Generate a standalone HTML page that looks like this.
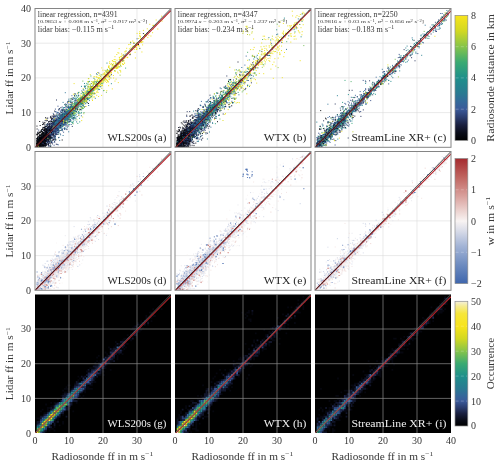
<!DOCTYPE html>
<html><head><meta charset="utf-8"><title>Lidar vs radiosonde wind speed</title>
<style>html,body{margin:0;padding:0;background:#fff}svg{display:block;will-change:transform}</style></head>
<body>
<svg width="500" height="465" viewBox="0 0 500 465" font-family="'Liberation Serif', 'DejaVu Serif', serif" fill="#363636">
<rect width="500" height="465" fill="#fff"/>
<defs>
<linearGradient id="g1" x1="0" y1="1" x2="0" y2="0"><stop offset="0" stop-color="#000000"/><stop offset="0.06" stop-color="#0a0c18"/><stop offset="0.125" stop-color="#1a2040"/><stop offset="0.19" stop-color="#2c3f72"/><stop offset="0.25" stop-color="#3b5a9a"/><stop offset="0.31" stop-color="#34699a"/><stop offset="0.375" stop-color="#2a7a92"/><stop offset="0.5" stop-color="#1f908b"/><stop offset="0.625" stop-color="#3aaa72"/><stop offset="0.75" stop-color="#86c44a"/><stop offset="0.875" stop-color="#d2d822"/><stop offset="1" stop-color="#f8e41c"/></linearGradient>
<linearGradient id="g2" x1="0" y1="1" x2="0" y2="0"><stop offset="0" stop-color="#3f66ad"/><stop offset="0.15" stop-color="#6e8cc0"/><stop offset="0.3" stop-color="#a3b4d6"/><stop offset="0.42" stop-color="#d8dbe8"/><stop offset="0.5" stop-color="#f8f3f2"/><stop offset="0.58" stop-color="#ecd3d0"/><stop offset="0.7" stop-color="#d9a09c"/><stop offset="0.85" stop-color="#c06560"/><stop offset="1" stop-color="#a52a2e"/></linearGradient>
<linearGradient id="g3" x1="0" y1="1" x2="0" y2="0"><stop offset="0" stop-color="#000000"/><stop offset="0.048" stop-color="#0a0c18"/><stop offset="0.1" stop-color="#1a2040"/><stop offset="0.152" stop-color="#2c3f72"/><stop offset="0.2" stop-color="#3b5a9a"/><stop offset="0.248" stop-color="#34699a"/><stop offset="0.3" stop-color="#2a7a92"/><stop offset="0.4" stop-color="#1f908b"/><stop offset="0.5" stop-color="#3aaa72"/><stop offset="0.6" stop-color="#86c44a"/><stop offset="0.7" stop-color="#d2d822"/><stop offset="0.8" stop-color="#f8e41c"/><stop offset="0.9" stop-color="#f6e63a"/><stop offset="0.96" stop-color="#f5eb90"/><stop offset="1" stop-color="#f4f0dc"/></linearGradient>
<clipPath id="c00"><rect x="35" y="8.5" width="136" height="138.8"/></clipPath>
<clipPath id="c01"><rect x="35" y="151.5" width="136" height="138.8"/></clipPath>
<clipPath id="c02"><rect x="35" y="294.3" width="136" height="138.8"/></clipPath>
<clipPath id="c10"><rect x="175" y="8.5" width="136" height="138.8"/></clipPath>
<clipPath id="c11"><rect x="175" y="151.5" width="136" height="138.8"/></clipPath>
<clipPath id="c12"><rect x="175" y="294.3" width="136" height="138.8"/></clipPath>
<clipPath id="c20"><rect x="315" y="8.5" width="136" height="138.8"/></clipPath>
<clipPath id="c21"><rect x="315" y="151.5" width="136" height="138.8"/></clipPath>
<clipPath id="c22"><rect x="315" y="294.3" width="136" height="138.8"/></clipPath>
</defs>
<g clip-path="url(#c00)">
<rect x="35" y="8.5" width="136" height="138.8" fill="#fff"/>
<path d="M69.00 8.50V147.30M35.00 112.60H171.00M103.00 8.50V147.30M35.00 77.90H171.00M137.00 8.50V147.30M35.00 43.20H171.00" stroke="#dcdcdc" stroke-width="0.6" fill="none"/>
<path d="M39 146.1h0m7.3-10.3h0m6-12.3h0m0.4 11.6h0m1.6-7.6h0m1.4 7.8h0m0.5-8.5h0m0.5-5.5h0m1.2 3.9h0m1 2h0m0.5-7.2h0m0.4 3.6h0m0.2 2.1h0m0.6-3.4h0m0.2 4.5h0m0.3-4.2h0m0.2-5.6h0m0.1 7.6h0m0.2-8.4h0m0.2-2.1h0m0.3 5h0m0.1 3.9h0m0.2-3.3h0m0.4-0.2h0m1.3-2.4h0m0 4.9h0m0.1-7.1h0m0-7.3h0m0.1 14.3h0m0.2-5.7h0m0.1-11.6h0m0.2 12.7h0m0.7 5.6h0m0.3-5.3h0m0.6-0.4h0m0.4-0.7h0m0.1 0.2h0m0.1-4.6h0m0 1.7h0m0.1 5.5h0m0-6.6h0m0.4 2.5h0m0 3.3h0m0.4-6.4h0m0.2 4.6h0m0.1 4.1h0m0.1-7.6h0m1.2 2.6h0m0.2-7.6h0m0.4 1.7h0m0 1.1h0m0.1-1.8h0m0.1 10.3h0m0-2.2h0m0.2-6.8h0m0.3-4.4h0m0.2 3.5h0m0.3 3.2h0m0.7-8.1h0m0 3.6h0m0.3 0.6h0m0.4-5.4h0m0.9 5.3h0m0.3 9.5h0m0.9-11.2h0m0.9 4.7h0m0.3-9.3h0m0.5 5.9h0m0.4-11.5h0m0.3 8.6h0m0.1 1.4h0m0.9-6.6h0m0.5-0.4h0m2.4-1.3h0m0.1 9.1h0m0.4 2.2h0m1.7-6.3h0m0-14.3h0m1.1 12h0m0.3-2.4h0m0.4 1.2h0m0.4-0.2h0m0.2 2h0m0-5.1h0m0.1 0.8h0m0.6 3.8h0m0.1-8.3h0m1.2 6.2h0m0.8-5.1h0m1.4-4.2h0m0.9 1h0" stroke="#278090" stroke-width="0.95" stroke-linecap="square" fill="none"/>
<path d="M36.7 146.1h0m4.4-6.8h0m19.2-15.9h0m1.8 1h0m0.4-5.9h0m3-5.9h0m0.5 2.3h0m0.7-3.9h0m0.8 10.6h0m0.3-7.2h0m0.1 3.6h0m0.5-3.6h0m0.2-2.2h0m2.4-1.7h0m0-2.8h0m0.6 6.6h0m1.7-5h0m0.5 8.1h0m2.6-13.2h0m0.1 0.6h0m0.7 4.8h0m1.9-10.9h0m1 3h0m0.8-4.9h0m1 6.4h0m9.3-14.3h0m0.3 7.6h0m0.2-7.9h0m1.7-5.6h0m1.2 4.1h0m0.3-0.1h0m0.5-2.8h0m0.7 0.5h0m1.1-10.1h0m4 0.1h0m3.3 5.1h0m2.9-10.4h0m1 6h0m1.8-6.2h0" stroke="#4db068" stroke-width="0.95" stroke-linecap="square" fill="none"/>
<path d="M52.5 125.4h0m1.1 3.8h0m0.2-5h0m0.4 5.2h0m3.8 1.3h0m0.1-7.6h0m0.2-0.2h0m0.4 0.9h0m0.2-1.8h0m0.2 15.3h0m0.9-20.5h0m0.9 4.2h0m0.1-0.8h0m1 3h0m0.5-11.9h0m0.6-3h0m0.4-0.5h0m0.1 14.1h0m0.3 0.1h0m0.3-6.8h0m1.1-1h0m1.1-2.1h0m0.2-2.7h0m0.4 12.8h0m0.3-8.2h0m0 13.3h0m0.5-11.4h0m0.2-4.4h0m0.2-0.3h0m0.3-0.2h0m0.2 2.6h0m0.1-1.6h0m0 3.9h0m0-5.6h0m0.2-2.7h0m0.2 4.3h0m1.3 9.7h0m0.8-8.4h0m0.1-0.4h0m0.1-1.5h0m0.9-2.7h0m0.1 4.6h0m0.3 9.4h0m0.1-19h0m0.7 7.7h0m0.8 6h0m0.1-14.4h0m0.3 2.2h0m0.1 0h0m0 1.3h0m0.8 4.9h0m0-13.2h0m0.1 13.1h0m0-2.9h0m0.2-2.4h0m0.6-10.3h0m0.4 10h0m1.2-3.2h0m0.7 0.2h0m0.4-0.3h0m0.4-3.3h0m0.6 4.7h0m0.6 0.1h0m0.1 9.5h0m0.3-13h0m0.2-13.9h0m0.1 15.4h0m0.3-1.6h0m0.8-0.6h0m0.2-3.5h0m1-3.5h0m0.3 5.8h0m0 0h0m0.4-11.5h0m1.4 9.2h0m0.9-4.2h0m0.3 5.9h0m0-7.2h0m0.2 8.3h0m0.5-7.2h0m0.1 7.2h0m2-6.4h0m0.6-6.6h0m1.4 8.1h0m0.2-0.6h0m0.9-5.8h0m1.6 6.2h0m6.1-17.6h0" stroke="#228a8d" stroke-width="0.95" stroke-linecap="square" fill="none"/>
<path d="M39.3 142.5h0m3.2-9.9h0m1.2 13h0m6.7-13.3h0m0.4-6.6h0m10.5-9.2h0m0.6 3.4h0m2.5-2h0m3.9 0.9h0m0.9-8.5h0m1.8 6.7h0m0.6-18.4h0m0.2 16.7h0m2.7-11h0m0.5 2h0m1.4-0.1h0m0.3 1.6h0m0.2 12h0m0.9-12.5h0m0.8-2.7h0m0.1-1.7h0m1.6 0.6h0m0.2-3.2h0m0.5 1.8h0m0.6 1.1h0m1 5.5h0m1.6-11.4h0m3.6-8.6h0m1.8 0.6h0m1.5-0.6h0m2.4-6.7h0m1.4-2.5h0m1.2 4.1h0m2.2 1.8h0m3.3-4.6h0m7.6-9.6h0m3.3-6.7h0m3.5-1.7h0m9.4-6.8h0m10.9-12.9h0m4.9-1h0" stroke="#99c940" stroke-width="0.95" stroke-linecap="square" fill="none"/>
<path d="M36.8 140.7h0m0.1 2.7h0m0.3-2.8h0m0.1 1.5h0m0.1 1.5h0m0-0.7h0m0.6-2.2h0m0 2h0m0.6-3.4h0m0.1 6h0m0.2-0.8h0m0-6.2h0m0.1 5.4h0m0.1 0.6h0m0.6-9.5h0m0.3 8.6h0m0.3-4.9h0m0.1-0.9h0m0 0.6h0m0 3.4h0m0.1 2.5h0m0.1 1.4h0m0.3-0.8h0m0.2-2.9h0m0.1-3.2h0m0 6.6h0m0-5.7h0m0 2.3h0m0.1 0.4h0m0.1-4.6h0m0.2 0.7h0m0.1 4h0m0 0.2h0m0.3-7.6h0m0 4.2h0m0.1-1.7h0m0 4.8h0m0.1-3.5h0m0.1 4.2h0m0-2.6h0m0-2.1h0m0.1-0.6h0m0 5.8h0m0.2-2.5h0m0.1 5.4h0m0-7.4h0m0-2.9h0m0.1 4.6h0m0-4.4h0m0.1-14h0m0 16.3h0m0.2-0.1h0m0-2.1h0m0 5.2h0m0-3.8h0m0.1-0.9h0m0-2.4h0m0.1-10.2h0m0 15.8h0m0-2h0m0.1 2h0m0.1 0.6h0m0-3h0m0-2.3h0m0.2-4.6h0m0 6.1h0m0.1 3.5h0m0.1-4.3h0m0.2-13.1h0m0 15.9h0m0-2.4h0m0 2.4h0m0.1 2.4h0m0 1.9h0m0.1-3.4h0m0.1-6.4h0m0 4h0m0-0.6h0m0-9.4h0m0.1 15.9h0m0.1-8.5h0m0 7.1h0m0.1-3.6h0m0 2.8h0m0.1-4.8h0m0.1 4.2h0m0 0.7h0m0-8.3h0m0.1 7.2h0m0 3.6h0m0-14.1h0m0-4.3h0m0 9.9h0m0 0.1h0m0.1 1.5h0m0 5.6h0m0.1-8h0m0.1 0.9h0m0.1 1.4h0m0-2.8h0m0.1-0.3h0m0 7.3h0m0 1.5h0m0.1-9h0m0 7.1h0m0-0.6h0m0 0.7h0m0.2-14.1h0m0 11.9h0m0 6.8h0m0.1-12.4h0m0.1 4.8h0m0.1 8h0m0-13.9h0m0.1 3.4h0m0 3.5h0m0.1-3.6h0m0 5.6h0m0.1-10.6h0m0 8.9h0m0.1-3.7h0m0-0.8h0m0 2.2h0m0.1-4.4h0m0 5.3h0m0-3h0m0.1-3.9h0m0-0.5h0m0 3.3h0m0.1 3.1h0m0 0.8h0m0-6.6h0m0-0.8h0m0.1 8.2h0m0 0.6h0m0.1-4.5h0m0.1 0.3h0m0 1.5h0m0-1.2h0m0.1-0.4h0m0-3.8h0m0-0.1h0m0.1 7.6h0m0-7.7h0m0.1-6.3h0m0 9.5h0m0.1 8.5h0m0-6h0m0.1 3.4h0m0-6.3h0m0-5.3h0m0-4h0m0 17.8h0m0-1h0m0.1-5.3h0m0-1.9h0m0 2.6h0m0.1-0.3h0m0 4.5h0m0-6.8h0m0-1.7h0m0.2 3.8h0m0-4.6h0m0 3.5h0m0.1 1.9h0m0 8.6h0m0-11h0m0 5.6h0m0.1-3.9h0m0-7.2h0m0.1 0.8h0m0.1 14.5h0m0-5h0m0.1 5.1h0m0.1-7.3h0m0-1.3h0m0 0.4h0m0.1 1.1h0m0-6.8h0m0-2.6h0m0.1 3.4h0m0 0.3h0m0.1 7.3h0m0-6.7h0m0-4.9h0m0.1-3.3h0m0.1 6.8h0m0-4h0m0.2 6.8h0m0 3.7h0m0-3.1h0m0.2-7.3h0m0.1 10.5h0m0-0.8h0m0-1.5h0m0.1 7.6h0m0-7.7h0m0.2 0h0m0 0.6h0m0-0.3h0m0-3.2h0m0-2.4h0m0.1 3.5h0m0.1 1.6h0m0.1-10.3h0m0.1 21.1h0m0-6.8h0m0-4.1h0m0.1-2.8h0m0.1 6.9h0m0-0.4h0m0-7.1h0m0.1 9.6h0m0-9.1h0m0 11.9h0m0.1-11.7h0m0-2h0m0.1-2.2h0m0.1 5.9h0m0-6.2h0m0 14.9h0m0-10.6h0m0 1.7h0m0-4.7h0m0 2.5h0m0.1 3.2h0m0-5.3h0m0.2-11h0m0.1 8.9h0m0 0.2h0m0 3.9h0m0-1.1h0m0.1 3.2h0m0.1-1.9h0m0-9.3h0m0 13.1h0m0-3.3h0m0.1 2.9h0m0-10.8h0m0 19.4h0m0.1-19.3h0m0.1 17.7h0m0.1-13.3h0m0 0.7h0m0 3.3h0m0.3 5.5h0m0 2.7h0m0-7.6h0m0.2 2.6h0m0.1-1h0m0.1-7.5h0m0 3.2h0m0.1 4.5h0m0.1-5.7h0m0 2.6h0m0.1-5.2h0m0.2-4.6h0m0 3.6h0m0.1 2.9h0m0 11.5h0m0.1-17.3h0m0 1.8h0m0.1 3.8h0m0 0.1h0m0 1.7h0m0.2-3.2h0m0 0.9h0m0-6.5h0m0 5.8h0m0-1.1h0m0 9h0m0.1-8.8h0m0.1 6.2h0m0-17.3h0m0.1 3.3h0m0.2 8.1h0m0-0.6h0m0.2-0.6h0m0 2h0m0-3h0m0 0.3h0m0.3 0h0m0.1-7.3h0m0 9.7h0m0-3.5h0m0.2 5.9h0m0-5.5h0m0 3.9h0m0.1 4.5h0m0.1-3.4h0m0.1 2.9h0m0 5.3h0m0.1-9.1h0m0.5-2.4h0m0.1 2h0m0.1 4.4h0m0-3h0m0.1-1.9h0m0.2-3.6h0m0.1 6h0m0.3-1.5h0m0.2-2.7h0m0-2.6h0m0.2 2.9h0m0.2-3.5h0m0.1 3.6h0m0.7-4h0m0 3h0m0.1-1.1h0m0.1-0.7h0m0.1 2.8h0m0.2-0.2h0m0 0.3h0m0.4-15.4h0m0 12.8h0m0.1 1.8h0m0.4-9.3h0m0.1 3.5h0m0.2 4.8h0m0-10h0m0 8.5h0m0.3 1.3h0m0.8-8.1h0m0.4 5.6h0m0.1 0.8h0m0.1-1.3h0m0.1 0.9h0m0.1-1.8h0m0.3-2.8h0m0 2.3h0m0.2 5.1h0m0.1-3.9h0m0.3-9.6h0m0.6-0.4h0m0.6 11.3h0m0-3.8h0m0.3-2.4h0m0.4 3h0m0.7-4.2h0m0.2-9.8h0m0.5 8h0m1.2 2.1h0m0.2 1.4h0m0-1.7h0m2.4 1.7h0m2.7-16.3h0m0 11.6h0m2.4-2.3h0m0.6-7.7h0m6.1-1h0m9.5-12.5h0" stroke="#12162d" stroke-width="0.95" stroke-linecap="square" fill="none"/>
<path d="M41.7 137.9h0m0.6-5.7h0m3.8-12.8h0m0.8 15h0m13.5-17.8h0m3.2 9.4h0m1.2-4.1h0m0.1-10.4h0m3 4.4h0m0.7-1.6h0m0.7 1.4h0m1.3-6h0m0.5-2.6h0m2.3-12.9h0m1.4 14.6h0m0.6-4.3h0m0.8-0.2h0m1.2 2.3h0m0.1-0.7h0m0.1-12.7h0m0.3 10.3h0m0.1 5.9h0m0.2-4.8h0m0.2-8.8h0m0.2 8.2h0m0.5-2.6h0m0.3 3.3h0m0.4-5.5h0m0.1-1h0m0.9 5.1h0m0.2 2.8h0m0.5-8h0m0.2 22.5h0m0.7-28.8h0m0.3 0.4h0m0.4 15.4h0m0.2-18.9h0m0.1 5.2h0m0.1 0.1h0m0.1 3.3h0m0.4 0.6h0m0.1 3.4h0m0.5-5.3h0m0.7-4.9h0m0.6 1.5h0m0.5 0.5h0m0.8-0.5h0m0.3 6h0m0.1-6.3h0m0.2 4.9h0m0.3-14.3h0m0.3 7.4h0m0.4-3.2h0m0-8.5h0m0.2 11h0m0 1h0m1-1h0m0.1 4.6h0m0.1-7.3h0m0.1 2.9h0m0-15.1h0m0.1 10.3h0m0.1 12.4h0m0-2.4h0m0.4 0h0m0.2-3.2h0m0.2 2.2h0m0.3-12.4h0m0.4 6h0m0.5 12.9h0m0.2-17.7h0m0 7.3h0m0.2-3h0m0 3.3h0m0.2-1.9h0m0.2-1.5h0m0.1 6.8h0m0.1-11.7h0m0.2 1.3h0m0.2 10.2h0m0 3.5h0m0.3-9.1h0m1.1 1.1h0m0.1-0.3h0m0.2 4.5h0m0.6-6.4h0m0.1-1.8h0m0.2-0.9h0m0.2 11.1h0m0.2-18.2h0m0 15.2h0m0.2-11.6h0m0.1 7.3h0m0.2 2.1h0m0-5.9h0m0.3-2.8h0m0 6h0m0.3-6.1h0m0.3 2.3h0m0 3.1h0m0.3-8.8h0m0 18.6h0m0.6-19.1h0m0.3 5.4h0m0-2.4h0m0.1 1.3h0m0.1-7.8h0m0 7h0m0.7 2.7h0m0.1-7.2h0m0.1 5.3h0m0.1-3.4h0m0.1 6h0m0.4 1.2h0m0-5.6h0m0.4 15.5h0m0-14.9h0m0.4-0.4h0m0.1 0.5h0m0 5.2h0m0.2-4.2h0m0.1 4h0m1.1-8.6h0m0.3 5.1h0m0-0.9h0m0.1-7h0m0.1-0.8h0m0.2 17h0m0.1-15.5h0m0.2 3.6h0m0.1 1.7h0m0.2-7.8h0m0.1-2.1h0m0.3 9.1h0m0.1-2.2h0m0 1.4h0m0.3-2h0m0-0.8h0m0-0.7h0m0.2-3.7h0m0.4 8.5h0m0.3-8.6h0m0.2 5.1h0m0 6.1h0m0-10.1h0m0.4 4.2h0m0-1.5h0m0.1-1.2h0m0.3 1.3h0m0-2.3h0m0.1 0h0m0.1 8.7h0m0.1-4.4h0m0.3-6h0m0.1 1h0m0.3-5.2h0m0 14.9h0m0.1-4.9h0m0.1-4.8h0m0.1-5.6h0m0.2 0.5h0m0-1.4h0m0.1 7.2h0m0.6-0.1h0m0.4 2.2h0m0-1.9h0m0.1 2.2h0m0.6-11h0m0 6.5h0m0-2.4h0m0.8-4.7h0m0.2 6.8h0m0.2-4.5h0m0.2 3.2h0m0.2-0.3h0m0.4 0.6h0m0.1-3.7h0m0.1-0.8h0m0.4 2.5h0m0.2 10.5h0m0-14.2h0m1.4-7.1h0m0.1 5.1h0m0 4h0m0.1 1.5h0m0.6 0.5h0m0.2-0.9h0m0 1.5h0m0.5-4.2h0m0.2 3.8h0m0.3-1.3h0m0-6.5h0m0.4 5.8h0m0.2 6.1h0m0.1-8.7h0m0 4.9h0m0.2-0.6h0m0-2.5h0m0.3 7.9h0m0.1 9.5h0m0.5-29.5h0m0.3-4.5h0m0.2 14h0m0-3.1h0m0.4-1.6h0m0.5 1.9h0m0.5 3h0m0.1-3.3h0m0.2-3h0m0.3 9.8h0m0.3-12.4h0m0.5 1.8h0m0.2 3.8h0m0.2 4.4h0m0-2.8h0m0.3-1.4h0m0.5-3.9h0m0 5.1h0m0.8-0.1h0m0.5 2.3h0m0.1-6.4h0m2.8 0.9h0m2.2-2.7h0m0.6-1.2h0m2.1-7.4h0m0.2 3.3h0m1.1-3.7h0m0.1-3.1h0m1.5 4.5h0m0.7-2.2h0m0.3-0.6h0m0.3 5h0m0-2.4h0m0.4 1.9h0m0.1-15.6h0m0 10.1h0m2.5-9.8h0m0.2 14.4h0m0.6-11.9h0m0.4 6.1h0m0.5 0.2h0m0.3-3.8h0m0.1 2.4h0m0.2 10.9h0m0.3-10.1h0m0.4 3h0m1.1-11.3h0m0.9 1.2h0m0.5 0.9h0m1.3 0h0m1.4 1.7h0m1.3-7h0m0.7-6.1h0m3.1 1.1h0m0.6 0h0m2.2-0.6h0m3.1-3h0m2.8-5.6h0" stroke="#eee11e" stroke-width="0.95" stroke-linecap="square" fill="none"/>
<path d="M37.8 142h0m8.1-5.5h0m0.6 1.9h0m0.1-3.4h0m0.3 3.2h0m0.8-2.5h0m0.7 0.2h0m0.7 6.9h0m0.3-7h0m0.2-4.9h0m0.1 3.8h0m0.1-0.1h0m0.4-4h0m0.7 1.1h0m1.6-0.3h0m0.1-4.1h0m0.1-2.3h0m0.1 17.6h0m0.1-4.3h0m0.1-13.9h0m0.3-10.8h0m0 15.5h0m0.4-2h0m0.5 0.3h0m0.2 1.8h0m0.3-1.6h0m0-6.8h0m0.2 6.7h0m0.3-5.9h0m0.1 15.8h0m0-10h0m0.6-7.9h0m0.6 14.4h0m0.1-9.8h0m0.1 5.8h0m0.3-3h0m0.1-9.4h0m0.2 7.4h0m0.3-8.4h0m0 9.3h0m0.2 2.4h0m0.1-2.7h0m0 1.7h0m0.2-14.3h0m0.1 31.9h0m0-20.3h0m0.6 5.7h0m0-8.9h0m0.1 11.6h0m0-17h0m0.2 10.7h0m0-7.1h0m0.4 3.6h0m0.1 4.6h0m0-6.9h0m0 4.3h0m0.1-3.6h0m0 6h0m0.1-1.1h0m0.1-2h0m0-2.3h0m0.1-0.7h0m0.1 5.4h0m0 0.8h0m0.2-5.6h0m0.5 0.4h0m0.1-0.8h0m0.2-6.1h0m0 8.5h0m0.1-3.2h0m0.1 4.4h0m0.1-8h0m0 2.3h0m0.1 0.8h0m0.1-2.5h0m0-6.8h0m0.1 7.8h0m0 0.9h0m0.2-10.4h0m0.2 12.8h0m0.2 7.1h0m0.1-6.2h0m0.1 3.6h0m0-4.4h0m0.3 4.3h0m0.1-4.4h0m0.2-5.7h0m0 7.9h0m0.1-7.5h0m0.3 2.3h0m0.2-9.2h0m0.1 9.4h0m0.2-5.6h0m0.1 1.2h0m0.2 4.2h0m0.5-2h0m0-1.4h0m0.4 9.3h0m0.2-6.2h0m0.1-4.1h0m0.1-2.3h0m0 11.9h0m0.1-6.7h0m0.4-6.8h0m0.1 9.7h0m0.2-1.5h0m0.1 4.1h0m0.1-11.6h0m0 0h0m0.1 4.2h0m0.4 7h0m0.1-5.8h0m0.4-5.1h0m0.1 2.9h0m0-0.8h0m0.1-1.3h0m0-5.3h0m0.5 9.2h0m0.1 0.7h0m0.9-3.9h0m0.5-1h0m0.4 0.6h0m0.2 2.4h0m0.4-4.9h0m0.3 4.9h0m0-8.9h0m0 8.8h0m0.1 9.3h0m0.1-18.6h0m0.6-10.2h0m0 13.9h0m0.3 2.2h0m0.2-5h0m0.7 0.6h0m0.8 0.2h0m0.1 3.4h0m1.8 7.3h0m1.5-15.1h0m0.3 5.5h0m1.3-9.1h0m0.2 14.1h0m0.1-9.2h0m1-1h0m0.6 5.9h0m0.9-11.1h0m0.5 2.5h0m0.1-1.1h0m0.7-2.4h0m0.9-1h0m1.7-0.1h0" stroke="#37629a" stroke-width="0.95" stroke-linecap="square" fill="none"/>
<path d="M38.7 130.1h0m2.8 6h0m0.9-5h0m2.8 6.9h0m1.4-9.5h0m0.1 15.3h0m0.4-8.9h0m0.2 1.4h0m1.3 0.4h0m0.3 4.5h0m0.9-6.4h0m0 0.1h0m0.2 2.2h0m0.1-10.5h0m0.3 4.3h0m0.1 2.8h0m0.3 1.9h0m0.2-1.2h0m0.1 3.6h0m0.3-7.1h0m0.2 3.3h0m0-8.7h0m0 16.2h0m0.1-11.4h0m0 10.8h0m0.1-9.9h0m0.1 6.9h0m0.4-9.5h0m0.1-1.3h0m0 0.3h0m0.2 0.1h0m0-0.7h0m0.2-0.1h0m0 2.9h0m0-3.4h0m0 3.6h0m0.1 7.6h0m0-6.5h0m0.1-5.7h0m0 3.6h0m0.1-4.4h0m0 1.8h0m0.1-0.3h0m0 9h0m0.1-14.7h0m0 2.7h0m0.2 1.9h0m0.2 2.9h0m0 3h0m0.1-14.4h0m0 12h0m0.1 0.9h0m0.1-1.9h0m0.1-2.2h0m0 19.9h0m0.3-19.3h0m0.1 3.6h0m0 1.1h0m0-5.7h0m0.2 0.5h0m0.1 2.3h0m0.1-8.8h0m0.1 11.8h0m0.1 1.6h0m0.2-1h0m0-5.9h0m0.1-2.5h0m0.1 2.2h0m0.1 1.4h0m0.1 1.2h0m0.2 3.6h0m0.1-16.2h0m0 5.2h0m0 7h0m0.1 0.1h0m0.1-3.4h0m0.1 4.3h0m0.1-1.1h0m0.1-3.9h0m0.1 9.6h0m0-6.2h0m0.1-7.2h0m0 3.8h0m0 2.1h0m0-12.3h0m0.1 11.4h0m0.1 0.8h0m0.1 2.8h0m0.1 1.3h0m0-0.8h0m0.2-2.3h0m0.2 3.9h0m0.1-4.8h0m0.1 1.6h0m0.1-4.8h0m0 5.9h0m0.2-2.8h0m0-19.1h0m0.4 20.3h0m0.2-2.8h0m0-4.5h0m0.1 10.8h0m0-9.8h0m0.1 0h0m0 1.1h0m0.1 4.3h0m0.1-2.5h0m0 2.7h0m0.1-4.9h0m0.1 0.4h0m0.1 3.3h0m0-0.3h0m0.1-3.5h0m0 0.2h0m0.1 5.7h0m0 0.6h0m0.1-5.4h0m0.3-0.6h0m0.1-5.1h0m0 2.4h0m0.5-1.9h0m0 4.1h0m0 4.5h0m0.2-3.2h0m0.1 4.8h0m0-5h0m0.1 1.6h0m0-5.3h0m0.1-5.7h0m0.2 8.8h0m0.1-1.8h0m0.2-2h0m0 8.4h0m0.1-0.9h0m0-4.4h0m0-1.6h0m0.1 1.8h0m0 3.3h0m0.1-4.9h0m0.1 5.8h0m0-4.8h0m0.3 2.8h0m0-7.6h0m0.1-2.7h0m0 7.1h0m0.9-3.7h0m0 1h0m0-3.1h0m0.3 6.1h0m0 1h0m0.1-6.5h0m0 17.6h0m0.6-17.3h0m0.1 6.6h0m0-6.2h0m0-1.1h0m0.1 6.2h0m0.1 3.7h0m0.1-5.6h0m0.6-4.7h0m0.1-2.5h0m0.4 7h0m0.1-2.2h0m0.1-9.1h0m0 2.1h0m0.1 10.4h0m0.6 5.3h0m0.1-8h0m0.2-2.5h0m0 1.3h0m0.4 3.4h0m0.1-0.6h0m0.2-16.3h0m0.3 14.8h0m0.2-9.3h0m0.1 5.4h0m0-5.7h0m0.1 6h0m0.1 8.5h0m0.2-3.1h0m0 7.3h0m0.1-7.9h0m0.1-14h0m0 7.1h0m0.6-4.1h0m0.5 3.1h0m0.4 0.5h0m0.1-0.6h0m0 4.5h0m0.3-6h0m0.2 8h0m0.3-16.7h0m0 14.5h0m0.1-3.5h0m0.3 2.3h0m0.4-14.9h0m0.2 9.3h0m0.8 4.3h0m0.5-4.7h0m0.5 11.3h0m0.9-22.6h0m0.8 13.9h0m0.1-5.5h0m0.3 1h0m1.2-1.4h0m1.5 11.4h0m1.3-14.9h0m0.7 1.7h0m2.2-3.4h0m5.4-5.7h0m4.9-4h0m0.7 0.3h0m4.7-16.4h0m12.8 1.8h0" stroke="#334c85" stroke-width="0.95" stroke-linecap="square" fill="none"/>
<path d="M42.3 143.4h0m13.5-4.1h0m1-24.6h0m2.2 7.9h0m7.4-3h0m2.7-7.8h0m1.2-1.9h0m1.7 2.2h0m0.6 0.6h0m1.2-3.2h0m0.1 3.2h0m0.1-7.9h0m0.3-0.8h0m1.2 1.2h0m0.3 5.7h0m0.5 1.5h0m2.4-8.7h0m0.4-11.4h0m0.1 9.7h0m0.8-3.6h0m2.4 2.7h0m1.1-4.3h0m1.1 1.2h0m0.5-2.2h0m1 5.6h0m0.5-1h0m1.3-11.2h0m1 8.1h0m0.5-6.6h0m2.1 3h0m3.1-6.7h0m1.1-2.2h0m1-0.2h0m2.6-5.6h0m5.6-2h0m1.5 15.3h0m8.3-21.8h0m5.9-4.9h0m14.5-19.9h0" stroke="#73be54" stroke-width="0.95" stroke-linecap="square" fill="none"/>
<path d="M39.1 143.8h0m2.2-3h0m5.3-7.5h0m12.3-2.2h0m0.7-7.1h0m0.5 4.4h0m0.2-7.7h0m0.6-6.8h0m0 10.6h0m0.4-0.2h0m0.1-4.7h0m0 0h0m0.6-1.4h0m0.4-0.5h0m0.7-1.4h0m0.6 1.4h0m0.6 2.1h0m0.2-5.8h0m0.5 1h0m0.7 0.5h0m1.2-0.9h0m0.2 4.5h0m0.1-5h0m1-1.2h0m0.4-6.6h0m1.6 9.4h0m0.3-4.5h0m0-1.5h0m0 5.6h0m0.1-14.3h0m0.7 6.1h0m0.8 15.2h0m0.6-18.3h0m0.7 4.3h0m0.5-2.2h0m0.1 5.8h0m0 0.7h0m0.9-2.9h0m0.8-2.1h0m0.1 10.3h0m0-11.5h0m0.1-0.1h0m0.6-7.5h0m0.1 8.5h0m0-2.8h0m0 0.6h0m1.7-3.5h0m0.3-6.2h0m0.1 17.8h0m0.6-4.1h0m0.4 12.8h0m0.5-20.5h0m1.2 3.2h0m2.3-9.3h0m1.4-9.5h0m1.9 17.1h0m0.1-11.7h0m0.6 7.9h0m1.8-3.5h0m0.8-7.2h0m3.2-3.6h0m3.1 1.1h0m0.3 0.9h0m4-5h0m11-12.6h0m7.9-2.4h0" stroke="#269685" stroke-width="0.95" stroke-linecap="square" fill="none"/>
<path d="M37.6 132.2h0m1 13.5h0m0.7-0.6h0m0.4-1.3h0m1.6-13.5h0m1.5 9.9h0m0.1 4h0m0.2-3.6h0m0.3-5.1h0m0.4 5.3h0m0.4-3.9h0m0.3 4.1h0m0.1-5.3h0m0.1 0.7h0m0.3 6.8h0m0.1-5.5h0m0.1-0.4h0m0.1-2.2h0m0.2-4.1h0m0.1 10.5h0m0-8.2h0m0.3 4.2h0m0.4 4.5h0m0-2h0m0.1-8.8h0m0 1.6h0m0.1-0.2h0m0 4h0m0-7.3h0m0.3 9.6h0m0.1-3.5h0m0-1.6h0m0.2 9.9h0m0-7.2h0m0 0.7h0m0.1-3.9h0m0 2.7h0m0-1.1h0m0 6.6h0m0.1-12.9h0m0.1 8.2h0m0 1.1h0m0-8.3h0m0 4.4h0m0 0.1h0m0.1-1.5h0m0 0.4h0m0 9h0m0.4 0.1h0m0-11.1h0m0-1.1h0m0.3-3.4h0m0 4.2h0m0.1 1.2h0m0.2 13.7h0m0-23.5h0m0 2.6h0m0.1 7.7h0m0 9h0m0.3-3h0m0-0.2h0m0.1 1.6h0m0.1-9.2h0m0-4.4h0m0.3 7.7h0m0 1h0m0-1.6h0m0.1 4.6h0m0-4.8h0m0-0.7h0m0.1 10.9h0m0.1-8.1h0m0 0.8h0m0-1.7h0m0.1-9.8h0m0.1 2.9h0m0 4.1h0m0.1-8.2h0m0 7.9h0m0.1-1.7h0m0 4.5h0m0.2-2.5h0m0-4.1h0m0 6.5h0m0.1-7h0m0 6.9h0m0.2-0.8h0m0 0.6h0m0 4.1h0m0-2.6h0m0-2.7h0m0.1-2.7h0m0 2.9h0m0.2 2.1h0m0-1.9h0m0 0.5h0m0-8.5h0m0.1 12h0m0-5.5h0m0.3-2.3h0m0 3.3h0m0.1-2.2h0m0.1-1.7h0m0 14.1h0m0.1-8.7h0m0-4.7h0m0 0.1h0m0-9.7h0m0.2 2h0m0.1 5.5h0m0 3.8h0m0.1-0.8h0m0 1.2h0m0.1 3.3h0m0-3.3h0m0 1.1h0m0.4-1.9h0m0 13.5h0m0-11.1h0m0.1-5.9h0m0 2.6h0m0.1-4.5h0m0 1.2h0m0.2 6.4h0m0-8.8h0m0.1 10.2h0m0-10.5h0m0.1 6.6h0m0-1.1h0m0-4.8h0m0.2 7.6h0m0.1-6.5h0m0 4.3h0m0-5.7h0m0 2.7h0m0.2-3.7h0m0 0.5h0m0 9.4h0m0-1.8h0m0.1-1.6h0m0-2.5h0m0-0.7h0m0.1-6.1h0m0.1 6.8h0m0.1 3.2h0m0.1-11h0m0 8.2h0m0.1 10.5h0m0.1 1.1h0m0-19h0m0.1 6.5h0m0-1.4h0m0.1-1.8h0m0.1 18.4h0m0-17.6h0m0.1 5.7h0m0.3-4.5h0m0 5.6h0m0 0.9h0m0-6.2h0m0 14h0m0.1-16.6h0m0.1 5.7h0m0.1-8.2h0m0 10.1h0m0.1 4h0m0-6.6h0m0-11.1h0m0 7.5h0m0.2 9.2h0m0-9.8h0m0.1-1h0m0 8h0m0.2-3.6h0m0 1.9h0m0.1-13.2h0m0.1 12.3h0m0-7.2h0m0.1-4.7h0m0.1 18.2h0m0.1-9.3h0m0 2.3h0m0.1-0.6h0m0-26.8h0m0 24.5h0m0.1-5.1h0m0.1 12.5h0m0-11.3h0m0.1 5.7h0m0 1.9h0m0 6.1h0m0.1-9.7h0m0.2 1.4h0m0.1-7.1h0m0.1 6.7h0m0.2 1.4h0m0.1-1h0m0.1-5.3h0m0 1.2h0m0.3-2.8h0m0.2 3.5h0m0 0.6h0m0.1 6.1h0m0-6.1h0m0.1 5.8h0m0-6.8h0m0.2 10.3h0m0 5.2h0m0-12.2h0m0.1-1h0m0.4 3.6h0m0.1-4.1h0m0.2-9.9h0m0.1 7.9h0m0 0.4h0m0.3 1.3h0m0.1 2.1h0m0-8.9h0m0 8.5h0m0-1.7h0m0-4.9h0m0.2-0.8h0m0.1 2.7h0m0.1-0.3h0m0-0.6h0m0.1-1.3h0m0.1 3.3h0m0 1.4h0m0.1 2.3h0m0-0.5h0m0.1-3.6h0m0.3-1.2h0m0.2 1.4h0m0-1.2h0m0.1-4.4h0m0 7.7h0m0.1-11.3h0m0.1 10h0m0.1-5.5h0m0.2 1h0m0 4.9h0m0.3-2h0m0.4 2h0m0.1-8.3h0m0.1 3h0m0.2 1.1h0m0.1 2.3h0m0.2-9h0m0 5.1h0m0.2 0.7h0m0.5 0.4h0m0.1 3.8h0m0-4.8h0m0.4 4.5h0m0.1-1h0m0.1-6h0m0.2 8.9h0m0-3.8h0m0.2-6h0m0 8.1h0m0.1 0.2h0m0-1.8h0m0.1-2.2h0m0.8-6.6h0m0.4 8.5h0m0.5 9.7h0m0.5-15.6h0m0 2.3h0m0.1 3.8h0m0.6-8.4h0m0.7 6h0m0.2-9.5h0m0.1 9.5h0m0.6 2h0m1.8-7.9h0m0.4-2.1h0m0.4 16.7h0m0.3-12.8h0m1.5-4.5h0m0.8-1h0m1.3-3.9h0m4.5-2.7h0m0.3-2.8h0m3.7-3.8h0m5.2-2.6h0" stroke="#232f58" stroke-width="0.95" stroke-linecap="square" fill="none"/>
<path d="M43 145.5h0m1.8-3.3h0m0.8-5.5h0m0.3-2.4h0m6.2-7.2h0m2.4-8.3h0m8.3-3.1h0m1.5 1.9h0m5.2-3.7h0m3.2-4.2h0m0.2 3.8h0m0-7.6h0m7-7h0m2-2.3h0m2.3 4.9h0m0.7-3.4h0m1.8-0.3h0m3.3-7h0m1.1 5.6h0m0-9.4h0m0.9 0.8h0m1.2 6.1h0m0.5-10.6h0m6-2.8h0m7.7-9.8h0m0.3-0.3h0m0.8 3.1h0m0.2-2.9h0m7.2-4.9h0m0.5-0.7h0" stroke="#dcdb20" stroke-width="0.95" stroke-linecap="square" fill="none"/>
<path d="M36.7 146.2h0m0.1-7.5h0m0 7.4h0m0-2h0m0.1 0.1h0m0.1-5.8h0m0 7.8h0m0.1-17.2h0m0 12.2h0m0 1.7h0m0 0.4h0m0 3h0m0.1-4.9h0m0-6.5h0m0-0.4h0m0 0.4h0m0.1 11h0m0.1-2.4h0m0-1.7h0m0.1 3.8h0m0.2-12.6h0m0 4.9h0m0 4.8h0m0-4.3h0m0.1 1.2h0m0 6.9h0m0-6.5h0m0-2.1h0m0.1 8.2h0m0-3.1h0m0 0.4h0m0 2.4h0m0 1h0m0-1.2h0m0.1-1.5h0m0-6h0m0.1-4.7h0m0 10.7h0m0-7.3h0m0 4.3h0m0-4.8h0m0.1 9.8h0m0 0.2h0m0-7.1h0m0 1.4h0m0.1 1.8h0m0-3.3h0m0.1 1.2h0m0-3.4h0m0 2.4h0m0 3.1h0m0.1-9.1h0m0 10.6h0m0.1-3.3h0m0 5.9h0m0-2.8h0m0 1.7h0m0.1-3.1h0m0 3.5h0m0.1-1.7h0m0-5.1h0m0.1 7.4h0m0-5.2h0m0.1-0.8h0m0 4.6h0m0.1-3.8h0m0-2h0m0 0.5h0m0 6.9h0m0-6.1h0m0.1 4.2h0m0.1-0.2h0m0-9.4h0m0.1 8.1h0m0-2.6h0m0 1.9h0m0.2 4.1h0m0-10.8h0m0 5h0m0 3.9h0m0.1-23.2h0m0 24.6h0m0-5.2h0m0 3.9h0m0 1.5h0m0-1.8h0m0-7.9h0m0-1.2h0m0.1 5.6h0m0-2.8h0m0 4.1h0m0.1 2.2h0m0-5.4h0m0.1 1.3h0m0.1-8.5h0m0 12.3h0m0-4.6h0m0.1-4.2h0m0-9.9h0m0 20.2h0m0-1h0m0.1-5h0m0 5.4h0m0-0.4h0m0-5.6h0m0.1 5.4h0m0-2h0m0.1 0.4h0m0-5h0m0 2.8h0m0 2.7h0m0.2-8h0m0 8.1h0m0-1h0m0.1-0.9h0m0 1h0m0 3.5h0m0.1-8.1h0m0 5.9h0m0-8.1h0m0.1 1.4h0m0 3.4h0m0.1 2.7h0m0-4.9h0m0 5.4h0m0-7.6h0m0 3.5h0m0.1-1.8h0m0.1 2h0m0 1.3h0m0 1.7h0m0-1h0m0-2.4h0m0 1.2h0m0-5.5h0m0.1 3.7h0m0.1-0.8h0m0-0.1h0m0 3.7h0m0-12h0m0 1.7h0m0 9.7h0m0.1 1.8h0m0 3.4h0m0-9.2h0m0 4.7h0m0.1 4.8h0m0-2.7h0m0.1-2.6h0m0-4.4h0m0-3.4h0m0 1.4h0m0.1 1.6h0m0 2.3h0m0-4.2h0m0 11.6h0m0.1-4.6h0m0 1.7h0m0-4.9h0m0.1 4.1h0m0-0.9h0m0-2.1h0m0-1.9h0m0.1-0.3h0m0-5.5h0m0.1 9.7h0m0.1 2.4h0m0-5.7h0m0 7.6h0m0.1-0.9h0m0-5.5h0m0-1.2h0m0-3.8h0m0.1 4.9h0m0 2.1h0m0-12.1h0m0.1 9.9h0m0 3.5h0m0-8.9h0m0.1 8.7h0m0-2.3h0m0 2.9h0m0.1 1.9h0m0-1.7h0m0-5.9h0m0-8.1h0m0.1 6.4h0m0-8.3h0m0 5.3h0m0.1 13h0m0-1.1h0m0-7.3h0m0.1-0.3h0m0 5.4h0m0.1 3.3h0m0-1.7h0m0 2.7h0m0.1-4.6h0m0-4.7h0m0 5.3h0m0.1-18.9h0m0 9.1h0m0 12.7h0m0.1-4.7h0m0-3.3h0m0.1-0.2h0m0.1-0.8h0m0 2h0m0.1-1.6h0m0.1-6.5h0m0 4.5h0m0.1 7.8h0m0-3.6h0m0.3-1.9h0m0 6.2h0m0-8.6h0m0 0.7h0m0.1 8.4h0m0-6h0m0-4.4h0m0 3.3h0m0.1 5.2h0m0-4.6h0m0.1 7h0m0-9.3h0m0.1-1.2h0m0 2.7h0m0-12.6h0m0.1 21h0m0-14.6h0m0 9.2h0m0.2 0.5h0m0-5.1h0m0-3.3h0m0 5.6h0m0 1.2h0m0.2 0.3h0m0 6.5h0m0-8.1h0m0.1 1.7h0m0-3.7h0m0.1-17.5h0m0 13.5h0m0 3.6h0m0 3.2h0m0 3.1h0m0.1 4.9h0m0-5.8h0m0.2-7.2h0m0.2 5.3h0m0.1-11.7h0m0.1 10.6h0m0.1-5.7h0m0.2 2.9h0m0.2 2.5h0m0.2-3.5h0m0 0.1h0m0.1-0.3h0m0.1 2.8h0m0.1-2.5h0m0.1 5.7h0m0-19h0m0 10h0m0.1 6.7h0m0.1-4h0m0 4h0m0.1-4.3h0m0.2 0.4h0m0.1-2.2h0m0 2.9h0m0 8.5h0m0.3-2.5h0m0-4.7h0m0.1 1.4h0m0.3-2h0m0.2 1.2h0m0.3 1.7h0m0.1-11.2h0m0.4 8.6h0m0.5-7h0m0.1 4.9h0m0.4 13.9h0m0.1-13.4h0m0.1-0.6h0m0.1-0.1h0m0.1-5.7h0m0 0.2h0m0.1 2h0m0.7 3.1h0m0.1-5.8h0m1.1 7.5h0m0.5-0.5h0m0.5-17.8h0m1.1 6.6h0m0.2-1.6h0m0.5 19.5h0m1.2-14.1h0m5.2 14.1h0m2.5-29.9h0m1.6-0.8h0m0.4 5.8h0m1.3-3.1h0m0.6-10.8h0m5.9 6.8h0m16.8-21.2h0m6.1-1.2h0" stroke="#05060c" stroke-width="0.95" stroke-linecap="square" fill="none"/>
<path d="M46.6 125h0m3.6 16.1h0m8.3-19.4h0m3-4.2h0m0.3-1.9h0m1.2 4.8h0m0.8-2.3h0m0 2.8h0m0.8 0.2h0m0.2-10h0m0.4 4.9h0m0.9 0.5h0m0.2 0.4h0m0.3 1.4h0m0.3-2.1h0m0.3-2.7h0m0.4 1.1h0m0.1-3.2h0m0.6 8.3h0m0.2-6.8h0m1 11.8h0m0.4-16.6h0m0.4-9.3h0m0.5 15.7h0m0.4-4.2h0m0.3-3.9h0m0.9 6.9h0m1.2 4.2h0m0.1-5.3h0m0-5.4h0m0.4 4.1h0m0.5 4h0m1.1-20.8h0m0 19.6h0m2-16h0m0.1 25.7h0m0.3-21.9h0m0.2-5.6h0m0.2 9h0m0.6 0.2h0m0.5-5.7h0m0.3 7.3h0m0.7-3.6h0m0.6-9.5h0m1.3 4.8h0m0.2 3.7h0m0.8 4h0m0.5-7.8h0m1.5-0.5h0m0.8-3h0m0.1 3.4h0m1.4-0.3h0m0.8-16.1h0m1.2 8.1h0m0.1-1.2h0m1-12.7h0m1.1 17.1h0m0.6-6.5h0m0-0.1h0m0.2 4.9h0m0.3-3.2h0m0.5 2.4h0m0.7-0.7h0m0.6-1.2h0m1.6-6.4h0m1.5 6.5h0m3.4-5.5h0m0.8 0.4h0m0.7-0.7h0m0.7 7.7h0m1.5-12.3h0m0.9-3h0m0-4.6h0" stroke="#33a478" stroke-width="0.95" stroke-linecap="square" fill="none"/>
<path d="M37.3 140.1h0m8.7-6.5h0m2.4-0.4h0m2.5 12.7h0m0.4-7.6h0m0.2-4.9h0m0.7-5.5h0m0.7 0.7h0m1.7-4.4h0m0 2.8h0m0.6-3.4h0m0.8-5.6h0m1.2 14.5h0m0.1-16.4h0m0.9 13h0m0.4-10.1h0m0.3 2h0m0.3-1.3h0m0 5.5h0m0.1-1.4h0m0.4 16.6h0m0.1-17.8h0m0.2 1.9h0m0.1-3.3h0m0.1 5.7h0m0-6.3h0m0.1 1.1h0m0-4.1h0m0.1 0.6h0m0.2 16.6h0m0-12.8h0m0 3.1h0m0.1-5.2h0m0.1 0.1h0m0.2 0.9h0m0 1.4h0m0.3-4.9h0m0 3.7h0m0.8-1.3h0m0.1 0.8h0m0-0.7h0m0.1-4.7h0m0.3 7.2h0m0.1-7.7h0m0.4 20.8h0m0.2-16.7h0m0.1-4.5h0m0.2 8.7h0m0-2.2h0m0.5 1.6h0m0.5-14.8h0m0 8.6h0m0.1 1.5h0m0 10.8h0m0.1-0.9h0m0.3-11.6h0m0.1 12.9h0m0.1-36.2h0m0.1 23.8h0m0.1 2.5h0m0.2-1.9h0m0.2-0.3h0m0.2 1.3h0m0.2-4.1h0m0.6-1.3h0m0.9 3.7h0m0.2-14.9h0m0.2 23h0m0.3-7.1h0m0.1-2.2h0m0.1 2.1h0m0.1-3.1h0m0 0.5h0m0-15.5h0m0.5 11h0m0 2.8h0m0.2-1.8h0m0.1 2.4h0m0.2-12.5h0m0.3 10.3h0m0-6.9h0m0.2 16.1h0m0.3-8.6h0m0.5 4.5h0m0.3-8h0m0 2.3h0m0.5-0.3h0m0.2 5h0m0.1 1.3h0m0.8-10h0m0.2 0.1h0m0.2 3h0m0.8-11.8h0m0.1 0.6h0m0.4 11.9h0m0-1.5h0m0.7-3.5h0m1.1-1.5h0m0.1 17.8h0m0.5-5.4h0m0.5-13.5h0m0.4 0.3h0m0.1 1.8h0m0.1-11.2h0m0.9 18.6h0m1.3-13.4h0m2.8-1.1h0m4.3 0.8h0m1.2 6.7h0m5.4-12.2h0m0.2-5.6h0m0.4-0.2h0m5.4-0.8h0m39.7-38.1h0" stroke="#2f7296" stroke-width="0.95" stroke-linecap="square" fill="none"/>
<path d="M39.2 142.1h0m5-7.9h0m0.8 0.1h0m4.7-3.4h0m2.4-1.1h0m2.7 0.4h0m14.9-15.6h0m2-5h0m0.3 1.5h0m1.3 3.1h0m1.8-6.1h0m0.9 0.5h0m2.9-8.6h0m0.1-1h0m0.3 1.4h0m0.8 4h0m2.1-3.9h0m0.4 6.6h0m0.7-14h0m0.3 2.8h0m0.4-1.9h0m0.6 6.1h0m1-11.7h0m1.3 6.8h0m1.2-2.2h0m1 1.3h0m1.6-3.6h0m3.4 2h0m1.9-6.6h0m3.8 0.1h0m2 2.1h0m1.1-14.1h0m3.3 2.8h0m9.4-13.3h0m2.8 0.7h0m0.9-0.9h0" stroke="#bfd32c" stroke-width="0.95" stroke-linecap="square" fill="none"/>
<path d="M48.4 133h0m2.5-4.3h0m2.4 0.1h0m0.8-1.8h0m0.8-1.1h0m0.3 2.4h0m0.2-2.3h0m1-3.9h0m0.5 0.5h0m0.9 0h0m0.3-6.8h0m0.5 5.2h0m0.2-1.6h0m0.1 7.8h0m0.2 4.1h0m0.7-8.1h0m0 1.3h0m0.2-4.2h0m0.3-3.7h0m0.2 5.4h0m0.3-1.8h0m0.3-3.6h0m0 13.9h0m0-2.6h0m0.3-6.4h0m0.4 7.3h0m0.1-1.8h0m0.6-4.2h0m0.1-0.5h0m0.2 0.2h0m0.5-3.7h0m0.2 0.2h0m0 5.9h0m0.4-10.7h0m0.6 8.9h0m0.1 6.3h0m1.2-11.3h0m0.4-4.5h0m0 7.2h0m0.4-16.1h0m0.1 15.9h0m0-10h0m0.1 8.3h0m0.3-5.1h0m0.1 2.5h0m0.5-5.7h0m0.6 1.7h0m0 1.8h0m0.8-2.3h0m0.3-4.1h0m0 5.1h0m0.2-0.9h0m0 9.1h0m0.1-7.2h0m0.5 1.6h0m0-3.9h0m0.4-1h0m0.1-3.9h0m0.3 8.9h0m0.1-2.1h0m0.2-6h0m0.2 10.6h0m0.7-3.9h0m0-1.2h0m0.1 4.1h0m0-4.2h0m0.2-3.8h0m0.1-2.5h0m0.7 2.9h0m0.6-1.6h0m0.7 9.5h0m0.5-12.5h0m0.3 4.8h0m0.7-5.8h0m2.2 1.4h0m0.2-2.1h0m0.5 1.2h0m0.4-1.6h0m0.3-2.9h0m0.3 2.7h0m0 7.4h0m0.1-4.1h0m0.5-5.8h0m0.4 6.6h0m0.2-0.2h0m0.5-8.9h0m0.7-5.2h0m1.4 9.2h0m0.1-5.3h0m1.5 3.1h0m0.1-1.4h0m0.1 5.8h0m0.6-8h0m1.3 0h0m0 1.8h0m3.5-1.6h0m4.3 2.4h0m1.4-16.4h0m4.1 4.8h0m9.2-16.4h0" stroke="#278090" stroke-width="0.95" stroke-linecap="square" fill="none"/>
<path d="M38.8 138.5h0m2.1 3.3h0m8-4.7h0m7-9.9h0m0.8-0.9h0m0.2-2.1h0m1.5 4.7h0m0.1 5.1h0m0.5-10h0m0.1 3.1h0m3.4-1.2h0m0.1-7.6h0m0.2 2.4h0m0.4-1.8h0m0.3-2.4h0m0.2-2.2h0m2.3 2.3h0m0-3.9h0m1.7 0.5h0m1-2h0m0.3 10.9h0m0.2-11.7h0m0.1-0.9h0m0.6 8.3h0m1.4-4.6h0m0.1 2.9h0m0.4 5.9h0m1.6-7.4h0m0 6.6h0m0.3-9h0m0.2 5.9h0m1.4-9.7h0m0.7-1.2h0m0.4-2.6h0m1 5.4h0m0.3-5.8h0m0.1-4h0m0.1 12.7h0m1.6 5.4h0m0.8-18.5h0m1-1.6h0m0.1 14.2h0m0.1-12h0m1.3-0.7h0m0-4.7h0m0.2 10.8h0m0.2 2.7h0m0.5-8.7h0m0.3-5.5h0m2.5 1.4h0m0.3-12.3h0m0.9 10.7h0m1.3 4.8h0m3.8-8.6h0m1.6-8.1h0m0.9 5.3h0m27.3-26.3h0m3 6.9h0m21.7-35.1h0" stroke="#33a478" stroke-width="0.95" stroke-linecap="square" fill="none"/>
<path d="M57.1 126.7h0m1.9 0.2h0m3.7-4.6h0m0.6-4.5h0m2.9-0.7h0m1.9-3.9h0m1.2-4.2h0m0.9 4.9h0m0.7-5.7h0m0.1 4.9h0m2-4.7h0m0-1.8h0m0.2 6.5h0m0.2-0.2h0m1-9.9h0m0.1 0.5h0m0.2 6.9h0m0.4 5.2h0m0.9-10.2h0m0.4-0.8h0m0.3 3.2h0m0.7-1.9h0m0.3-2.9h0m0 2.8h0m0.1 4h0m0.3-6.7h0m0.1 0h0m0.1 0.7h0m0.3-5h0m0.3 13.1h0m0.5-8.8h0m1.1-0.4h0m1.3 5.2h0m0.2-11h0m0.8 6.5h0m0.5-6.2h0m0-4.7h0m0.2 7.8h0m0.3-0.5h0m0.2 1.9h0m0 10.8h0m0.5-17.2h0m0 12h0m0.3-9.6h0m0.3-3.9h0m1.1-0.6h0m1.4 1.3h0m0.8-8h0m1.6 11.1h0m0.9-7.4h0m2.1-2.3h0m1.9 0.5h0m1.7 0.5h0m0.6-3.1h0m0.6 0.3h0m1.4-3.5h0m17.1-15.8h0m4-4.3h0" stroke="#4db068" stroke-width="0.95" stroke-linecap="square" fill="none"/>
<path d="M44 134.1h0m5.6 4.9h0m0.6-3.9h0m1.4-9h0m2 3.2h0m0.7 7.7h0m4.2-13.2h0m1.3 1.1h0m2.9-7.2h0m1.4 1.6h0m1.2-7.4h0m0.9 3.9h0m0.1 2.3h0m0.2-8.5h0m1.4 9.4h0m1.2-0.3h0m0.4-2h0m0.5-3.2h0m1.1-9.1h0m0.3 1.9h0m0.5 3.4h0m0.8 13.4h0m0.2-16.4h0m0.1-5.4h0m0.9 13.8h0m0.3-8h0m0.2-2.7h0m0.3-0.9h0m0.3 0h0m0.2 4h0m0.4-8.4h0m1 5.6h0m1.3-1h0m1-0.7h0m0.6-4.8h0m1.5 5.5h0m0.1-0.8h0m0.1-3.6h0m0.4 4.4h0m0.4-4.2h0m0.3 8.6h0m0.1-5.1h0m0.1-4.9h0m1.5-0.1h0m0.3 4.5h0m0.1-16.3h0m1.6 6.9h0m0.5 5.2h0m1.3-11.4h0m0.2-2.6h0m2.5 5.2h0m1.4-0.7h0m0.1-1.7h0m0 4.9h0m0.8-2h0m0.1-0.9h0m41.7-41.9h0" stroke="#269685" stroke-width="0.95" stroke-linecap="square" fill="none"/>
<path d="M37.6 143.3h0m0.2 2.9h0m0.2-4.9h0m0.2-0.3h0m0.1 3.2h0m0-2.5h0m0.1-2.2h0m0 4.5h0m0.7-1.7h0m0.2-2.2h0m0.5-2.6h0m0.3 5.8h0m0.1-0.6h0m0-1.1h0m0.3-9h0m0 4.7h0m0.1 3.4h0m0.1 5.6h0m0.2-1.7h0m0-3.2h0m0.1 1h0m0.1 1h0m0-0.6h0m0.2-2.2h0m0.1 2.5h0m0.2 2.4h0m0.2-13.5h0m0 6.4h0m0.1 3.2h0m0-6.1h0m0.1 1.3h0m0.1 3.5h0m0 3.7h0m0-7h0m0.1 1.2h0m0 1.9h0m0-0.7h0m0.1 1.4h0m0-3.3h0m0.1 7h0m0 2.2h0m0.1-6.4h0m0.1-3h0m0 6.2h0m0.1 1.2h0m0-1.6h0m0.1-10.7h0m0.1 10.2h0m0 0.7h0m0.1-3.6h0m0-2.8h0m0.1 2.3h0m0-5.3h0m0 4.6h0m0.1-2.2h0m0 2.4h0m0.1 3.7h0m0-0.4h0m0.1-9.6h0m0 11.2h0m0-6.1h0m0.2-9.9h0m0 7.4h0m0-1.9h0m0.1 5.4h0m0 3h0m0.1-1.6h0m0 4.2h0m0.1-6.2h0m0 4.8h0m0.1-12.6h0m0 7.6h0m0-1.8h0m0 10.5h0m0.2-15.8h0m0.1 4.5h0m0 3.6h0m0-5.9h0m0 8.5h0m0.1 1.7h0m0-1.9h0m0-2.2h0m0.1-2.7h0m0 0.3h0m0 3.7h0m0 0h0m0-3h0m0.2 8.1h0m0-4.3h0m0-5.3h0m0.1-8.9h0m0.1 10.9h0m0 0.2h0m0.1-7h0m0 12.3h0m0.1-9.1h0m0 3.5h0m0-1.6h0m0.1-15.4h0m0 19.5h0m0.3-4.6h0m0 3.6h0m0-12.1h0m0 16.7h0m0-12.3h0m0-1.7h0m0.1 14.1h0m0-11.6h0m0.1 11.6h0m0-2.9h0m0 0h0m0-3.5h0m0.1-1h0m0-4.9h0m0 8.5h0m0-6.8h0m0.1 2.9h0m0 9h0m0-0.2h0m0-6.6h0m0.1-9.9h0m0 11.1h0m0.1-0.7h0m0 0.9h0m0-4.3h0m0 3.1h0m0.1-3.8h0m0 5.5h0m0.1-1.7h0m0 5.3h0m0.1-8.8h0m0.1 5.6h0m0-8h0m0 7.5h0m0-1.8h0m0 6.5h0m0-12.7h0m0 5.2h0m0 1.2h0m0.1-3.1h0m0 1.4h0m0.1-6.3h0m0 8.5h0m0-5.5h0m0-12.7h0m0.1 15.6h0m0.1 2.2h0m0-8.8h0m0.2 6.4h0m0 2.8h0m0-0.1h0m0.1 0.4h0m0.1-5.4h0m0.1-0.4h0m0 1h0m0 1.9h0m0.1-2.2h0m0-1.3h0m0 9.3h0m0.1-11.4h0m0 6.7h0m0-2.6h0m0-7.5h0m0.1 10.2h0m0.1-10.8h0m0.1 14.6h0m0-2.8h0m0 0.5h0m0-3.2h0m0.1-1.7h0m0.1 3.5h0m0-3.8h0m0.1-5.9h0m0 4.5h0m0-5h0m0 7.4h0m0 4.5h0m0.1-2.5h0m0-1h0m0-0.6h0m0-7.4h0m0 0.5h0m0.1 0.1h0m0 5.2h0m0 6.7h0m0-7.3h0m0 2.5h0m0-3.4h0m0.1 6.1h0m0-16.6h0m0 6.1h0m0 5.8h0m0 10.9h0m0.1-4.5h0m0.1-9.3h0m0 2.5h0m0 0.1h0m0.1 6h0m0 2.4h0m0.1-12.5h0m0.1 3.1h0m0.1-5.3h0m0.1-2.9h0m0.1 8.8h0m0-2.6h0m0 4.9h0m0 1.9h0m0.1-3.1h0m0-4.8h0m0.1 7.3h0m0-11.2h0m0.1 3.7h0m0 12.6h0m0-6h0m0-1.4h0m0 1.1h0m0.1 0.4h0m0 1.4h0m0.1-5.3h0m0-7.6h0m0.1 8.4h0m0-2.9h0m0.1 10h0m0.1-11.3h0m0 0.5h0m0.1 10h0m0-9.9h0m0.1 7.5h0m0.1-18.6h0m0 14.8h0m0 2.3h0m0.1-18h0m0 15.6h0m0 4.1h0m0.1 0.7h0m0-4.9h0m0.1-5.2h0m0 7.8h0m0 3.8h0m0-11.6h0m0.1-0.5h0m0 6.5h0m0-16.9h0m0 15.7h0m0-3.2h0m0.1 0.8h0m0 0.7h0m0 2h0m0.1-2.8h0m0.1-8.3h0m0.1 5.8h0m0.1 5.2h0m0 0.3h0m0 1.1h0m0.2-3h0m0-5.3h0m0.1 5.8h0m0-11.6h0m0 10.3h0m0 1.7h0m0-4.9h0m0.1 2.2h0m0.1-9.7h0m0 6.5h0m0 8.8h0m0.1-4h0m0-1.9h0m0 1.9h0m0.1-1.5h0m0.1-1.2h0m0 10.3h0m0.1-22.1h0m0.1 10.4h0m0.1-7.8h0m0 4.4h0m0.1-1.1h0m0.1 10.9h0m0.1-6.1h0m0.1-1.2h0m0 0.7h0m0.1 3.5h0m0-6.2h0m0 1.3h0m0-7.8h0m0 12.8h0m0 0.3h0m0.1-2.6h0m0-4.5h0m0.3 1.7h0m0.1 0h0m0.2 3.4h0m0-5.1h0m0 4.9h0m0 11.8h0m0.1-4.3h0m0-0.7h0m0.4-8.5h0m0-3.9h0m0 2.4h0m0-0.1h0m0.3 7.1h0m0.2-20.6h0m0 17.4h0m0.5-6.4h0m0 3.2h0m0 4.4h0m0.1-0.4h0m0-0.8h0m0.1 0.8h0m0.3-1.9h0m0-4.3h0m0 2.9h0m0.1 2.3h0m0-4.5h0m0.4 0.3h0m0-5.4h0m0.2 8.4h0m0.2-2h0m0 0.1h0m0-2.1h0m0.2 1.2h0m0.1-3.9h0m0.2 10.3h0m0.4-1.7h0m0.1-4.6h0m0 1.7h0m0.1 0.5h0m0.1-3.8h0m0.2 7.2h0m0.3-12h0m0 11.6h0m0-2.5h0m0.1-1.7h0m0-4.3h0m0.2 2.3h0m0.3-0.2h0m0.4-5.1h0m0.4-9.5h0m0.1 14.1h0m0.2-1.3h0m0.2 9h0m1.4-8.9h0m0.8 0.2h0m0.3-3.7h0m0.2-2.3h0m0 5h0m0.2-1.2h0m1.5-2.5h0m0.2 5.4h0m0.7-1.9h0m1.1-7h0m0.7 12.5h0m0.3-9.6h0m0.2-2.9h0m1.2 1.2h0m2-12.2h0m1.3 6.7h0m0.5 4.4h0m0.5-5.8h0m1.7 1.8h0m0-15.8h0m1.7 14.1h0m0.6 1.7h0m3.1-0.2h0m0.8-7.3h0m0.8-4.3h0m3-0.4h0m2.3 4.9h0m1.3 1.2h0m1.6-10.1h0m40-38.8h0" stroke="#12162d" stroke-width="0.95" stroke-linecap="square" fill="none"/>
<path d="M37.1 144.8h0m1.4-7h0m0.4 6.9h0m2.1-3.6h0m0.5 4.4h0m0-5.2h0m0.2 5.8h0m0-5.7h0m0.6 1.5h0m0.2-7.5h0m0 9.6h0m0-0.9h0m0.5-10.2h0m0.5 10.7h0m0-8.6h0m0.3 5.9h0m0.3-3.1h0m0-4.8h0m0.2 5.1h0m0.1 6.5h0m0.8-6.2h0m0.3 1.5h0m0.1-6.4h0m0.1 5.4h0m0.2-5.6h0m0.1 1.3h0m0-0.9h0m0.2 0.2h0m0.1 6.4h0m0-7h0m0.1-0.6h0m0.4 0.5h0m0.1 4.8h0m0.3-12.4h0m0-0.9h0m0.1 0.7h0m0.1 11h0m0.2-0.8h0m0-2.3h0m0.2-15.2h0m0 13.8h0m0.2 0h0m0.3 1.3h0m0.1-0.6h0m0.1 0.6h0m0.1 2.3h0m0.2-1.6h0m0 0.7h0m0.1-4.7h0m0 0.4h0m0.2 11.7h0m0-3.3h0m0.1-4.9h0m0.1-2.9h0m0.3 10.3h0m0.1-9.5h0m0-8.4h0m0.1 22.6h0m0.3-15.3h0m0.1 0.9h0m0.1 6.6h0m0-17h0m0.1 7.9h0m0 0.9h0m0 1.5h0m0.1-4.5h0m0 5.3h0m0-5.7h0m0.2 7.1h0m0 1.3h0m0.3-4.5h0m0 4.3h0m0-12h0m0.1 10.5h0m0.1-3.8h0m0-4.1h0m0.3 4.4h0m0.1 0h0m0.1-6h0m0 0.4h0m0.1 6.9h0m0 1.8h0m0-5.1h0m0 6.3h0m0-6.2h0m0.1 2.2h0m0-0.6h0m0 7.2h0m0-5.5h0m0.1-1.3h0m0.1-1.2h0m0 6.1h0m0-9.4h0m0.3 2.5h0m0 2h0m0-7h0m0.1 5.4h0m0 4.7h0m0.1-5h0m0.2-9h0m0 11h0m0.1-3.7h0m0 0.9h0m0.1 3.2h0m0 0.3h0m0.1 0.1h0m0.2-6.7h0m0 3.6h0m0 3.8h0m0-1.7h0m0.1 1.7h0m0-0.1h0m0-6.9h0m0.1 12.3h0m0.1-11.1h0m0-8.9h0m0 11.8h0m0.1-0.3h0m0 0.7h0m0.2 0.5h0m0 1.5h0m0-9.9h0m0.1 18.1h0m0-14.2h0m0 4.1h0m0.1-4.3h0m0 4.8h0m0.1-3.6h0m0 3.5h0m0 4.1h0m0-2.6h0m0.1-1.2h0m0.1-3.4h0m0 0.3h0m0.1-1.4h0m0 10.1h0m0-7.7h0m0.1-3.1h0m0 12.4h0m0.2-7.7h0m0.1-2.7h0m0 0.2h0m0 9.3h0m0.2-13.5h0m0.1 4.3h0m0.2 3.2h0m0.1 2.3h0m0.1-6.6h0m0.1 3.7h0m0 0.1h0m0-2.1h0m0.1-3.9h0m0-2.1h0m0 7.6h0m0.1-1.7h0m0-0.7h0m0.1-4.2h0m0.1 3.5h0m0 1.8h0m0.2 16.5h0m0-19h0m0.1-0.9h0m0.1 2.4h0m0-7.2h0m0.2 5.8h0m0.2-3.2h0m0.1 2.4h0m0.1-3.1h0m0.1 23h0m0.1-17.7h0m0-2.1h0m0-1.8h0m0 4.2h0m0.1-1.8h0m0 0.3h0m0.4 9h0m0.1-7.4h0m0.1-0.1h0m0.1 0h0m0-3.1h0m0.1 2.3h0m0-11.5h0m0.2 10.8h0m0-7.2h0m0.2-0.8h0m0.5 4.7h0m0.2 0.9h0m0.2 0h0m0.1-2.6h0m0.6 1.6h0m0-0.5h0m0.3-0.9h0m0-3.2h0m0.2 10.2h0m0.2-20.1h0m0.2 7.4h0m0.6 5.4h0m0-1.3h0m0.1 0.3h0m0.3 10.2h0m0-13.1h0m0.2-2.2h0m0.1-4.5h0m0 8.4h0m0.2-3h0m0.2-1.4h0m0.2 8.5h0m0.1 0.2h0m0-4.6h0m0.1 4.9h0m0.1 1.5h0m0-4.1h0m0.4 0.7h0m0.4-10.9h0m0 9.5h0m0.4-7.9h0m0 5.7h0m0.1-5.3h0m0.1 16.9h0m0.1-12.5h0m0.4 1.6h0m1.7-1.7h0m0.4-3.6h0m1-0.3h0m0.2-3.6h0m0.2 10.5h0m0.7 2.3h0m0.5-11.2h0m0 3.5h0m0.3 0.6h0m0.4-6.6h0m0.1 2.8h0m0.6-7.6h0m0.4 2h0m0.3 5.6h0m1.2 7.1h0m2.5-9.3h0m1.2-7.5h0m0.2-0.9h0m0.1 0.3h0m3.8 1.9h0m4 4.2h0m2.1-7.3h0m1.3-7.7h0m0.2 0.2h0m45.4-48.4h0m9.4-9.8h0" stroke="#232f58" stroke-width="0.95" stroke-linecap="square" fill="none"/>
<path d="M42 139.7h0m11.9-9.7h0m2.6-3.4h0m11-11.8h0m2.9-10.3h0m0.7 6.8h0m3.2-16.3h0m3.1 7.6h0m0.1 3.4h0m0-1.1h0m0.1-4.9h0m2.5-0.9h0m0.5-1.4h0m1.4 1.6h0m2.3-1.2h0m0 6h0m0.7-5.2h0m0.2-0.2h0m2.8-3.6h0m0.2-8h0m0.1 5.6h0m0.1-14.1h0m3.9 13.8h0m0.3 3.4h0m4.7-9.8h0m0.3-13.4h0m1.8 7.8h0m3.9-1.7h0m7.6-0.7h0m3-11.3h0m6 3.7h0m0.4-7.8h0" stroke="#bfd32c" stroke-width="0.95" stroke-linecap="square" fill="none"/>
<path d="M39.1 146.7h0m0.1-1.9h0m6.5-9.3h0m1.1-11.1h0m0.3 17.9h0m0-9h0m0.8-5.2h0m0 13.1h0m0.9-10.5h0m0-2.7h0m0.1 18.4h0m0.1-4.9h0m0-12.8h0m0.2 5.4h0m0.3-0.9h0m0-3.3h0m0.2 1.8h0m0-1.2h0m0.4 2.5h0m0.1-1.2h0m0.2 1.9h0m0-3.6h0m0.1 3.4h0m0-2h0m0.2 2.8h0m0-9.4h0m0.2 5.1h0m0.1-3h0m0.2 3.8h0m0-2.4h0m0.3 6.8h0m0-7h0m0.1 3.8h0m0-3.4h0m0.2-8.5h0m0.1 7h0m0.1 5.5h0m0 0.8h0m0.1-2.4h0m0-3.5h0m0.1-1.9h0m0 5.5h0m0.2-1.3h0m0.4-4.8h0m0 8h0m0-4.8h0m0-0.7h0m0.1 5.8h0m0.3-6.3h0m0 2.7h0m0.2 0.4h0m0.1-2.1h0m0.1-5.9h0m0.1 8.7h0m0.1-13.1h0m0 12h0m0.1-0.3h0m0-2.4h0m0.1 2.9h0m0.1-3.4h0m0.3 0.3h0m0.2 1.5h0m0.1 14h0m0-26.2h0m0 19.5h0m0-9.9h0m0.2 0.9h0m0-0.7h0m0.1 4.2h0m0.1-0.5h0m0 1.2h0m0.1 5.7h0m0.1-9.7h0m0.1 0.1h0m0-17.8h0m0 29.3h0m0-11.1h0m0.2-0.7h0m0.1-0.1h0m0 1.5h0m0-5.3h0m0.1-1.7h0m0 9.4h0m0-6.9h0m0.1 5.4h0m0-3.6h0m0.1-13.5h0m0.1 17.2h0m0-2.9h0m0.2-2.6h0m0.1-3.8h0m0 10.6h0m0.1-4.3h0m0.1-3.1h0m0 1.3h0m0 3.6h0m0 1.8h0m0-4h0m0.1 7.5h0m0-11.4h0m0 0.9h0m0.1-0.1h0m0.1 3.8h0m0 0.5h0m0.1-2.5h0m0.2 5.1h0m0.1-2.1h0m0.2-2.1h0m0-5.6h0m0 13.3h0m0.1-8.5h0m0-1.8h0m0.2 4.2h0m0-0.2h0m0.1 5.9h0m0.1-19.4h0m0.4 10.6h0m0.2 5.2h0m0.1-19h0m0 13.8h0m0 3.5h0m0 3.7h0m0.1-9h0m0.2 1.3h0m0.1-1.2h0m0.1 4.6h0m0.1-2.1h0m0 0h0m0.2-3.4h0m0.2 1.3h0m0.2 5.1h0m0-3.4h0m0-3.5h0m0.1 4.1h0m0.2 9.2h0m0.2-11.9h0m0-4.1h0m0.1 5.2h0m0.1-2.2h0m0 2h0m0-2h0m0.1 2.8h0m0-0.6h0m0 1.6h0m0-4.5h0m0-3.1h0m0.1-1.7h0m0 1.7h0m0 9.8h0m0.1-3.2h0m0-7h0m0.1 7.1h0m0-9.2h0m0.3 2.7h0m0.1 3h0m0-1.7h0m0.1 3.7h0m0.1-12.3h0m0.3 7.2h0m0 2.7h0m0.2 3.6h0m0.1-8.6h0m0-7.9h0m0.1 12h0m0-2.4h0m0.1 6.5h0m0.1-4.2h0m0 0.9h0m0.1 11h0m0.6-11.1h0m0.2 5.1h0m0.1-11.6h0m0.1 6.1h0m0.1-0.6h0m0-2.4h0m0.1 8.2h0m0.2-5.6h0m0.1 5.9h0m0 0.3h0m0.1-6h0m0.1 3.6h0m0.8-9.8h0m0.2-1.9h0m0.1 7.5h0m0 1.9h0m0.1 0.4h0m0.2-7.9h0m0 1.8h0m0.3-7.8h0m0.7 6h0m0.1 16h0m0.2-22.8h0m0 9.3h0m0.1 2.1h0m0.2-14.5h0m0.3 19.5h0m0.2-11.7h0m0.1 4.9h0m0.1-2.6h0m0.3-11.7h0m0.5 12.4h0m0.2-3.4h0m0.1 2h0m0.2 3.5h0m0.3-3.8h0m0.5 7.1h0m0.1-12.1h0m0.1 3.2h0m0.1 1.9h0m0.1-3.9h0m0.3 4.4h0m0.1 7.6h0m0.2-6.3h0m0.3-0.7h0m0.9-10.8h0m0 8h0m0.1-2.5h0m1.2 4.6h0m0.9-17.1h0m0.2 6.4h0m0.2 7.7h0m0.6-9.5h0m1 11.4h0m0.7-3.2h0m3.1-6.5h0m2.1-4.6h0m0.7 5.8h0m0.7-4.1h0m1.1-12h0m3.1 7.4h0m1.2 0.1h0m3.5-6.4h0m16.9-11.6h0m13.4-16.1h0" stroke="#334c85" stroke-width="0.95" stroke-linecap="square" fill="none"/>
<path d="M44.6 138.6h0m8.6-17.1h0m7 2.4h0m1 1h0m6.2-1.3h0m0.2-13.3h0m0.3 2.4h0m0.5 0.2h0m0.4-4.1h0m1.7 4.2h0m0.5-4.7h0m0.4 6.8h0m1.4-9.2h0m0.3 17.9h0m0.1-13.2h0m1.2-0.9h0m0.1 3.8h0m0.2-17h0m1.2 6.6h0m1.4-1.5h0m0 2.3h0m0.5-4.3h0m0.2 4.3h0m1.2-5.2h0m0.5 2.6h0m0.1-1h0m1.7 1.9h0m1.3-3.5h0m0-17.6h0m0.4 12.3h0m0.1 11.8h0m0.3-6h0m0.6 2.6h0m2.6-16.6h0m1.2 8.9h0m0.4-12.5h0m0.4 13.4h0m0.7 0.2h0m0.3-3.2h0m1.7 2h0m2.2-9.6h0m0.6-0.8h0m2.6-1.5h0m0.7-0.7h0m0.8 0.1h0m0.5 3.3h0m4.5-4.1h0m4.8-6.5h0m3.6-6.4h0" stroke="#73be54" stroke-width="0.95" stroke-linecap="square" fill="none"/>
<path d="M37 144.1h0m4.5-0.9h0m11.4-15.3h0m12.9-6.7h0m0.5-1.1h0m4.8-10.1h0m0.2 5.8h0m2.7-4.8h0m0.1-27.4h0m0.8 29.4h0m0-3.4h0m2.8-8.9h0m0 1.7h0m0.5 4.9h0m0-1.9h0m0.3-1.9h0m0.2 11.6h0m0.1-11.6h0m0.8-4.6h0m0.3 0.3h0m0.5-4h0m1 1.1h0m0 11.9h0m0.2-8.2h0m0.3-2.2h0m0.3 4h0m0.1-6.5h0m0.1 6.3h0m0.2-1.8h0m0.1 1.1h0m0 16.1h0m0.8-20.2h0m0.3 2.1h0m0 4.5h0m1.3-11.9h0m0.1 2.4h0m0-0.2h0m0.2 4.6h0m0.3 2.5h0m0.1 0.7h0m0-3.3h0m0.2 8.3h0m0-7.4h0m0.9-5h0m0.1 0.4h0m0 2.7h0m0.3-6.5h0m0.6-9.2h0m0 13h0m0.1-1.9h0m0.4-6.5h0m0 5.8h0m0.6-1.3h0m0.1 6.8h0m0.2-6h0m0.2-2.3h0m0.1 3.1h0m0.2-7.6h0m0.1-0.3h0m0.8 6.6h0m0.1 2.5h0m0.2 1h0m0.1-7h0m0.4-3.9h0m0.2 6.4h0m0.2-2h0m0.1 1.5h0m0.2-2.9h0m0.3 0.6h0m0.1 1h0m0-0.6h0m0 2h0m0.3-5.2h0m0.1 3.2h0m0.1 5.5h0m0.2-5.4h0m0.3-2.4h0m0.1-8.2h0m0 10.6h0m0.4 1.8h0m0.1 7.4h0m0.1-10h0m0.1-5.9h0m0.1 3.1h0m0 3.4h0m0.2 3.2h0m0-13.9h0m0 11.5h0m0.2 1h0m0.2-2.6h0m0-5.5h0m0 0.8h0m0.1 5.7h0m0.6 0.7h0m0.3-1h0m0 1.2h0m0.1-2.4h0m0.1-9.3h0m0.1 6.5h0m0.1 1.1h0m0.5 7.2h0m0.1-10.8h0m0.1-3.4h0m0.2 2.3h0m0.2 7h0m0.3-2.5h0m0.1 0.7h0m0 0.1h0m0.1 7.4h0m0.1-8.7h0m0.2-5.2h0m0.3 7.5h0m0-3.1h0m0 5.5h0m0.1-4.9h0m0-5.4h0m0 7.3h0m0.3 0.4h0m0.1-10.3h0m0 10h0m0.2-2.4h0m0.1-1.5h0m0.1-0.6h0m0 1.5h0m0.3 1.1h0m0-0.9h0m1.1-2.8h0m0.1 2.7h0m0.1-0.3h0m0.4-1.2h0m0.2-13.2h0m0.2 10.4h0m0.1-3.2h0m0.1 9.8h0m0.4-4.4h0m0.2 2.3h0m0.1-12.6h0m0.9 8.4h0m0.5-1.2h0m0-0.4h0m0.1-0.8h0m0 2.4h0m0.2 0.7h0m0.3-6h0m0 3.5h0m0-2.7h0m0.7 7.1h0m0.2-6.7h0m0.8 4.8h0m0-7.9h0m0.2 1.3h0m0 18h0m0.3-10.3h0m0.3 0.2h0m1.1-4.7h0m0 0.1h0m0-8.6h0m0.1 18.3h0m0.1-11.2h0m0.5 4.4h0m0 0.7h0m0.3-11.4h0m0.1-4.9h0m0.1 5.5h0m0-7h0m0.1 15.8h0m0.8-5.8h0m0.6-2.7h0m0.2 3.4h0m0.1 0.6h0m0.4-4.8h0m0.3 1.3h0m0.1-9h0m0 28.3h0m0.3-27.9h0m0.2 4.8h0m0.6 9.7h0m0.4-13.9h0m0.1 0h0m0.3-2.1h0m0.3 8.8h0m0.1-2.9h0m0.2 5.9h0m0.2 9.8h0m0.1-21.5h0m0.1 6.1h0m0-4.3h0m0.3 9.7h0m0.1-8h0m0.1 2.7h0m0.8 2.8h0m0.3-14.1h0m0.7 13.1h0m0.4-14.9h0m0.1 10.9h0m0.3 2.5h0m0.5 1.1h0m0.1-0.7h0m0-2.3h0m0.4-6.9h0m0.2 0.5h0m0.2 1.8h0m0.4 4.5h0m0.2 0.1h0m0-2h0m0.3 8.8h0m0.1 1h0m0.3-10.2h0m0.2-5.2h0m0.1 2.4h0m0.7-1.2h0m0.7 6.2h0m0.2-2.8h0m0.1-6.2h0m0.5 9.5h0m0.2-5.5h0m0.7 4.1h0m0.3-4.6h0m0.2-6.8h0m0.3 1.5h0m0.5-2.1h0m0.3 6.2h0m0.7-9h0m1.1 8.9h0m0.9-12.6h0m0.7 4.3h0m0.7-4.4h0m0.5-2h0m0.1 5.6h0m0-6.2h0m1.5 6h0m0.6-6.9h0m1 1.4h0m0 4.2h0m0.9 0.7h0m0 2.1h0m0.4 2.9h0m0.3 5.7h0m0.5-13.8h0m0.8 3.6h0m0.7-5.4h0m0.1 2.7h0m0.3-0.2h0m0.7 0.7h0m0.2-7.1h0m0.5 7.6h0m0.4-10.3h0m0.1-4h0m0.2 1.7h0m0 7.9h0m0.3-4.7h0m0.3 1.2h0m0.2 2.7h0m2.2 1.2h0m0.5-11.4h0m0.5 8.8h0m0.5-1.5h0m1-1.9h0m0.3 0.3h0m1.6-7.3h0m1.5 6.4h0m2.1 0.8h0m1.7-3.3h0m0.9-3.8h0m2.7-8.9h0m1.6 9h0m2.9-8.1h0m1.4 0.2h0" stroke="#eee11e" stroke-width="0.95" stroke-linecap="square" fill="none"/>
<path d="M38 142.7h0m5.7-2.3h0m2.2-12.6h0m0.3 14.1h0m0.5-8h0m0.5 4.4h0m1.3-5.8h0m2.3-4.9h0m1.5 2.8h0m0.4-6.5h0m0.3 4.1h0m0.3 1.3h0m1.3 2.8h0m0.2-2.7h0m0.1-2.1h0m0.1 13.1h0m0.3-13h0m0-4.3h0m0.3-11.5h0m0.2 10.9h0m0.8 3.2h0m0.2-4.6h0m0 0.2h0m0 1h0m0.1 8.8h0m0-7h0m0.1-8.9h0m0.3 11.9h0m0.1-4.5h0m0.1-0.8h0m0.2 5.7h0m0.2 4.3h0m0-19.4h0m0.1 10.3h0m0.3 0.4h0m0 7.9h0m0.1-5.8h0m0.1-5.5h0m0.1 6h0m0 1.1h0m0.1-8.6h0m0.2 8.9h0m0.1-18.1h0m0.9 15.1h0m0 1.8h0m0.3-6.9h0m0 0.7h0m0.2 3.6h0m0-11.7h0m0.3 12.9h0m0.1-0.2h0m0.1-4.7h0m0 0.8h0m0-10.1h0m0.1 15.7h0m0-8.7h0m0.2 5.1h0m0.1-5.4h0m0.3 7.9h0m0.2-2.4h0m0.5-5.1h0m0 5.3h0m0.2 6.5h0m0.1-4.3h0m0.5-11.2h0m0.3 5.1h0m0-1.5h0m0-0.9h0m0.3 1.5h0m0.3 10.4h0m0.1-9.9h0m0.1 1.8h0m0.4-7.2h0m0.1 4.1h0m0.2 7.5h0m0.1-6.5h0m0.4 1.9h0m0.1-2.8h0m0.2 0.8h0m0.2 1.5h0m0 6.6h0m0.1-8h0m0-2h0m0-4.9h0m0.1 8.8h0m0.3-4.8h0m0.2-0.7h0m0.2-7.7h0m0 6h0m0.1 3.9h0m0.1-4.2h0m0.5 0.7h0m0.3 3.5h0m0 3.2h0m0.1-5.2h0m0 0.1h0m0.1 0.6h0m0.2-1.5h0m0.1-5.5h0m0.2-2.2h0m0.3 5.9h0m0.1 3.8h0m0 6.2h0m0.4-10.2h0m0.4 1h0m0-2h0m0.1 1.4h0m0.1 0.8h0m0.3 0.7h0m0.2-1.1h0m0.1-1.7h0m0.1 1.8h0m0.2-2.4h0m0.1 5.9h0m0.1-3.6h0m0.3-10.7h0m1.6 12.8h0m0-4.6h0m0.3-12.6h0m0.1 12.9h0m0 9.1h0m0.3-13.3h0m0.6 4.4h0m0.1-0.2h0m0.2-3.2h0m0.1 1.9h0m0.3 0.3h0m2.1-2.4h0m0.1-4.5h0m0.2-0.7h0m1.4-6.2h0m0.1 6.1h0m1.7 0.5h0m3.9-1.8h0m0.1-2.7h0m8.3-11.9h0m3.7-12.1h0m27.3-18.9h0m13.3-16.1h0" stroke="#37629a" stroke-width="0.95" stroke-linecap="square" fill="none"/>
<path d="M39.6 142.7h0m1.5-3.3h0m6.8-2.4h0m4.6-4.6h0m1.2-12.7h0m0.3 6.1h0m0.1 3.4h0m0.1-5.1h0m0.1 8.5h0m0.8-10h0m0.8 2.7h0m0-2.6h0m0.3 2.4h0m0.2 0.9h0m0-1.5h0m0.7-2.6h0m0.1 0h0m0.4-1.1h0m0.1-8.4h0m0 5.4h0m0.3 2h0m0.1 6.4h0m0 3.4h0m0.2-8.4h0m0.1 5.5h0m0.9-1h0m0.4-4.3h0m0.5-1.5h0m0.2 2.7h0m0.4-4.8h0m0.6 0.8h0m0.3 11.6h0m1-7.4h0m0.2-9.6h0m0.1 6h0m0.1 3.1h0m0 3.1h0m0-23h0m0.1 7.7h0m0.3 11.3h0m0-6.4h0m0.4 2.9h0m0.4 0.2h0m0.2-0.7h0m0.2 3.4h0m0.2 4.2h0m0.3-11.4h0m0.2-8h0m0.4 9h0m0.3 2.8h0m0.2 1.5h0m0.2-2.9h0m0.2-11.4h0m0.2 9.1h0m0.1 8.9h0m0.2-12.7h0m0.2 1.9h0m0.1 2.7h0m0.2 4.6h0m0-9.3h0m0.7 5.2h0m0.1-3.8h0m0.2 0h0m0 20.6h0m0.1-25.7h0m0.6 8.9h0m0.2-4.5h0m0-0.5h0m0.2 2.9h0m0.2 0h0m0 2.6h0m0.5-10.8h0m0 7.8h0m0.5 0.2h0m0.3-4h0m0.3 1.6h0m0.2 2.9h0m0-3.4h0m0.5 8.9h0m0-12h0m0.8 7.5h0m0-3.3h0m0-2.4h0m0.4 6.8h0m0 0.4h0m1.3 0.3h0m0.5-6.3h0m1.1-1.5h0m0.9-2h0m0.4-3h0m0.3 2.5h0m0.1-0.5h0m0 2.5h0m0.5-1h0m2-7.3h0m0.8 16.4h0m0.4-24.9h0m0.5 14h0m0.2-8h0m0.1 4.8h0m0.4 3.9h0m0.2-0.8h0m0.7-14.6h0m0.5 11.1h0m3.1-9.9h0m0.9 0.3h0m8-8.8h0m0.9 3.4h0m7-8.9h0" stroke="#2f7296" stroke-width="0.95" stroke-linecap="square" fill="none"/>
<path d="M40.8 140.5h0m0.3 3.6h0m0.1-8h0m7.8-4h0m0.6 0.7h0m0.8-3.1h0m0.6 8.4h0m4.6-14h0m0.4-1.7h0m1.3 0.4h0m0.2 3.6h0m1.8-6.9h0m0.6 0h0m0-1.9h0m1.2-1.2h0m0 3.7h0m1.3-4.3h0m0.7-2.4h0m0.3 1.7h0m0.4 4.6h0m0.2-1.8h0m0.1 1.8h0m0.1-4.1h0m0.9 0.2h0m0.3 6.4h0m0.3-4.7h0m0.3 1.4h0m0.1-4.3h0m1-2.5h0m0.2 2.1h0m0.1-0.2h0m1.2 3.8h0m0.4-2.4h0m0 2.1h0m0.5-8.6h0m0.6-7.3h0m0.7 10.2h0m0.3 0.6h0m0.1 3.3h0m0.9-8.3h0m0.2 11.3h0m0.4-9.6h0m0.6 2.2h0m0.1-12.3h0m0.2 6.9h0m0.4 5.7h0m0.6-11.3h0m0.3 6.1h0m0.2 13.6h0m0.3-12.1h0m0.3-4.9h0m0.5 11.7h0m0.1-7.6h0m0.4-4.1h0m1.7-10.5h0m0 19.1h0m0.5-11.2h0m1.1-1h0m0.1 5.2h0m0.4-6.5h0m0 4.5h0m1.6-2.3h0m0.1 2.6h0m2.2-7.7h0m0.1-11.7h0m0.2 14.9h0m0.1-0.6h0m0.7-11h0m0.2 1.9h0m0.5 9.8h0m1.1-6.4h0m0.8 0h0m0.4 6.9h0m0.4-7.4h0m0.1 0.1h0m0.4 8.9h0m0.2-19.2h0m0.1 16.8h0m0.6-5.2h0m0.9 3.7h0m0-13h0m0.4 8.1h0m0.8-2.1h0m1.6-11.3h0m1.1 3.3h0m3.6 7.9h0m0.9-0.2h0m7.4-26.3h0m0.2 9.1h0m4.2 11.5h0m19.2-40.9h0" stroke="#228a8d" stroke-width="0.95" stroke-linecap="square" fill="none"/>
<path d="M47.9 138.6h0m2-5.3h0m15.6-17.8h0m1-4.8h0m0.5-4.8h0m0.6 16.4h0m1.5-3.4h0m1.9-5h0m0.1-3.7h0m0.1-1.7h0m0.4 0.7h0m0-0.9h0m0.6 1.6h0m1.3 2h0m0.1 2.5h0m0.9-8.3h0m0.1-2.1h0m2.1 3.8h0m0.9-4.2h0m1.3-2.2h0m0.9 8.8h0m2-7.8h0m0.4 0.1h0m1.6 11.2h0m0.3-16.2h0m0.3 2.8h0m0.7-3.2h0m0.4 1.3h0m0.2-1.1h0m1.8-6.3h0m0.3 2.5h0m2-6.5h0m0.8 5.3h0m1.3 4.8h0m0.8-15.2h0m6.7 1.2h0m0.9 1.4h0m2.8-5.1h0m4.3-9.7h0m12.7 5.5h0" stroke="#99c940" stroke-width="0.95" stroke-linecap="square" fill="none"/>
<path d="M36.7 145.8h0m0.1-1.8h0m0.1-9.8h0m0 8.6h0m0.1 0.8h0m0-17.5h0m0 14.8h0m0.1 2.7h0m0.1 0.2h0m0 0.1h0m0-0.1h0m0-5h0m0 0.8h0m0 4.6h0m0 1.2h0m0-3.4h0m0.1 3.4h0m0-5.7h0m0.2 2.8h0m0-0.3h0m0.1 3.5h0m0-1.2h0m0.1-6.2h0m0 5.5h0m0-5.8h0m0 6.9h0m0.1 1.4h0m0-0.5h0m0.1-4.6h0m0-7.2h0m0 12h0m0.1-6.2h0m0 3.5h0m0 2h0m0-2.9h0m0.1-0.1h0m0 2h0m0.1 1.3h0m0-3.1h0m0.1 1.7h0m0.1 2.5h0m0-3.1h0m0.1-2h0m0 4.6h0m0-1.4h0m0.1-3.8h0m0 0.5h0m0.2-0.4h0m0 2.8h0m0-1.6h0m0 2.3h0m0.1-0.5h0m0-3.5h0m0 5.3h0m0-13.8h0m0.1 11h0m0 1.8h0m0-5.3h0m0-0.5h0m0 7.5h0m0.1-5.4h0m0.1-0.8h0m0.1-2.1h0m0 6.6h0m0-6.2h0m0.1 4h0m0-5.7h0m0 5.5h0m0 0.2h0m0.1-4.2h0m0-1h0m0.1-5h0m0 14.1h0m0-3.3h0m0-1.4h0m0.1 2h0m0-0.2h0m0-10.6h0m0.1 12.2h0m0-4.7h0m0-0.5h0m0.1 6h0m0-0.4h0m0.1-5.1h0m0-1.4h0m0 3.2h0m0 0.5h0m0-4.8h0m0.1 1.3h0m0-1.6h0m0 4.2h0m0.1 0.8h0m0 3.6h0m0-2.3h0m0-1.2h0m0.1-0.9h0m0-3.7h0m0.1 6.6h0m0 1.5h0m0-11.5h0m0 8.1h0m0.1-5.2h0m0.1 4h0m0-1.5h0m0 1.1h0m0-0.5h0m0.1 2.6h0m0 2.9h0m0-3.2h0m0.1-0.9h0m0-6.4h0m0.1 9.4h0m0 1.5h0m0-15.4h0m0 8.7h0m0.1 3.4h0m0 2.2h0m0-1.9h0m0.1-6.3h0m0 9h0m0-9.4h0m0 2.8h0m0.1-0.8h0m0-1.8h0m0-6.6h0m0.1 5.2h0m0.1 4.1h0m0 0h0m0 3.9h0m0-5.1h0m0.1 3.1h0m0 1.1h0m0-8.8h0m0 2.8h0m0 2h0m0.1 0.6h0m0.1-1.7h0m0 1h0m0 6.1h0m0-0.2h0m0-5.9h0m0.2-0.9h0m0.2 3h0m0-3.8h0m0.1 0.6h0m0 3.8h0m0.1-1h0m0-6.4h0m0 10.6h0m0.1-11.5h0m0.1 8.3h0m0-9.6h0m0 9.6h0m0-17h0m0.1 13.6h0m0 0.4h0m0 2.1h0m0-0.6h0m0.1 5.1h0m0-8.1h0m0 4.2h0m0.1 1.4h0m0-2.4h0m0.1-5.8h0m0 5.8h0m0-0.5h0m0-11.5h0m0 1.1h0m0.1 6.2h0m0 10.1h0m0.1-6.9h0m0.1 6h0m0.1-11.2h0m0.1 12h0m0-12.5h0m0.1 2.8h0m0-0.2h0m0 3.7h0m0.1-1.7h0m0.1 4.2h0m0-5.2h0m0 1.3h0m0.1-5.6h0m0 7.1h0m0.1-2h0m0 8.3h0m0-4.7h0m0-1.1h0m0.1-3.5h0m0-2.3h0m0.1 0.8h0m0 3.2h0m0.1-0.3h0m0 8h0m0-7.8h0m0.1-8h0m0-2.5h0m0 16.4h0m0 1.4h0m0.1-6h0m0-1.6h0m0.1 5.8h0m0-3.6h0m0-2h0m0 5.3h0m0.1-14h0m0.2-0.2h0m0 8.1h0m0-6.5h0m0.1 0.6h0m0-3.1h0m0-5.8h0m0.1 13.1h0m0 4.9h0m0.1-5.2h0m0 11.2h0m0-10.6h0m0-1.8h0m0 0.8h0m0.1-6.3h0m0 14.2h0m0-5h0m0 0.3h0m0.1-4.7h0m0 7.8h0m0-4.5h0m0.3 3.8h0m0.1 3.2h0m0-9.6h0m0 10.1h0m0-5.7h0m0-2.8h0m0.1 0h0m0 1.9h0m0.1 3.8h0m0.1-11.4h0m0 8.5h0m0-3.7h0m0.1 3.3h0m0-1.9h0m0.1-9.7h0m0.1 6.9h0m0.1-1.8h0m0-2.5h0m0 8.3h0m0.1-0.2h0m0 4h0m0.1-6.6h0m0-3.1h0m0 6.5h0m0-4.5h0m0.1-0.7h0m0 0h0m0 2h0m0.2 3h0m0.1-19.5h0m0.1 14.4h0m0.1-3.6h0m0 15.2h0m0.4-9.3h0m0 1.2h0m0.3-3.9h0m0.1-4.3h0m0.1 8.3h0m0.3-0.9h0m0.3 5.6h0m0.1-10.9h0m0 7.3h0m0-6.5h0m0 2.8h0m0.7-4h0m0.1-8.2h0m0 9.1h0m0.2 7.9h0m0.1-10.3h0m0.1 3.9h0m0.5-1.4h0m0.2 7.2h0m0.2-8.5h0m0.1-1.2h0m0.1-7h0m0 8.9h0m0.2 7.7h0m0.2-5.1h0m0.2-14.2h0m0 9h0m0.4 3h0m0.4 0.6h0m0.5 9.3h0m1.1-18.7h0m6.2 4.1h0m4.5-8.5h0m0.9 5.7h0m16.5-19.8h0m2.1-4.1h0m54.2-54.5h0" stroke="#05060c" stroke-width="0.95" stroke-linecap="square" fill="none"/>
<path d="M38.3 146.2h0m15.6-20h0m9.6-3.5h0m0.1-2.1h0m0.3 0.5h0m4.8-18.8h0m0 7h0m1 2.9h0m2.2-1.5h0m0.4-7.5h0m1.2 4.5h0m0.5-1.9h0m0.2 3.6h0m0.3-0.4h0m4-8h0m3.6-1.3h0m0.2 3.2h0m0.7-4.2h0m0.9 2.4h0m0.1-3.5h0m0.2 4.1h0m2.2 0.2h0m0.6-1.5h0m1.6-3.2h0m1.4-3.1h0m2.2 5h0m9.1-21.1h0m14.8 1.1h0m10.2-28.1h0m5.2-1.4h0" stroke="#dcdb20" stroke-width="0.95" stroke-linecap="square" fill="none"/>
<path d="M35.00 147.27L171.00 10.51" stroke="#b4242a" stroke-width="1.1"/>
<path d="M35.00 147.30L171.00 8.50" stroke="#1a1a1a" stroke-width="0.8"/>
</g>
<rect x="35" y="8.5" width="136" height="138.8" fill="none" stroke="#858585" stroke-width="1"/>
<text x="166.4" y="140.9" font-size="10.5" text-anchor="end" textLength="58.9" lengthAdjust="spacingAndGlyphs" fill="#262626">WLS200s (a)</text>
<text x="37.8" y="16.8" font-size="8.4" textLength="79.8" lengthAdjust="spacingAndGlyphs">linear regression, n=4391</text>
<text x="37.8" y="23.3" font-size="5" textLength="109.5" lengthAdjust="spacingAndGlyphs">[0.9853 <tspan font-style="italic">x</tspan> + 0.008 m s<tspan dy="-1.6" font-size="3.6">−1</tspan><tspan dy="1.6">, <tspan font-style="italic">σ</tspan></tspan><tspan dy="-1.6" font-size="3.6">2</tspan><tspan dy="1.6"> = 0.917 m</tspan><tspan dy="-1.6" font-size="3.6">2</tspan><tspan dy="1.6"> s</tspan><tspan dy="-1.6" font-size="3.6">−2</tspan><tspan dy="1.6">]</tspan></text>
<text x="37.8" y="32.1" font-size="8.4" textLength="76.4" lengthAdjust="spacingAndGlyphs">lidar bias: −0.115 m s<tspan dy="-3" font-size="6">−1</tspan></text>
<g clip-path="url(#c10)">
<rect x="175" y="8.5" width="136" height="138.8" fill="#fff"/>
<path d="M209.00 8.50V147.30M175.00 112.60H311.00M243.00 8.50V147.30M175.00 77.90H311.00M277.00 8.50V147.30M175.00 43.20H311.00" stroke="#dcdcdc" stroke-width="0.6" fill="none"/>
<path d="M179 139.4h0m9.6-12h0m2 5.6h0m12.1-16.6h0m6-3.4h0m2.7-3.4h0m0.7 3.8h0m0.6-7.1h0m0.8 5h0m6.9-1.4h0m2.6-8.5h0m4.4-13h0m1.7-5.8h0m1 7.3h0m0.1 13.5h0m1.1-13.4h0m0.2-0.2h0m3.8-6.9h0m0.1 15.5h0m2.5-27.6h0m0.8 9.4h0m0.7 0.6h0m3.5-47.4h0m4 40.6h0m1-42.2h0m1.8 3h0m3.7 33h0m0.3 2.6h0" stroke="#bfd32c" stroke-width="0.95" stroke-linecap="square" fill="none"/>
<path d="M178.8 140.7h0m7.7-7.3h0m9-5.9h0m3.2-7.1h0m2.1-6.4h0m0.1 7.5h0m1.3-3.7h0m0.2-0.7h0m0.6 1.4h0m0 3.7h0m1 5h0m1-13.6h0m0.1 10.5h0m1.3-13.5h0m1.6 9h0m0.1-10.5h0m1 2.9h0m0.4-1.9h0m1.5-2h0m0.9 6.9h0m1.3-3.1h0m0-9.5h0m1.2-8.5h0m0.1 7.5h0m4.4-2.5h0m0.5 16.5h0m1-4.7h0m0.4-8.7h0m0.2-0.5h0m0.7-0.4h0m1-5.3h0m0.9 6h0m0.4-7.5h0m0.5 5.7h0m0.5-11.6h0m0.7 4.7h0m0 6.7h0m1-5.4h0m0.5 1.1h0m1.7 4.3h0m0.5 7.6h0m1.2-27.3h0m1.3 7.8h0m0.7 15.3h0m1-0.5h0m2.7-32.9h0m1.9 22.6h0m0.1-5h0m2.5-8.2h0m0.8 0.3h0m0.3 7.5h0m1.8-5.9h0m3.7-9.6h0m6.7 1.7h0m12.8-18h0m9.8-25.4h0m2.9 10.9h0m12.2-11h0" stroke="#269685" stroke-width="0.95" stroke-linecap="square" fill="none"/>
<path d="M176.8 137.7h0m0 9h0m0.8-4.9h0m0 1.3h0m0.2 2.6h0m0-10.7h0m0.1 4.4h0m0.3 2.1h0m0.1 2.1h0m0-3.5h0m0.6-9.2h0m0 15.1h0m0.4 0.2h0m0.2-6.9h0m0 3.9h0m0.1-13.1h0m0.2 15.3h0m0.1-6.3h0m0.2-7.4h0m0.3 13.3h0m0.1-17.1h0m0 12.5h0m0-1.8h0m0.2 2.1h0m0.3-3.9h0m0.2 4.9h0m0 5h0m0.1-3.7h0m0.1-10h0m0.1 7.5h0m0 2.5h0m0.2-6h0m0.1 6.6h0m0-1h0m0-2.3h0m0-2.1h0m0 2h0m0 0.3h0m0.1-3.2h0m0 6.6h0m0.1-5.6h0m0 4.2h0m0-3.1h0m0.1 4.9h0m0-7.5h0m0 7.2h0m0-2.2h0m0.2-4.3h0m0.1 7h0m0.2 0.3h0m0.1-2h0m0.1 0.7h0m0-3h0m0-5.7h0m0.2-1.2h0m0.1 5.6h0m0 1.2h0m0.1 1.3h0m0 0.4h0m0.2-1h0m0.1-3.3h0m0 2.2h0m0.1-5.6h0m0.2 4.9h0m0-3.4h0m0 5.6h0m0.1-13.2h0m0 0.6h0m0 11h0m0.1 5.8h0m0.1-6.7h0m0 2.7h0m0.1-6.2h0m0 5.7h0m0-0.6h0m0.1 0.7h0m0 0.5h0m0.4-8.7h0m0.1 0h0m0-2.4h0m0 11.1h0m0-0.9h0m0-8.5h0m0.1-9.7h0m0 12.4h0m0.1 3.8h0m0-2.3h0m0.1 3.3h0m0-5.8h0m0.1-1.3h0m0.1-10.7h0m0 21.2h0m0.1-9.3h0m0.1 6.6h0m0-1.9h0m0-3.5h0m0 2.5h0m0.1 3.1h0m0.1 4.8h0m0-8.9h0m0 4.1h0m0.1-5.2h0m0 8h0m0-9.2h0m0-0.5h0m0.2 3h0m0-10.4h0m0 6.5h0m0.1-7.6h0m0 9.5h0m0 5.3h0m0.1-4.8h0m0.1-1.8h0m0.1 0h0m0 0h0m0.1-11.7h0m0.1 21.5h0m0-5.6h0m0.1-22.6h0m0 28.4h0m0.1-4.6h0m0-0.3h0m0.2-11.7h0m0.1 4.4h0m0.1 11.2h0m0-16.1h0m0.1 11.1h0m0 2.1h0m0-9.3h0m0.1 10.4h0m0-5.9h0m0-10.6h0m0.1 0.3h0m0 7h0m0.2 0.9h0m0-1.8h0m0.1 0.7h0m0 1.4h0m0 2.3h0m0.1 0.4h0m0.1-2.8h0m0 4.1h0m0.1-4.7h0m0 4.8h0m0-7.1h0m0.1 4.9h0m0-1.8h0m0 1.6h0m0-4.7h0m0 0h0m0.1 3.1h0m0 10.7h0m0.1-12.8h0m0 5.3h0m0-6.8h0m0 4.6h0m0-13.4h0m0.1 14h0m0-2h0m0 2.2h0m0.1 1.1h0m0-0.3h0m0-12.5h0m0.1 9.1h0m0 2.5h0m0.1 7.1h0m0 1.7h0m0.1-15.4h0m0 13.1h0m0-11.5h0m0.1 2.1h0m0 4h0m0-3.8h0m0.1-1.7h0m0.1 4.7h0m0-0.9h0m0-0.4h0m0.1-2.4h0m0 6.9h0m0.1-3h0m0 4h0m0-6.4h0m0.1 1h0m0-0.8h0m0 6.1h0m0.1-4.8h0m0 10.6h0m0-5.2h0m0.1-11.8h0m0 3.4h0m0.1-1.3h0m0 3.2h0m0.1 7.3h0m0.1-9.8h0m0-1.2h0m0 5.5h0m0.1-13.9h0m0 18h0m0.1-6.6h0m0.2-0.7h0m0 9.7h0m0.1-11.1h0m0 6.5h0m0-6.7h0m0.1-1.2h0m0-2.3h0m0.1 8.1h0m0 6.2h0m0-9.4h0m0 0.3h0m0.1 0.7h0m0-1.4h0m0.1 3.4h0m0-2.9h0m0.1 0.5h0m0-2.3h0m0.1 1.1h0m0 4h0m0-4h0m0.1 0.2h0m0.1-5.8h0m0-1.2h0m0.1 6.7h0m0.1-3.1h0m0 6h0m0-4.2h0m0-3.1h0m0.1 8.5h0m0.1-7.5h0m0-3.9h0m0 10.2h0m0.1-2.1h0m0-4.3h0m0.1 6.4h0m0.1-5.1h0m0 3h0m0-5.8h0m0 7.8h0m0 2.3h0m0.1-3.6h0m0 13h0m0.1-17.9h0m0 2.6h0m0.1 7.6h0m0-6.4h0m0 0.3h0m0-2.7h0m0.1-0.3h0m0 1.6h0m0-0.2h0m0.1-11.8h0m0 11.3h0m0 7.5h0m0.1-2h0m0.1-4.3h0m0 3.7h0m0-2h0m0.1-5.7h0m0.1 4.8h0m0.1-4.4h0m0 3.5h0m0-0.8h0m0 1.4h0m0.1-4.7h0m0.1 8h0m0.1-4h0m0.1 0.4h0m0.2-3.9h0m0 6.5h0m0.1-1h0m0-6.3h0m0 15.2h0m0.1-8.3h0m0.1-1.1h0m0-6.5h0m0.1 1.7h0m0.2 2h0m0 7.9h0m0.2-11h0m0 4.3h0m0 3.5h0m0-8.3h0m0 10.4h0m0.1-8.7h0m0 6.1h0m0-2.6h0m0.2-3.8h0m0 4.4h0m0-0.5h0m0-4.1h0m0.2 2.9h0m0.1-6.4h0m0 5.5h0m0.1 2.1h0m0.2-4.5h0m0.1-4.1h0m0 0.8h0m0-0.9h0m0.3 0.1h0m0.1 1h0m0 4.2h0m0-16.7h0m0.1 17.5h0m0.1 0.4h0m0.1-2h0m0.2-5.1h0m0.3 11.6h0m0.1-4.5h0m0-8.2h0m0.1 14.8h0m0-10.5h0m0 9.3h0m0.2-7.8h0m0 1.2h0m0.1-3h0m0 0.9h0m0.1-11.2h0m0 12.8h0m0.1 0h0m0.3-1.1h0m0 3.1h0m0-1.5h0m0.1-3.2h0m0 3.9h0m0.1-4.7h0m0.3-10.4h0m0 6.2h0m0.2 7.7h0m0-18.4h0m0 11.1h0m0.2 4.8h0m0 2.6h0m0-4h0m0-7.1h0m0 7.1h0m0.1 2h0m0.3-7.5h0m0.5 2.1h0m0.1 6.3h0m0.2-2.5h0m0.3-8.2h0m0.1 8.7h0m0 0.8h0m0.4-5.6h0m0 14.2h0m0.3-4.9h0m0-10.8h0m0.2 6.1h0m0.2 1.8h0m0.2-9.1h0m0.1 2.6h0m0.1 2.3h0m0.1 5.3h0m0.1-4.1h0m0.1 8.3h0m0.3-9.8h0m0-4.7h0m0.1 3.8h0m0.3-4.6h0m0.1 22.7h0m0.3-26.1h0m0.2 0.7h0m0.1-5.8h0m0.6 9.8h0m0-1h0m0.3 5.6h0m0.4-3.8h0m0.3 5.4h0m0.2-8.4h0m0.4-1.7h0m1.2 13.1h0m0.7-13.2h0m0.3 1h0m0 1.9h0m0 2.3h0m0.2-6h0m0.2 4h0m0.3-8.9h0m0.2 6.2h0m0.1-4.8h0m0.1 10.8h0m1.3-5.2h0m0-2.1h0m0.7-1.9h0m0.2-1.5h0m0.6 4.5h0m0.2-3h0m0.2 0.8h0m0.1-4h0m0.5 4.4h0m0.5-3.4h0m0.3 3.7h0m0.3 1.3h0m0-9.4h0m1 11.6h0m0.3-7.9h0m0.5 5.6h0m1.2-4.2h0m0.4 2.6h0m0.2-5.9h0m1.4-1.1h0m1.1 0.2h0m1.2-0.4h0m0.3-2.3h0m2.5-2.5h0m0.1-1.7h0m5.2-1h0m0.5-4.9h0m0.8 0.7h0m5.5-9.5h0m0.2 10.7h0m1.4-9.7h0m0.5 2.7h0m0-24.5h0m2.1 20.1h0m1 5.9h0m13.2-31.6h0m41.9-29.2h0" stroke="#12162d" stroke-width="0.95" stroke-linecap="square" fill="none"/>
<path d="M182.9 144.4h0m1.1-3.4h0m0.9 0.9h0m1.3-5.6h0m0.1-8.2h0m0.9 10.3h0m0.3-11.5h0m0 7.3h0m0.2-0.9h0m0.8 5.1h0m0.3 4.7h0m0.2-9.8h0m0.8 2.6h0m0.1-5.9h0m0.3 2.8h0m0.6-1.2h0m1.5 7.9h0m0-9.2h0m0.6 2.5h0m0.2-7.4h0m0.1 11.8h0m0-11.4h0m0.1-2.1h0m0.4 10.2h0m0-4.3h0m0.1-6.2h0m0.3 0.9h0m0.1-0.5h0m0 8.7h0m0.2-4.5h0m0.1-1.8h0m0.1 3.4h0m0.2-8.4h0m0.8 11.7h0m0-4.8h0m0.6-4.8h0m0.1 3.8h0m0.1 0.9h0m0.1-2.9h0m0.3 0.1h0m0.1-1.8h0m0.1 0.1h0m0.1 14.4h0m0.2-8.6h0m0 1.5h0m0.3-4.3h0m0-5.4h0m0 16.3h0m0.2-11.7h0m0-3.7h0m0.1-2.4h0m0 4.9h0m0.1 0.4h0m0.1 3.7h0m0.3-3.5h0m0.2 2.2h0m0.1-10.2h0m0.1-3.7h0m0.1 16.6h0m0.2-6.8h0m0-2.4h0m0.1 0.4h0m0.1 1.2h0m0.1 10h0m0.2-10.3h0m0.1 10.1h0m0-8.3h0m0.1-2.5h0m0.1 1.5h0m0 9.9h0m0.1-8.3h0m0.1-3.3h0m0.2 8.1h0m0.1-11.2h0m0-12.7h0m0.1 19.7h0m0.1-1.8h0m0.1-1.1h0m0 1h0m0-3.8h0m0.1 9.3h0m0-4.5h0m0.3 5.3h0m0.5-8.4h0m0.2-1h0m0 3.4h0m0.3 0.1h0m0-2.7h0m0 14.6h0m0.1-13.1h0m0.2-0.1h0m0.4-2.8h0m0.2 9.3h0m0.2-4.9h0m0.2-3.6h0m0 1.7h0m0.1-0.3h0m0.3 10.5h0m0-10.6h0m0.3 3h0m0-6.4h0m0 4.3h0m0.1-0.9h0m0.4-3.8h0m0.5 2.2h0m0 7h0m0.7 1.1h0m0.1-14.9h0m0.1 1.3h0m0 10h0m0.6-4.6h0m0-5.9h0m0.1-4.9h0m0.3 8.3h0m0.3 6.3h0m0.2-15.8h0m0.2 15.7h0m0-11h0m0.5 0.8h0m0 3.8h0m0.2 7h0m0.1-17.2h0m0.1 9.5h0m0-1.2h0m0-15.4h0m0.7 14.6h0m0-4.4h0m1 0.2h0m0.9 0.7h0m0.1 0.8h0m1.4 0.3h0m0.2-1.7h0m0.8-4h0m0.2 1.1h0m0.8-5.2h0m0 1.9h0m0.3-3.2h0m0 11.1h0m0.3-6.7h0m0.2 4h0m0.3-7.7h0m1 10.7h0m0.4-4.9h0m0.2-3.6h0m1.2 11.5h0m1.2-14h0m0.4-13.4h0m0.1 11.1h0m0.3 0.7h0m1.5 0.9h0m1.2-2.1h0m0.1 1.6h0m2.2-5.6h0m0.2-8.6h0m2.7 8.7h0m0.8-15.1h0m0.5 15.1h0m0-6.6h0m3.1-5.4h0m0.6-2.7h0m3.1 4.7h0m3.4-2.2h0m0.8 0.4h0m9.6-14.1h0m11.4-17.4h0" stroke="#334c85" stroke-width="0.95" stroke-linecap="square" fill="none"/>
<path d="M182 142.3h0m5.9-7.5h0m2.7-6.5h0m0.1 0.7h0m4.1-3.3h0m6.6-4.7h0m0.3 1.3h0m1.2-2.7h0m1.2-5.2h0m1.7-7.7h0m0.1 10.3h0m0.1 0h0m0 10.1h0m2.2-21.8h0m0.4 13.5h0m0.1-5h0m0.7-5.2h0m0.5-4.8h0m0.7 11.6h0m0.2-5.3h0m1.8 1.5h0m0.4-15.4h0m0.8 8.8h0m2.8-4.3h0m0.7 5.6h0m1.3 1h0m1.4-3.6h0m2.3-7.3h0m6.8-13.5h0m0.1 9.9h0m0.2-8.6h0m4.1-2h0m1.2 9.3h0m1.9-12.1h0m2.9 5.2h0m0.4 1.9h0m7.7-34.2h0m0.1 32.7h0m0.9-17h0m3.2 10.1h0m2.8-20.6h0m5.2-6.7h0m2.8-11.3h0m15.7 1.1h0m8.4 1.1h0" stroke="#4db068" stroke-width="0.95" stroke-linecap="square" fill="none"/>
<path d="M177.2 143.5h0m0.1-0.4h0m1.3 2.1h0m1.3-7.6h0m0.6-1.7h0m0.3 4.3h0m0.4 4.4h0m0.3-0.3h0m0.4-8.7h0m0.2 2.4h0m0.6 3h0m0.3-2.9h0m1 4.1h0m0.1-2.4h0m0.2 0.9h0m0.1-8.6h0m0 6.6h0m0.2 3.6h0m0.2-5.9h0m0.1 10.3h0m0.1-24.5h0m0.1 17.8h0m0.1-8.5h0m0 6.3h0m0.7-9.7h0m0 9.1h0m0.8 0.9h0m0.1-2.4h0m0 3.9h0m0-4h0m0-7.1h0m0.2 4.3h0m0.1-4h0m0.2 5.2h0m0.1-1h0m0-3.5h0m0.1 9h0m0.1 4.2h0m0.1-2.8h0m0-2.1h0m0.2-5.3h0m0.1 9.2h0m0.2-8.8h0m0.1 0h0m0.1 3.1h0m0.1-0.8h0m0-5h0m0.1 9.3h0m0-5.4h0m0.1 6.1h0m0-7.2h0m0.2 0.8h0m0.1-1h0m0.1-1.8h0m0.1 5.1h0m0-4.9h0m0 4h0m0.1-6.4h0m0.2 5.4h0m0.1-1.4h0m0 1.7h0m0.1-22.9h0m0.1 22.9h0m0.1 6.1h0m0-4.1h0m0.2-2.5h0m0-2.6h0m0.2-1.7h0m0 4.6h0m0.2 4.6h0m0-7.2h0m0.1 7.7h0m0-6.9h0m0-12.9h0m0.2 13.4h0m0-3.5h0m0.1 2.3h0m0-9.8h0m0.1 18.4h0m0-5.2h0m0-3.7h0m0 5h0m0.1-7.1h0m0 3.2h0m0.1-1.5h0m0-0.7h0m0.2 0.6h0m0-3.1h0m0.3 5.4h0m0-10.5h0m0 7.8h0m0.1 3h0m0-0.6h0m0.2-17.9h0m0.1 16.5h0m0.1-6.3h0m0.1 4.3h0m0.1-1.2h0m0.1-0.2h0m0.1-5.7h0m0 3.1h0m0.2 9.5h0m0.1-1.9h0m0.1 3.2h0m0-6.4h0m0-2.1h0m0 3.3h0m0.1 2.3h0m0-10.4h0m0.1 0.5h0m0.1 7.4h0m0-0.4h0m0.2 0.6h0m0.1-4.5h0m0.1 4.9h0m0.1 5.7h0m0.2-13.4h0m0.3 2.4h0m0.1 10.6h0m0.1-8.6h0m0.2-1h0m0-7.5h0m0 13h0m0.2-3.8h0m0.1-3.9h0m0 0.2h0m0.2-3h0m0 7.9h0m0-2.8h0m0.1-1.4h0m0 1.8h0m0.1-2.3h0m0-3.6h0m0-0.7h0m0.1 2.9h0m0 3h0m0.2 0.2h0m0-3.6h0m0.1 2.6h0m0.1-10.5h0m0.1 17.1h0m0-9.3h0m0-6h0m0 7.6h0m0.3 2.4h0m0.1 1.6h0m0-5.7h0m0.1 0.3h0m0 2.7h0m0.2 11.5h0m0.3-8.9h0m0-5.3h0m0.2-12.6h0m0.1 10.1h0m0 9.1h0m0-7.9h0m0.1-2.8h0m0.1 6.8h0m0.2-5.7h0m0 4.2h0m0.1 4.9h0m0-9.8h0m0.1 3.7h0m0.2 1.5h0m0.1-15.2h0m0 18.8h0m0.1 1.5h0m0.2 0.6h0m0.1-15.3h0m0.1 5.6h0m0.1-3.2h0m0 1.5h0m0.1 3.7h0m0.1 2h0m0-8.1h0m0.1 22h0m0-20.2h0m0.1 5.8h0m0.1 7.6h0m0-5.1h0m0.1-3.3h0m0.5-0.7h0m0.2-5.7h0m0.1 6.7h0m0.5-1.3h0m0.1 1.7h0m0.1-3.2h0m0-2.5h0m0 6.8h0m0.1-2.7h0m0.1-2.8h0m0.1 11.4h0m0-17.4h0m0.1 13.1h0m0-11.2h0m0.2 3.6h0m0.2 5.5h0m0-7.8h0m0.1 6.9h0m0.4-0.7h0m0.2 0h0m0-5.6h0m0-3h0m0.2 15.1h0m0.1-11.7h0m0 4.6h0m0.1-16.2h0m0.1 10.3h0m0.1 7.9h0m0-7.3h0m0.3 4h0m0-4.2h0m0.1 1h0m0.1-2.7h0m0.1 3.2h0m0 2.5h0m0.1 1.5h0m0.1-4.7h0m0-2.6h0m0.1 0.6h0m0.3 2.5h0m0.2-1.6h0m0-3.3h0m0.1 13.6h0m0-7h0m0.2-1.7h0m0.1-14.7h0m0.2 9.1h0m0.2 0.6h0m0-2.5h0m0.2 8.8h0m0.5-1.4h0m0 1.4h0m0.2-4.2h0m0.1 5.8h0m0.2-6.6h0m0.1 4.5h0m0.1-7.4h0m0 7.5h0m0.2-0.6h0m0.1-6.5h0m0 0.4h0m0.2 10.8h0m0.2-10.4h0m0.1 5.4h0m0.3-3.2h0m0.1 3.6h0m0.6-11.5h0m0.4 8.9h0m0.1-4.9h0m0.8 2.4h0m0.3-19h0m0.3 10.3h0m0.6 3h0m0.4-2.8h0m0.7 5.1h0m0.6 2.6h0m0.2-4.3h0m0.1-1h0m0.1-1.1h0m0.3 9h0m0.7-6.2h0m0.2-2.6h0m1.4 0.5h0m0.8-2.7h0m0.6 2.1h0m0-1.5h0m0.3 4.5h0m1.4-6h0m0.1-1.3h0m1 5h0m2.1-6.4h0m1.3 12.6h0m2.6-7.3h0m0.8-4h0m3.5-9.4h0m2.4 9.3h0m0.8-18.7h0m12.2-6.3h0m5.9 5.2h0m4.8-18.9h0m0.9-1.7h0" stroke="#232f58" stroke-width="0.95" stroke-linecap="square" fill="none"/>
<path d="M176.8 145.4h0m0-12h0m0.1 11.3h0m0-3.9h0m0.1-1.9h0m0 4.1h0m0.2 2h0m0-2.1h0m0.1 1.9h0m0.1 0.6h0m0-0.5h0m0.1-0.1h0m0-7h0m0 6.5h0m0-0.6h0m0-2.7h0m0-0.3h0m0.1 1.2h0m0-2.9h0m0 4.8h0m0 2.3h0m0-7.6h0m0 5.1h0m0 2.6h0m0.1-0.1h0m0-0.9h0m0.1-4.2h0m0 4.1h0m0.1 0.3h0m0-6.8h0m0 6.6h0m0-4.1h0m0.1-9.6h0m0 13.8h0m0-0.4h0m0 0.9h0m0.1-0.3h0m0 0.9h0m0-4.8h0m0 2.4h0m0.1-4h0m0 0.7h0m0 4.5h0m0-6.6h0m0.2 6.7h0m0-4.4h0m0 2.7h0m0 1.8h0m0.1 0.1h0m0 0.6h0m0-2.9h0m0 1.5h0m0-0.8h0m0.1-0.8h0m0-7.3h0m0 2.2h0m0.1 7.3h0m0-13.6h0m0 11.3h0m0 0.7h0m0-7.1h0m0.1 9.8h0m0-0.7h0m0-1.6h0m0.1 0.7h0m0.1-1h0m0 0.9h0m0-1.5h0m0 1.5h0m0-3h0m0 1.8h0m0.1 0.2h0m0-0.4h0m0-4.8h0m0 5.2h0m0-7.4h0m0.1 10h0m0-1.9h0m0-1.5h0m0.1-0.6h0m0 4.5h0m0-2.2h0m0 0.9h0m0-4.5h0m0.1 0.6h0m0-1h0m0-3.5h0m0 5.6h0m0.1 0.4h0m0-0.9h0m0-1.4h0m0-10.2h0m0 10.8h0m0.1 2h0m0-1.6h0m0 1.4h0m0-0.3h0m0 3.8h0m0-2.3h0m0.1-4.2h0m0 2.1h0m0 2.2h0m0.1-0.5h0m0-5.1h0m0 6h0m0 1h0m0-0.6h0m0.1-4.6h0m0-1.7h0m0 7.3h0m0-7.2h0m0.1-2.9h0m0 7.7h0m0-1.3h0m0.1 0.2h0m0 2.6h0m0-5.8h0m0 6.5h0m0-0.7h0m0.1-0.2h0m0-0.5h0m0.1 0.4h0m0-1h0m0.1 2.7h0m0-0.4h0m0-5.2h0m0-0.5h0m0-3.2h0m0 0.7h0m0.1 5.4h0m0 2.5h0m0-6.2h0m0-3.3h0m0.1 9.2h0m0-2.7h0m0-3.2h0m0 4.1h0m0-5.7h0m0 0.3h0m0.1 4h0m0-3.7h0m0 5.5h0m0-1.4h0m0-3.5h0m0.1 3.3h0m0-1.5h0m0-6.1h0m0.1 7h0m0 3.2h0m0-1.3h0m0.1-11.1h0m0 6h0m0-1h0m0.1 4.9h0m0 1.1h0m0-4.7h0m0-5.8h0m0-0.8h0m0 5.9h0m0.1 6.3h0m0-5.1h0m0-0.6h0m0.1 7.5h0m0-10.5h0m0-13.4h0m0 19.1h0m0 0.4h0m0.1-0.8h0m0-1.1h0m0-3h0m0.1 5.1h0m0 1.4h0m0-7.6h0m0-1.3h0m0 2.6h0m0 6.3h0m0-5.8h0m0.1 3.6h0m0 4.3h0m0-9.4h0m0-1.6h0m0-1.4h0m0 6.5h0m0.1 3.5h0m0-1.6h0m0.1-7h0m0 7.5h0m0 3.5h0m0-3.4h0m0.2-5.3h0m0 4.8h0m0 4.7h0m0-11.7h0m0 7.3h0m0.1 0.3h0m0-2.4h0m0 4.4h0m0-6.4h0m0 2.6h0m0-0.2h0m0-1.6h0m0.1-1.3h0m0 0.9h0m0 1.6h0m0-9.8h0m0 9h0m0-0.7h0m0.1 2.8h0m0-11.6h0m0 11.4h0m0.2 1.2h0m0 0.5h0m0-7.5h0m0.1 4.1h0m0 3.5h0m0 3.3h0m0.1-10h0m0 1h0m0 9.1h0m0-0.2h0m0.1-11.8h0m0 3.5h0m0-1.9h0m0 10.4h0m0-6.3h0m0.1-1.6h0m0 7.5h0m0-8.9h0m0.2-1.8h0m0 8.5h0m0.1-0.2h0m0-2.1h0m0-19.7h0m0 20.4h0m0.1 0h0m0-2.1h0m0-2.7h0m0 0.6h0m0-1.7h0m0.1 9.5h0m0 0.6h0m0-2.4h0m0-8.4h0m0.1-1.3h0m0-1.8h0m0 4.1h0m0.1 6.6h0m0-2.3h0m0 0.5h0m0-2.9h0m0 2.4h0m0.1-16.1h0m0 12.5h0m0.1 2.9h0m0-6.3h0m0 1.4h0m0.1 9.8h0m0-6h0m0 4.5h0m0-12.6h0m0 9h0m0-5.8h0m0.1 4.5h0m0 0.4h0m0 1.2h0m0-2.5h0m0 7.4h0m0-6.5h0m0 0.8h0m0-7h0m0.1 5.3h0m0-0.5h0m0 2.5h0m0-9.3h0m0 2h0m0.1 4.4h0m0-1.7h0m0 6h0m0-2.4h0m0 0.7h0m0.1-1.2h0m0-1.6h0m0 4.9h0m0-4.9h0m0.1-2h0m0 2.5h0m0 1h0m0-2h0m0.1-10.4h0m0.1 4.5h0m0.1 7.1h0m0 3.4h0m0-0.4h0m0.1-7.1h0m0 6.3h0m0-2.4h0m0 8.4h0m0 0.9h0m0.1-5.5h0m0 0.7h0m0-3.6h0m0.1 1.7h0m0.1-1.2h0m0.1-1.9h0m0-1.6h0m0-1.4h0m0 4h0m0.2 1.9h0m0.1-1.2h0m0.1 0.7h0m0-2.8h0m0.1-6.7h0m0.1-0.2h0m0 3.9h0m0 0.1h0m0.1 3.6h0m0 2.7h0m0.1-15.3h0m0.1 12.9h0m0.1 1.7h0m0-0.2h0m0.1 3.7h0m0-2.9h0m0.1-9.5h0m0.2 13h0m0.1-7.3h0m0 5.1h0m0.1-9.4h0m0 1.1h0m0 4h0m0.1 2.4h0m0-1.8h0m0.1-4.2h0m0.1-10.4h0m0 16.7h0m0-2h0m0-2.2h0m0.1 4.6h0m0.2 2.3h0m0.2-9.6h0m0-3.7h0m0 6.5h0m0.1-11.4h0m0 13.9h0m0.1-3.5h0m0-6.5h0m0.1-1.9h0m0 8.5h0m0 3.3h0m0-0.5h0m0.1-2.4h0m0 5h0m0.1-3.5h0m0.2 2h0m0.1 7.6h0m0.1-6.4h0m0 4.7h0m0.1-9.1h0m0 7.7h0m0.1 3.4h0m0-13.3h0m0.1-0.1h0m0 5.2h0m0-4h0m0.1 0.3h0m0 0.6h0m0.1 0.4h0m0.1 8.3h0m0-6.4h0m0.3-13.6h0m0.3 7h0m0 1.7h0m0.3-8h0m0.1 15.2h0m0-2.4h0m0.1-3.1h0m0.1-9.9h0m0.2 8.6h0m0.2-5.6h0m0 4.2h0m0.1 3.6h0m0.1 1.3h0m0.1-0.1h0m0-3.2h0m0.1-0.3h0m0.5-9.5h0m0.1 17.7h0m0.1-8.9h0m0.1-4.4h0m0 0.8h0m0.1 10.9h0m0.2-7.6h0m0.2-4.6h0m0 0.1h0m0 4.4h0m0.1 8.1h0m0.1-6.5h0m0-9.1h0m0 1.1h0m0.1 7.8h0m0.3-8.2h0m0.1 4.9h0m0.1 1.4h0m0.1-13.1h0m0 16.2h0m0.3-0.7h0m0.7-1.6h0m0.6-4.1h0m0.2 4.8h0m1-3.2h0m0.2-3.9h0m0.7 1.3h0m3.7 9.7h0m1.6-14.8h0m0.3-0.4h0m0.4-5.8h0m0 7.6h0m0.1-3.1h0m0 2h0m0.3-3.9h0m0.1-1.8h0m0 8.3h0m0.6-12.5h0m0.1 1.4h0m1 2.8h0m1.8-1.9h0m0.1 1.1h0m0.3-0.6h0m0.1-0.6h0m0.2 2.8h0m0-7.5h0m0 0.5h0m0.5-0.8h0m0.3 9.2h0m0.7-9.1h0m0.4 16.7h0m1-19h0m4.6 3.4h0m1.2-6.7h0m6-6.9h0m1.8-9.8h0m1.1 14.2h0m0.4-13.1h0m0.8 5.1h0m2-11.8h0m1.1 12.8h0m1-14.7h0m19.4-5.7h0m2.8-11.1h0m14.7-9.7h0" stroke="#05060c" stroke-width="0.95" stroke-linecap="square" fill="none"/>
<path d="M181.3 140.3h0m12.5-11.2h0m0.2 4.4h0m2.9-11.8h0m1.8 8h0m0.2 1.5h0m2.3-3.4h0m1.9-6.1h0m1.2-1h0m0.4-3.4h0m0.3 0h0m1.3-6.4h0m1.6 4.8h0m0.9-9.1h0m0.1 13.4h0m1.8-18h0m0.2 12.1h0m1 0.3h0m0 1h0m2-5.8h0m0.5-0.9h0m0.1 1.8h0m1-7.4h0m0.5 6.3h0m0.2 1.7h0m2-10.2h0m1 5.2h0m1.3-4.5h0m1.8-5.5h0m1 9h0m0.5-13.1h0m0.2 10.2h0m1.9-14.5h0m1.6 10.6h0m0.3 0h0m0.3-2h0m0.2-4.7h0m0.3 2.5h0m0.3-0.3h0m2.6-1.8h0m1.7-9.3h0m12.9-6.9h0m4.3-1.1h0m58.6-64h0" stroke="#33a478" stroke-width="0.95" stroke-linecap="square" fill="none"/>
<path d="M183.1 136.3h0m5.2-1.2h0m4.8-14.5h0m2.4 11.5h0m7.3-12.8h0m1.7-8.6h0m10.8-10.4h0m0.9 1.7h0m0.6-2.7h0m7.3 2.9h0m5.4-6h0m1-7.7h0m0.9 0h0m2.8-11h0m1.4 6.6h0m0.2 9.5h0m0.2-9.7h0m0.2 19.1h0m6.7-23.4h0m3.2-53.2h0m0.6 0.7h0m0.7 40.2h0m4.2 2.1h0m0.2-36.3h0m17.6 19.9h0" stroke="#dcdb20" stroke-width="0.95" stroke-linecap="square" fill="none"/>
<path d="M186 139.3h0m3.9-2.9h0m0.2-12h0m0 4h0m0.5 3.5h0m3.3-3.3h0m0.3 7.7h0m0.3-7.7h0m0.2-3h0m0.1 4.9h0m0.3-7.8h0m0.1 2.6h0m0.2-9.5h0m0 4h0m0.3 5.5h0m0.1-1.6h0m0.1-9.8h0m0 9.6h0m0.3-0.4h0m0 6.8h0m0.8-1.5h0m0-2.1h0m0.4 0.6h0m0.4-9.2h0m0.4 0.4h0m0.1-2.3h0m0.1 9.2h0m0.9 1h0m0-6.1h0m0.2 7.7h0m0.1-3.2h0m0.4-5.5h0m0.1-2.5h0m0.2 3.5h0m0.6-14.2h0m0 12h0m0.1 0.2h0m0.1 21.3h0m0.1-9.5h0m0.2-28.3h0m0 18h0m0 2h0m0.7-1.9h0m0 4.8h0m0.3-2.6h0m0.7-2.9h0m0.1 4.1h0m0.1-7.1h0m0.1 3.1h0m0.1 0.8h0m0-5.2h0m0-4.6h0m0.3 3.5h0m0 4.5h0m0.1 5h0m0.8 5.8h0m0.4-14.6h0m0.1 11.9h0m0.5-5.5h0m0.6-4.6h0m0.1-1.5h0m1.5 5.6h0m0.5-9.4h0m0.4-3.7h0m0 5.6h0m0.1 9.9h0m0.6-7.7h0m0.1-7.7h0m0.2 4.7h0m0.1-1.3h0m0.1 12.2h0m0-9.1h0m0.3-7.4h0m0.2 3.4h0m0-3.6h0m0.2 11.3h0m0.3-14.8h0m0.7 7.3h0m0.4-1.9h0m0.1 2.5h0m0-1.7h0m0.1 4.5h0m0.3-4.1h0m0 2.7h0m0.5-1.3h0m0-5.5h0m0.1-0.2h0m0.9-5.8h0m0.1 2.5h0m0.4 1.6h0m0.5 3.5h0m0.6 0.6h0m1-8.3h0m0 8.5h0m0.2-9h0m0.1 12.5h0m0.1-8.5h0m1 3.6h0m0.2 1.5h0m1.4-1.9h0m0-8.7h0m1.5 5.9h0m0.9-6.3h0m1.1 2.9h0m0.1-8.4h0m1.2 10.2h0m2.2-12.8h0m1.4 3h0m3 1.1h0m0.8 8.9h0m2.4-10.1h0m2-12.6h0m0.1-3.8h0m1.9 7h0m0.4-0.1h0m0.1 1.9h0m0.1 1.6h0m6-20.1h0m1.3-9h0m9.4 7.1h0m15.7-19.8h0m10.3-1.1h0" stroke="#37629a" stroke-width="0.95" stroke-linecap="square" fill="none"/>
<path d="M198.2 122.7h0m5.9-1.1h0m2 1.6h0m2.6-17.5h0m0.5 8.9h0m0.9-2.4h0m3.7-3.6h0m0.9 3.2h0m2.6-5.1h0m0-13.7h0m2.7 10.8h0m2.5-0.9h0m1.3-2.5h0m0.2-9.9h0m0.2 9.5h0m0.2-5.3h0m2.2 3.7h0m0.2 1h0m1.4-12.4h0m0.5 3.5h0m0.6 5.9h0m5.9-11.8h0m0.3 7.4h0m7.4-20.1h0m1.2 0.6h0m0.7-1h0m1.1 4h0m16.2-13.6h0m0.2 5.4h0m2.7-3.4h0" stroke="#99c940" stroke-width="0.95" stroke-linecap="square" fill="none"/>
<path d="M177.7 141.7h0m3.5-3h0m1.6 0.5h0m2.2 0.2h0m4.9-5.5h0m3.2-3.9h0m4.2-16.7h0m9.5-1.5h0m0 8.7h0m1.1-8.3h0m1.9 9.5h0m2.7-4.1h0m8.2-16.2h0m0.9-4.6h0m5.9-0.2h0m4.4-2.8h0m0.1-3.6h0m7-9.8h0m3.2 11.5h0m1-1.2h0m0.3-9.2h0m3.9-3.5h0m1.8-6.2h0m10.1-12.9h0m2-4.1h0m10.5-9.5h0m5.4-21.1h0m26.6 21.4h0" stroke="#73be54" stroke-width="0.95" stroke-linecap="square" fill="none"/>
<path d="M179.5 145.5h0m7.3-5.5h0m5.8-7.8h0m0.1-6.4h0m0.4 10.2h0m0.1-7.3h0m0.4-17.6h0m1.4 20.1h0m0.8-0.9h0m2.1-4.6h0m0.7-1.1h0m1.1-15.3h0m0.2 7h0m0.7-2.3h0m0.7 10.2h0m0.7-11.1h0m0.2 8.9h0m1.2-4.5h0m0 7.4h0m0.1-3.3h0m0.2 1.9h0m0.4-5.4h0m0.7 3.6h0m0-5h0m2.3-4.7h0m0-0.1h0m0.4 0h0m0.1 1.2h0m0.3 0.7h0m0.3 5.5h0m1.2-5.5h0m0.1 18.2h0m0.4-21.1h0m0.5 2.1h0m0-1.3h0m0.2 2.6h0m0.6 5.6h0m0.5-11.8h0m0.9 6.2h0m0-7.3h0m0.4-2.3h0m0.3 5.8h0m1 2.1h0m0.1-12.1h0m0.6 8.7h0m0-2.8h0m0.7 8.3h0m0-9.7h0m0.1 8.8h0m0-4.9h0m0.1-13.1h0m1.2 13.9h0m1.3-6.9h0m0.4-0.8h0m0.5 3h0m0.2-1.3h0m1.3-5h0m1.1 8.3h0m0.5-7.1h0m0.5 1h0m0.6-2.8h0m4-2.9h0m0.8 0.8h0m1.8-2.5h0m0.3-8.2h0m0.7 1h0m1.2 5.5h0m0.4-7.9h0m1.3 2.7h0m0.7 0.8h0m1.7 0.2h0m1.5 1h0m0.9-6.4h0m10.4-8.9h0m21.1-20.2h0" stroke="#278090" stroke-width="0.95" stroke-linecap="square" fill="none"/>
<path d="M180.8 138h0m0.7 6.1h0m0.4-8.6h0m3.4-4h0m6-1.6h0m1.2 4.4h0m3-10h0m0.7 8.7h0m2.3 8.1h0m1.2-21.7h0m1.1 3.6h0m0.8-5.5h0m3-4h0m0.7 12.7h0m0.2-7.1h0m0.7 3h0m1.9-9h0m0.4 3.9h0m0.1 1.6h0m2-15.1h0m0 6.7h0m0.2 2h0m0.1-4.3h0m0.1 0.3h0m1.7 15.2h0m0-15.9h0m0.7 3.8h0m0-4h0m2.2-1.2h0m0.6-6.9h0m0.3 17.4h0m0.4-11.1h0m0.2-12h0m1.2 7.4h0m0.2-0.2h0m0.4 5.2h0m0.4 9h0m1.4-12.7h0m0-3.7h0m0.5-2.7h0m0.4 9.1h0m0.9-7.8h0m1 2.5h0m0.4-2.3h0m4.3-7.2h0m1.2 1h0m1.1-0.8h0m0.3 6.6h0m1.5-7.6h0m1.3 2.5h0m2.2-5.9h0m1 1h0m1.6-2.3h0m3.1-12.5h0m0.5 9.5h0m2.3-3.7h0m2-5.9h0m1.9 2.4h0m1.1-14.5h0m0.2 26.5h0m2.9-30.6h0m0.1 11.3h0m0.9 9h0m1.4-2.8h0m0.1-4.4h0m0.6-1h0m1.8-12.6h0m10.4-0.1h0m10-21.1h0m6.7-16h0m16.7 18.7h0" stroke="#228a8d" stroke-width="0.95" stroke-linecap="square" fill="none"/>
<path d="M177 145.1h0m0.7 1.5h0m3.1-5h0m12.3-10.7h0m4.5 0.1h0m1.5-6.2h0m4.7 7.4h0m1.8-22.9h0m0.5 9.4h0m5.2-7.7h0m0.9-11.8h0m0.3 7.3h0m0.6 2.9h0m0.2-5.8h0m1.2 16h0m0-14.2h0m2.3 2.3h0m1-1.2h0m1.7-5.1h0m0.1 4.5h0m1.9-6h0m1.8-1.9h0m0.2 4.8h0m0.3-4.3h0m0.5 5.6h0m1.2 9.5h0m0.1-16.8h0m0.5 2.2h0m0.5-3.4h0m0.4-3.8h0m0.3-6.8h0m0.7 5.8h0m0 3.4h0m0.1 0.3h0m0.2-8.3h0m0.5 0.2h0m0.1 8.2h0m0 10.3h0m0.9-13.2h0m0.5 1.9h0m0.2-5.3h0m0.9 1h0m0 13.1h0m0.4-15.5h0m0-2.9h0m0.5 6.3h0m0.6 0.3h0m0.9-4.2h0m0.6 2.6h0m0 2.7h0m0.2 10h0m0.1-31.7h0m0.6 25h0m0-10.3h0m0.1 3.6h0m0.7 2.3h0m0.1-11.8h0m0.5 10.2h0m0.1-3h0m0.8-0.6h0m0.7-4h0m0-3.9h0m1.1-7.6h0m0 14.8h0m0.1-9.6h0m0.2 11.5h0m0.3-5.6h0m0.2 3.2h0m0.9-3.3h0m0.3 5.2h0m0.8-12h0m0.4 11.4h0m0.4-4.3h0m0.4 0.5h0m0-8.6h0m0.9 3.6h0m0.5 2h0m1.4 0.6h0m0.2-1.3h0m0.6-46.8h0m0.4 48.8h0m0.2-19.7h0m0.3 15.5h0m0.4-1.6h0m0.1-0.1h0m0.4-4.5h0m0.5-2h0m0.4 2.6h0m0-4.1h0m1.1 6.9h0m0.2 6.9h0m1.2-11.7h0m0 1.3h0m0.6-14.2h0m0.4 10.1h0m0-15.8h0m0.3 16.4h0m0.2 3.5h0m0.5-22.1h0m1.3 15.4h0m0.2 0.8h0m0.1 3.3h0m0.4 0.9h0m0.5 15.3h0m0.2-22.6h0m0 1.1h0m0.7-1h0m0.2-0.4h0m0.7 5h0m0.2-0.4h0m0.5-5.1h0m0.8-2.9h0m0 2.2h0m0.1 3.3h0m0.7 1.9h0m0.3-4.2h0m0.2-0.3h0m0.4-16.7h0m0.2 6.2h0m0.3 14.7h0m0-14.6h0m0.3 10h0m0.5-4.4h0m0.3-1.2h0m0.4 20h0m0.2-7.7h0m0.4-5.2h0m0-21.8h0m0.2 19.9h0m0.1-22.7h0m0 14.4h0m0.1 2.4h0m0.2-4.6h0m0.6 13.5h0m0.3-22.3h0m0 18h0m0.4-11.6h0m0.4 3.1h0m0.9 6.1h0m0.6 3.4h0m0.1-19.5h0m0.8 21.4h0m0.3-13.4h0m0.5 14.3h0m0.2-3.3h0m0.7-2.1h0m0.1-11.8h0m1 3.1h0m0.1 4.7h0m0.9 1.7h0m0.3-14h0m0.2 11.4h0m0 27.2h0m1.1-26.6h0m0.8-2.9h0m0.3-3.6h0m0.1-2h0m0.2 22.9h0m0.1-28.8h0m0.8 11.8h0m0.5 3.6h0m0.5-4.9h0m0.5 10.3h0m0.1-18.3h0m0 1.5h0m0.1-1.9h0m0.7-13.3h0m0.5 26.7h0m0.2 1.8h0m0.3-0.6h0m1.1-17h0m0.3 13.6h0m0.1-4.5h0m0.6-5.6h0m0.3 1.9h0m0.9-19h0m0.2 11.2h0m0-0.6h0m0.2 22.7h0m1.7-19.7h0m0.1-3.5h0m2.8-3.8h0m2.7 4h0m1.5-17.8h0m1 8.9h0m0 3.1h0m0.5-1.1h0m0.1 12.3h0m0.4-14.3h0m0 8.3h0m0.5 3h0m0.1-11.1h0m0.6-7.8h0m0.3 21.8h0m0.6-16.7h0m0.3-6.7h0m0.4 9h0m1.7-8.2h0m0.6 8h0m0.1 8.4h0m1.2-5.1h0m0.9 7.1h0m0.1-14.7h0m0.6-6.5h0m0.4-1.3h0" stroke="#eee11e" stroke-width="0.95" stroke-linecap="square" fill="none"/>
<path d="M177.4 145.3h0m14.9-14.1h0m0.9-2.3h0m0.5-2.8h0m0 3.5h0m0.7 0.3h0m1.4-4.7h0m0.1 0.9h0m0.3 6h0m0.3-6.9h0m1.4 1.8h0m0.3 2.1h0m0.1-2.7h0m0.2 5.8h0m0.8-3.8h0m0.5-4.5h0m0 0.8h0m0.2 3.4h0m0.5 8.9h0m0.2-18.2h0m0 3.2h0m0.4 1.1h0m0.1 12.7h0m0.3-19.5h0m0.4 7.3h0m0-1.1h0m0.5 1h0m0-4.8h0m0.8 6.3h0m0-5h0m0.2-13.6h0m0.3 12.9h0m0.4-1.3h0m0.4-4.6h0m0.6 11.7h0m0.7-11.8h0m0.2 20.6h0m0.3-16.8h0m0.2-3.5h0m0 4.9h0m0.1-6.9h0m0.3 3.6h0m1 1.1h0m0.1-4.3h0m0.6-1.2h0m0.5 5.8h0m0.5-3.8h0m0 0.3h0m0.1-4.8h0m0-6.8h0m0.4 11.5h0m0.1-1.7h0m0.2 1.5h0m0.1 2.4h0m0.1-6h0m0.1 9.5h0m0-14.4h0m0.2 22.9h0m0.2-20.1h0m0.9 5.9h0m0.2-1h0m0.1-6.5h0m0 5h0m0.1 7.1h0m0.1 5.2h0m0.8-8.9h0m0.4-4.2h0m0.8-4.5h0m0.4 3h0m0.4-3.4h0m0-0.3h0m0.4-0.1h0m0.1 1.6h0m0.7-4h0m0.1 6.1h0m0.2-0.5h0m0.5-5.7h0m0.5 1.8h0m3.2-1h0m0.1-4.1h0m0.2 3.3h0m0-4.6h0m0.1 6h0m0.7-0.2h0m1.1 4h0m0.9-12.8h0m1.2 3.5h0m0.6 0.3h0m2-10.3h0m0.3 5.4h0m1.6 2.4h0m2.3-7.6h0m4.3-0.9h0m3.2-2.8h0m1.2-1.8h0m1-15h0m0.3 14.4h0m1.7-7h0m3.3 5.6h0m1.3-11.3h0m28.3-34.6h0m9.8 14.8h0m13.9-30.1h0" stroke="#2f7296" stroke-width="0.95" stroke-linecap="square" fill="none"/>
<path d="M177.4 146.2h0m1-3.9h0m1.3-3h0m0.1-1.5h0m0.5 1.8h0m0.1-7.8h0m0.5 14.3h0m0.3-6.2h0m1.1-2.7h0m0.6-5h0m0.2 2.1h0m0.3 1.9h0m0.1 4.2h0m0.1-5.1h0m0.1 3.3h0m0 1.5h0m0.1-2h0m0.3 3.6h0m0-11.4h0m0 7.4h0m0.5-6.9h0m0.1 10.1h0m0 0.6h0m0.1-6.3h0m0.2 6.5h0m0-5.6h0m0.2-0.4h0m0.1 3.6h0m0.7-2.8h0m0.1-0.1h0m0.1-0.8h0m0 0.3h0m0.1-1.5h0m0.3 7.5h0m0.1-7h0m0.2 0.7h0m0.1 7.7h0m0-10.5h0m0.2-21.1h0m0.1 27.7h0m0.1 5.9h0m0.2-0.8h0m0.1-8.9h0m0.1-0.4h0m0.1 3.9h0m0-5.8h0m0.1-8.5h0m0.1 6.9h0m0-4.4h0m0 5.3h0m0 2.2h0m0.2 0.4h0m0-2.1h0m0.2-9.6h0m0 6.1h0m0.2 7.7h0m0-4.1h0m0.1 1h0m0.1 0.4h0m0.1-1.3h0m0 0.9h0m0.1-5.2h0m0 3.6h0m0.1 0.5h0m0 3.1h0m0.1-5.7h0m0.1 0.2h0m0.3 5.6h0m0-6.6h0m0.1 9.7h0m0-14.9h0m0 9.9h0m0.1 6.7h0m0-4.6h0m0.2-1.5h0m0 2h0m0.1-12.9h0m0.1 1.3h0m0 4.5h0m0.1 4.1h0m0-3.6h0m0.3 0.3h0m0-3.4h0m0.1 3.8h0m0-5.7h0m0 1.3h0m0 4.9h0m0.1-6.3h0m0 7.6h0m0.1-1.1h0m0.1-3.8h0m0 1.3h0m0.1 9.4h0m0-9.7h0m0.1 3h0m0-2.5h0m0.1 7h0m0.1-5.4h0m0.1 5.2h0m0-8.7h0m0-1h0m0.1 15.4h0m0-15h0m0.2 5.1h0m0.2-3.4h0m0.1 2.3h0m0.1 11.9h0m0.1-9h0m0.1 4h0m0-5.5h0m0.1-2.9h0m0-12.1h0m0.1 19.5h0m0-5.8h0m0 3.2h0m0.2-5.9h0m0-0.9h0m0 4.7h0m0.1-5h0m0-2.1h0m0-8.3h0m0 14.9h0m0-0.6h0m0.3 2.5h0m0.1-3.7h0m0.1-6.9h0m0 12.6h0m0.5-7.4h0m0 15.4h0m0-14.7h0m0.1 1.2h0m0.1 3.2h0m0.1-16.6h0m0 7.2h0m0 5.4h0m0-8.9h0m0.1 11.1h0m0.1 6.2h0m0.1-13.6h0m0.1 3.6h0m0-7.8h0m0.1 5.2h0m0.1 1.9h0m0 3.7h0m0-6.5h0m0 7.2h0m0.1 0.7h0m0.1-3.1h0m0.1 0.5h0m0-6h0m0-1.4h0m0.1 9.1h0m0.1-5.5h0m0 2.6h0m0.1-2.8h0m0.2 4.4h0m0.1-1.3h0m0.1-2h0m0.2 12.1h0m0.2-10.6h0m0-5.4h0m0.1 5h0m0.1-2.9h0m0 2.6h0m0-1.9h0m0.1 5.3h0m0-7.9h0m0 7.3h0m0-9.6h0m0.1 5.9h0m0.1-1.5h0m0.1-1.5h0m0.1 5.4h0m0-5h0m0.1 2.6h0m0.1 12.4h0m0.1-10.9h0m0.1 2.5h0m0.1 1.2h0m0.1-9.2h0m0.2 2.7h0m0 0.8h0m0 3.8h0m0-0.1h0m0-8.5h0m0.1 7.9h0m0.2-5.4h0m0.1 2.9h0m0 1.1h0m0-3.1h0m0.1-4.5h0m0 15.2h0m0-11.3h0m0 2.1h0m0.1-11.5h0m0.1 3.3h0m0 3.2h0m0 2.8h0m0.1-8.9h0m0 9.4h0m0.2-6h0m0 4.5h0m0.3-1.1h0m0 8.1h0m0.2-5.5h0m0 2.3h0m0.2-4.5h0m0.1-3.2h0m0-0.7h0m0 8.6h0m0.1-1.6h0m0-10.7h0m0.3 10.8h0m0.1-6.6h0m0.1 15.4h0m0.1-8.5h0m0.2-6.2h0m0.2-7.6h0m0 5.6h0m0.1 5.7h0m0.2-6.5h0m0 1.3h0m0.1 8.4h0m0 3.2h0m0.1-9.1h0m0.1 3.4h0m0-3.9h0m0 5h0m0-4.6h0m0 5.1h0m0.5-6.4h0m0-2.9h0m0 8h0m0.2-1.9h0m0.1 3.1h0m0.2-2.2h0m0.1-0.4h0m0-4.7h0m0.1 6.7h0m0.1-3.8h0m0 0.5h0m0.1-4.1h0m0.1 0.9h0m0-2.5h0m0.1 2.4h0m0 2.4h0m0.2-13.1h0m0.2 17.8h0m0.1-5.2h0m0.2-2.4h0m0.2 2.4h0m0.3 8.9h0m0-6.8h0m0.2-1.6h0m0-6h0m0.3-0.6h0m0 6.9h0m0.6 9.4h0m0.1-12.7h0m0 1.4h0m0.1-2.1h0m0.2 0.1h0m0.1-4.5h0m0 9.4h0m0.1-2.5h0m0.1-1.2h0m0.2-4.6h0m0.6 1.2h0m0.5-13.3h0m0 17.4h0m0.2-7.8h0m0.1 22.1h0m0-17h0m0.2-0.6h0m0 5.3h0m0.3 5.6h0m0.3 1.7h0m0.1-14.5h0m1-7.5h0m0.4 5.9h0m0.2 0h0m1.1 0.6h0m0.4-0.6h0m0.1 1.5h0m0.1 3.1h0m0.2-8.5h0m0.2 5.1h0m0 2.3h0m0-3.7h0m0.2 1.4h0m0.1-10.7h0m1 3.6h0m1 0.3h0m0.8-0.9h0m0.1 1.2h0m0.4-1.4h0m0.4 4.3h0m0.3-0.1h0m0.1-0.9h0m0.5-9.5h0m0.4 10.6h0m0.1-7.7h0m0 1.7h0m0.9 4h0m1.4 3.3h0m0.2-9.5h0m0.3-0.3h0m0.3-1h0m0.7 2.9h0m0.4 2.1h0m0.8-9.3h0m2.9 8.8h0m0.1 1.7h0m0.3-14.4h0m0.9 4.1h0m0.1-20.2h0m0.4 15.4h0m0.6-0.4h0m1.8 3.2h0m2.3 4.3h0m2.4-0.2h0m0.5-16.1h0m0.3 10.9h0m3-9.1h0m1.3-3.8h0m0.9-4.8h0m0.7 7.1h0m4.7 5.9h0m6-13.1h0m6.5-15.6h0m11.4-4.2h0" stroke="#232f58" stroke-width="0.95" stroke-linecap="square" fill="none"/>
<path d="M176.7 146.5h0m0.1-3.3h0m0.2-12.3h0m0 13.1h0m0.1 1.2h0m0-5h0m0 3.2h0m0-1.9h0m0.1-8.5h0m0 11.5h0m0.1-1.1h0m0 0.9h0m0-2.1h0m0 3.7h0m0.2-2.3h0m0 0.2h0m0.1 1.4h0m0-2.9h0m0.1 4h0m0.1-2.9h0m0-0.4h0m0-5.4h0m0 5.6h0m0.1 2.3h0m0-3.6h0m0 0.9h0m0-2.6h0m0 4.5h0m0-7.5h0m0 7.8h0m0.1 1.6h0m0-1.7h0m0-7.5h0m0 0.7h0m0 1.3h0m0 2h0m0 0.6h0m0 2h0m0-7.2h0m0.1 4.1h0m0.1 3.5h0m0-0.6h0m0-0.6h0m0.1 2.9h0m0.1-5h0m0-1.3h0m0.1 0.4h0m0 6.1h0m0-6h0m0.1-2.2h0m0 5.4h0m0-0.5h0m0.2-3.1h0m0-5.2h0m0 11.5h0m0.1-7.2h0m0 6.4h0m0-5.3h0m0.1 3.4h0m0-0.4h0m0-1h0m0 2.4h0m0-15.1h0m0 11.2h0m0.1-10.6h0m0 14.1h0m0 1.7h0m0-4.6h0m0.1 2.1h0m0-5.9h0m0.1 3.5h0m0.1-0.9h0m0 1.2h0m0.1-4.2h0m0.1 7.9h0m0-2.8h0m0-4.4h0m0 7h0m0 1.1h0m0-3h0m0.1 0.4h0m0-0.2h0m0.1 1.5h0m0-17.3h0m0 12.9h0m0 3.1h0m0.1-0.7h0m0 3.4h0m0-4.5h0m0.2-5.3h0m0 9.6h0m0-2.4h0m0-2.8h0m0.1 4.2h0m0-0.6h0m0-9.6h0m0 7.5h0m0.1-3.5h0m0-2.9h0m0 6.7h0m0-3.8h0m0 0.7h0m0.2-0.7h0m0 1.4h0m0 2.5h0m0.1 0.1h0m0-1.2h0m0.1 2.4h0m0.1-3.5h0m0 5.9h0m0.1-2.8h0m0-1.9h0m0.1-2.3h0m0 3.7h0m0-5.6h0m0.1 8.1h0m0-11h0m0.1 9.6h0m0 0h0m0-2.5h0m0.1-5.4h0m0 1.1h0m0 7.4h0m0-11.6h0m0 6.2h0m0.1 3.2h0m0 2.4h0m0.1-2.6h0m0 1.2h0m0-12h0m0 4.1h0m0 5.9h0m0.1 3.1h0m0-3h0m0.1-0.2h0m0 0.1h0m0.1-2.5h0m0-0.9h0m0 3.9h0m0.1-1.2h0m0 0.7h0m0 0.9h0m0-5.6h0m0 4.8h0m0.1 1h0m0-0.3h0m0.1-0.1h0m0-2.8h0m0 0.6h0m0-2h0m0.1 0.6h0m0 4.4h0m0-1h0m0 0.3h0m0 3.9h0m0-7.2h0m0.1-14.9h0m0 7.8h0m0 13h0m0.1-5.4h0m0 7.4h0m0-8.2h0m0 2.9h0m0-14.2h0m0 16.6h0m0.1-0.9h0m0.1-9.5h0m0 6.2h0m0 1.4h0m0 2.2h0m0-8h0m0 0.1h0m0.1 10.9h0m0.1-1.8h0m0-4h0m0-2.2h0m0.1 4.4h0m0.2-1.2h0m0-5.9h0m0-2.1h0m0 9.6h0m0-1.6h0m0.1-1.8h0m0 0.8h0m0 0.8h0m0 1.3h0m0.1-11.5h0m0 13.3h0m0-9.1h0m0.1 4.4h0m0-7.6h0m0 1.3h0m0.1 3.4h0m0 1.9h0m0-0.6h0m0-1.2h0m0-8.8h0m0.1 6.8h0m0 2.1h0m0 6.1h0m0-4.7h0m0.1 1.3h0m0 0.4h0m0-4h0m0.1 3.8h0m0-5h0m0 5.2h0m0.1-1.5h0m0-7.4h0m0 7.4h0m0.1 2.3h0m0 5.7h0m0-11.9h0m0 5.2h0m0.1-7.1h0m0.1 6.3h0m0-1.5h0m0 2.2h0m0 1h0m0-4.5h0m0.1-0.1h0m0 3.6h0m0-0.5h0m0-5.2h0m0.1 10.1h0m0-3.1h0m0-6.3h0m0-0.4h0m0.1 7.9h0m0-2.6h0m0-9h0m0.1 8.6h0m0-5.5h0m0 12.3h0m0.1-2.6h0m0.1-4.3h0m0 6.3h0m0-5.9h0m0.1-1.6h0m0-5.2h0m0.1 4.8h0m0-3.1h0m0.1 1.5h0m0 7.8h0m0 0.1h0m0.1-10.6h0m0 2.3h0m0.2 1.3h0m0-1.9h0m0-2.4h0m0 8.1h0m0-7.9h0m0.1 5.7h0m0 1.2h0m0-0.5h0m0 0.6h0m0-2.2h0m0 2.5h0m0-5.3h0m0.1 7.7h0m0-11.8h0m0 3.3h0m0.1 2.5h0m0 1h0m0 2.6h0m0-3.6h0m0.2 1.8h0m0-1.4h0m0.1 1.8h0m0-8.9h0m0 4.5h0m0-6.7h0m0 8.3h0m0.1 0.6h0m0.1-2.8h0m0 6.5h0m0-1h0m0.1-6h0m0-7.5h0m0 11.4h0m0-2.2h0m0.1 7h0m0-15h0m0 5h0m0.1 4.1h0m0-3h0m0.1 1.2h0m0 0.8h0m0.1-3.8h0m0 8.4h0m0-3.8h0m0.1-2.5h0m0 10h0m0-16.4h0m0 6.8h0m0.1 6.9h0m0-5.4h0m0 5.7h0m0.1-5.2h0m0-2.3h0m0.1 2.1h0m0 1.2h0m0-1.9h0m0.1-0.1h0m0.1 3.5h0m0-7.6h0m0 5.9h0m0.2-5.3h0m0.1 0.5h0m0 5.8h0m0-1.2h0m0 3.9h0m0.1-2.7h0m0-14.4h0m0 12h0m0.1 11.7h0m0.1-13.4h0m0 1.5h0m0.1-1.6h0m0 9.2h0m0-10.4h0m0.1 6.8h0m0.1-4.3h0m0 0.8h0m0.1-0.6h0m0-4.3h0m0 9.7h0m0 0.7h0m0.1-19.6h0m0.1 10.9h0m0 2.6h0m0 4.8h0m0-2.1h0m0.1-15.6h0m0 13.2h0m0.1-2.6h0m0.1-0.8h0m0.1 0.8h0m0.1 0.9h0m0.2-5.3h0m0 5.8h0m0.1-0.2h0m0 8h0m0.1-6.5h0m0.2 6.3h0m0-14.9h0m0.1 0.7h0m0.1 5.5h0m0 3.4h0m0.1-3.7h0m0.1-0.8h0m0-5.3h0m0 16.5h0m0-12.3h0m0.2 6.2h0m0-2.9h0m0.1 0.8h0m0.1-18.6h0m0.5 18.4h0m0.2-0.8h0m0-1.8h0m0.5-0.1h0m0.3 1.7h0m0.3 4.3h0m0-7.1h0m0.2-0.3h0m0.1 3.6h0m0.1 0.8h0m0-10.1h0m0.1 0.3h0m0.2 11.3h0m0.2-8.5h0m0.1-5.9h0m0.4 10.4h0m0.4 13.4h0m0.2-16.1h0m0.2 4.4h0m1 2.7h0m0.4 6.5h0m0-22.3h0m0.6 4.1h0m0.9-0.1h0m5.3-7.1h0m0.6 7.3h0m0.4-4.4h0m0.4-3.3h0m0-2.1h0m0.5 1.6h0m0.1 5.7h0m0.4-6.5h0m0.1 4h0m0.2-14.1h0m0.7 26.9h0m0.5-16.1h0m1.6-4.9h0m1.1 3.7h0m0.8 5.7h0m0.2-19.7h0m0 11h0m0.3-1h0m2.1-4.8h0m0.6 0h0m0.9-0.4h0m1.3 7h0m0.1-1.1h0m1.8-11.4h0m0.2 20.9h0m2.8-27.6h0m0.4 7.6h0m0.3 3.2h0m8-0.5h0m2.7 1.4h0m17.4-30.5h0" stroke="#05060c" stroke-width="0.95" stroke-linecap="square" fill="none"/>
<path d="M180.8 139.9h0m8.6-10.2h0m9.2-6h0m4.9-11.7h0m6-2.7h0m2.2 6.6h0m1.6-12.6h0m3.7 0h0m0.7 3.8h0m0.2-0.3h0m2.2-4.9h0m0.5-1.5h0m0.2-8.4h0m2 6.8h0m2.8-2.9h0m0 2.2h0m4.6-6.5h0m3-6.3h0m4.1 3.1h0m2.4 1.5h0m0.9-10.3h0m9.3-3.8h0m0.2-6.2h0m9.5-8.6h0m18.5 6.6h0m4.4-29.2h0" stroke="#99c940" stroke-width="0.95" stroke-linecap="square" fill="none"/>
<path d="M193.4 132.2h0m1-6.2h0m1.5-4.6h0m4.2-7.8h0m1.9 19.7h0m3.5-9.7h0m0.8-5.1h0m3.9-6.7h0m0.1 8.3h0m0.5-12h0m0.8 5.7h0m1.8-7.2h0m0.1-1h0m1.5 8h0m1.4-15.8h0m4.1-5.2h0m2.9 5.6h0m0.9-0.6h0m0.7-3.7h0m2.6 2.2h0m0.2-12.5h0m1.3 10.5h0m0.1 3.2h0m3.3-5.4h0m1.5-0.8h0m1.8-17.4h0m0.4 24.4h0m3.1-15.5h0m0.5-6.8h0m0.6 9.2h0m1.8-5h0m0-1.8h0m1.4 5h0m8.6-13.9h0m0.1-13.1h0m31-35.9h0" stroke="#73be54" stroke-width="0.95" stroke-linecap="square" fill="none"/>
<path d="M187.2 132.6h0m1.9 4.5h0m7.2-7.3h0m5.9-20.3h0m6.2 1.8h0m14.6 9.2h0m0.6-17.6h0m1.9 0h0m1.6-11h0m0-1.7h0m0.1 8.2h0m2-9.4h0m0.4 9.7h0m4.2-0.6h0m1.2-3.4h0m1.7-6.4h0m2-0.6h0m0.5-2.8h0m7.8-58.6h0m0.7 47.5h0m2.5-4.3h0m2.9 3.7h0m10.9-26.8h0m11.6 5.1h0m19-28.4h0" stroke="#dcdb20" stroke-width="0.95" stroke-linecap="square" fill="none"/>
<path d="M180 144.7h0m12.6-13.8h0m0.3 2.6h0m2.1 3.6h0m0.1-8.9h0m0.7 0.4h0m0.2-12.7h0m1.2 25.4h0m0.1-17.6h0m0.3 2.6h0m0.4 15.2h0m0.1-15.9h0m0.1-5.2h0m0.1 1.9h0m0.4-1.4h0m0-3.7h0m0.1 8h0m0.6-1.6h0m0.1 0.3h0m0.8-18.8h0m0.2 15.6h0m0.1-3.1h0m0 7.4h0m1.3-4.7h0m0.3-2.1h0m0.2 9.9h0m0-7.6h0m0.8 0.3h0m1.2-10.5h0m0.4 3h0m0.1 9.9h0m0-1.1h0m0.3-3.7h0m0.2 6.7h0m0.1-12.3h0m0 2.3h0m0.1-1.2h0m1.1-3.8h0m0 1.3h0m0.3 0.3h0m0.1-4.8h0m0 8.8h0m0.9 1.2h0m0-16.6h0m0.6 13.7h0m0.7-3.3h0m0.1 2.9h0m0 4h0m0.6-0.4h0m0.2-2h0m0.5-2.8h0m0.2 2.8h0m0.2-4.7h0m0.4-2.4h0m0.2 1.7h0m0.2-11.9h0m0.7 11.9h0m0-5.1h0m1.1 4.5h0m0-4.8h0m0 2.4h0m0-3.1h0m0.5 6.3h0m0.3-12h0m0.1 7.2h0m0.2 4.1h0m1.9-6.5h0m1.2 1.3h0m0.8-6.4h0m1 12.6h0m0.1-1.8h0m0.9-3.8h0m0.4-6.9h0m0.4-2.2h0m0.4 4.6h0m0.7-2.5h0m2 1.4h0m0.7-6.1h0m1.4-5h0m0.7 14.8h0m2-6.4h0m2.9-10.9h0m0.3 6h0m0.7-2.4h0m0-3h0m0.6 6.8h0m0.1 1.3h0m3.4-5.2h0m1.5 5.8h0m6-16.4h0m0.3-6h0m2.4 13.1h0m2.3-10.4h0m1.3-6.3h0m14.8-14.4h0m2.3 1.1h0m4.3-6.3h0" stroke="#2f7296" stroke-width="0.95" stroke-linecap="square" fill="none"/>
<path d="M191.6 137h0m3.8-7.6h0m2.2-8.1h0m2.9-4.2h0m5.1 3.7h0m0.2-5.5h0m1.3-1.9h0m2 0.1h0m0.2-2.2h0m1.1 1.6h0m2.1-1.9h0m1.9-17.2h0m0.4 14h0m0.9-2h0m2.2 2h0m1.1-12h0m0.4 6.5h0m0.4 4.4h0m0.5-8.6h0m0.1 6h0m0.7-4.6h0m0.3 4.5h0m0.5-2.6h0m0.1 7.2h0m0.2-17.3h0m1.6 9.8h0m0.1-6h0m0.4 13.5h0m0.5-4.7h0m0 10.6h0m0.6-20.4h0m0.1 6.5h0m0.4-4.1h0m0.3 3.1h0m1.6-7.4h0m0.3-1.9h0m0 6.2h0m0.1-4h0m0 17.1h0m0.5-9h0m0.5-10.5h0m0.5-0.6h0m0.1-22.2h0m0.4 21.7h0m0.1-1.9h0m0.3-2.8h0m0.3 8.6h0m0.6-11.1h0m1 7.7h0m0.1 2.6h0m0.5-5.8h0m0.2 0h0m0.3 3.2h0m0.4-2.4h0m0.1 8.5h0m0-12.3h0m0 11.2h0m0.3-5h0m1.1-8.6h0m0.6 8.4h0m0 0h0m0.5-2.7h0m0.2-13.7h0m0.6 3.5h0m0.3 26.1h0m0.1-14.1h0m0.1-0.3h0m0.1-0.9h0m0.4-3.4h0m0.9 18.9h0m0.5-24.7h0m0 12.1h0m0.1-19h0m0.3 4.9h0m0.1-4.7h0m0 14.6h0m0.2 0.9h0m0.9-9.7h0m0.7 3.6h0m0 7.3h0m0.7-11.6h0m0.3 5.3h0m0.3-50h0m0 49.1h0m0-0.8h0m0.3 8.8h0m0.4-13.7h0m0.2 9h0m0-6.7h0m0 4.5h0m0-6h0m0.1 2.6h0m0.8-1h0m0.4 4.3h0m0.2-4.2h0m0.1-7.4h0m0.9 23.6h0m0-16.5h0m0.7 9.3h0m0-58.3h0m0.2 47.1h0m1.5-6.6h0m0.3 3.7h0m0.5 0.4h0m0 12.5h0m0.3-12.7h0m0-6.4h0m0.3-16.7h0m0.1 14.5h0m0.4 17h0m0.6-16.1h0m0.3-0.3h0m0.3 2.4h0m1.3 1.7h0m0-7.2h0m0-22.6h0m0.2 29.1h0m0.1-11.6h0m0.2 22.3h0m0.1-10.3h0m0.6 5.3h0m0.1-8.8h0m0.6 14.7h0m0.1-16.9h0m0.1-2h0m0.5 9.8h0m0 4.8h0m0.9-7.8h0m0.4-2.8h0m1-11.4h0m0.4 10.6h0m0.3-1.3h0m0.1 10.7h0m0.1-11.4h0m0.4-4.7h0m1.2 1.5h0m0-12h0m0.2 11.9h0m0.5-4.7h0m0 8.5h0m0.3 1.7h0m0.1-12.2h0m0.6 6h0m0.2 0.4h0m0.3-22.2h0m1.2 18.7h0m0.1-0.8h0m0.7-0.2h0m0.1-1h0m0 5.2h0m0.2-3.1h0m0.9 4.9h0m0.8-9.4h0m1 2.8h0m1-7.6h0m1 7.7h0m0.3-11.2h0m0.4 26.9h0m0.5-15.9h0m0.7-14.6h0m0.6 26h0m0.1-16.3h0m0-1.2h0m0.1 0.1h0m0.9-1.2h0m0.2 16.1h0m0.9-3.4h0m0.3-17.8h0m0.5 4.5h0m0.6-0.7h0m0.3-4.7h0m0.3 4.7h0m0.2-5.9h0m0.5 8.1h0m0.3-4.5h0m0-1.1h0m0.2-5.1h0m0.2 10.9h0m0 3.1h0m0.9-1.3h0m0.2-3h0m0.3-8.5h0m0.2 4.2h0m0.3-19.6h0m1.3 16.2h0m0.8 39.5h0m0.1-44.5h0m1-0.2h0m0.1-1.8h0m1 21.3h0m1.5-19.4h0m0.1 0.1h0m1.7-1h0m0-6.3h0m2-0.2h0m0.4 2.1h0m0 6.1h0m0.1-7.7h0m0.5 15.9h0m0.1-6.2h0m0.4 0.4h0m0.1-10.6h0m0.9-14.5h0m1.4 16h0m0-1.9h0m0.1 1.4h0m0.3 9.8h0m0.4-8.2h0m0.1-2.4h0m1.4-3.3h0m0.3 3.8h0m1.3 1.5h0m0.7 2.7h0m0.6 1.2h0m1.3 28.9h0m0.2-46.2h0m0 4.6h0m0.9 1.8h0m0.9 10.8h0m1-7h0m0.1-4.9h0m0.9-6.5h0m0.2 1.7h0" stroke="#eee11e" stroke-width="0.95" stroke-linecap="square" fill="none"/>
<path d="M206.3 117.8h0m11.3-12.1h0m1 4h0m2.1 0.5h0m0.2-6.6h0m1.7-3.1h0m1.7 0.6h0m4-7.4h0m0.1 2.1h0m6.4-8.6h0m0.2-10.9h0m0.2 23.2h0m1.6-17.4h0m6.2-6.7h0m0.3-44.3h0m4.2 3.4h0m4.7-5.8h0m0 3.1h0m4.2 32.1h0m16-27.7h0m1 11.3h0m14.7-8.7h0" stroke="#bfd32c" stroke-width="0.95" stroke-linecap="square" fill="none"/>
<path d="M177.5 146.3h0m0-3.4h0m0.5-4.2h0m0 4.2h0m0.1-2h0m0.4 1.4h0m0.1-1.2h0m0-13.6h0m0 17.1h0m0.2-4h0m0.5 2.4h0m0.1 0.1h0m0.2 1.8h0m0.2-1h0m0.2 2.1h0m0.2 0.6h0m0-0.3h0m0.1-12.4h0m0 10.3h0m0.2-4.4h0m0 1.1h0m0.1-6.8h0m0.1 7.8h0m0.3-6.1h0m0.2 9.8h0m0.2-4h0m0.1 1.2h0m0.4-0.1h0m0.1 0h0m0.1 0.9h0m0.1 0.2h0m0-11.2h0m0.1 10.6h0m0-4.3h0m0 0.6h0m0.1 6.8h0m0-17.6h0m0.1 11.6h0m0 3.7h0m0-5h0m0.1 1.5h0m0.1 0.1h0m0.2 2.5h0m0.1-3.9h0m0.2-1.3h0m0.1 3h0m0.1-1.9h0m0.1-2.8h0m0.2 4.1h0m0 0.6h0m0-1.3h0m0.1-2.9h0m0.1-0.3h0m0 8.9h0m0.1-5.2h0m0-19.2h0m0.1 19.9h0m0-10.8h0m0.1 3.5h0m0 7h0m0.1-1.5h0m0-9.6h0m0 11.5h0m0 5.7h0m0-7.7h0m0.1-0.9h0m0.1-8.4h0m0 7.6h0m0.3-2.8h0m0-4.9h0m0 10h0m0-0.5h0m0.1 1.3h0m0.1-8.3h0m0 7.8h0m0.1-6.9h0m0 2h0m0-6.7h0m0.1 6.3h0m0 11.8h0m0-8.1h0m0.2-1.6h0m0 1.2h0m0.1 4.5h0m0.1-8.9h0m0-1.5h0m0 7.4h0m0 4.6h0m0.1 0.1h0m0-7.4h0m0 2.7h0m0-1.5h0m0.1-5.7h0m0 8.3h0m0 0h0m0.1-3.5h0m0-1.7h0m0-1.9h0m0 5.8h0m0-1.1h0m0-3.7h0m0.3-13.7h0m0 16.1h0m0-5.6h0m0 9.2h0m0 5.5h0m0.1-10.7h0m0 5.7h0m0 3.1h0m0-7.5h0m0-5.5h0m0 5.6h0m0.1-1.3h0m0 5.3h0m0-4.1h0m0 8.2h0m0-8.1h0m0-1.2h0m0-5.9h0m0.1 6.8h0m0 10.4h0m0-10.4h0m0.2-7.2h0m0.1 5h0m0 0.4h0m0-3h0m0 4.3h0m0.1-1.2h0m0 3.4h0m0-1.9h0m0.1 0.3h0m0 3.9h0m0.1 6.5h0m0-13.2h0m0 3.9h0m0-8.5h0m0.1 8.1h0m0.1-2.9h0m0.1-3.9h0m0 7.6h0m0-5.3h0m0.1 5.2h0m0 3.8h0m0 1.1h0m0-4.8h0m0-6.5h0m0 5.3h0m0 1.9h0m0 7.2h0m0.1-13.3h0m0 2.8h0m0-0.1h0m0-4.2h0m0 8.7h0m0.1 0.1h0m0 4.1h0m0-8h0m0.1-4h0m0-0.1h0m0-6.8h0m0 14.7h0m0.1 2.2h0m0.1-12.1h0m0 8.8h0m0 0.7h0m0.2-7h0m0 0.4h0m0 0.9h0m0.1 11.5h0m0-6.9h0m0-4.4h0m0-3.3h0m0.1 14.6h0m0.2-8.9h0m0-5.2h0m0 2.3h0m0.1 2h0m0-1.4h0m0-9.8h0m0 5.4h0m0 9.5h0m0.1-10.7h0m0 12.6h0m0-4.8h0m0.1 0.5h0m0.1-8.4h0m0.1 4.4h0m0 8.1h0m0-4.8h0m0-4.8h0m0.1 7.8h0m0-9.5h0m0 6.1h0m0.1-8.1h0m0 12.7h0m0-3.9h0m0.2 2.2h0m0-5.4h0m0 10h0m0-12.3h0m0.1 2.2h0m0 1.7h0m0 1.3h0m0.2-19.6h0m0 11h0m0.1 9.5h0m0.1-7h0m0 8.9h0m0 5.5h0m0.1-23.9h0m0 2.7h0m0 3.4h0m0 5.3h0m0.1-6.8h0m0 21h0m0-5.7h0m0.1-8.1h0m0 1.4h0m0.1-6.6h0m0 2h0m0.1 5.1h0m0-5.9h0m0.2 9.7h0m0-7.1h0m0 10.3h0m0-6.7h0m0.1-0.4h0m0-2.5h0m0-1.7h0m0.1-3.2h0m0 5.2h0m0.1-9.1h0m0 7.6h0m0 6h0m0.1-5.7h0m0-0.9h0m0 4.4h0m0-3.3h0m0.2 4.8h0m0-2h0m0-4.7h0m0.1 0.6h0m0 4.3h0m0 0.8h0m0.1-11h0m0.2 9.8h0m0-11.1h0m0 10.8h0m0 1.1h0m0.1-5.3h0m0 1.2h0m0.1-4.6h0m0 4.6h0m0 5h0m0.1-5h0m0-14.9h0m0.2 9.8h0m0 4h0m0.1-10.7h0m0.1 13.4h0m0.1 10.7h0m0-5.6h0m0.1-5.8h0m0.1-3.8h0m0 8.5h0m0-7.5h0m0 2h0m0 5.6h0m0.1-6.4h0m0.1-1.3h0m0 0.1h0m0.2 7.6h0m0-8.8h0m0 1h0m0.1-2.6h0m0.1 3.2h0m0 2.8h0m0.1-1.2h0m0 0h0m0.2-4.3h0m0 17.4h0m0.1-15h0m0.1 8.3h0m0-6.3h0m0.1-2.3h0m0.1 1.7h0m0 1.4h0m0-0.7h0m0-14.1h0m0.1 10.8h0m0.1 3.4h0m0 3.9h0m0.1-7.8h0m0 4.3h0m0.3-1.5h0m0.2 0.7h0m0 5.9h0m0-11.8h0m0-1.3h0m0.2 3.7h0m0 0.4h0m0-2.8h0m0.1 2.9h0m0 1h0m0.1 1.7h0m0 4.1h0m0.3-9.2h0m0 1.2h0m0.1-0.3h0m0-3.3h0m0.1 10.3h0m0.1-12.9h0m0 9.4h0m0.1-1.5h0m0-0.1h0m0 1.2h0m0.2 6h0m0-7.3h0m0 1.7h0m0.1-3.7h0m0-5.2h0m0.1 0.3h0m0.1 4.1h0m0 7.7h0m0-14.3h0m0.1 17.6h0m0.1-15.5h0m0.1 10.8h0m0.1 7.9h0m0-10.1h0m0.1 0h0m0-6.9h0m0.1 3.6h0m0 0.3h0m0.1 0.7h0m0 12.2h0m0.4-28.2h0m0 1.3h0m0.2 6.2h0m0.3 3.4h0m0-4.7h0m0.1 2h0m0.1 16.1h0m0-9.1h0m0.1 1h0m0.1-1.8h0m0.1-1.9h0m0.2-1.2h0m0.1 3.1h0m0.2-5.5h0m0 8.3h0m0-2.4h0m0.2-2.5h0m0.1 5.1h0m0.2-4.6h0m0 5.4h0m0.2-1.2h0m0.2-10.6h0m0.1 5.8h0m0.7-3.4h0m0.4-1.3h0m0 10.9h0m0.2 0.7h0m0.3 10.7h0m0.2-14.9h0m0.6-0.9h0m0.1-3.2h0m0 1.1h0m0 11.5h0m0.3-15.2h0m0.3-1.6h0m0.1 3.3h0m0-6.9h0m0.1 1h0m0.1 4.9h0m0 0.7h0m0.4 6.3h0m0.5-12.2h0m1.1 3h0m0 2.4h0m0.1-3.5h0m0.1 7.2h0m0.4-4.3h0m0.1 8.4h0m0.1-15.4h0m0.4-2h0m0.8 15.7h0m0.2-13.6h0m1.5-6.6h0m0.3 8.5h0m0 6.4h0m0.1-15.2h0m0 6.4h0m0.7-3.7h0m0.4 1.5h0m0.6 3.4h0m1.4 2.4h0m0.3-7.4h0m0.4 0.6h0m0.2-10h0m0.3 2.7h0m0.5 5.4h0m0.2 11.9h0m0.3-15h0m0.1 1.8h0m0.8 8h0m0 5.3h0m0.3-4.6h0m1.2-4.1h0m0.2-3.7h0m0.1 5.4h0m1-1.5h0m0.3-2h0m2.4-16.3h0m2 6.9h0m0 1.7h0m2.6 1.1h0m3.2-11.9h0m0.2 17.5h0m0.1-13.4h0m0.4-5.3h0m0.1 0.9h0m1 4.5h0m5.4-9.5h0m3.6-9.5h0m0.5 7.2h0m0.7-2.5h0m1.4 1.2h0m2.5 2.5h0m0.1 6.8h0m12.6-28.4h0" stroke="#12162d" stroke-width="0.95" stroke-linecap="square" fill="none"/>
<path d="M182.2 144.3h0m0.4-9.7h0m1.5 7.1h0m1.2-2.3h0m0.6-2.6h0m0.5 0.2h0m0 1.9h0m0.4-22.4h0m0.1 20.7h0m0.2-9.5h0m0.1 13.6h0m0-2h0m0.4-9.3h0m0.6-0.2h0m0.8 10h0m0.9-13h0m0.2 7.6h0m0.2-0.8h0m0.2 2.6h0m0-0.8h0m0.2-1.9h0m0.2-8.2h0m0 8.3h0m0.8-2.7h0m0.1-4.5h0m0.1 5.1h0m0 2.9h0m0-3.3h0m0.1-0.9h0m0.1 4.7h0m0.4-4.3h0m0 0.4h0m0 0.7h0m0-6.9h0m0.1 6.6h0m0.1 0.6h0m0 1.3h0m0.5-5.5h0m0.2 5.4h0m0.1-1.4h0m0.3-3.1h0m0.3-2.8h0m0.2-1.3h0m0.1 11.1h0m0.1-5.6h0m0.2 1h0m0.1-17.2h0m0.2 16h0m0.3 3.2h0m0.2-11.4h0m0.3-1.1h0m0.1 4.8h0m0.1 9.1h0m0.1-5.6h0m0 4h0m0.1-11.1h0m0.1 6.5h0m0-3.2h0m0.1 0.2h0m0.1 1.6h0m0-2h0m0 1.5h0m0.1 1.2h0m0.1 10.3h0m0.1-12.4h0m0.1-5.6h0m0.1 15.7h0m0.1-6.3h0m0.4-6.4h0m0.1-1.3h0m0.1 3.8h0m0.2 3.6h0m0.1-6.2h0m0.1-0.2h0m0.1-12.4h0m0.1 13.8h0m0 2.9h0m0.3-8.2h0m0.1 4.5h0m0.4-1.4h0m0-6.5h0m0.2 9.7h0m0.1-2.9h0m0.1 0.6h0m0.1 2.9h0m0.1 1.1h0m0.7-5.7h0m0.1 0.9h0m0-7.2h0m0.5 1.6h0m0 2.3h0m0.1 4.2h0m0.1-4.5h0m0 5.9h0m0.4 3.3h0m0.1-7.6h0m0.1 2.3h0m0 0.3h0m0.4-2h0m0.2-3.1h0m0.3-1.2h0m0 2.8h0m0.3-3.2h0m0.2 4.5h0m0.1-3.4h0m0 1.7h0m0.5 1.7h0m0 10.3h0m0.5-1.3h0m0-15.1h0m0.5 4.3h0m0.1-1.3h0m0.5-12.2h0m0.1 9.5h0m0.1 4.5h0m0.3-1.2h0m0.1-1.6h0m0.4 9.2h0m0.3-8.7h0m0-3.3h0m0.3 1.3h0m0-4.5h0m0.1 5.1h0m0.1-1.8h0m0-5.5h0m0.2 2.2h0m0.5 7.9h0m0.5-5.3h0m0.1 5.8h0m0.1-5.5h0m0.2 3.2h0m1.4-17.6h0m0.2 12.8h0m0.4 2.9h0m0.6-2.5h0m0.3-4.6h0m0.2-1.6h0m0.4 2.8h0m1.1-10.6h0m0.1 11.9h0m0.2 0.3h0m0.3-4.4h0m1.4-0.3h0m0.8 2.5h0m0.1-6.9h0m0.2 9h0m0-3.7h0m0.5 4.3h0m0.1-8.3h0m0.1 5.9h0m0.6-15h0m0.4 11.5h0m0.3-6.3h0m0.2 3.4h0m0.6 0.6h0m1.8 8h0m2.6-8h0m0.6 4.6h0m1.2-20.7h0m0.9 15.1h0m1.1-8.5h0m1.4-2.9h0m2.8-5.6h0m4.9 1h0m0.6 3h0m3-16.3h0m2 3h0m6.1 5.4h0m5.1-10.9h0m2.2-1.9h0m12-12.4h0" stroke="#334c85" stroke-width="0.95" stroke-linecap="square" fill="none"/>
<path d="M192.9 136.9h0m2.6-11.6h0m1.2 4.2h0m0.7-3.4h0m2.5 7h0m0.4-17.9h0m0.7 12.4h0m1.2-0.8h0m1.6-12.3h0m2.7 1.1h0m3.6-2h0m0.1-1.2h0m1-0.1h0m4.5-16h0m2.9 5.6h0m1-4.4h0m0.3 21.5h0m0.1-19.3h0m0.3 6.9h0m1-7.4h0m0.3 2.5h0m0.7 2.1h0m0.4 0.5h0m2-6.7h0m3 1.8h0m0-6.3h0m0.6 2.8h0m0.2-5.5h0m8.1-8.6h0m2.2 2.2h0m2.1-3.1h0m1 3.1h0m2.4-4.9h0m10.6-6.4h0m1.3 2.1h0m0-17.8h0" stroke="#4db068" stroke-width="0.95" stroke-linecap="square" fill="none"/>
<path d="M177.4 141.7h0m5.8-4.3h0m5.6-7.2h0m4.2-6.3h0m0.9 5.5h0m0.9 3.6h0m2.2 3.3h0m0.8-16.9h0m1.4 8.8h0m0.6-5.6h0m1.8-1.6h0m0.2-0.2h0m1.9-3.5h0m0.3-1.3h0m1.5 0.7h0m0.2-0.9h0m0.3-14h0m1.5 13.2h0m0.8 7.2h0m0.8-4.7h0m0-12h0m0.7 8.1h0m0.2-2.3h0m0.1-2.6h0m0 10.1h0m0.2-8h0m0.3-0.2h0m1.5-3.6h0m0.3 2.8h0m1.2 0.4h0m0.3 0.5h0m0.4-5.4h0m0.9 4.4h0m0.9-1.9h0m2.6-5.6h0m0.2 2h0m2.3-5.8h0m0.1 1.1h0m2.8 1.6h0m0.2-13.7h0m1.8 5.5h0m1.4-3.7h0m0.5 4.7h0m0.3 3.6h0m0.5-5.4h0m5.1-2.2h0m13.5-21.3h0m0.9 8.2h0m40.5-41h0m13.3-14.5h0" stroke="#228a8d" stroke-width="0.95" stroke-linecap="square" fill="none"/>
<path d="M178.7 144.4h0m5-5.9h0m14.2-9.5h0m1.3-6.8h0m0.2 2.2h0m0.8-3.3h0m3.3-1.6h0m1.4-4h0m0.7-2.2h0m0.7 4.5h0m1.2 0.6h0m0.5-3.7h0m0.8-0.8h0m0.2 2.8h0m0.3-2.5h0m0.5-7.4h0m0.1 5.7h0m0.1-6h0m0.4-2.7h0m0.2-1.1h0m0.9 5h0m1-1.6h0m0 2.8h0m0.7-3.6h0m0.2 6.1h0m2-3.7h0m0.7-3.8h0m0.1 14.4h0m0.4-25.5h0m3 12.9h0m1.3-8.1h0m0.2 3.6h0m0.2-2.2h0m0.1 4.1h0m2.9 1h0m0.1 2.5h0m0.2-9.4h0m1.1-3.9h0m0.8 1.6h0m6.5 3.1h0m1.1-7.9h0m1.5-6.5h0m0.1 4.2h0m33.5-32.5h0m1.5-15.3h0m12.5-2.9h0" stroke="#269685" stroke-width="0.95" stroke-linecap="square" fill="none"/>
<path d="M187.6 136.4h0m3.6-3.1h0m8-11.4h0m7.1-3.5h0m0.2-3.2h0m1.5 5.5h0m0.7-11.6h0m3-2.6h0m2.9-5.1h0m0.8 22.3h0m0.6-17.5h0m0.1-6.1h0m0.2 0.7h0m2.8-0.2h0m1.9-6.3h0m0.7 4.1h0m0.1 0h0m0.4-1.3h0m0.1 0.6h0m0.6-3.5h0m0.4-1.8h0m1.5 8.7h0m4.1-20.8h0m1.2 9.1h0m0.6-7.2h0m0.2 9.5h0m1.3 2.2h0m1-11.5h0m0.9 9.2h0m0.3 7.8h0m0-16.2h0m0.4 2.4h0m0.1 2.4h0m0.9-15.3h0m2.9 9.3h0m0.2-11.9h0m1.3 12.4h0m23.1-17.8h0m31.7-32.8h0m1.2-3.2h0m3.6-4.2h0" stroke="#33a478" stroke-width="0.95" stroke-linecap="square" fill="none"/>
<path d="M183.9 140.5h0m1.1-3.8h0m1.7 0h0m0.1-2.2h0m1.2 7.6h0m1.1-9.6h0m0.9 5.4h0m1.4-7.8h0m0.2 7.8h0m0-13.4h0m0.1 16h0m0.7-9.8h0m0.2-6.1h0m0.5 1.4h0m0.4 4.6h0m0 1.8h0m0.9-2.1h0m0.1 5.7h0m0.1-9.2h0m0.2-2.2h0m0.5 2.3h0m0.2 1.4h0m0-0.6h0m0.1-2.5h0m0.2 0h0m0 1.3h0m0.1 1.3h0m0.3-12.3h0m0 16.7h0m0.1-10.4h0m0 3.9h0m0.3-0.6h0m0.2-2.3h0m0.1 7.5h0m0.2-10.8h0m0.2-0.7h0m0 19.5h0m0.2-22.9h0m0.1 16h0m0-8.1h0m0.1 3.7h0m0.3-1.4h0m0.1-13.4h0m0.2 14.8h0m0-0.1h0m0.4 2h0m0.1-2.8h0m0-12.7h0m0 24.6h0m0.1-15.1h0m0 10.8h0m0.3-11.2h0m0.1 4.4h0m0.2-3.8h0m0.1 1.7h0m0.2-6h0m0.2 5.4h0m0.1 3.6h0m0.4-7.4h0m0.4 2.2h0m0 2.4h0m0 6h0m0.4-11.5h0m0.2 2.7h0m0.3-5.9h0m0.1-3.9h0m0.1-0.2h0m0.1 4.9h0m0.1 7.3h0m0.1-5h0m0.4 0.8h0m0-1.5h0m0.1-5.1h0m1.3 5.2h0m0.3 2.2h0m0.1-4.3h0m0.4-7h0m0.1 6.3h0m0.1 7.1h0m0.1-4.7h0m0.1-2.8h0m0.2 0.9h0m0-3.3h0m0.2 7.1h0m0.8-4.6h0m0.2-8h0m1.4 10.4h0m0.1-15.8h0m0.1 7h0m0.4 1.4h0m0.4-3.4h0m0.5 11.7h0m0.9-0.9h0m0.3-7.9h0m0.6-0.7h0m0-5.3h0m0.1 5.3h0m0.9 0.4h0m1.5-3.7h0m1.1 2.1h0m1.1 0.2h0m0.2-4.1h0m1.7-1.3h0m0.4 0.9h0m0.5-3.4h0m0.4 2.2h0m0.3-6.9h0m0.8 4h0m0 1.7h0m1.4 0h0m0.4 6.4h0m0.8-10h0m0.4-0.3h0m1.3 0.8h0m1.1-1.8h0m1.6-3.2h0m0.2 4.2h0m2.5 9.1h0m0.8-13.2h0m0.9-6.7h0m2 2.1h0m1.6-1h0m15.2-9.6h0m1.2-13.6h0m1.7 0h0m3.8-6.4h0m0.6 9.5h0m25.7-31.7h0" stroke="#37629a" stroke-width="0.95" stroke-linecap="square" fill="none"/>
<path d="M192.5 139.1h0m0.9-18.5h0m3.3 2.1h0m1-11.4h0m0.3 14.3h0m0.5-2.8h0m0.1 3.6h0m0.4-7.8h0m0.2 8.9h0m0.1-14.1h0m0.1 18.6h0m0.1-10.3h0m1.9 3.2h0m0.7 1.8h0m0.4 1.9h0m0.8-5.3h0m0.2-3h0m1-1.2h0m0.4-1.6h0m0.1-0.8h0m0.6-4.1h0m0.2 5.9h0m0.5 6.2h0m0.4-22.7h0m0.7 7.8h0m0 29.2h0m0.6-20.7h0m0.2-4.1h0m0.8-1.8h0m1.5-14.9h0m1.4 16.5h0m0.9-1.6h0m0.7-3.4h0m0.1-12.2h0m0.4 10.3h0m0.3-4.5h0m0.2 9.1h0m0.6-3.1h0m0.2-4.1h0m0.4 11.9h0m0.2-6.4h0m0.5-5.4h0m0.2 1.2h0m0-1.7h0m0.5 2.8h0m0.6-2.8h0m2.6-4.6h0m0.2 8.5h0m0.3-10.3h0m0.1 2.6h0m0.3-11.6h0m0 16h0m0.4-1.5h0m0.9 2.8h0m0.4-14h0m1.5 17h0m1.2-10.1h0m0.6 2.2h0m0-0.8h0m0.1-6.3h0m0 1.6h0m0.5 2.5h0m0.8-6.4h0m1.4-0.3h0m0.1 11.3h0m4.2-17.4h0m18.5-15.3h0m2-11h0m15.1-21.4h0m25.2-8h0m4.2-10.7h0m3.8-4.9h0" stroke="#278090" stroke-width="0.95" stroke-linecap="square" fill="none"/>
<path d="M175.00 148.00L311.00 9.57" stroke="#b4242a" stroke-width="1.1"/>
<path d="M175.00 147.30L311.00 8.50" stroke="#1a1a1a" stroke-width="0.8"/>
</g>
<rect x="175" y="8.5" width="136" height="138.8" fill="none" stroke="#858585" stroke-width="1"/>
<text x="306.4" y="140.9" font-size="10.5" text-anchor="end" textLength="42.7" lengthAdjust="spacingAndGlyphs" fill="#262626">WTX (b)</text>
<text x="177.8" y="16.8" font-size="8.4" textLength="79.8" lengthAdjust="spacingAndGlyphs">linear regression, n=4347</text>
<text x="177.8" y="23.3" font-size="5" textLength="109.5" lengthAdjust="spacingAndGlyphs">[0.9974 <tspan font-style="italic">x</tspan> − 0.203 m s<tspan dy="-1.6" font-size="3.6">−1</tspan><tspan dy="1.6">, <tspan font-style="italic">σ</tspan></tspan><tspan dy="-1.6" font-size="3.6">2</tspan><tspan dy="1.6"> = 1.237 m</tspan><tspan dy="-1.6" font-size="3.6">2</tspan><tspan dy="1.6"> s</tspan><tspan dy="-1.6" font-size="3.6">−2</tspan><tspan dy="1.6">]</tspan></text>
<text x="177.8" y="32.1" font-size="8.4" textLength="76.4" lengthAdjust="spacingAndGlyphs">lidar bias: −0.234 m s<tspan dy="-3" font-size="6">−1</tspan></text>
<g clip-path="url(#c20)">
<rect x="315" y="8.5" width="136" height="138.8" fill="#fff"/>
<path d="M349.00 8.50V147.30M315.00 112.60H451.00M383.00 8.50V147.30M315.00 77.90H451.00M417.00 8.50V147.30M315.00 43.20H451.00" stroke="#dcdcdc" stroke-width="0.6" fill="none"/>
<path d="M316.8 146.5h0m0-1.4h0m0.1 1.2h0m1.1-2.7h0m1.6 1h0m0-15.3h0m0.2-0.6h0m0.2 15.6h0m0.3-1.5h0m0.3-3.7h0m0.2 4.8h0m0.1 1.1h0m0.4-5.7h0m0.1-2.7h0m0.2 8.7h0m1.4-4.9h0m2.3-1h0m0.2-21.2h0m0.7 0.8h0m0 11.8h0m0.9-1.6h0m0.9 7h0m1.7-5.1h0m0.9-2.6h0m2.9-1.1h0m2.4-1.1h0m2.2 0.3h0m1.7 3.9h0m0.2-4.5h0m0.8-2.5h0m2.9 0.6h0m4.5-10.6h0m3.3 1.1h0m0.1-1.9h0m0 2h0m1.7-5.3h0m8-10h0" stroke="#05060c" stroke-width="0.95" stroke-linecap="square" fill="none"/>
<path d="M316.7 143h0m0 0.3h0m0.2 0.3h0m0.4 3.2h0m0.2-2.4h0m0.2-2.9h0m0.4 4.2h0m1.4-2.9h0m0.9-5.4h0m0.4 4.1h0m0.2-6h0m0.1 7.6h0m0.1-7.6h0m0.1 4.7h0m0.7-0.3h0m0-0.4h0m0.4 6.5h0m0.9-6h0m0-0.2h0m0.3-19h0m0.8 9.3h0m0.4 2h0m0 9.4h0m0.4-0.7h0m0 1.7h0m0.1-11.2h0m0.2 9.8h0m0.2-1.2h0m0.1-4.1h0m0.1 2.3h0m0 6.4h0m0.2-8.5h0m0.3 0.3h0m0.9-1h0m0 1h0m0.1 0.1h0m0.3-2.5h0m0.1 2.6h0m0 0.4h0m0.3-0.5h0m0.2-4.3h0m0 4.6h0m0.4-1.6h0m0.2 1.4h0m0.1-6.7h0m0.1 1.2h0m0.1-2.9h0m0.4 2.3h0m0.4 3h0m0.2-1.8h0m0.3-5.3h0m0.1 1.6h0m0.2 5.2h0m0.4-0.5h0m0.1-0.4h0m0.1 0.1h0m0.2-2.9h0m1 1.6h0m0.6-1.1h0m0.3-1.7h0m0.1-8.4h0m0.7 5.3h0m0.3 4.5h0m0.4-1.2h0m0.1-0.4h0m0.1-24h0m0.4 30.7h0m0-11.4h0m0.2 3.2h0m0 0h0m0.1 0.3h0m0.2 1.4h0m0-2.4h0m0 0.2h0m0.1 4.6h0m0.9-2.4h0m0.3-6.6h0m0.1 1.4h0m0.3-2.3h0m0.9 5.5h0m0.2 1.4h0m0.4-6.5h0m0 2.9h0m0.8 3h0m0.2-3h0m0.4-3.3h0m0 2.6h0m1-3.2h0m0.2 0.7h0m0 8.4h0m0.2-15.3h0m0.3-0.7h0m1.5 1.7h0m0.2 4.7h0m0.1-0.4h0m0.6 2.8h0m0.2 0h0m0.9-2.1h0m1.5-4.9h0m0.4 10.6h0m0.4 12.4h0m0.3-27.8h0m1 0.8h0m0.1 0.9h0m0.8-0.6h0m1.7-5.6h0m0.6 11.8h0m0.8-9.7h0m0.2-0.5h0m1.1-9.9h0m0.2 12h0m0.2-4.6h0m0.3 0.6h0m0.7 0.6h0m0.3-0.4h0m0.8-9h0m0.8 9.7h0m0.9-5.7h0m0.5 2.7h0m0.5 1.9h0m0.5-5h0m0.4 16.2h0m0-15.3h0m1.5-3.6h0m0.1 1.4h0m0.5 2h0m1.5-2.7h0m0.1-3.1h0m2 2.4h0m0.6-1.6h0m2.9-1.8h0m0.1-1h0m2.1-3h0m0.5-5.3h0m3 5.6h0m2.5-8.1h0m1.3-0.7h0m1.4 0.6h0m1.1-0.4h0m0.4-3.7h0m0.8-6.4h0m0.9 4.1h0m2.7-4.6h0m5.3-2.1h0m0.5 3.4h0m1.8-4.4h0m0.8-3.1h0m0.6 6.4h0m0.2-5.3h0m0.6-1.3h0m2.3-1.3h0m0 2.3h0m0.8-8.3h0m4.4-0.1h0m1.7 1.6h0m4.5-3.2h0m0.1-9.4h0m1.1 11.3h0m0.9-8.2h0m5.3-3h0m2.8-6.7h0m3.2-4.2h0m1.2-1.4h0m1.2 0.8h0m9.7-3.5h0" stroke="#232f58" stroke-width="0.95" stroke-linecap="square" fill="none"/>
<path d="M321.2 143.9h0m6.9-18.6h0m2.1 1.6h0m1.9 0.6h0m2.3 12.8h0m0.2-10.8h0m2.2 0.1h0m0.8 0.4h0m0.5-1h0m1.1-4.3h0m2.4-1.5h0m2.5-10.5h0m2.2 0.2h0m11-10.5h0m5.8-3.3h0m2.8-2.7h0m4.6-8.2h0m10.1-7.2h0m5.9-5.5h0m11.9 1.4h0" stroke="#99c940" stroke-width="0.95" stroke-linecap="square" fill="none"/>
<path d="M316.9 137.5h0m0.4 7h0m2.8-2h0m0.2-6.8h0m0.6 5.9h0m0.2 0.8h0m0 3.7h0m1.2-6.7h0m0.1 0.1h0m0.6-1.3h0m0.7-1.4h0m0.1 1.4h0m0.8-4.4h0m0.2 9.6h0m0.4-6.8h0m0.5 6h0m0.1-6.5h0m0.3 5.1h0m0.2-6.4h0m0.6-2.9h0m0.7 7.9h0m1.1-7.7h0m0.2 4.2h0m0.8-6.5h0m0.5 6.3h0m0.3-7.8h0m0.5 0.8h0m0.2 1.7h0m0.8-0.2h0m0.7-0.8h0m0 4.1h0m0.3-16.1h0m0.5 7.8h0m0.2 6.4h0m0.1-6.8h0m0.3 3.6h0m1.7-5.2h0m1 7.9h0m0.7-8.7h0m0.5-1.5h0m0.6 5.5h0m0.4 2.6h0m0.3-7.6h0m1-13.7h0m0.8 12.5h0m1.4-7.9h0m0.1 4.4h0m0-8.1h0m0.5 9.1h0m0.3-4.3h0m0.9-3.3h0m0 9h0m0.9-4.4h0m0.2 8.6h0m0-10.8h0m0.5-3.3h0m0.3 8.1h0m2.1-7.6h0m0.4 3.8h0m0 12.3h0m0.3-13.5h0m3-2.2h0m0.7 2.6h0m0.1-11.8h0m0.2 3.9h0m2.4 1.4h0m0.2-2.6h0m1.6 2.3h0m0.4-1.8h0m2.8 0.7h0m0.3-2.9h0m1-6h0m0 8.8h0m2.2-4.7h0m1.9 3.9h0m0.1-9.9h0m1 1h0m0.1-2.4h0m2.2-2.1h0m1.7 0h0m5.6-2.7h0m2.7-1.8h0m2.4-4.1h0m0.7-13h0m3.8 7.9h0m0.7 2.2h0m2.6-9.2h0m0.6 4.6h0m0.6-4.6h0m1.9-4.8h0m0.3 12.3h0m7.2-15.5h0m1.3 2.8h0m4.9-9.1h0m0.1-5.3h0m5.5 1.3h0m0.6 2.1h0m4.4-10.8h0m8.4-18h0m8.1 0.9h0m5.4-0.6h0m0.9-1.7h0m2.8-3.7h0m0.5 0.6h0m2.8-4.6h0" stroke="#2f7296" stroke-width="0.95" stroke-linecap="square" fill="none"/>
<path d="M316.8 146.6h0m0.6-8.9h0m0.1 5.2h0m0.2 2.2h0m0.7 0.2h0m0.1-2.2h0m0.2 3h0m1.7-10.2h0m0.3 8.5h0m1.7-7h0m0.8 0.9h0m0.1-1.8h0m0 3.7h0m0.2-2.8h0m0.2 1.8h0m0.1-3h0m0.1 2h0m0.5 3.1h0m0 4h0m0.5-3.1h0m0.3-7.3h0m0.1 4.8h0m0-3.4h0m0.2-1.3h0m0.3 0.5h0m0 3.9h0m0-4.6h0m0.6 4.8h0m0.1-2.6h0m0.3 0.7h0m1.2-20.2h0m0.5 18.7h0m0.5-3.2h0m0.4-5h0m0.1-11.4h0m0.2 12.5h0m0-0.1h0m0.3-0.5h0m0.7 1.1h0m0-5.2h0m0.9 5.9h0m0.1-1.1h0m0.4-6.2h0m0.1 11.2h0m0.5-6.7h0m1-0.6h0m0.7 0.8h0m0-0.2h0m0.2-1.2h0m0.1 5.5h0m0.6-4.9h0m0.5-10.6h0m0.2 7.9h0m0.2-1.4h0m0.1 11.3h0m0-9.4h0m0.1-1.7h0m1.1 1.8h0m0.7-2.2h0m0.3 3.3h0m0.9-7.3h0m1 6h0m0.1-2.1h0m0.1-2.3h0m0.1 5.3h0m0.4-4.4h0m0.2-1.2h0m0.4-5.9h0m0.5 1.5h0m0.4 7.8h0m0.4-2.1h0m0.5-4.3h0m0.9-1.5h0m0.8 5.6h0m0.6-1.4h0m0.1 0.9h0m0.3-5.5h0m0.4 1.2h0m0.2-3.6h0m0.7 0.4h0m1.6-0.4h0m0.1 12.2h0m0.3-9.5h0m0.5-0.9h0m0.1-3.2h0m0.3 10h0m1-12.1h0m0.1 1.2h0m0.1 2.9h0m0.3-2.2h0m0.3-3.9h0m0.1-1.3h0m0.9-8.4h0m1.1 9.5h0m1.1-11.6h0m0 5.9h0m0.5 2.1h0m1.5 2.7h0m0-0.2h0m0.2 3.6h0m0 0.1h0m0.7-10.4h0m1.9-7.5h0m1.3 3h0m0.9 4.2h0m1.7-4.6h0m0.6 2.7h0m0.9-8.2h0m0.2 8.7h0m1-1.9h0m0.2-3h0m1.3 5.2h0m0.3-2.6h0m0.3-0.1h0m0.1-4.5h0m0.2 4.1h0m0.9-2.5h0m0.3-0.1h0m2.8-4.8h0m3 0.7h0m0-10.7h0m1.2 5.1h0m0.1 1.6h0m0-1.8h0m1.8 0.4h0m0.4-1.3h0m1.7 3h0m1.5-11.6h0m0.8 3h0m0.4 1h0m0.4-5.1h0m0.2 5.3h0m1.2 0.9h0m1.6-3.6h0m1.2-1.5h0m3.3-3.5h0m1.5 2.3h0m5.6-9h0m0.7 0.1h0m0.9-5h0m2.8 4.3h0m0.5-1.8h0m10-9.4h0m0.9-3.6h0m6.1-6.4h0m1.1-3.4h0m8.8-6.6h0m1-2.1h0m2.9-2.3h0m2.8-3.4h0m0.2 3.8h0m0.5-5.2h0m0.3 2h0m3.6-9.9h0m1.8 5.5h0m0.7 0h0" stroke="#37629a" stroke-width="0.95" stroke-linecap="square" fill="none"/>
<path d="M317.9 145.2h0m1.5-4h0m0.4-14.9h0m3.2 10.9h0m0.2 5.2h0m0.4-2.6h0m0.9-3h0m0.7-4.5h0m0 3.6h0m1-0.5h0m0.1 9.7h0m0.4-9.3h0m0.9-0.8h0m0.9 0.2h0m0.3 1h0m0.4-6.9h0m1.3 4.4h0m0.2-1h0m0.8-0.9h0m0.3-4.9h0m2-2.9h0m0-6.1h0m0.6 7.6h0m1 6.3h0m1.5-2.9h0m0.2 0h0m1.2-8.2h0m0.5-0.2h0m2.1-4.8h0m1.2 11h0m0.2-9h0m0.6 3.4h0m0.7-5.1h0m0.3 4.4h0m0.8 6.5h0m0.2-7.8h0m1 9.1h0m0.9-10.6h0m0.8-3.1h0m0.8-19.9h0m1.2 20.7h0m1.2-3.4h0m1.1 9.1h0m0.9-12.2h0m1.5 2.8h0m1.8-6.4h0m0.2 0.8h0m2.2-0.6h0m1-6h0m3 5.8h0m1.7-6.3h0m2.1-3.4h0m1.5-2.1h0m4.3-3.1h0m0.8-1h0m0.6 0.3h0m2.9-6.1h0m6.3-7.5h0m1.8 3.9h0m0.1-5.5h0m11.4-6.7h0m1.1-2.8h0m3.8-7.6h0m2.1 0.3h0m0.5-2h0m3.8 6.1h0m0.5-7.6h0m1.6-1.8h0m5.4-2.8h0m4.4-5h0m0.6-0.6h0m3.2-9.9h0m5.9-1.6h0m2.2-2h0m2.1 1.7h0m6.5-6.6h0m1.2-4.3h0" stroke="#228a8d" stroke-width="0.95" stroke-linecap="square" fill="none"/>
<path d="M319.1 144h0m0.3 2.1h0m0.3-9.7h0m2.6 6.3h0m0.8-2.9h0m1.1-11.5h0m2.3 7.8h0m0.4-0.1h0m0.6-9.5h0m0.9 14h0m0.9-13.3h0m0.4 2.7h0m0.3 4.8h0m0.9-5.3h0m3.2 0h0m7.7-7.4h0m0.1-1.2h0m2.5-1.7h0m7-10.5h0m0.4 9.4h0m0.2 5.4h0m0.3-14.9h0m3.2-5.7h0m2.7-0.8h0m10-9.1h0m4.6-10.7h0m2 3.3h0m0.7 3.3h0m1.1-5.7h0m4.7-0.1h0m6.6-11h0m4.9-2.8h0m6.5-3.8h0m13.6-13.3h0m5.8-8.7h0m9.3-7.9h0m5.2-10.8h0m9.9-4.6h0" stroke="#33a478" stroke-width="0.95" stroke-linecap="square" fill="none"/>
<path d="M317 143.3h0m4.6-0.3h0m1.3 2.8h0m0-5.9h0m1.1 0.9h0m0-3.9h0m0.3 2.6h0m2.7 1.4h0m0.6-1.4h0m0.5-18h0m0.9 9.6h0m0.1 0.7h0m0.4-9.5h0m0 8.3h0m0.3 3.6h0m0.2-6.3h0m0.1 5.6h0m0.7 4.8h0m1-12.4h0m2.6-0.9h0m0 2.4h0m0.1-2.5h0m1 5.1h0m0.3-3.8h0m0-6.1h0m1.1 4.5h0m0.1 1.4h0m2.8-2.5h0m0.3-0.9h0m1.3-5.6h0m0.1 3.5h0m1.1 6.2h0m0.9-7h0m0-2.3h0m0.1-1.9h0m0.3-9h0m1.2 10h0m1.8 0.8h0m0.4-5h0m3.6-1.4h0m0.7 0.6h0m0.2-1h0m1-2.5h0m1.2-2.3h0m1.9 2.1h0m3.6-3.1h0m2.9-8.2h0m0.9-1h0m0.2-3.8h0m0.4 3h0m0.4 1.6h0m3.4-2.3h0m1.4 0.8h0m2.2-4h0m0.1 2.5h0m0.9-2.9h0m1.5-3.1h0m0.1 0.4h0m0.3 3.4h0m20.4-23.2h0m4.3-4.7h0m1.4-1h0m0.8-6.4h0m4.7 6.5h0m1.4-5.5h0m0.4-1.2h0m4.5-1.6h0m2.3-10.5h0m1.4 8.6h0m3.8-10.2h0m5.4-5.9h0m3.9 2.4h0m10.5-9.4h0m0.9-0.8h0m7.1-13.4h0" stroke="#278090" stroke-width="0.95" stroke-linecap="square" fill="none"/>
<path d="M317.6 144.1h0m0.8-1.5h0m2.4-1.9h0m2.3 1.5h0m1.2-0.2h0m0.7-5.5h0m0.2 2.2h0m0.5-1.1h0m0.2-0.5h0m0.3-2.7h0m0.1 2.1h0m3.8 1.3h0m5-9.3h0m2-6.8h0m1.7-3.6h0m3.2 5.7h0m0.7-2.8h0m2.4-5h0m0.5-7.1h0m2.2 1.8h0m0.8 7.2h0m2.5-36.3h0m7.9 21h0m10.7-10.1h0m11.6-14.6h0m2.4-2.1h0m1.1 3.5h0m2.8-4.4h0m15.4-15.8h0m10-11.8h0m14.3-9h0m14.5-17h0m3-0.3h0m0-4.6h0m2.6-0.1h0" stroke="#4db068" stroke-width="0.95" stroke-linecap="square" fill="none"/>
<path d="M324 141.4h0m1.9-3.2h0m2 0.8h0m0.7-5.8h0m2.8-1.4h0m12.2-11.8h0m5.5-5.2h0m5.2-8.8h0m11.3-3.7h0m67-73h0" stroke="#bfd32c" stroke-width="0.95" stroke-linecap="square" fill="none"/>
<path d="M322.4 143.4h0m1-3.1h0m0.4-0.5h0m7.3-11.4h0m4.9 6.3h0m1.5-10.8h0m5.4-9.4h0m1.6 3.5h0m16.1-19h0m4.7-5.6h0m2.1 9.5h0m0.1-8.1h0m4.7-5.3h0m0.8-1.8h0m51.3-50.7h0" stroke="#dcdb20" stroke-width="0.95" stroke-linecap="square" fill="none"/>
<path d="M322 133.4h0m2.3 8.5h0m3.4-3.7h0m1-4.9h0m4.3-1.9h0m0.5-3.8h0m1 13.1h0m2.4-16.1h0m2.4-3.5h0m0.1 4.1h0m2.4-6.3h0m0.9 2.1h0m0.3-5.9h0m8.2-3.1h0m0.8-5.9h0m13.7-5.4h0m1.7-2.9h0m10.2-15.8h0m4.1 0h0m5.5-5.9h0m0.7-11.2h0m2.3 7.2h0m1.1-1.1h0m25.9-25.3h0m24.7-25.2h0" stroke="#eee11e" stroke-width="0.95" stroke-linecap="square" fill="none"/>
<path d="M317.2 144.1h0m0.8 1.2h0m0-0.4h0m0.6-1.4h0m0.2-5.7h0m0.4 8.9h0m0.6-4.3h0m0.2-4.1h0m0.2 4h0m0.9-1.6h0m0.2-1.2h0m0.6-1.5h0m0.5 2.7h0m1.2-6.2h0m0 6.9h0m0.1-4.8h0m0.9 0.2h0m0.1-4.4h0m0.3 4.6h0m0-6.3h0m0 10.4h0m0.5-3.2h0m0.5-4.8h0m0.5-0.6h0m0.6 6.8h0m0.6-3.6h0m0.1-0.6h0m0.5-3.5h0m0.5 3.6h0m0.2 1.9h0m0.1-6.6h0m0.2-2.9h0m0 5.4h0m0.4 2.7h0m1.1-6.2h0m0.1 5.1h0m0.2 1.5h0m0.1-4.6h0m0.1-0.9h0m0.5-6.8h0m0.4 7.3h0m0.1-0.5h0m1-1h0m1.2-1.6h0m0.1-0.4h0m0.1-0.1h0m0.5-0.3h0m0 4.1h0m0.4-11.2h0m0-0.9h0m0.3 9.4h0m0.1-1.4h0m1.4-12.6h0m0.1 18.4h0m0-10.3h0m0.2-1.7h0m0.9 2.4h0m0.6-2.6h0m0.2 10.2h0m0.1-6.2h0m0.3-1.8h0m1.3-7.4h0m0.3 3.9h0m0.1 6.5h0m0.6 1.4h0m0.1-20.9h0m0.7 8.7h0m0.2 0.9h0m0-0.9h0m0.3 10.1h0m0-12.2h0m0.3-1.5h0m0.1 4h0m0.3 4.7h0m0.2-1.7h0m0.3-1.8h0m0.1 8.4h0m0.4-11.1h0m0.2 1.6h0m0.5 0.8h0m1.9-4.5h0m0.2 10.4h0m0.6-17.4h0m1.3 4h0m0.6 7.7h0m1.3-8.3h0m0.9 2.2h0m0.3 0h0m0.1 4.8h0m1.4-8h0m0.2 1.2h0m0.8 2.1h0m0.3-1.8h0m1.8-1.9h0m0.2-0.6h0m0.6 4.5h0m0.2-8.2h0m1.2 9.3h0m0.2-11.1h0m2.4-1.6h0m0.1-0.7h0m0.7 0.6h0m0.9-5.7h0m1.1 0.5h0m1.4 1.4h0m2.1-5.2h0m0.3 5.7h0m2.7-5h0m18.2-16.6h0m3.2-6.3h0m6.7-1.4h0m14.3-26.3h0" stroke="#12162d" stroke-width="0.95" stroke-linecap="square" fill="none"/>
<path d="M318.3 145.1h0m0.1-2.8h0m1.9 2.5h0m0.5-2.1h0m0.5-3h0m0.3 2.4h0m1.2-1.1h0m0.1-2.8h0m0.4-1.2h0m3.6 1.3h0m0.3-3.3h0m0.8 2.6h0m0.2-3.6h0m1.9 0.3h0m0.2-3.4h0m2.8 0.1h0m1.2-5.4h0m0.4-3.2h0m0.1 3.9h0m1.3-4h0m0.1 6.8h0m1.3-6.2h0m0.8 1.8h0m0.4-0.9h0m0.2 0.4h0m0.2-1.5h0m0.1-4h0m1.5 2.5h0m0.7-3.2h0m0.8 5.7h0m0.9-3.2h0m2.3-4.8h0m0.6-0.3h0m2.9-2.1h0m3.6-1.4h0m0.9-5.3h0m5.5-1.8h0m3.2-4.6h0m0.5-3.6h0m3.2-0.5h0m1.7-3.2h0m0.1 3.5h0m2.2-0.2h0m1.7-2.6h0m0.9-2.8h0m2.5-6.3h0m0.5 9.8h0m2-12h0m0.1-0.6h0m1.7-0.4h0m5.8-6.7h0m2.6 1.7h0m2.8-9.3h0m1.3 9.2h0m3.1-2.9h0m0.3-3.2h0m2.4-6.1h0m10.5-14.1h0m2.3 2.2h0m18.7-15.6h0m0.8-4.6h0m15-13.5h0" stroke="#269685" stroke-width="0.95" stroke-linecap="square" fill="none"/>
<path d="M317.2 145.4h0m0.3-1.9h0m0.1-4.7h0m0.4 0.2h0m0.7-5.8h0m0 8.9h0m0.2 4.4h0m0.2-6.3h0m0.3 4.9h0m0.2-4.1h0m1-3.3h0m0.3 8.6h0m0.4-4.9h0m0 0.7h0m1-3.3h0m0.3-1.5h0m0.6 3.3h0m0.5 4.1h0m0.7-2.9h0m0.1-0.6h0m0.8-1.3h0m0.1-1.1h0m0.1-2.1h0m0 1.9h0m0 0.2h0m0-0.8h0m0.5-2.4h0m0.6-8.8h0m0.2-0.9h0m0.4 7.1h0m0.2 3.3h0m0-3.1h0m0.5-4.8h0m0 7.8h0m0.5-2.7h0m1.7-3.1h0m0.1 5.6h0m0-6.7h0m0.1 3.6h0m0.4 4.4h0m0.2-3.3h0m0.3 0.7h0m0.5-0.1h0m0.2-7.9h0m0 5.3h0m0.1 1h0m0.3-1.3h0m0 1.7h0m0.1 3.2h0m1.2-7.3h0m0.1-5.3h0m0.7 10.7h0m0.1-12h0m0.2 1h0m0.1-0.1h0m0.3 21.4h0m0.5-21.4h0m0.8 2.2h0m0.3-0.6h0m0.4-3.3h0m0.2 1.5h0m0.5 2.4h0m0.1 0.7h0m0 3h0m0-7.9h0m0.2 1.8h0m0.3 0.9h0m0.2 0.7h0m0.3-2.2h0m0-3.2h0m0.1 5.4h0m2.6-8.4h0m0.4 6.5h0m0.2 1.9h0m0.1-9h0m0.8 5.2h0m0.3-13.3h0m0.1 7.4h0m0.5 3.5h0m0.9-15.4h0m0.2 17h0m0.8-11.6h0m0.1 5h0m0.7-0.2h0m0.4 0.4h0m0.1 2.2h0m1 0.9h0m0.6-4.2h0m0.5-5.9h0m0.5 6h0m0.1 0.2h0m0.2-2.2h0m0.5-2.9h0m0.8-0.7h0m0.1-4.2h0m0.8 6.3h0m0.8 2.1h0m0.7-8.3h0m1 0h0m0.3 2.1h0m0.6 4.8h0m1.1-5.4h0m1.2 0h0m1 0.5h0m0.1-2.4h0m0 5.8h0m0.1-5.5h0m0.3-3h0m0.3 4.3h0m0.9 7h0m1.5-11.8h0m0.7-1.5h0m0-1.1h0m0.1 6.2h0m0.1-7.8h0m0.1-15.1h0m0.2 22h0m2.3-13h0m1.6 3.9h0m0.1 1.4h0m0.1 4.1h0m2.6-9.1h0m0.2-0.6h0m5.2 0.8h0m1-2h0m1.2-1.1h0m0.1-4.8h0m0.7 4.3h0m2.7-6h0m0.9-2.3h0m6.6 5.9h0m1.2-9.7h0m0.9-2.2h0m0.5 1.3h0m1.8-6.8h0m1.4 5.2h0m3.8-14.1h0m2.6 2.2h0m0.6 1.9h0m0.3-1.6h0m1.2-2.3h0m2.8 0h0m1.6-2.7h0m4.4-4.3h0m3.7-5.5h0m2.3 8.3h0m1.8-10.3h0m3.8-0.5h0m2.8-8.4h0m1.1 1.4h0m7.3-10.1h0m0.6 4.7h0m3.3-10.4h0m0.9 4.3h0m1.8-4.4h0m1.9 1h0m1.6-1.9h0m3.5-4.4h0" stroke="#334c85" stroke-width="0.95" stroke-linecap="square" fill="none"/>
<path d="M322.1 141.4h0m1.9-2.7h0m0.5 0.7h0m2.3-7.5h0m0.2-1.3h0m1.8 0.1h0m1.5-2.8h0m2 6.1h0m0.2-2h0m2.4-7h0m7.9-0.8h0m1.8-13.4h0m0.5 4.4h0m2.3-1.9h0m0.2-5.2h0m0.8 2.6h0m7.4-1.7h0m1.6 0.1h0m10.3-13.2h0m19.7-19.8h0m0.6-9.2h0m4.8 3.2h0m0.4-2.5h0m31-36.2h0m22.2-18.1h0" stroke="#73be54" stroke-width="0.95" stroke-linecap="square" fill="none"/>
<path d="M317.5 142.3h0m0.3 1.4h0m0.1-0.6h0m0.1-0.4h0m0.1 1.3h0m1.2 0.1h0m0.6-9.9h0m0.5 8.7h0m0.2-0.3h0m0.1-4.3h0m0.5 6h0m0.6-4.7h0m0.1 1.1h0m0.2 0.7h0m0.1-2.6h0m1-3.1h0m0 8.7h0m1.3-5.5h0m0.5-2.7h0m0.3-1.3h0m0.1-1.7h0m0.6 3h0m0.2-7h0m0.3 4.3h0m0.1-3h0m0.7 10.1h0m0-3.2h0m0.1 1.6h0m0.1-3.2h0m0-0.2h0m0.6 2h0m0.2-8h0m0.1 8.4h0m0-3.4h0m0-0.7h0m0.1-0.5h0m0.4 0.6h0m0.1 3h0m1.5-6.5h0m0.3 3.1h0m0.3-15.9h0m0.6 18.5h0m0-3.1h0m1.1-4.5h0m0.5 5.5h0m0.1-2.2h0m0.1 2.3h0m0.1-2.9h0m0.1-0.9h0m1-4.3h0m0.4 5.5h0m0.1-3.8h0m0.1-10.2h0m0.2 5.9h0m0.3 11.5h0m0-9.6h0m0.6 4.9h0m0.1-2h0m1.1-5.9h0m0.4 5.9h0m0 2.5h0m0-6.6h0m0.1-0.3h0m0-0.8h0m0.2-3.2h0m0.1 1.5h0m0 3.4h0m0.2 2h0m0.2-6.4h0m0.2-0.5h0m0.1-0.7h0m0.1-2.6h0m0 15.9h0m0.1-8.1h0m0.1-4h0m0.4 0.8h0m0.1-0.3h0m0.2-2.8h0m0.3 1.4h0m0.2-5.9h0m0.8 5.5h0m0.3-0.7h0m0.1 11.6h0m0-10.3h0m0-13h0m0.5 13.2h0m0-0.7h0m1.4-0.2h0m1 1.7h0m0.7-3.3h0m0.3 1h0m0.4-2.7h0m0.2 1.1h0m0.5-2.4h0m0.4 6.2h0m1.9-8.3h0m0.5 7.2h0m0-7.7h0m0.4-6.3h0m0.2 2.3h0m0.4-7.5h0m0.1 11.1h0m0.1 2.1h0m0.2-4.2h0m0.5-4.2h0m0.6-4.3h0m1.1 10.1h0m0.2-2.8h0m0.7-10.4h0m0.1 10.4h0m0.3 1h0m0.5-4.7h0m0.2 0.8h0m0.1 5.7h0m1.1-8.8h0m0 4.2h0m0.4 0.4h0m0.9-4.6h0m0.4 1h0m0.2 0h0m0.6 1.8h0m0.2-6.1h0m0.8 4.2h0m0.1-1.7h0m0.6-3.5h0m0.2 0.2h0m0.1 3h0m0.1 1.8h0m0 0.2h0m0.2 1h0m0-0.5h0m0.7-4.7h0m0.5 1.8h0m0.4-3.2h0m0.8 4.6h0m0.4-0.3h0m0.5-2.5h0m0.3-8.7h0m0.6 10.5h0m0.8 3h0m0.8-7.3h0m1 0.4h0m0.3-4.7h0m0.3 2.6h0m2-7.2h0m0.1 12.8h0m0.4-12.2h0m0.1 3.9h0m3.3-9.2h0m0.3 7.2h0m0-5.3h0m1.2-0.7h0m1.9-1.2h0m2-1h0m0.6-1.8h0m1.5-2.9h0m1.1 0.7h0m0.6-1h0m0.7 4.8h0m1.3-4.9h0m0.4 1h0m3.7-3.4h0m3.2-5.2h0m3.3-2.6h0m1.5-0.7h0m1.3-2.7h0m0.1-9h0m0.4 13.4h0m0.4-3.2h0m2.2-5.3h0m0.1 2h0m7.4-10.2h0m7.9-8.1h0m0.5-2.1h0m1 6.9h0m11.1-16.3h0m5.2-9.2h0m0.6 7.7h0m0.5 1.5h0m3-6.3h0m1-1.3h0m7.3-10.2h0" stroke="#334c85" stroke-width="0.95" stroke-linecap="square" fill="none"/>
<path d="M329.4 133.8h0m20.3-19.5h0m0.6-3.8h0m36.6-34.4h0m1.8-5.2h0m32.3-26.8h0" stroke="#dcdb20" stroke-width="0.95" stroke-linecap="square" fill="none"/>
<path d="M327.5 135.1h0m2.7-4h0m2.2 4.6h0m3.8-8.7h0m8.9-8.7h0m11.6-14.7h0m3.9-2.5h0m7.2-6.2h0m4.2-5.8h0m23-19.2h0m47.9-48.2h0" stroke="#99c940" stroke-width="0.95" stroke-linecap="square" fill="none"/>
<path d="M319 139.3h0m1.5 4.5h0m0.1-2.2h0m0.4-2.7h0m0.1 0.3h0m2.8-1.3h0m0 7.6h0m0-3.4h0m0.8-9.4h0m1.7 4.2h0m1.3-2.8h0m1.1-3.1h0m0 3.7h0m1.6 5h0m0.6-10.4h0m0.1-0.3h0m0.1-0.3h0m0 4.4h0m1.7-2.5h0m1.1-3.6h0m0.6-1.1h0m0.2-0.5h0m0.9 6h0m0.5-8.9h0m2.6 4.4h0m1.1-11.9h0m0.6 7.7h0m0.3 5.4h0m0.9 0.4h0m0.9-26.1h0m1.3 14.4h0m0.1-6.8h0m0.1 6.8h0m3.9 4.2h0m3.2-16.1h0m1.6 4h0m1.8-7.6h0m0.9 8.2h0m3.4-6h0m0.7 3.5h0m2.3-9.1h0m0.8 0.8h0m3.7-3.9h0m0.5 1.4h0m1.7 0.1h0m0.5-1.3h0m2.6-3.9h0m1.9-2.8h0m0.1 5.1h0m9.5-18h0m7.1-5.4h0m1.8 1.4h0m1.7-1.2h0m3.4-5.4h0m10.9-11h0m7-6.2h0m0.4-3.1h0m22-22.4h0m3.5-4.1h0m0.9-1.3h0m4.7-1.1h0" stroke="#269685" stroke-width="0.95" stroke-linecap="square" fill="none"/>
<path d="M317.1 145.2h0m5.1-6.4h0m2.1-6.4h0m0.7 12.5h0m1.5 0.3h0m0.3-11.2h0m3-4.7h0m0.3-6.9h0m0.4 7.2h0m2-8.2h0m1 5.7h0m4.6-6.6h0m1.3 17.6h0m2.4-6.8h0m10.7-14.4h0m5.8-11.4h0m4.7-9.9h0m3-2h0m2.7 1h0m17.2-13.5h0m7.5-11.2h0m0.2 1.3h0m3.4-5.7h0m15.8-15.1h0m0.1 0.6h0m0.2-3h0m4.3-1.2h0m17.5-10.5h0m7-16.7h0m3.5-5.1h0m1 2.6h0" stroke="#eee11e" stroke-width="0.95" stroke-linecap="square" fill="none"/>
<path d="M317.7 140.2h0m0.3 3.5h0m2.2 0.5h0m0.5-33.6h0m0.8 27.1h0m1.3 0.7h0m0.6-9.8h0m0.3 10.8h0m0.7-1h0m1.4-0.2h0m0.6-1.6h0m0.7-4.2h0m2.8 3.3h0m1.8-0.8h0m0.3-1.5h0m0.7-16.1h0m2.3 15.5h0m3.5-10.5h0m1.9 9.7h0m2.2-8h0m1-1.9h0m0.2-3h0m1.4-5.2h0m0.7-0.3h0" stroke="#05060c" stroke-width="0.95" stroke-linecap="square" fill="none"/>
<path d="M319.3 143.1h0m0.3-3h0m1.3 0h0m0.8-4.2h0m4.1 4.5h0m0.4-3h0m0.1 2.9h0m0.1-2.5h0m1.7-2.4h0m9.5-11.2h0m1.2 0.9h0m1.8 0.7h0m0.8-12.9h0m1-5.7h0m1.3 11.3h0m9.4-21h0m7.1 1.9h0m0.7 1.2h0m5.5-1.7h0m1.6-6h0m1.9-6h0m3.6 2.2h0m3.3-1.6h0m1.8-2.9h0m4.8-0.8h0m1.8-8.1h0m1.3-1.2h0m24-22.7h0m2.2-1.9h0m2.1-4.4h0" stroke="#4db068" stroke-width="0.95" stroke-linecap="square" fill="none"/>
<path d="M321 146.5h0m2.2-9.4h0m0.7 8h0m2.2-10.9h0m0.5 3.1h0m2.9-3.5h0m1 2.6h0m0.5-18.1h0m4.2 8.7h0m1.7-0.3h0m1.6 1.9h0m6.3-9.3h0m1.9 2.3h0m1.2-6.6h0m1.6-1.3h0m1.7 2.3h0m1.8-14.7h0m4.6 2.8h0m13.1-9h0m1.2-7.9h0m0.5-2.1h0m4.8-2.5h0m0.2 5h0m3.5-2.9h0m2.6-3.4h0m3-3.8h0m0.4-1.7h0m2-4.7h0m6.3-11.8h0m2.6 3.6h0m6.6-2.1h0m1.7-3.4h0m19.9-20h0m8.6-11.4h0" stroke="#73be54" stroke-width="0.95" stroke-linecap="square" fill="none"/>
<path d="M316.8 122.1h0m0.3 23.8h0m0.1-3.7h0m0.5-0.2h0m0.3 4.6h0m0.5-4.4h0m0.2 0.4h0m0.1-0.8h0m2.7-2.7h0m1.3-13.1h0m0.1 15.2h0m0.3 2.3h0m0.3-2.4h0m0.4 2h0m0.1-6.1h0m0.5 0.1h0m0.1-2.5h0m0.9 1.3h0m0.6 0.7h0m0.1-1.4h0m0 1.5h0m0.9 2.4h0m0.5-5.9h0m0-4.3h0m0.6 8.1h0m0.1-8h0m1 2.6h0m0.3 2.2h0m0.1 0.3h0m0.8-5.5h0m0 3.4h0m0.1-8.8h0m1.4 9.4h0m0.2 3h0m0.6-2h0m0 0.1h0m0.1-5.8h0m0.1-0.4h0m2.3-2.4h0m0.8 1.6h0m1.1 3.3h0m0.2-34.3h0m0.3 23.8h0m2.2 0.1h0m0.6 6.3h0m0.1-7.9h0m0 5.4h0m0.2-0.2h0m0.2 1.5h0m1.5-4.8h0m0.2 8h0m0.8-6.6h0m1.4-4.4h0m0.1 11.2h0m0-7.9h0m3.2-9.3h0m1.7 2.8h0m0.4-3.1h0m0.6 5.5h0m4.9-4.4h0m2.9-6.3h0m2.9-6h0m1 1.3h0m3.3 2.5h0m4.9-9h0m0.1-0.3h0m8-6.7h0m1.1-10.5h0m4.3-3.5h0m0.4 6.1h0m0.1-0.3h0m3.9 1.5h0m0.3-11.9h0m5.2-0.1h0m1.6 2h0m0.2-4.6h0m1.5-4.9h0m2.4-4.9h0m0.9 5.2h0m2 0.2h0m3-13.5h0m0.3 6.6h0m1-8.5h0m6.8-1.3h0m1.5 1.6h0m0.6 6.9h0m3.7-10.1h0m2 12.1h0m0.7-13h0m19.3-17.8h0" stroke="#278090" stroke-width="0.95" stroke-linecap="square" fill="none"/>
<path d="M317.2 140.2h0m0.3 6.1h0m0-0.2h0m1.1-2h0m0.3-3.4h0m0.5 1h0m0.3-0.7h0m0.1 0.2h0m1.3 1.7h0m0.1-2h0m0.9 0.4h0m0.4-6.4h0m0 0.7h0m0.4 2h0m0.4 3.2h0m0.2 0.8h0m0.6-3h0m0.5 3.7h0m1.2 3.4h0m0.2-9.8h0m0.3-1.4h0m1 6.6h0m0.3-8h0m0.2 0.8h0m0.4-1.6h0m0.5 4.3h0m0.2-6.4h0m0.2 11h0m0.1-5.3h0m0.2 1.7h0m0.5-3.6h0m0.2 8.4h0m0.8-12.1h0m0 2.6h0m0.8-2.2h0m0.1-1.7h0m0.2 2.8h0m1.4-4.4h0m0 3.9h0m0.2 1.8h0m0-0.4h0m0-4.1h0m0.1-0.2h0m0.1-2.2h0m0.3-2.9h0m0.2 6.5h0m0.2 4.6h0m0-6.5h0m1.7-5.3h0m0 2.9h0m0.5 0.3h0m0.5-0.3h0m0.6 8.5h0m0-17.9h0m0.6 7.8h0m0.2-6.8h0m0.1 4.7h0m0 1.8h0m0.6 3.7h0m0.4-6.8h0m0 4.9h0m0.1 5h0m0.6-7.6h0m0.7-10.1h0m0 10.9h0m0.4-2.5h0m0.6 0h0m0.3-1.5h0m0.5 5.7h0m0.5-2.5h0m0.7-0.5h0m0.1 1.5h0m0-7.5h0m0.7 1.6h0m0.5-3.3h0m0.3-10.4h0m0.3 20.9h0m0.1-10.3h0m0 8.3h0m0.5-8.6h0m0.8-2.4h0m0.2 3.7h0m0.1-2.9h0m0.2 4.4h0m0.2-15.6h0m0.4 8.8h0m0.9-7.6h0m0.2 11h0m0.6-2.3h0m1.1-14.3h0m0.3 9.5h0m0.2 5h0m0.8 7.1h0m0.1-10.3h0m0-0.8h0m0.4 1.1h0m0.6 1.9h0m2.5-3.2h0m1.1-5h0m0.5 1.8h0m0-0.3h0m0.2 4h0m0.9-3.6h0m1.7-2.3h0m0.1-6h0m0.9-0.3h0m0.7 2.4h0m0.9-2.8h0m0.1 0.5h0m0 3.9h0m0-4h0m0-0.5h0m2.2-3.3h0m1.1 3.9h0m0-0.2h0m0.9-2.8h0m2.1-4h0m0.1 4.5h0m5.7-8.2h0m0.2-0.8h0m0.6 2.8h0m0.7-5.5h0m0.1 4.9h0m1.9-6.7h0m2.1 0.7h0m0.2 3.6h0m0.8-3h0m0.5-4h0m0.5 3.4h0m1.4-6.6h0m0.6-0.3h0m0.9 3.5h0m1.8-4.3h0m0-4.7h0m3.4 5.6h0m3-3.6h0m1.1-3.6h0m1.7 1.1h0m1.4-5.9h0m0.1 4.9h0m1.7-6.8h0m2.4-2.5h0m5.8 2.6h0m3.3-10.6h0m4.8-7.1h0m9.3-4.1h0m1.2-3.4h0m1.1-0.9h0m7.1-5.9h0m5.6-14.6h0m3.4 7.1h0m0.8-0.8h0m0.8-3.3h0m1.3-2.8h0" stroke="#37629a" stroke-width="0.95" stroke-linecap="square" fill="none"/>
<path d="M317.3 140.3h0m0.7-4.1h0m1.6 6.8h0m2.1-5.3h0m0.4 5h0m1.2-3.7h0m0.4-4.3h0m3-5.2h0m1.2-6.6h0m0.1 14h0m0.4-6.3h0m0.3 2.4h0m1.2 0.3h0m1.8 3.7h0m0.1-7.4h0m0.1 8.1h0m0.8-11.7h0m0.3 1.3h0m0.9 0.1h0m0.9-2.5h0m0 7.5h0m0.3-6.3h0m0.3 0.4h0m0.7 0.3h0m0.6 0.2h0m0.2 7.6h0m0.1-7.7h0m0.4-12h0m0.4 24.2h0m0-12.8h0m0.4-7.3h0m3.4 2.4h0m0.6-0.8h0m3.3 0.6h0m1.3-4.8h0m1.2 0.7h0m1.3-5.3h0m0.8 8.4h0m0.5-5.3h0m0.9-3.5h0m0.9 1.3h0m0.7-1.9h0m0.1-0.5h0m0.8-2.3h0m2.3 1.6h0m8.6-13.3h0m0.7-12.9h0m0.7 9.1h0m3.4 0.1h0m2.4-8.7h0m0.1 5h0m4.5-1.8h0m1.6-6.8h0m10.4 0h0m2.2 1.1h0m1.6-11.4h0m1.1-1.4h0m6.1 2.3h0m5.9-12h0m3.6-3.8h0m1.6-0.1h0m1.7-15.2h0m4.6 6.4h0m2 0.3h0m1.8-10.7h0m0.3-0.8h0m0.1 6.2h0m5.4-8.5h0m1.1-1.2h0m2.6-1.5h0m5.4-1.1h0m3.6-1.8h0m3.1-3.5h0m1.2-8.7h0m2.5 2.5h0m0.7-6.9h0m1.3 4.6h0" stroke="#228a8d" stroke-width="0.95" stroke-linecap="square" fill="none"/>
<path d="M317.1 145.4h0m0.9-0.3h0m0.4-4.3h0m0.3 5.1h0m1.4-3h0m0.4-0.9h0m1.1 3.3h0m0.6-21.2h0m0.1 17.7h0m0.7-16.7h0m0.1 15.5h0m0.3 0.8h0m0.5-2.7h0m0.3-0.4h0m0.5 2.2h0m0.6-1.8h0m0.1 3h0m0.5-6.7h0m0.1 1.2h0m0.9 0.4h0m0.5 1.3h0m0.5-33.7h0m1.1 37.4h0m0.3-9.9h0m0.2-0.8h0m1.3 7.8h0m0.2-8.2h0m0.9 1h0m0.3-12.1h0m1.6 9.5h0m0.2 2.2h0m0.1-2.9h0m0.5 3.3h0m0.8-2.3h0m0.2-2.5h0m0.5-0.1h0m1.1 2.2h0m0.1 0.3h0m0.1-1.3h0m0.8-1.4h0m0.3-7.9h0m1.8-2h0m0.4 4.2h0m0.7 0.3h0m0.5 2h0m0.1-8.4h0m0.1 5.3h0m0.8 0.1h0m0.1 4.2h0m0-2.7h0m0.4-7.9h0m0.5 2h0m0 6.6h0m1-0.4h0m0.8-6.5h0m0-1.8h0m0.9 0.7h0m0.2 10.4h0m0.1-8.4h0m0.9-4.8h0m2-1.4h0m0 1.9h0m1.3-1.8h0m0.2-2h0m1.8 2.5h0m0.3-5.4h0m1 5.8h0m1.6-10.5h0m0.3 5h0m1-8.5h0m0.3 3.4h0m3.1 2.3h0m1.4-3.4h0m3.3-18.4h0m0.8 14.4h0m0.3-0.6h0m1.2-0.8h0m2.7-2.5h0m0.3 3.5h0m0.8-6.5h0m2.2 2.4h0m0.2-4.8h0m3.3-1.4h0m1.8-4h0m0.1 1.9h0m3.5-1.2h0m0.5-2.6h0m0.5-1.6h0m0.5 1.2h0m0.6-2.3h0m0.4 4.6h0m0.5-4.1h0m0.2 4.2h0m4.5-9.1h0m1.9-0.9h0m0.4 3h0m2.7-5.1h0m5.2-9.6h0m1.4 0.2h0m0.9 0.9h0m6.9-7h0m2.5-15.2h0m1 9.2h0m0.9 2.1h0m3-5.9h0m2 0.8h0m0.9-1.1h0m0.7-2.1h0m3.9-6.1h0m0.2 0.1h0m0.4 1.2h0m0.1-0.2h0m0.3 1.2h0m4.7-9.9h0m1.7-2.3h0m1.5 5.4h0m0.6-1.6h0m4 0.6h0m9.8-15.9h0" stroke="#2f7296" stroke-width="0.95" stroke-linecap="square" fill="none"/>
<path d="M317.2 144.4h0m0-5.3h0m1.8 5.6h0m0.1-0.4h0m0.5 1.2h0m0-4.1h0m0.8-15.1h0m0.7 11.2h0m0.2 2.8h0m0.2-4.6h0m0.1 4.5h0m0.8 1.9h0m0.4-0.6h0m0-4.3h0m0.7 6.3h0m0-2.1h0m0.4-0.4h0m0.1-0.5h0m0.9-4.5h0m0.3-1.4h0m0.1 6.7h0m0.2-2.9h0m0.1-3.2h0m0.9 4.4h0m0.3-10.1h0m0.4 3.9h0m0.2 0.1h0m0.2 1.8h0m0.5-12.6h0m0.1 11h0m0.5-1h0m0.2-1.5h0m0.7 4.9h0m0.1-5.6h0m0.2-0.8h0m0.5 7.1h0m0.9-2.5h0m2.1-9h0m0 2.7h0m0.2-1.8h0m0.2-1h0m0.3 4.8h0m0.3-5.4h0m0.3 4.6h0m0.4-1.1h0m0.1-5.9h0m1.2 10h0m0-3.9h0m1.2-4.9h0m0 5.1h0m1.2-6.4h0m0.2 1.6h0m0.3-3.4h0m0.9 5.2h0m0.1-3.9h0m0.1-2.7h0m0.2-8.7h0m1 12.5h0m0.4-5.1h0m0.3 4.4h0m0.1-1.7h0m0.3 5.6h0m0.5-6.9h0m0.5 1.3h0m0.1-0.8h0m0.8-0.7h0m0.7 8.7h0m0.7-11.8h0m0.3-2.5h0m0.5-0.1h0m2.5-22.8h0m2.2 23.2h0m0.3 0.9h0m1.4 3h0m0.1-10.8h0m0.7 1.9h0m0.6 0.4h0m0.2-2.9h0m0 10.1h0m0.4-10.8h0m0.3 0.1h0m0.3-1.4h0m0.2 2.1h0m0.1 1.8h0m0.1 2.8h0m0.2-2.7h0m3.7-13.1h0m1.5 5.2h0m0.3 2h0m1 0.9h0m0.6-4.2h0m3.5-5.2h0m0.7 3.7h0m2.5-7.1h0m4.1-6.3h0m0.8 1.7h0m3.6-4.7h0m1.8 3.1h0m0.2 0.1h0m1.4-0.7h0m2.1-6.3h0m3.4-0.6h0m0.4-0.8h0m10.3-10.6h0m1.8-4h0" stroke="#12162d" stroke-width="0.95" stroke-linecap="square" fill="none"/>
<path d="M322.8 140.3h0m0.6-7.2h0m6.8-1h0m1.8 2.6h0m15.1-15.5h0m4.8-10.2h0m1 22.8h0m12.9-39.6h0m0.8 6.4h0m2.7-5.2h0m12.5-9.3h0m0.5-0.2h0m62.8-71.1h0" stroke="#bfd32c" stroke-width="0.95" stroke-linecap="square" fill="none"/>
<path d="M317 146.4h0m0.2-0.6h0m0.3-2.7h0m0.1-0.9h0m0.3 1.2h0m0.6-1.8h0m0.2-5.2h0m0 2.4h0m0.4-0.7h0m0.4 6.8h0m0-1.8h0m0.6-2.7h0m0.2 2.1h0m0.2 3h0m0.3-16h0m0.1 7.2h0m0.3-0.7h0m0.4 2.9h0m0 7.9h0m0.3-6.2h0m0.3 3.1h0m0.3-1.8h0m0.7-2.4h0m1.7-2.2h0m0.1 4.4h0m0.3-4.4h0m0.4-3.1h0m0.8 3.5h0m0.2 5.3h0m0-12h0m0.1 5h0m0.7-1.9h0m0.5 2.2h0m0.1-14.3h0m0.3 10.4h0m0 1.1h0m1.1-8.3h0m0.1 5.5h0m1.1 7.5h0m0-9.6h0m0-3.5h0m0.1 9.3h0m0-3.2h0m0.1-8.3h0m0.4 6.6h0m0.3 2.9h0m0.5 7.1h0m0.8-18.2h0m0.6 7.5h0m0.3 10.3h0m0.3-10.5h0m0.7-8.7h0m0.6 7.6h0m0.1-0.3h0m0.1-1.3h0m0 5.5h0m0.2 9.2h0m0.1-10.3h0m0.5 3.9h0m0.1-6.1h0m0.4-0.3h0m0-1.6h0m0.1 0.3h0m0.3-5.1h0m0.1 2.8h0m0.6 1.6h0m0.7-3.1h0m0.1-2.4h0m0.1 4.8h0m1.1 1.2h0m1.1-10.2h0m0.3 5.2h0m1.2 2h0m0.6 4.4h0m0.1-4.1h0m0.4-6.6h0m0.6 0.3h0m0.3 1.9h0m0.3 1.9h0m0.9-2.9h0m0.4-9h0m0.6 2h0m0.1 3.9h0m1.3 8h0m1.1-8.6h0m0.1-3.3h0m0.4-0.8h0m0.1 4.7h0m2.2-24.8h0m0.5 9.6h0m0.5 8.3h0m0.7-6h0m0.4 3h0m1.6-1.4h0m0.3 5.3h0m1.2 0.8h0m3-6h0m2-2.9h0m1 8.9h0m2.5-28.1h0m0.1 14.5h0m1.2-1.7h0m0.2-1.5h0m0.8 3.7h0m0.3-7.8h0m1.2-8.2h0m0.1 13.4h0m3 0.6h0m0.2-12.1h0m0.4 4.3h0m0.2 1.1h0m0 0.4h0m0.5 1.7h0m0.8-0.8h0m3.5-6h0m3.4-4.6h0m2.4-2.3h0m1.2 2.3h0m0.4-2.8h0m2.6-8.2h0m0.3 2.1h0m3.8 0.2h0m1 2h0m2.2-0.5h0m0.8-7.9h0m6.5-4.5h0m1.2-9.6h0m2.3 5.4h0m4.6 0h0m0.4-8.1h0m3.6 13.9h0m3-14.6h0m2.4-7.5h0m10.7-4.7h0m0.3-4.7h0m1.5-1.1h0m1.3-2h0m1.3 1h0m6-4.3h0m1.1-5.5h0m3.6 2.7h0" stroke="#232f58" stroke-width="0.95" stroke-linecap="square" fill="none"/>
<path d="M321.1 128.2h0m0.9 4.2h0m0.1 12.3h0m0.1-7.9h0m3.4-0.4h0m2.2-0.2h0m7.4-8.8h0m0.3 2.8h0m2.8-9.8h0m1.2 0.3h0m0-1.3h0m1.2 1.1h0m0.2 4h0m0.4-6.6h0m0.2 5.9h0m1-1.7h0m1.4-8.5h0m0.3 3.2h0m0.2 6.2h0m0-9.8h0m0.6-32.8h0m1.3 37.4h0m0.6-1.5h0m2.2-3.2h0m4.3-4.2h0m4.1-2.4h0m4.1-5.5h0m13.2-11.6h0m1.3-4.4h0m2 0.2h0m6.4-6.2h0m1.2-2.5h0m6.6-6.6h0m20.2-21.6h0m3.6-6h0m7.3-5.7h0" stroke="#33a478" stroke-width="0.95" stroke-linecap="square" fill="none"/>
<path d="M315.00 147.20L451.00 10.95" stroke="#b4242a" stroke-width="1.1"/>
<path d="M315.00 147.30L451.00 8.50" stroke="#1a1a1a" stroke-width="0.8"/>
</g>
<rect x="315" y="8.5" width="136" height="138.8" fill="none" stroke="#858585" stroke-width="1"/>
<text x="446.4" y="140.9" font-size="10.5" text-anchor="end" textLength="95" lengthAdjust="spacingAndGlyphs" fill="#262626">StreamLine XR+ (c)</text>
<text x="317.8" y="16.8" font-size="8.4" textLength="79.8" lengthAdjust="spacingAndGlyphs">linear regression, n=2250</text>
<text x="317.8" y="23.3" font-size="5" textLength="106" lengthAdjust="spacingAndGlyphs">[0.9816 <tspan font-style="italic">x</tspan> + 0.03 m s<tspan dy="-1.6" font-size="3.6">−1</tspan><tspan dy="1.6">, <tspan font-style="italic">σ</tspan></tspan><tspan dy="-1.6" font-size="3.6">2</tspan><tspan dy="1.6"> = 0.856 m</tspan><tspan dy="-1.6" font-size="3.6">2</tspan><tspan dy="1.6"> s</tspan><tspan dy="-1.6" font-size="3.6">−2</tspan><tspan dy="1.6">]</tspan></text>
<text x="317.8" y="32.1" font-size="8.4" textLength="76.4" lengthAdjust="spacingAndGlyphs">lidar bias: −0.183 m s<tspan dy="-3" font-size="6">−1</tspan></text>
<text x="31" y="150.7" font-size="10" text-anchor="end">0</text>
<text x="31" y="116.0" font-size="10" text-anchor="end">10</text>
<text x="31" y="81.3" font-size="10" text-anchor="end">20</text>
<text x="31" y="46.6" font-size="10" text-anchor="end">30</text>
<text x="31" y="11.9" font-size="10" text-anchor="end">40</text>
<text transform="translate(13.2 77.9) rotate(-90)" font-size="10.3" text-anchor="middle" textLength="73" lengthAdjust="spacingAndGlyphs">Lidar ff in m s<tspan dy="-3.6" font-size="7">−1</tspan></text>
<g clip-path="url(#c01)">
<rect x="35" y="151.5" width="136" height="138.8" fill="#fff"/>
<path d="M69.00 151.50V290.30M35.00 255.60H171.00M103.00 151.50V290.30M35.00 220.90H171.00M137.00 151.50V290.30M35.00 186.20H171.00" stroke="#dcdcdc" stroke-width="0.6" fill="none"/>
<path d="M42.5 283.3h0m7.1-5.5h0m2.9-2.4h0m1.2 3h0m1-12.5h0m1.7 4.5h0m0.5-1.1h0m4.2 4.2h0m0.4-13h0m1.5 2h0m5.4-2.3h0m1.2 3.8h0m1.5-4.5h0m0.2-3.7h0m2.7-0.9h0m0.5-8.4h0m4.4-2.1h0m2.5-5.1h0m7-10.2h0m13.8-2.4h0m6.3-16.7h0m4.9 8.5h0m12.3-24.4h0" stroke="#dba4a0" stroke-width="0.85" stroke-linecap="square" fill="none"/>
<path d="M37.7 280.9h0m0.1 8.3h0m0.4-3.7h0m0.7 2.2h0m0.1 0.2h0m0 1.2h0m0.1-4.9h0m0.5-0.4h0m0 3.9h0m0.1-1h0m0.2 2h0m0.3 0h0m0.7-9.9h0m0.2 0.4h0m0.3 2.6h0m0.5 2.8h0m0.3-3.8h0m0.2-0.2h0m0-6.5h0m0.4 9.5h0m0.1-18.4h0m0 20.4h0m0.2-4.1h0m0.2-0.5h0m0.2 2.6h0m0-5.3h0m0 10.3h0m0.2-5.2h0m0.1-3.8h0m0.1-0.6h0m0.1-1.8h0m0.1-11.3h0m0 12.1h0m0.2 0.1h0m0-5h0m0 8.6h0m0-0.6h0m0.2-1.9h0m0 4h0m0.3-3h0m0.2-2.9h0m0.2-13.7h0m0 7.9h0m0.3 12.3h0m0 2.9h0m0-14h0m0.1 7h0m0.4-6.8h0m0 4.8h0m0.1 1.4h0m0.2-0.3h0m0.2 9h0m0.2-11.5h0m0.1-8.9h0m0.3 11.5h0m0.3 1.1h0m0.5 4.2h0m0.1-10.3h0m0.2-3.4h0m0 11.9h0m0.1-6.2h0m0.1 0.5h0m0 2.2h0m0.1-14.2h0m0 0.4h0m0.2 18.8h0m0.1-3.6h0m0-6.6h0m0.4-4.5h0m0 7.6h0m0.1-0.8h0m0.2-7.7h0m0.1 9.2h0m0.1 0.7h0m0-0.8h0m0.2 0h0m0 0.3h0m0-5h0m0.1 1.5h0m0.1-0.6h0m0-2.2h0m0-0.6h0m0.3 1.2h0m0 2.4h0m0 3.6h0m0.2-2h0m0.1-5.7h0m0.1 1.6h0m0.1 4.2h0m0-0.7h0m0.1-5.4h0m0-4.3h0m0 6.9h0m0.1-0.6h0m0 9h0m0-16.9h0m0 0.2h0m0.2 12.4h0m0.2-5.3h0m0.3-0.6h0m0.1 2.7h0m0-1.9h0m0.2-1.1h0m0 7.2h0m0.1 5.4h0m0-24.1h0m0.2 13.8h0m0.1-1.6h0m0.1-0.5h0m0.3-10.7h0m0.1 11h0m0-4.5h0m0.1 2.9h0m0-5h0m0 2.8h0m0.1 3.7h0m0-0.9h0m0.1-3.9h0m0.1 0.8h0m0 6.2h0m0.2-2.9h0m0-3.8h0m0.2-3.3h0m0.1 9.3h0m0.2-7.1h0m0 2.4h0m0.1 1.2h0m0.2 0.4h0m0 5.4h0m0.2-20.6h0m0.1 5h0m0.1 11.6h0m0.1-0.4h0m0.2-4.7h0m0.1-1h0m0.2 6.3h0m0-11.1h0m0.2 9.8h0m0-2.5h0m0 3.3h0m0-3.7h0m0.3-4.2h0m0 5.8h0m0 3.7h0m0.1-17.2h0m0 8.5h0m0.2 3.7h0m0.1-1.1h0m0.1 3.1h0m0.1 7.9h0m0.1-9.8h0m0 2.6h0m0.1 5.2h0m0-6.6h0m0-3.6h0m0.1 12.6h0m0.1-9.6h0m0-0.1h0m0.1 2.3h0m0.1 2.5h0m0.1-10.5h0m0.1 6.7h0m0.1-0.5h0m0.2 0.9h0m0.2-3.8h0m0.2-3.1h0m0.2 3.5h0m0 22.2h0m0-30.1h0m0.2 12h0m0-8.4h0m0 6.9h0m0.4-5.8h0m0 1.9h0m0.1-0.3h0m0.2 5.6h0m0.2-0.9h0m0.1-11.6h0m0.1 13.2h0m0.1-5.4h0m0.2-8.5h0m0 10.3h0m0.1 0.4h0m0-2.7h0m0-1.9h0m0 2.6h0m0.1-1.8h0m0.1 2.9h0m0-2h0m0.1 5.7h0m0.2-3.6h0m0-0.7h0m0-4.7h0m0.2 7.2h0m0.2-7.3h0m0.1 1.8h0m0-5.7h0m0 4.3h0m0.2-1.6h0m0 3.5h0m0.2-3.1h0m0 0.3h0m0.1 3h0m0-1.7h0m0.1 1.7h0m0.1-3.4h0m0-6.9h0m0 1h0m0 5.2h0m0.3 1h0m0-7.9h0m0.3 14.6h0m0-0.9h0m0.1-1.3h0m0-1.7h0m0-5.7h0m0.4 8.5h0m0-8.1h0m0 7.6h0m0.1-6.6h0m0.3 0.7h0m0-3h0m0 9.1h0m0-4.6h0m0-9.6h0m0.1 3.6h0m0-1.9h0m0 8.9h0m0.2-3.8h0m0 2.6h0m0.1 3.4h0m0-13.3h0m0 5.4h0m0.1 1.4h0m0 6.2h0m0-1.5h0m0.1-3h0m0-2h0m0.3 3.6h0m0-0.8h0m0.1-2h0m0.1 5.1h0m0.2 1.4h0m0-1.2h0m0.1-3.4h0m0.1-4h0m0.2 4.3h0m0.1-5.8h0m0.1 2.2h0m0.1-0.8h0m0.3 5.9h0m0.1 0.2h0m0.2-1h0m0.1 0.1h0m0-3.5h0m0.1-7.6h0m0.1 4.4h0m0.1 6.7h0m0 1.9h0m0.3-0.1h0m0-4.7h0m0.1-4.5h0m0.1-1.3h0m0.1-4.8h0m0.1 8.2h0m0 16.1h0m0.6-17.1h0m0.1 9.8h0m0.2-11.8h0m0.1 2.8h0m0 1.8h0m0.1 1.3h0m0-3.6h0m0 0.6h0m0.1-11.2h0m0.2 11.5h0m0.1-0.7h0m0.2 0.6h0m0.1 13.1h0m0-10.8h0m0.1-5.9h0m0.1 2.8h0m0 2.1h0m0-8.1h0m0-6.9h0m0.2 8.4h0m0.2 4.3h0m0.1-2.9h0m0.2-0.1h0m0.1 4.7h0m0.1-5.4h0m0.1 4.7h0m0-11.8h0m0.1 7h0m0.1 4.8h0m0.1-8.4h0m0-2.9h0m0 9.4h0m0 8.2h0m0.1-4.7h0m0-0.6h0m0.3 1.4h0m0.1-4.8h0m0-0.8h0m0.3 6.9h0m0.1-3.9h0m0 0.4h0m0.1-6.7h0m0 3.8h0m0-5.8h0m0.2-2.4h0m0.1 4.3h0m0 2.2h0m0.1 2.8h0m0.1-2.1h0m0.3 0.5h0m0.1-11.4h0m0.1 9.1h0m0.2-4.2h0m0 3.5h0m0.5-0.8h0m0.2 0.9h0m0.2-9.2h0m0 13h0m0.4-1.8h0m0-2.9h0m0 8.5h0m0.2 3h0m0.2-12.6h0m0.1-21.2h0m0.1 27.1h0m0.1-12h0m0-3.7h0m0.1 8h0m0.1 6h0m0.2 0.1h0m0.2-4h0m0-9.2h0m0.9 8.4h0m0 14h0m0.3-14.5h0m0.1 10.9h0m0.3-15.9h0m0.1 6.3h0m0.3-8.2h0m0.4 7h0m0-2h0m0.2 3h0m0.1-1.9h0m0 5.7h0m0.2-1.4h0m0-7.7h0m0 10.2h0m0.2-5.9h0m0.1-0.8h0m0.1-2.8h0m0.1 4.9h0m0.5-1.7h0m0-1.7h0m0.1-2.2h0m0 0.8h0m0.1 3.9h0m0-5.3h0m0.1-6.7h0m0.2 10h0m0 6.8h0m0.1-4.4h0m0.3 17.2h0m0.4-20.2h0m0-1.3h0m0.2 3.3h0m0-0.2h0m1.3 0.2h0m0.3-7.1h0m0.3 5.2h0m0-1h0m0.1-5.5h0m0.1 5.8h0m0.7 6.5h0m0.2-18.9h0m0 16.5h0m0.2-8.4h0m0.5 1.2h0m0.2 0.4h0m0.1 4.1h0m0-3.5h0m0.1 1.3h0m0.1-2.5h0m0.1-10.9h0m0 13.2h0m1.1-11.4h0m0.7 12.7h0m0.4-16.2h0m0.2 15.2h0m0.1-9.2h0m0.1 1.4h0m0.7-11.1h0m0.5-2.9h0m0 13.1h0m0 1.3h0m0.1 1.2h0m1.3-7.2h0m0.1 1.7h0m0.4 4.3h0m0-4.6h0m0-13.7h0m0.4 16.2h0m0.1 0.1h0m0.3-2.3h0m0.1-5h0m0.1 3.1h0m0.2-3.3h0m0.1 8.3h0m0.1-3.2h0m0.3 4.5h0m0.8-3.1h0m0.1-5.7h0m0.1 3.2h0m0.3-0.5h0m0.2-2.2h0m0.2-1.5h0m0.5 4.7h0m0.1-1.2h0m0.1-5.9h0m0.3 6.6h0m0.2-8h0m0.2 2.4h0m0.1 5.7h0m0.1 10.7h0m0.4-13.5h0m0.7-1.5h0m0.2 5.6h0m0.7-2.6h0m0.1-6.6h0m0.6 5.3h0m0.4-6.5h0m0.2-0.6h0m0 18.6h0m0.2-13h0m0.1 1.3h0m0.5-1.7h0m0.1-2.7h0m0.2-6.5h0m0.8 2.5h0m0.5 3.5h0m0.6 0.9h0m0.5-5.7h0m0.5 5.4h0m0.3-10.3h0m1.1 3.2h0m0.4 5.2h0m0.5-1.6h0m1.5 15.3h0m0.7-11.9h0m1.1-8.2h0m0 2h0m0.3 7.7h0m0.1 3.8h0m0.9-17.5h0m0.2 0.6h0m0.3 1.5h0m1.5 4.4h0m0.4-5.5h0m0-0.9h0m0.6-3.8h0m0.5 0.5h0m0.8-3.4h0m0.4-2.1h0m1.4 4.2h0m0.4 3.2h0m0-4.1h0m2.2 10.3h0m0.7-8.9h0m0.6-6.4h0m1.5-1.3h0m2.8-1.6h0m0.9 1.8h0m6-14.8h0m5.3 3.2h0m0.6 2h0m3.1-15.3h0m1.6 10.7h0m0.3-3.8h0m6.2-1.3h0" stroke="#d1d6e6" stroke-width="0.85" stroke-linecap="square" fill="none"/>
<path d="M47.1 285.3h0m6.2-13.5h0m9.7-8.4h0m1.6-1.9h0m0.2-1.3h0m3.3-5.5h0m12.9-5.1h0m0.8 1.3h0m10.1-10.8h0m7.3-21.6h0" stroke="#cb7e7a" stroke-width="0.85" stroke-linecap="square" fill="none"/>
<path d="M37.1 289.3h0m0.1-7.5h0m2.2 3.9h0m0.2 3.9h0m0.1-2.1h0m0.1-7h0m0.5 7.2h0m0.3-3.8h0m0.2-0.4h0m0.2-3.3h0m0.1 6.1h0m0.9-3.6h0m0.1 2.8h0m0.5 1h0m0.3 1.5h0m0.2-4.4h0m0 4h0m0.4-9.6h0m0.9 3.9h0m0.1-5.3h0m0.2 10.9h0m0-8.1h0m0.2 4.7h0m0.2-7.1h0m0 3.4h0m0 4.9h0m0.1-3.9h0m0.4 7.7h0m1-14h0m0.6 1.2h0m0.3 8.9h0m1.2-5.5h0m0.2-10h0m0.4 3.6h0m0.4 6.8h0m0-5.4h0m0.1 3.1h0m0.1-2.2h0m0-5.2h0m0.6-0.9h0m0 7.2h0m0.4 1h0m0.4-5.2h0m0.2 0.2h0m0.2-2.3h0m0.2 3.7h0m0.6-0.1h0m0.9 0.4h0m0-4.8h0m0.2 6.2h0m0.1-4.9h0m0.4 17.3h0m0.1-11.7h0m0-2.6h0m0.3 4.4h0m0.2 7h0m0.2-23.4h0m0.1 21.5h0m0.1-17.5h0m0.1 5.6h0m0 8h0m0.1-11.1h0m0.1-16.3h0m0 15.2h0m0.3 4h0m0 1.1h0m0.6 14.8h0m0-19h0m0.1-0.1h0m0.4-4.7h0m0.3 5.6h0m0.7-3.4h0m0 5.6h0m0.3 1.4h0m0-6.5h0m0.2 7.9h0m0.1-2h0m0.1-5.6h0m0.2 6.6h0m0.1 0.2h0m0.1-3.1h0m0.1-1.3h0m0.5-4.7h0m0.2 1.6h0m0.1 0.7h0m0.3 7h0m0-2.8h0m0.2-6.9h0m0.1 1.3h0m0.2 3h0m0.5-2.4h0m0.3-3.1h0m0.3 1.3h0m0-2h0m0.1 10h0m0-14.7h0m0.6 9h0m0.2-7.9h0m0.2 4.3h0m0.4-2.4h0m0.6 2.6h0m0-0.4h0m0 1.6h0m0.5 0.6h0m0-2.4h0m0.3 10.3h0m0.1-8.6h0m0-3.7h0m0.1 6.4h0m0.6-3.1h0m0.3 2.5h0m0.2 3.2h0m0.7-14.6h0m0 13.3h0m0.1-9.1h0m0.2 0.6h0m0.1-2.5h0m0.3-10.8h0m0.9 10.9h0m0.1-0.6h0m0.4 6h0m0.1-7.3h0m0.2 10.1h0m0.3-11.9h0m0.2 3.7h0m0 10.8h0m0.8-4.1h0m0-1.1h0m0.2-8.5h0m0.3-0.6h0m0.4-0.1h0m0.1 0.6h0m1-0.4h0m0 2.3h0m0.1-1.9h0m0.2-4.4h0m0.3-0.6h0m0.4 13.7h0m0.1-6.7h0m0-3h0m0 11.3h0m0.2-8.6h0m0.4 5.9h0m1.8-0.6h0m0.5-10.8h0m0.3 0.2h0m0-2.6h0m0.5 11.8h0m0.1-6.9h0m1-2.3h0m0.1-11.4h0m0.3 8.7h0m0.3-2h0m0.2-3.9h0m0.4 19.6h0m1.5-12.2h0m0.2 1.6h0m0.2 4.7h0m0.3-14.9h0m0.2 2.7h0m0.7 8.5h0m0.3-12.6h0m0.4-3h0m0.3 4.2h0m0.2 1.6h0m0.6-12.7h0m0 14.3h0m0.5-2.4h0m0.5 0.2h0m0.1-0.5h0m0.6 3.6h0m0.4-8.3h0m1 5.5h0m0.1-6.3h0m0.2 1.2h0m0.2-0.9h0m1.5-3.5h0m0.2 9.1h0m0.5-11.3h0m0.7 3.3h0m0.2 6.2h0m0.4-2.4h0m1.2-12.1h0m1.6 5.8h0m2.7 3.9h0m0.2-17h0m0 11.2h0m0.8-4.5h0m1.1 4.5h0m0.1-3.2h0m1.7-0.8h0m3.3 8.6h0m0.1-13.4h0m0.2 1.5h0m0.8-1.3h0m0.9 2.7h0m1.5 1.7h0m1.9-18.3h0m0.1-1.5h0m1.7 21.9h0m0.4-13.2h0m1-1h0m0.8 8.5h0m1.6-12.3h0m2.7-13h0m0.4 29.9h0m1.8-7.4h0m0.2-12.6h0m0.4 9.4h0m0.6-13h0m1.5 0.7h0m14.3-26.3h0m1.4 12.2h0m3.4 6.4h0m3.2-16.3h0m15.6-14.8h0" stroke="#eacdc9" stroke-width="0.85" stroke-linecap="square" fill="none"/>
<path d="M36.8 281.7h0m0.4 2.7h0m0.2 2.1h0m0.1-1h0m0.4 0.5h0m0.4 1.2h0m0.1-0.2h0m0.1-2.4h0m0.3-0.5h0m0 3h0m0.1-2.9h0m0.1-1.6h0m0.4 2.9h0m0.5 3.6h0m0.1-3.7h0m0.1-3h0m0 0.2h0m0.1 3.2h0m0.4 2.7h0m0.1-2h0m0 2.9h0m0.1-10.5h0m0.1 9.4h0m0-3.9h0m0.2-2.1h0m0 0.6h0m0.1-1.3h0m0 0.9h0m0.3-2.5h0m0.2 0.9h0m0.3 3.7h0m0-4.8h0m0 1.6h0m0.2-6.6h0m0.1 11.1h0m0-5.4h0m0.2 4.1h0m0-3.4h0m0.2 3.1h0m0.1-1.1h0m0-4h0m0.1-1.7h0m0 9.7h0m0-5.7h0m0 4.8h0m0.1-7.7h0m0.1 3.6h0m0 2.3h0m0.1-5.2h0m0.3-12.5h0m0.4 16.2h0m0.2-1.8h0m0.1-4h0m0.1 7.1h0m0 2.7h0m0.1-10.7h0m0 2.3h0m0.1 8h0m0-7.1h0m0.2 4.5h0m0.2-9.7h0m0-3.1h0m0.2 6.6h0m0.1-0.5h0m0.1 2.3h0m0.2 5.7h0m0-11.3h0m0 7.1h0m0.1-5.9h0m0 8.1h0m0.1-1.4h0m0 2h0m0-5.4h0m0.1 2.8h0m0-2.7h0m0.1-2.3h0m0.4 7h0m0.1-5.3h0m0.1-0.5h0m0.1 0.9h0m0 2.5h0m0.1-7.4h0m0 13.3h0m0-10.3h0m0.1 5.4h0m0.1-0.3h0m0.1-5.3h0m0.1 2.8h0m0 2.9h0m0.1 0.3h0m0.1 0h0m0-9h0m0.1 3.2h0m0 2.9h0m0.1-3.4h0m0.1 0.3h0m0.2 0.1h0m0-1.7h0m0.1 5.3h0m0 2.1h0m0-9.2h0m0.1 4.5h0m0.1 1.8h0m0.1-7.8h0m0 4.1h0m0 2.4h0m0.1-5.7h0m0.1 3.4h0m0.2 4.1h0m0 4.7h0m0.1-8.2h0m0.1 0.4h0m0.1 4.8h0m0-8.1h0m0.1 1.8h0m0.1 5.3h0m0.1-13.3h0m0.2 9.9h0m0-0.7h0m0.2 2.3h0m0.1 0.1h0m0-5.2h0m0.4-1.6h0m0.1 2.6h0m0 1.2h0m0.1 5.5h0m0.1-4.5h0m0-1h0m0.1-2.1h0m0.3-3.8h0m0 0.4h0m0 4.9h0m0.1-1.7h0m0.1 7.7h0m0.3-5.8h0m0.1-2.2h0m0.1 4.5h0m0.1-0.4h0m0-14.6h0m0 9.6h0m0-2.5h0m0.1-3h0m0.2 3.3h0m0 2.4h0m0.1-0.4h0m0 2.2h0m0.1 3.3h0m0.2-11h0m0.2 10.6h0m0-2.7h0m0.2-7.5h0m0.1 1.1h0m0 4.9h0m0-3.7h0m0.1 6.4h0m0-2.5h0m0.2 0h0m0.1 5h0m0.1-5.4h0m0.3-3.4h0m0-0.7h0m0 2.5h0m0-7.4h0m0.1 6.2h0m0.1 4.9h0m0.1-10.8h0m0.2 5.5h0m0 3h0m0-4.9h0m0.1 4.8h0m0.1 9.5h0m0-9.2h0m0-6h0m0 8.9h0m0-5.1h0m0.1-2.5h0m0 1.6h0m0.2 15h0m0-13.1h0m0 3.6h0m0.1-5.7h0m0.1 3h0m0.1 6.6h0m0.1-10.5h0m0.1 6.8h0m0.1-8.7h0m0.1 13.8h0m0-6.9h0m0.1-4.5h0m0 4h0m0.3 5.3h0m0-7.3h0m0.1-5.5h0m0.1 8.8h0m0.1-8.9h0m0.1 3.5h0m0 2.2h0m0-2h0m0.1-1h0m0.1 3.2h0m0.1 2h0m0.1-30.3h0m0.1 22.9h0m0 1.3h0m0 8.7h0m0-3.3h0m0.2-14.9h0m0 13.5h0m0.7-1.2h0m0 3.2h0m0.1-9.4h0m0 5.8h0m0.3 5.9h0m0.4-11.3h0m0 1.1h0m0.1-0.1h0m0 2.9h0m0.2 7.4h0m0-6.8h0m0.1 1.5h0m0.3-17.4h0m0 12.8h0m0.1 4.5h0m0 4.2h0m0.2-11.8h0m0.4 8h0m0.1-3.9h0m0.1 3.9h0m0-10.6h0m0.1 7.6h0m0 1.2h0m0-1h0m0.2-0.8h0m0-4.2h0m0.1 2.3h0m0.2-1.2h0m0 4.5h0m0.1 0.2h0m0-3.2h0m0-1.4h0m0 1.1h0m0.1 1.7h0m0-1.6h0m0-0.7h0m0 3.3h0m0-4.5h0m0.1-0.2h0m0-4.6h0m0.1 6.2h0m0-1.2h0m0 3.3h0m0 0.8h0m0-7.8h0m0.1 7.1h0m0 2.2h0m0-8.7h0m0.1-2.3h0m0 9h0m0.1-1.6h0m0.1-5.9h0m0.1 0.7h0m0 2.4h0m0 1.9h0m0.1 0.9h0m0.1-1.3h0m0.1 9.1h0m0.1-10.8h0m0.1 0.8h0m0.1-3.7h0m0.2 23.5h0m0.1-21h0m0.2 6.9h0m0-3.1h0m0.3-2.1h0m0.1-7.5h0m0.2 22.3h0m0.1-18.5h0m0 2.7h0m0.1-1.9h0m0.1 1h0m0.1 1.3h0m0 1.3h0m0-6.4h0m0.1 6.9h0m0.1-1h0m0.1 0.4h0m0-3.8h0m0.1 4.5h0m0-0.9h0m0.1-2.2h0m0.1 0.8h0m0 2.3h0m0-2.5h0m0.1-4.6h0m0 4.2h0m0.1 3.6h0m0.2 1.4h0m0-10.1h0m0.1-2h0m0-7.4h0m0 11.6h0m0.1 12.7h0m0-0.4h0m0.1-6.6h0m0-5.5h0m0.2-1.4h0m0.1 0.8h0m0.1 2.2h0m0.1-3.8h0m0.1 5.8h0m0.1 2.9h0m0-2.1h0m0.2-3.7h0m0.1 4.1h0m0-3.6h0m0.1-0.8h0m0.1-5.6h0m0 3.7h0m0.1 1.6h0m0.1-2.9h0m0 7.2h0m0.1-3.9h0m0 1.2h0m0-4.1h0m0.2-0.5h0m0.1 1h0m0-9.8h0m0.1 12.1h0m0.1-0.3h0m0 2.4h0m0.3 0.4h0m0-0.2h0m0-6.4h0m0.1-2.8h0m0.1 4.3h0m0.1-0.2h0m0 0h0m0.1 1.2h0m0.3 1.2h0m0-0.5h0m0.1 3.1h0m0.1-3.6h0m0-2.3h0m0.2-5.8h0m0.1 5.1h0m0-11h0m0.1 13h0m0 7.4h0m0.1-4.4h0m0.1-3.1h0m0.3 7.8h0m0.1-13.9h0m0 2.2h0m0.1 8.3h0m0.1-8.3h0m0.1 2.6h0m0.1 2h0m0.1-3.8h0m0 5.5h0m0.1-4.6h0m0.1 1.7h0m0-2.9h0m0.1 1.4h0m0 0h0m0.4-5.2h0m0 8.6h0m0.1-5.4h0m0.1 4.3h0m0.2-1.8h0m0.1-2.1h0m0-4.1h0m0.1 6.1h0m0.2 2.8h0m0-1.6h0m0 3.1h0m0-7.4h0m0.1 1.7h0m0.1-11.4h0m0.1 7.5h0m0.1 8.7h0m0.2-5.8h0m0.1-0.7h0m0.2-13.9h0m0.4 21.3h0m0.2-3.8h0m0.2-9.2h0m0 9.6h0m0-3.9h0m0.2 3.8h0m0-9.9h0m0.1 8.3h0m0-3.5h0m0.1 0.1h0m0.3-0.2h0m0.2-2h0m0.1 5.9h0m0-5.4h0m0.2 0.8h0m0.1 3.4h0m0.3-0.5h0m0.1-6.1h0m0.2 4.8h0m0.1 1.2h0m0.2 2.6h0m0-3.4h0m0-15.8h0m0.1 9.7h0m0 2.8h0m0.1 13.7h0m0.2-11.6h0m0.3-9.3h0m0.1 9.4h0m0 5.2h0m0-1.9h0m0.1-5.4h0m0.1-0.1h0m0-3.2h0m0.5 5.1h0m0-2h0m0.1 2.2h0m0.1-3.9h0m0 17.4h0m0.1-14.1h0m0.2 12h0m0.1-12.7h0m0-1.5h0m0.1-3h0m0.1-2.2h0m0 5.1h0m0 4.1h0m0.1-8h0m0.1 5h0m0-0.7h0m0-3.3h0m0.1 3.4h0m0.1-6h0m0 3.6h0m0.1-5.9h0m0.4 7.4h0m0 2.6h0m0.5-1h0m0.3-3.7h0m0.7-3.6h0m0.1 0.4h0m0.3-0.4h0m0 3.1h0m0.3-2.7h0m0.2 2.9h0m0-2.4h0m0.1-0.9h0m0.2 2.7h0m0.2 1.6h0m0.2-4.4h0m0.1-1.1h0m0.3 1.8h0m0 1.8h0m0.1 18.8h0m0.1-18.2h0m0-11.5h0m0.1 6.9h0m0 0h0m0 5.4h0m0.2-2.9h0m0.1 2.8h0m0-2.6h0m0 2h0m0.1 2.4h0m0-2h0m0-3.2h0m0.1 1.9h0m0.2 5.5h0m0.1-6.2h0m0-8.7h0m0.1 7.5h0m0-1h0m0-3.7h0m0.2 10.6h0m0 0.2h0m0.1-2.8h0m0.1 1.8h0m0-11.4h0m0.1 10.2h0m0.1-9.7h0m0.2 2h0m0.3 5.2h0m0.1 0.6h0m0-4.1h0m0 14.9h0m0.2-14.1h0m0.2 2.9h0m0 0h0m0.3-6.4h0m0.2-8h0m0 10.5h0m0.2-3.6h0m0.3 5.5h0m0.1-1.4h0m0 0.5h0m0.2-1.6h0m0.1 0.8h0m1-14.2h0m0.2 11.1h0m0.2 3.3h0m0-7.2h0m0.1 1.5h0m0.2 3.6h0m0 3.1h0m0-1.3h0m0.1-3h0m0.1 4.8h0m0.1-2.1h0m0.1-8h0m0.1 5.9h0m0-10.8h0m0 9.8h0m0.4-7.6h0m0 5.4h0m0-1.6h0m0.2 6.9h0m0.2-10.1h0m0.2 3.5h0m0.3 0.8h0m0.2 4.2h0m0.3-5.7h0m0.2-0.3h0m0 1.2h0m0 1.7h0m0 1.6h0m0.5 3.3h0m0-2.4h0m0.2-4.3h0m0.4 1.1h0m0.2 2.2h0m0.6-6.1h0m0.1 1.5h0m0-1.6h0m0.5-0.7h0m0.1-0.6h0m0.1 1.5h0m0.1-2.1h0m0.3 1.7h0m0 0.6h0m0.2 0.8h0m0.1 4.8h0m0.2-3.2h0m0.5 2.1h0m0.6-2.1h0m0-2.4h0m0.6 0.9h0m0-1.6h0m0.1 1.3h0m0.8-2.7h0m0.3-3.8h0m0-8.5h0m0 10.4h0m0.4-2.1h0m0.3 5.9h0m0.4-6.6h0m1.1-8.5h0m0.8 9.9h0m0.1-1.8h0m0.1-0.1h0m0.2 2.7h0m0.5 0h0m0.4 3.1h0m0-2.4h0m0.4-4.4h0m0.1-1.9h0m0.3 3.1h0m0.2-13.2h0m0.3 12.7h0m0 5.2h0m0.2-4.2h0m0.8-2.2h0m0.7 2.7h0m0.5-4.7h0m0.6-3.3h0m0.7 1h0m0.2-3.7h0m0.2-0.6h0m0.5 0.5h0m0.2 5.1h0m0.1 14.3h0m0.6-21h0m1.8 9.2h0m0.5-6.1h0m0.5 2.5h0m0.6-4.5h0m1.4-1.6h0m0 0.4h0m0.4-8.6h0m0.2 4.8h0m0.6 1.7h0m0.2-3.7h0m0.3 2.9h0m0-5.1h0m0.6 6.7h0m0.3 3h0m0.3-9.5h0m0 4h0m0.4 5.3h0m0.6 8h0m0.4-10.5h0m0.2-0.6h0m1 0.3h0m0.2-3.1h0m0.4 0.9h0m1-6.6h0m0 4h0m0-6.2h0m1 4.9h0m0.3 3.4h0m0.2-6.1h0m0.5 6.8h0m0.7-8.5h0m0.3 1.7h0m0.3 1.7h0m0.3 0h0m2.5-5.2h0m2.4 1.2h0m1.9-2.3h0m0.9-12.1h0m1.6 5.1h0m1.8-4.6h0m0.6 3.9h0m0.7 0.1h0m1.4 0.5h0m2.5-1.7h0m1.3-8.2h0m1.7 4h0m0.4 3h0m8.3-8.9h0" stroke="#f8f3f2" stroke-width="0.85" stroke-linecap="square" fill="none"/>
<path d="M41.5 272.7h0m2.5 8h0m7.5 4.8h0m0.1 0.3h0m2.4-17.9h0m3.9 0.6h0m0.2-12.6h0m1.2 11.6h0m1.2-2.5h0m1.8-4.6h0m3.1-13.3h0m2.4 3.2h0m6.9-10.8h0m1.3 8.9h0m4.4-10.2h0m2.3 4.4h0m1.2-3.4h0m9.8-8.6h0m65.1-65.8h0" stroke="#859dc9" stroke-width="0.85" stroke-linecap="square" fill="none"/>
<path d="M37 283.9h0m0.6-8.7h0m0.2 13.6h0m0.2-3.1h0m1 2.3h0m0.1 1.7h0m0.1-1.9h0m0.1-0.3h0m0.3 2.1h0m0.3-2.1h0m0.2-12.6h0m0 12.3h0m0.1-2.6h0m0.3 1.3h0m0.1-1.1h0m0-1.5h0m0.4 3.5h0m0.4-0.7h0m0.1-0.1h0m0.8-4.8h0m0.3 1.1h0m0-10h0m0.2 13.4h0m0.2-7h0m0.6 5.2h0m0.1 4.7h0m0.1-6.1h0m0.3-1.7h0m0 1h0m0.1-0.9h0m0.2 5.1h0m0-1.9h0m0.1-3.1h0m0.1 3.8h0m0.1 3.5h0m0-7.1h0m0.1-2h0m0.1 8.9h0m0.2-9.9h0m0 3.4h0m0.6 5.5h0m0.2-8h0m0 9h0m0-0.2h0m0-8.4h0m0.1-2.8h0m0-0.1h0m0.1 5.2h0m0.4-3.7h0m0-5.8h0m0.1-4.3h0m0 11.8h0m0.1-2.9h0m0.1 3.3h0m0.1-7.4h0m0.2 7.4h0m0.1 4.3h0m0-11.1h0m0.1 5.9h0m0.2-3.7h0m0.1 2.3h0m0.1 0.8h0m0-2.3h0m0.1-1.5h0m0.1 1.9h0m0 7.6h0m0 0.9h0m0.1-14.4h0m0 6.3h0m0.1-0.3h0m0.2-2h0m0.1 3.7h0m0.1 10h0m0.3-11h0m0.2 6.9h0m0-1.7h0m0.1-1.1h0m0.1-4.6h0m0.3-7.8h0m0 6.8h0m0.1 3.7h0m0-2.6h0m0 7h0m0.1-6.5h0m0.1 11.2h0m0.1-14.4h0m0.4-10.4h0m0 12.8h0m0.1-7h0m0.1 11.3h0m0.1-3.1h0m0.1-1.5h0m0 1.3h0m0.1-7.3h0m0.1 18.3h0m0-4.1h0m0-8.9h0m0.1-1.6h0m0.2-6h0m0.1 13h0m0.2-5.7h0m0.1-0.6h0m0-2.1h0m0.1-6.4h0m0.1 7.7h0m0 0.9h0m0.1-0.2h0m0 6.2h0m0.2-7.7h0m0 0.6h0m0-1.2h0m0-2.7h0m0.3 0.5h0m0.1 5.3h0m0-0.1h0m0.2 1.5h0m0.1-4.5h0m0-1.6h0m0.1 5.1h0m0-7.1h0m0 0.9h0m0.1 6.9h0m0.3-4.7h0m0-8.9h0m0 7.2h0m0.1 1.9h0m0.2 10.2h0m0-5.3h0m0.3-7.5h0m0 2.5h0m0.1 0.5h0m0-0.9h0m0.1-4.3h0m0.1-0.6h0m0.1 12.9h0m0.1-10.2h0m0.1 3.8h0m0.1-6.4h0m0-0.2h0m0 4.3h0m0.1-0.7h0m0.2-0.1h0m0-0.9h0m0 0.6h0m0.2 3.6h0m0.1-1.5h0m0.1-6.2h0m0.1 3.8h0m0.1-1.8h0m0.1 1.4h0m0-14.9h0m0 21.9h0m0.1-4h0m0.1 9.8h0m0-14.3h0m0.1 1.6h0m0-3.9h0m0.1 5.7h0m0.2-12.2h0m0.1 18.2h0m0.2-7.8h0m0.1 1.2h0m0-2.2h0m0.1-0.2h0m0 0.9h0m0.1 0h0m0-3.8h0m0.3 4.2h0m0-5.3h0m0 7.2h0m0.1 0.8h0m0.1-7.9h0m0 1.3h0m0 4.2h0m0.5 1.1h0m0.1-0.9h0m0.1-7.4h0m0 10.9h0m0.3-7.6h0m0 0.1h0m0.2 10.8h0m0.1-10.3h0m0.3 9.2h0m0-17h0m0.2 3.6h0m0.1 7.1h0m0-5.3h0m0-3.2h0m0.1 6.2h0m0.2 2.4h0m0-4.3h0m0 0.7h0m0.2 17.3h0m0.2-14.6h0m0-1.4h0m0 1.5h0m0-0.5h0m0-1.3h0m0-2.8h0m0.1 0.1h0m0-4.6h0m0.1 11.6h0m0.1-8.5h0m0 1.7h0m0.1 0.1h0m0 4h0m0-5.9h0m0-3.2h0m0.2 6.6h0m0.1-0.3h0m0.1-5.8h0m0.3 3.8h0m0.2-0.1h0m0.1-4.8h0m0 5.1h0m0 4.1h0m0.1-0.6h0m0.1 1.3h0m0-3.6h0m0-4.8h0m0.1 1.5h0m0.1 0.7h0m0 4.4h0m0.1-8.5h0m0 7.2h0m0.3-2h0m0-1h0m0.1 0.1h0m0 3.1h0m0.1-7.8h0m0.1 4.5h0m0-3.9h0m0 7.2h0m0.1-4.5h0m0.1 3.8h0m0.1-4.8h0m0.1 5h0m0.2-0.2h0m0.1-19.9h0m0.2 21.9h0m0.1-10h0m0 3h0m0.1-0.8h0m0 8.4h0m0.1 1.1h0m0-5.4h0m0.1-10.7h0m0.2 4.3h0m0.2-4.2h0m0 15.1h0m0.1-9.9h0m0.1 4.6h0m0-2.2h0m0.2 5.5h0m0.1-8.5h0m0.2 2.5h0m0-1.4h0m0.1 9.3h0m0.2-3h0m0-6h0m0 4.2h0m0.1 4.8h0m0-9h0m0.1-5h0m0.4 6.6h0m0.1-1.5h0m0.1-4h0m0-3h0m0.1 9h0m0 0.8h0m0.1-1.5h0m0.1-1.6h0m0.1-6.5h0m0 9.6h0m0.2-9.3h0m0.1 8.7h0m0.1 2.3h0m0.1-13.8h0m0.1 7.5h0m0-0.6h0m0 2.5h0m0-0.6h0m0 1.1h0m0 0h0m0.1-4.6h0m0 0.4h0m0 9.7h0m0.1 0.5h0m0-8.9h0m0.1 12.2h0m0-11.9h0m0.2 4.3h0m0.1 1.7h0m0-3.7h0m0.1 6.1h0m0-0.2h0m0.1-3.2h0m0.2-3.2h0m0.1-3.9h0m0.1-4.4h0m0 9.1h0m0.1-3.8h0m0 11.6h0m0.1-8h0m0 2.3h0m0.2-7.6h0m0.1 7.5h0m0-6.5h0m0.2 5.5h0m0-6.5h0m0.2 6.3h0m0.1-5.7h0m0.2 1.5h0m0.4 2.3h0m0.3-0.1h0m0.2-0.1h0m0-2.5h0m0.6-2.5h0m0.1-2.2h0m0 12.1h0m0.1-12h0m0-0.6h0m0.2 16.8h0m0-10.1h0m0.1-5.7h0m0-2.8h0m0 7.3h0m0 0h0m0.1 0.1h0m0.1 4.7h0m0.1-3.7h0m0.3-4.6h0m0 0.8h0m0 0.2h0m0.1 1.4h0m0-3.8h0m0.2 0.9h0m0-1.6h0m0 4.2h0m0 2.3h0m0-1.2h0m0.1 5.8h0m0.1-11.9h0m0 1.2h0m0 0.6h0m0.3 14.5h0m0.1-0.5h0m0.1-7.8h0m0.1-8.2h0m0.1 17.2h0m0.4-8.5h0m0-7.6h0m0-0.5h0m0.2 5h0m0.2 5.9h0m0-10.3h0m0.2 3.1h0m0.4-8h0m0.1 12h0m0.3-5.4h0m0-3.1h0m0.2 1.7h0m0 7.5h0m0.3-11.1h0m0.1-4.4h0m0.2 11.2h0m0-13.2h0m0.8 13.4h0m0.1-15.9h0m0 12.3h0m0.1-4.9h0m0.6 0.2h0m0.3-10h0m0.2 7h0m0.4 2.2h0m0 3h0m0.1-3.8h0m0.1 10h0m0.2-7.6h0m0-5.2h0m0-3.4h0m0.1 8.3h0m0-0.8h0m0.1 12.4h0m0.1-3.4h0m0.2-10.5h0m0 3.7h0m0.1-0.6h0m0.2-1.4h0m0.1-4.9h0m0.1 0.7h0m0.5 5.5h0m0.1-0.9h0m0.3-1.2h0m0.1-2.3h0m0.2 9.4h0m0.1-5.6h0m0.1 9.5h0m0.1-10.4h0m0.1 3.5h0m0.2-1.8h0m0.1-4.2h0m0.1 2.8h0m0 6.7h0m0.4-10.6h0m0.6 0.5h0m0.7-7.3h0m0.3 6.7h0m0.2 4.2h0m0 10.3h0m0.2-15.4h0m0-4h0m0-0.3h0m0.2 7.5h0m0 0.3h0m0.3-18.3h0m0.3 14.3h0m0.2 1.1h0m0 7.6h0m0.1-6.4h0m0-14.3h0m0.1 12.9h0m0.4 5h0m0.1-2.9h0m0.1 0.7h0m0-3.3h0m0.2 8.3h0m0.2-10.8h0m0.3 2.6h0m0.8-7.6h0m0.1 8.2h0m0.4-1h0m0.7 1.1h0m0 4.5h0m0.3-8.5h0m0.2-4.4h0m0.4 10h0m0.6-3h0m2.2 1.5h0m0.3 1.4h0m0.1-12.4h0m0 7.7h0m0-9.2h0m0.2 3.7h0m0 1.1h0m0.1-4.3h0m0 3.3h0m0.2 2.6h0m0.4-11h0m0.4 15.1h0m0.2-7.7h0m0.6-12.7h0m0.2 12h0m0.2-2.1h0m1-3h0m0.2-6.8h0m0.4 7.8h0m0.2 7.7h0m1.1-3.5h0m0.3-5.2h0m0 3.1h0m0.4-0.7h0m0-3.1h0m0.1 2.5h0m0.4 0.1h0m0.6 0.7h0m1.6-2.9h0m0.4 5h0m0.6-2.7h0m1.9-8.2h0m0.2 2.4h0m0.7-0.4h0m0.4-3.6h0m0 5.4h0m0.4-5.8h0m0.6 3.9h0m0.5-2.7h0m1.3-1.2h0m0.1 0.5h0m0.2-5.3h0m0.4 2.3h0m1 2.1h0m0.1-5.8h0m0.6-0.8h0m0.8-4.7h0m0.8 5.2h0m2.2-3.5h0m0.5-5.8h0m0.9 8.8h0m0.4-3.4h0m0.6 1.7h0m0.4-0.7h0m2.9-1.8h0m0.3 6.8h0m0.4-9.2h0m2-1.5h0m0-5.3h0m0.5 9.5h0m2.1 3.6h0m5-25.6h0m0.1 5.6h0m3.1-5.7h0m0.9 4.9h0m1.6-2.8h0m0.3 5h0m0.9-4.4h0m2.3 3h0m0 0.5h0m0.9-8h0m5.7-4.9h0m2.4-0.5h0m1-10.9h0m6.4-4.3h0m1.6 9h0" stroke="#f1e0de" stroke-width="0.85" stroke-linecap="square" fill="none"/>
<path d="M42.1 280h0m12-11.7h0m4.6-5.1h0" stroke="#5578b6" stroke-width="0.85" stroke-linecap="square" fill="none"/>
<path d="M46.5 280.1h0m0.1-2.6h0m1.8 4.2h0m2.2-6.2h0m0 10.6h0m4-19.1h0m1.9 2.7h0m1.9-1.2h0m5.7-8.4h0m4.7-3.3h0m21.8-27.9h0m24.4-4.8h0m18.7-35.2h0" stroke="#6484bc" stroke-width="0.85" stroke-linecap="square" fill="none"/>
<path d="M41.5 274.4h0m23.7-2.5h0m1.7-16.2h0m7.6-5.4h0m1.3 1h0m47.5-47.4h0" stroke="#d3918d" stroke-width="0.85" stroke-linecap="square" fill="none"/>
<path d="M39.7 278.4h0m0.1 4.7h0m0.2-2h0m1.2-7.4h0m0.1 5.2h0m0.5 1h0m0.1 1.1h0m0.2 1.5h0m0.4-7.5h0m0.2 14.3h0m1.6-6.6h0m0.3-4h0m0.5-3.9h0m0.7 4.6h0m0.8-3h0m0.4-15.2h0m0.1 18.3h0m0.2-6.2h0m0.3 0.5h0m0.2 4.9h0m0-17.6h0m0.1 20.5h0m0.7-3h0m0.3 1.5h0m0.2-10.9h0m0.2 4.7h0m0.6 2.4h0m0.1 6.4h0m0.7-14.8h0m0.2 4.8h0m0-4.9h0m0.7 9.4h0m0-2.6h0m0-12.1h0m0.3 9.1h0m0.2-3.3h0m0.3-6.7h0m0.1 11.8h0m0-5h0m0.1 1.9h0m0.3-2.5h0m0 5h0m0.1-4.4h0m0.1-0.4h0m0.5-2.9h0m0.1-2.4h0m0 11.1h0m0.1-13.1h0m0.2 8.1h0m0.2 1.6h0m0.3 2.1h0m0.4-3h0m0.2 1.8h0m0.5-2.3h0m0.2-4.6h0m0.2-5.6h0m0.1 8.3h0m0.4 1h0m0.1-5.7h0m0.2 1.7h0m0.9-3.3h0m0.5 11.8h0m0-6.4h0m0.4 1.7h0m0.4-1.7h0m0.1-1h0m0.4-7.1h0m0.2 7.3h0m0.2-3.6h0m0.1-2.6h0m1.3 3.3h0m0.2 0.7h0m0.6-3.7h0m0 7.9h0m0.1-17.4h0m0.3 15.2h0m0 0.6h0m0-3h0m0.1 2.6h0m0-12h0m0.2 16.1h0m0.1-4.4h0m0.1-2.9h0m0 1.7h0m0.5-1.8h0m0.4-1h0m0.1 3.8h0m0.1-7h0m0.1-7.3h0m0.4 13.5h0m0.3 3.5h0m0.3-11h0m0 0.2h0m0.5 3.7h0m0-2h0m0.3-8.6h0m0.6 4.6h0m0.1-0.5h0m0.8 3.8h0m0.1-3h0m0-9.7h0m0.3 12.7h0m0.4-6.4h0m0.1 6.6h0m0.3-12.7h0m0.1 1.8h0m0 6.2h0m0.4 0h0m0.1 5.6h0m0.1-8.2h0m0.2 2.8h0m0.7-11.7h0m0.1 13.4h0m0.1-1h0m0 1.8h0m0.6 1h0m0.7 8h0m0.4-5.2h0m0-6.9h0m0.1 8.8h0m0.7-17.4h0m0.1 12.9h0m0.1-6.4h0m0.1 1.5h0m0.1-10.3h0m0.6 12.6h0m0.5-16.1h0m0.1 8.5h0m0.2 1.1h0m0.1 4.5h0m1.3-5.3h0m0.2-0.1h0m0.5-3.2h0m0.4 5.9h0m0.1 3.1h0m0.3-9.3h0m0.1 22.7h0m0.1-19.7h0m0.1 5.7h0m0.2-6.3h0m0-9.2h0m0.5 6h0m1.2 6.8h0m0.2-7.6h0m0.4-1h0m0.2 3.4h0m0.3-2.8h0m0.2-5.1h0m0.2 14.6h0m0.6-11.3h0m0.5 0h0m1.2 2.9h0m0.2-7.2h0m0.1 5.3h0m0.1-0.4h0m0.3-2.3h0m0.7-3.7h0m0 4.3h0m0.1-2.1h0m0.3-6.9h0m0.1 9.4h0m0.7-1.4h0m2.1-3.3h0m1.2-10.1h0m1 10.9h0m0.4 3.6h0m0.1-8.9h0m1.6-4.2h0m0.3 5.1h0m0.5-5.8h0m0.2-5.1h0m0.9 10.1h0m0.8-2.9h0m1-1.3h0m0.7-2.2h0m0.3 4.9h0m0.2-13h0m0.6 11.1h0m1.3-2.1h0m0.1 0.9h0m4.3-8.3h0m1.2 4.2h0m1.1-1.4h0m0.8-13.9h0m0.5 9.8h0m0.6-1.7h0m0.7-4.6h0m0.2 0.5h0m8-6.9h0m1 3.4h0m2.7-0.8h0m0.9-8.9h0m0.9 10h0m10.3-22.9h0m5.9-2.5h0m0.9-4.8h0m0.8 2.5h0m0.4 6.1h0m3.6-4.6h0m8.5-12.3h0" stroke="#bcc7df" stroke-width="0.85" stroke-linecap="square" fill="none"/>
<path d="M37.2 285h0m7.9-6.9h0m5.2-1h0m0.7-3.7h0m2.7-4.2h0m6.5-5.5h0m1.5-1.4h0m1.8-0.3h0m2.5-2.4h0m1.9-1.9h0m0.9-5.9h0m5.4-1.7h0m5-5.1h0m4.3-8h0m0.6 7.3h0m8.3-11.6h0m11-9h0m1.5-3.9h0m2.5-7.4h0m27.7-17.1h0m6.1-10.2h0" stroke="#96aad0" stroke-width="0.85" stroke-linecap="square" fill="none"/>
<path d="M48.3 279.9h0m5.1-5.6h0m2.5-6h0m3.2-0.9h0m29.9-34.8h0" stroke="#c36c67" stroke-width="0.85" stroke-linecap="square" fill="none"/>
<path d="M41 288.7h0m0.6-0.2h0m4.6-7h0m1.9 6.4h0m0.1-5.1h0m2.8-12.8h0m0.6 2.1h0m1.6-3h0m0.1-4h0m0.8 5.2h0m6.5 7.5h0m0.8-16.2h0m6-2.3h0m0.3-1.6h0m7.6-5h0m2.2-3.8h0m11.7-11.5h0m3.5-4.3h0m14.9-17.2h0m21.8-24h0m7.6 0.1h0" stroke="#7490c2" stroke-width="0.85" stroke-linecap="square" fill="none"/>
<path d="M37.7 276h0m0 11.9h0m0.1 1.4h0m0.2-3.6h0m0.1 1.6h0m1.6-7.7h0m1.4 3.1h0m1.2 1.1h0m2.2-3.6h0m0.1 4.9h0m1.7-7.2h0m2.1-2.7h0m0.1 12.3h0m1.7-5.6h0m0.3-8.2h0m0.4-0.7h0m0.3-12.4h0m0.1 20.1h0m1.5-12.2h0m0 4.5h0m1.1-3.8h0m0.8 9.4h0m0.4-10.3h0m1.8-1.2h0m0.4-8h0m0.2 3.5h0m0.9 6.9h0m0.3-2.7h0m0.4 13.5h0m0.5-9.6h0m1.4-7.5h0m0.1 7.7h0m0.2-10.5h0m0.6 9.6h0m0.2-4.9h0m1.2-1.9h0m0.1 4.6h0m3.7-7.3h0m0.4-4.3h0m1.4 1.5h0m1.6 6.9h0m0.6-6.4h0m0.4-3.4h0m0.3-2h0m1.7 5.9h0m1.9-14.8h0m2.9 2.9h0m0.2-0.3h0m0.2 9.7h0m3.6-5.1h0m2.2-12.8h0m3.5 3.6h0m1 0h0m5-9.6h0m0.7 4.5h0m4-4.2h0m0.9-0.2h0m2.4-9.3h0m0-1.8h0m5.4 2.3h0m0.3-10.2h0m1.5 0.8h0m0.6 6.4h0m1.7-4.5h0m6-5.5h0m2.4 2.8h0m3.4-14.6h0m2.7 1.5h0m23.1-26.9h0m12.5-14.2h0" stroke="#e2b8b5" stroke-width="0.85" stroke-linecap="square" fill="none"/>
<path d="M36.7 289.1h0m0.4-2.5h0m0.1-8.7h0m0.5 7.8h0m0-4.7h0m0.1 1.6h0m0.1 6.2h0m0.1-4.5h0m0 1.1h0m0.2 3.7h0m0-5.5h0m0.2-1.3h0m0.1 5.5h0m0.1 1.7h0m0.1-1.2h0m0.1-6.8h0m0 0.5h0m0.1-6.9h0m0.1 14.5h0m0.1-6.1h0m0 1.8h0m0.2 2.8h0m0-6.4h0m0.1 1.9h0m0 1.9h0m0.1-4h0m0.2-5.4h0m0.1 12.2h0m0.3-3.3h0m0.2-2.3h0m0-1.2h0m0 0.6h0m0.1 5.8h0m0.1-1.5h0m0-5.6h0m0.2 4.7h0m0.1 0.1h0m0.1-11.2h0m0.2 8h0m0.1 2.4h0m0.1-1.2h0m0-1.1h0m0.2 0.8h0m0 2.9h0m0.1-3.6h0m0.1 5.2h0m0.1-12.8h0m0 1.5h0m0 4.9h0m0.3 2.6h0m0 1.2h0m0.1-4h0m0.2 5.2h0m0-10.1h0m0 13.4h0m0.1-12.3h0m0 9.6h0m0-0.9h0m0.2-6h0m0 1.8h0m0-2.9h0m0-2.2h0m0.1 6.5h0m0.1-12h0m0.1 17.2h0m0.1-8.2h0m0.1 5.1h0m0-8h0m0.1 11.3h0m0-12.1h0m0 6.4h0m0.1-4.5h0m0.1 0.2h0m0.1-0.7h0m0 2.6h0m0.1 0.4h0m0.3-2.1h0m0 10.5h0m0.1-3.6h0m0-4h0m0-2.4h0m0-3.4h0m0.1 12.9h0m0-15.3h0m0.1 14.8h0m0.1-10.5h0m0.1 8.3h0m0.1-4.6h0m0-3.9h0m0 2.8h0m0.1-2.3h0m0.1-6.1h0m0.1 8.8h0m0.1 2.5h0m0-15.2h0m0 18h0m0.1-5.6h0m0-1.8h0m0.2 5.3h0m0-3.8h0m0.2-1.8h0m0-2h0m0 6.4h0m0.1 0.5h0m0-0.6h0m0.1-5.8h0m0.1-0.8h0m0.3-6.5h0m0.1 13.5h0m0-2.9h0m0.1 1.2h0m0-6.9h0m0 12.2h0m0.2-11.2h0m0 5.8h0m0-4.1h0m0 4h0m0-6.2h0m0 6.4h0m0.1-7.1h0m0 3h0m0.1-3.9h0m0.2 7.5h0m0-3.6h0m0-0.6h0m0.2 2.4h0m0-1.8h0m0.2-9h0m0.1 11h0m0.1-2.2h0m0.1 5.2h0m0-3.8h0m0-2.9h0m0-8.9h0m0 17.8h0m0.2-8.5h0m0.1-0.9h0m0.1 3.3h0m0.1 2.2h0m0.1-2.1h0m0.1-7.7h0m0 0.5h0m0.2 5.2h0m0.1 2.9h0m0-1.3h0m0.1-4.5h0m0-0.8h0m0 3.4h0m0.1 2.4h0m0-4.9h0m0-2.8h0m0.1 1.9h0m0-0.7h0m0.1-5.8h0m0.1 19.4h0m0-16.6h0m0 4h0m0.3 3.7h0m0-4.7h0m0.1 4h0m0-3.6h0m0 6.9h0m0 1.4h0m0.1 3.7h0m0-8.8h0m0-1.9h0m0.1 5.1h0m0-1.7h0m0-3.4h0m0-7.6h0m0.2 11.7h0m0-6.9h0m0.2-1.5h0m0.3-8.7h0m0 12h0m0 2.4h0m0-2.2h0m0.1-13.1h0m0.1 23.3h0m0-2.9h0m0.1-7.7h0m0 3.5h0m0-0.6h0m0.1 3h0m0-2.3h0m0.1-0.5h0m0 0.5h0m0-2.1h0m0-3h0m0 1.1h0m0.1-1.2h0m0 6.6h0m0.1-1.5h0m0-3.2h0m0.1-2.9h0m0.1-0.6h0m0.1 4.4h0m0 1.8h0m0.1 0.7h0m0-11.9h0m0 3.9h0m0 5.9h0m0.1-0.1h0m0-5.7h0m0 4.2h0m0 12h0m0-18.3h0m0.1 5.5h0m0.1-9.7h0m0 11.8h0m0-9.5h0m0 6.2h0m0-2h0m0.1 4.3h0m0 0.8h0m0-0.3h0m0.1-0.7h0m0.1 1.4h0m0.1-5.6h0m0 2.3h0m0 4.6h0m0-1.4h0m0.1-2.5h0m0.1-5.6h0m0 6.8h0m0 5.3h0m0.1 8.8h0m0.1-17h0m0 0.1h0m0.1 8.1h0m0.1-8.2h0m0 4.3h0m0-4.8h0m0.1 3.3h0m0-1.8h0m0 10.4h0m0-9.7h0m0 2.5h0m0.1-8.1h0m0 1.4h0m0 15.9h0m0.2-0.9h0m0-17.9h0m0.1 10.3h0m0-18.2h0m0 10.3h0m0.1 3.8h0m0-3h0m0 3.1h0m0.1-2.8h0m0.1-2.1h0m0 0.1h0m0 4.9h0m0.1 1.5h0m0 1.5h0m0-5.3h0m0.1-9.1h0m0 7.7h0m0.1 5.2h0m0 1.5h0m0-0.9h0m0-3h0m0.2 0h0m0-1.1h0m0.1 11.9h0m0.3-12.9h0m0 2.7h0m0-8.8h0m0.1 8.2h0m0.2 3.2h0m0.1-4.3h0m0.1-0.7h0m0 5.6h0m0 0.9h0m0-1h0m0 8.8h0m0-7.8h0m0.1-9.6h0m0.1 4.7h0m0 1.5h0m0 8.2h0m0.1-9.1h0m0 3.9h0m0-3.9h0m0.2 4.9h0m0.2-8.5h0m0-1.1h0m0 5h0m0.1 2.7h0m0-6.9h0m0.1 3.6h0m0-0.1h0m0 0.2h0m0.1-9.2h0m0-2.9h0m0 16.3h0m0.1-4h0m0.3-3.1h0m0-4.6h0m0 4.8h0m0 4.4h0m0-6.8h0m0 5.1h0m0.1-1.2h0m0-0.8h0m0-0.7h0m0.2-5h0m0 7.9h0m0-3.1h0m0.1-3h0m0.2 3.2h0m0 3.6h0m0.1-10.6h0m0 7.5h0m0.1-3.1h0m0 22.5h0m0.1-19.5h0m0 1.8h0m0 0.4h0m0 0.2h0m0-4.5h0m0.1 2.4h0m0-2.6h0m0 2.9h0m0.1-0.3h0m0 7.7h0m0.1-8.5h0m0-1.8h0m0.1-10.2h0m0 8.3h0m0 1.2h0m0 5.6h0m0.1-0.7h0m0 7.7h0m0.1-2.7h0m0-19.4h0m0 14.7h0m0.1-1.8h0m0-2.6h0m0 4.3h0m0.1-5.9h0m0-5.3h0m0.1 7.2h0m0.1 2.4h0m0-4.3h0m0.3-3.6h0m0 1.7h0m0 9.7h0m0 8.8h0m0-12.2h0m0-0.3h0m0 1.6h0m0.1-16.9h0m0 14.6h0m0-6.3h0m0 12.7h0m0.1-9h0m0 1.3h0m0.1-1.2h0m0 9.1h0m0.1-8h0m0.2-3.4h0m0 5.5h0m0.1-2.1h0m0 1.5h0m0.1-3.6h0m0.2-0.5h0m0 3.5h0m0-15.4h0m0.1 12.9h0m0.1 4.9h0m0-1.9h0m0.1-0.8h0m0-3.1h0m0.1-2h0m0.2 15.3h0m0-13.3h0m0.1 2.8h0m0-3h0m0.1-2.2h0m0.1 3.6h0m0 1.3h0m0-6.4h0m0.1 4.2h0m0.2 6h0m0-9.8h0m0 5.3h0m0 4.5h0m0-6.7h0m0.1 3.3h0m0-15.9h0m0 13.4h0m0-5.9h0m0.1-0.5h0m0 5.6h0m0.1-3.8h0m0.1 5.2h0m0-1.2h0m0 0.9h0m0 3.6h0m0.1-7.9h0m0 7.3h0m0.1-11.9h0m0 9.1h0m0-1.9h0m0.2-1.8h0m0 2.8h0m0.1-0.2h0m0.1-2.5h0m0 1.3h0m0.1 5.8h0m0-5.1h0m0 0h0m0.1-1.7h0m0 5h0m0-4.4h0m0.2 1.8h0m0.1-7.9h0m0 7.1h0m0 2.9h0m0-6.1h0m0.1 1.1h0m0.1 8.9h0m0-15.3h0m0 17.9h0m0.1-10.9h0m0 6.6h0m0-6.9h0m0.2-2.3h0m0 5h0m0.1-2.1h0m0.2 3.7h0m0-8.6h0m0 2.6h0m0 8h0m0.1-7.5h0m0-0.7h0m0 6.7h0m0.1-4h0m0.1-2.4h0m0.1 6.3h0m0.1 0.3h0m0.1-5.3h0m0.1 6.8h0m0-6.4h0m0.2 10.2h0m0-14.6h0m0.1 4.7h0m0 0.9h0m0 5.5h0m0.1-9.2h0m0-0.7h0m0.1 0.4h0m0-1.1h0m0.1 3.7h0m0.1-6.3h0m0 6.5h0m0 2.5h0m0.2-10.5h0m0 7.6h0m0.1 9.9h0m0-16.5h0m0 8.6h0m0.2-1.6h0m0 3.7h0m0.2-3.8h0m0-4.1h0m0.1-2.6h0m0-18.6h0m0 19.2h0m0.1 8.6h0m0 1.7h0m0-16.6h0m0.1 7h0m0 4.6h0m0.1-4.8h0m0 11.9h0m0.1-9.6h0m0 3.6h0m0.2 1.2h0m0.1 0h0m0-3.4h0m0-3.4h0m0.1 1.9h0m0.1 5.9h0m0.2-8.4h0m0 5.1h0m0.1 5.9h0m0-7.1h0m0.2-5.4h0m0.3 12h0m0.2-5.7h0m0-3.4h0m0 2.8h0m0.1-2.3h0m0 1.6h0m0 11.7h0m0-8.3h0m0-5.1h0m0-1.2h0m0.1 10.9h0m0.1-5.1h0m0-4h0m0.1 0.1h0m0.1-4h0m0 3.3h0m0-0.4h0m0-2.1h0m0 1.8h0m0.1 3.5h0m0 3.2h0m0.1-1.9h0m0.1-6.5h0m0.1 1.7h0m0.1-2h0m0.1 8.5h0m0.2-8.7h0m0-2.2h0m0-2.6h0m0.1-5h0m0 5.1h0m0 11.5h0m0.1 0.3h0m0-6.9h0m0 2.4h0m0 3.7h0m0-6.1h0m0.1 4.7h0m0.1 0h0m0.1-0.5h0m0.1-3.6h0m0 0.6h0m0 6.5h0m0-1.2h0m0.2-8.2h0m0 2.4h0m0.1-4.8h0m0.1 8.7h0m0.1-3.9h0m0-1.9h0m0.1 2.9h0m0 6.8h0m0-5.1h0m0-2.4h0m0.2-2h0m0 0.2h0m0 3.5h0m0.1-0.4h0m0.1-3.6h0m0 1.5h0m0.1 2.4h0m0-2.3h0m0.1 5.8h0m0-7.4h0m0.1 5.4h0m0-10.8h0m0 8.2h0m0.1-8h0m0 7.8h0m0-2.8h0m0-1.4h0m0.1-7.3h0m0 11h0m0-4.1h0m0.2 3.9h0m0-5.7h0m0 8.4h0m0.1-12h0m0 13.8h0m0.1-5.8h0m0 2.2h0m0.1 2.6h0m0-2.9h0m0.1 3.3h0m0-7.2h0m0.1-1.4h0m0-4h0m0.1 9.7h0m0 2.3h0m0-4.3h0m0.1-4.4h0m0.1 1.9h0m0 4.9h0m0-14.6h0m0.4 12.1h0m0.1 11.6h0m0-6.8h0m0.2-6.6h0m0 17.5h0m0-23.9h0m0.1-3.2h0m0 14h0m0.2-0.6h0m0.1-9.2h0m0 5.6h0m0.2 1.1h0m0.2 0.7h0m0-3.5h0m0.1 5.7h0m0 4.7h0m0-10.9h0m0.1 2.5h0m0 1.1h0m0 3.7h0m0-2.9h0m0.1-17.1h0m0 20.4h0m0.1-2.7h0m0.1-0.6h0m0.2-1.8h0m0.1 5.6h0m0-9h0m0.1 4.9h0m0-5.2h0m0 6.8h0m0.1-3.5h0m0.1-11h0m0 11.3h0m0.2 0.3h0m0 7.6h0m0.1-9.3h0m0-3.7h0m0 9.2h0m0.1-13.2h0m0.1 3.2h0m0-1.6h0m0.1 5.2h0m0 1.5h0m0 7.4h0m0.1-6.3h0m0-1.6h0m0 1.5h0m0.2-4.8h0m0.1 2.7h0m0.2-1.9h0m0.1-0.4h0m0.2-11.1h0m0 13.5h0m0 2.2h0m0-6.8h0m0.1 7.9h0m0.2-5h0m0.2-1.7h0m0.1 8.2h0m0.1-7.8h0m0.1 0.2h0m0.2 3h0m0 0h0m0.4-7.7h0m0.1 8.2h0m0.1-4.4h0m0.4 0.3h0m0-1.2h0m0-0.6h0m0 0.8h0m0.2 0.3h0m0.1 2.2h0m0-2.4h0m0.1 1.9h0m0.1-0.6h0m0.2-12.1h0m0 3.3h0m0.1 5.2h0m0 3.9h0m0.2 10.2h0m0.2-15.1h0m0.2 12.5h0m0.1-13.8h0m0.5 0.3h0m0 2.3h0m0.1 8.9h0m0-9.9h0m0.1-1.1h0m0-0.3h0m0.2 5.7h0m0 1.2h0m0.1-4.4h0m0.1 8h0m0-7.6h0m0.1-2.7h0m0.2-1.4h0m0 5.4h0m0.3-6.3h0m0.1 5.5h0m0-0.2h0m0.1 0h0m0.2-1.8h0m0.2-0.4h0m0 2.3h0m0-4.1h0m0.2 0.2h0m0.4 1.4h0m0.1 3.2h0m0.2 0.1h0m0.1-4.6h0m0-0.3h0m0.1 3.6h0m0.1 15.3h0m0.1-13.6h0m0.2-4.7h0m0.2-0.7h0m0.3 2.3h0m0.2-5h0m0.1 3.6h0m0.1-8.7h0m0.3 7.1h0m0 4.4h0m0.1-3.6h0m0 6h0m0.2 3.2h0m0.1-9.3h0m0-2h0m0.1 2.4h0m0 0.5h0m0.1-1.2h0m0.3-0.6h0m0.4 2.8h0m0.2 2h0m0.3-5.8h0m0 3h0m0-6h0m0.2 0.1h0m0 5.3h0m0.2-0.3h0m0 3.7h0m0-8.8h0m0.1 2.6h0m0.4-0.5h0m0-1.1h0m0-2.2h0m0.1 11h0m0-5.7h0m0.1 2h0m0.1 3.1h0m0.3-10.9h0m0.2 7.7h0m0-5h0m0.1-7.2h0m0.2 7.4h0m0.1-2.2h0m0 0.9h0m0.1-5.9h0m0.1 5.6h0m0.1-11.1h0m0.2 10.1h0m0-9.9h0m0.1 23.7h0m0.1-26.9h0m0.1 13h0m0.1 0.1h0m0.1 2.6h0m0 3.1h0m0.4-2.2h0m0.1-5.9h0m0 2.9h0m0.2-7.6h0m0 7.4h0m0.1-2h0m0-5.7h0m0 8h0m0.2 1.1h0m0 0.8h0m0.2-4.4h0m0.1-4.8h0m0.1 4.5h0m0.3 3.9h0m0.1-17.4h0m0 19h0m0.1-0.6h0m0.1-7h0m0.1 9.3h0m0.3-0.2h0m0.2-6.6h0m0.2-1.1h0m0.1-1.7h0m0 6.9h0m0-2h0m0.2 1.4h0m0-6.9h0m0.1 5.9h0m0.3-4.9h0m0.3 1.6h0m0.2-0.6h0m0.1 5.4h0m0.1-6.3h0m0.1-4.6h0m0.3 0.4h0m0.3-5h0m0.3 5.2h0m0 6.3h0m0.1-7.7h0m0.1 5.2h0m0.1-0.4h0m0.3 1.4h0m0.2-7.3h0m0.7 7.2h0m0.2-2.2h0m0.1-1.4h0m0 2.6h0m0 1.2h0m0.1-1.6h0m0.1-1.8h0m0.3 0.8h0m0.1 9.4h0m0-13.4h0m0.2 4.9h0m0.3-9.4h0m0.1 8.6h0m0.1 4.1h0m0.2-3.4h0m0.1 0.7h0m0.1-1.3h0m0.1-1.9h0m0.2 8.2h0m0.2-7h0m0.1-3.9h0m0.3 6.9h0m0.5-11h0m0.1 1.6h0m0.1 1.4h0m0 2.7h0m0.2-1.4h0m0.1-1.2h0m0.2 2.2h0m0.4 1.8h0m0.3-2.8h0m0.1-3.4h0m0.1-2.1h0m0.3 6.4h0m0.1-0.3h0m0.4-1.8h0m1.2 2.3h0m0.1 0.2h0m0.4-4.3h0m0.3 12h0m0.2-12.1h0m0.5-3.7h0m0.1 1.3h0m0.2 4h0m0-0.9h0m0.2-6.9h0m0.1 0.9h0m0-3h0m0.7 6.3h0m0.2-2.1h0m0.8-3.1h0m0.1 1h0m0.1 0.3h0m0.4-0.5h0m0 1.7h0m0.3 1.3h0m0.3 2h0m0.7-9.8h0m0.1 9.6h0m0.1-4.8h0m0 2.3h0m0.3-8.8h0m1.6 6.1h0m0.2-7.5h0m0.1 13.7h0m0.3-8.9h0m0.2 3.4h0m0.6-6.5h0m0.3-5.4h0m0.6 5.2h0m2.1-9.1h0m0.2 4.7h0m0 5.9h0m0.5-1.5h0m0.1 2h0m0.1-2.1h0m0.6-1.5h0m0.3-9.7h0m0.8 17.6h0m0.3-4.4h0m0.5-3.3h0m0.4-11.3h0m0.3-4.5h0m0.2 14h0m0.4-4.7h0m0 1.7h0m0.4 4.5h0m0.1-4.3h0m0.1 2.7h0m0.9-5.9h0m0.9-0.9h0m0.4 5.4h0m0.2 2.9h0m1-5h0m0.4 1.8h0m2.6-12.5h0m0.8 9.3h0m2.6-13.1h0m0 10.1h0m0.2-0.9h0m2.1-7.4h0m0.2 3.3h0m1.2-6.8h0m0 3.8h0m1.6 11.4h0m0.9-14.9h0m0.8-4.3h0m0 4.7h0m0.3-1.1h0m0.4 2.5h0m0.7-0.4h0m1.4-11h0m0 7.9h0m0.3-4.7h0m3.2-6.3h0m0.3 3.2h0m0.9 1.2h0m0.8 1h0m0.3 0.3h0m1.6-7.3h0m5.3 3.9h0m0.9-3.8h0m0-3.5h0m8.6-4.3h0" stroke="#e5e5ec" stroke-width="0.85" stroke-linecap="square" fill="none"/>
<path d="M37.1 272h0m0.8 5h0m0.5 2.9h0m1.9 8.2h0m0.7-4.5h0m2.4 2.1h0m0.1-3.3h0m1.3-15.3h0m0.1 15.6h0m0.4-0.8h0m1.3-3.9h0m0.3 0.4h0m0 2.6h0m0.3-13.3h0m0.4 8.4h0m0.3-5h0m1.9-3.6h0m2.9 0.5h0m4 8.1h0m0-20h0m1 9.7h0m0.7 0.9h0m0 5.2h0m0.1-7.2h0m0.8 2.1h0m0.4-2.4h0m0.8-0.7h0m0.2 2.4h0m0.9 1.8h0m0.1-5.8h0m1.5-9h0m1.1 11.8h0m0.3-14.3h0m0.9 7.9h0m1.4-0.9h0m0.7-4.3h0m1.8 11.3h0m1.3-13h0m1-3.5h0m0.3-0.4h0m0.5 4.3h0m1.1 8.5h0m1.2-8.7h0m0.6-0.9h0m0.7-2.6h0m0.3-0.7h0m0.1-0.5h0m2-1h0m2.6-4.5h0m0.4-12.2h0m0.5 13.1h0m0.4-7.7h0m0.3 10.3h0m0.5 6.4h0m0.1-11.3h0m2.3-8.8h0m3.3 8.9h0m0.5-6.6h0m4.2-5.5h0m0.1-0.8h0m0.8-0.4h0m0.6-2.3h0m0.5 11.6h0m7.9-16.3h0m0.3 4.2h0m5.4-1.6h0m34.2-46.1h0" stroke="#a7b7d7" stroke-width="0.85" stroke-linecap="square" fill="none"/>
<path d="M40.5 283.7h0m1-9.3h0m8.1 4.6h0m1.3-9.1h0m14.3 2h0m1.7-16.2h0m7.6-5.4h0m1.3 1h0m47.5-47.4h0" stroke="#d3918d" stroke-width="1.1" stroke-linecap="square" fill="none"/>
<path d="M38.2 284h0m1.1-5.9h0m1.7 10.6h0m0.6-0.2h0m0.3 0.7h0m4.3-7.7h0m1.9 6.4h0m0.1-5.1h0m0.2 3.9h0m0.1-5.4h0m2.5-11.3h0m0.6 2.1h0m1.6-3h0m0.1-4h0m0.8 5.2h0m6.5 7.5h0m0.8-16.2h0m6-2.3h0m0.3-1.6h0m7.6-5h0m2.2-3.8h0m11.7-11.5h0m3.5-4.3h0m14.9-17.2h0m21.8-24h0m7.6 0.1h0" stroke="#7490c2" stroke-width="1.1" stroke-linecap="square" fill="none"/>
<path d="M37.1 284.2h0m0.1-1.6h0m1.7 6.3h0m2.6-16.2h0m2.5 8h0m3.1-2.8h0m2.7 0h0m1.7 7.6h0m0.1 0.3h0m2.4-17.9h0m1.6 0.8h0m2.3-0.2h0m0.2-12.6h0m1.2 11.6h0m1.2-2.5h0m1.8-4.6h0m3.1-13.3h0m2.4 3.2h0m6.9-10.8h0m1.3 8.9h0m4.4-10.2h0m2.3 4.4h0m1.2-3.4h0m9.8-8.6h0m65.1-65.8h0" stroke="#859dc9" stroke-width="1.1" stroke-linecap="square" fill="none"/>
<path d="M36.8 283.7h0m6.6-8.3h0m0.9 7.3h0m0.7-4.5h0m0.3 0h0m1.3-1.8h0m2.7-2.5h0m2.3 3.3h0m2.4-8.4h0m1.8-4.4h0m7.1 0.7h0m2.3-8.3h0m3.1-5.4h0m6.2-12.9h0m6 2.6h0m63.9-60.4h0" stroke="#bcc7df" stroke-width="1.1" stroke-linecap="square" fill="none"/>
<path d="M41.9 281.8h0m0.7 2.1h0m2.5-6.8h0m2 8.2h0m6.2-13.5h0m9.7-8.4h0m1.6-1.9h0m0.2-1.3h0m3.3-5.5h0m12.9-5.1h0m0.8 1.3h0m10.1-10.8h0m7.3-21.6h0" stroke="#cb7e7a" stroke-width="1.1" stroke-linecap="square" fill="none"/>
<path d="M36.8 289.1h0m0.4-4.1h0m0.3 3.6h0m1.1-1.9h0m3.6-3.6h0m2.9-5h0m2.5 1h0m2.7-2h0m0.7-3.7h0m2.7-4.2h0m2.6-2.7h0m2.7-14.5h0m1.2 11.7h0m1.5-1.4h0m1.8-0.3h0m2.5-2.4h0m1.9-1.9h0m0.9-5.9h0m5.4-1.7h0m5-5.1h0m4.3-8h0m0.6 7.3h0m8.3-11.6h0m11-9h0m1.5-3.9h0m2.5-7.4h0m27.7-17.1h0m6.1-10.2h0" stroke="#96aad0" stroke-width="1.1" stroke-linecap="square" fill="none"/>
<path d="M37.1 272h0m0.1 14.9h0m0.7-9.9h0m0.3 5.2h0m0.2-2.3h0m1.9 8.2h0m0.7-4.5h0m0.1-2.2h0m2.3 4.3h0m0.1-3.3h0m1.3-15.3h0m0.1 15.6h0m0.4-0.8h0m0.4 4.7h0m0.1 1.5h0m0.6-6.3h0m0.1-2.2h0m0.1-1.6h0m0.3 0.4h0m0 2.6h0m0.3-13.3h0m0.1 9.2h0m0.1 4h0m0.1-0.9h0m0.1-3.9h0m0.3-5h0m0 7.8h0m1.9-11.4h0m2.2 5.5h0m0.3-3.6h0m0.4-1.4h0m0.4-0.4h0m3-3.7h0m0.6 12.2h0m0-20h0m1 9.7h0m0.7 0.9h0m0 5.2h0m0.1-7.2h0m0.4 5.5h0m0.4-3.4h0m0.4-2.4h0m0.8-0.7h0m0.2 2.4h0m0.9 1.8h0m0.1-5.8h0m1.5-9h0m1.1 11.8h0m0.3-14.3h0m0.9 7.9h0m1.4-0.9h0m0.7-4.3h0m1.8 11.3h0m1.3-13h0m1-3.5h0m0.3-0.4h0m0.5 4.3h0m1.1 8.5h0m1.2-8.7h0m0.6-0.9h0m0.7-2.6h0m0.3-0.7h0m0.1-0.5h0m2-1h0m2.6-4.5h0m0.4-12.2h0m0.5 13.1h0m0.4-7.7h0m0.3 10.3h0m0.5 6.4h0m0.1-11.3h0m2.3-8.8h0m3.3 8.9h0m0.5-6.6h0m4.2-5.5h0m0.1-0.8h0m0.8-0.4h0m0.6-2.3h0m0.5 11.6h0m7.9-16.3h0m0.3 4.2h0m5.4-1.6h0m34.2-46.1h0" stroke="#a7b7d7" stroke-width="1.1" stroke-linecap="square" fill="none"/>
<path d="M41.4 280.6h0m5.1-0.5h0m0.1-2.6h0m1.8 4.2h0m1.4-0.3h0m0.8-5.9h0m0 10.6h0m4-19.1h0m1.9 2.7h0m1.9-1.2h0m1.5-7.9h0m4.2-0.5h0m4.7-3.3h0m21.8-27.9h0m24.4-4.8h0m18.7-35.2h0" stroke="#6484bc" stroke-width="1.1" stroke-linecap="square" fill="none"/>
<path d="M42.1 280h0m2.9 6.6h0m9.1-18.3h0m4.6-5.1h0" stroke="#5578b6" stroke-width="1.1" stroke-linecap="square" fill="none"/>
<path d="M42.5 283.3h0m0.4 0h0m2.3-3h0m4.4-2.5h0m2.9-2.4h0m1.2 3h0m1-12.5h0m1.7 4.5h0m0.5-1.1h0m0.9 0.3h0m3.3 3.9h0m0.4-13h0m1.5 2h0m5.4-2.3h0m1.2 3.8h0m1.5-4.5h0m0.2-3.7h0m2.7-0.9h0m0.5-8.4h0m4.4-2.1h0m2.5-5.1h0m7-10.2h0m13.8-2.4h0m6.3-16.7h0m4.9 8.5h0m12.3-24.4h0" stroke="#dba4a0" stroke-width="1.1" stroke-linecap="square" fill="none"/>
<path d="M46.2 284.9h0m2.1-5h0m5.1-5.6h0m2.5-6h0m3.2-0.9h0m29.9-34.8h0" stroke="#c36c67" stroke-width="1.1" stroke-linecap="square" fill="none"/>
<path d="M37.7 287.9h0m0.3-2.2h0m0.9 3.7h0m3.4-5.6h0m1.7-5.8h0m0.4 9.6h0m0.2-2.5h0m0.5 4.3h0m3.3-11.1h0m0-3.1h0m0.4-1.2h0m1.4 7.9h0m0.1-7.4h0m0.2-0.8h0m0.4-0.7h0m0.3-12.4h0m0.1 20.1h0m1.5-12.2h0m1.9 10.1h0m0.4-10.3h0m0.7 14.7h0m1.1-17.9h0m0 2h0m0.6-4.5h0m0.9 6.9h0m0.3-2.7h0m0.9 3.9h0m1.4-7.5h0m0.1 7.7h0m0.2-10.5h0m2 2.8h0m3.8-2.7h0m1.8-2.8h0m2.6-2.9h0m3.9-10.9h0m2.9 2.9h0m0.4 9.4h0m3.6-5.1h0m5.7-9.2h0m10.7-9.3h0m3.3-9.5h0m7.2-8.9h0m0.6 6.4h0m1.7-4.5h0m11.8-17.3h0m25.8-25.4h0" stroke="#e2b8b5" stroke-width="1.1" stroke-linecap="square" fill="none"/>
<path d="M35.00 290.27L171.00 153.51" stroke="#b4242a" stroke-width="1.1"/>
<path d="M35.00 290.30L171.00 151.50" stroke="#1a1a1a" stroke-width="0.8"/>
</g>
<rect x="35" y="151.5" width="136" height="138.8" fill="none" stroke="#858585" stroke-width="1"/>
<text x="166.4" y="283.9" font-size="10.5" text-anchor="end" textLength="58.9" lengthAdjust="spacingAndGlyphs" fill="#262626">WLS200s (d)</text>
<g clip-path="url(#c11)">
<rect x="175" y="151.5" width="136" height="138.8" fill="#fff"/>
<path d="M209.00 151.50V290.30M175.00 255.60H311.00M243.00 151.50V290.30M175.00 220.90H311.00M277.00 151.50V290.30M175.00 186.20H311.00" stroke="#dcdcdc" stroke-width="0.6" fill="none"/>
<path d="M177.6 289.1h0m0.4-4.7h0m1.6 3.5h0m0.1-2.6h0m0.5 2.4h0m0.5-1h0m0.4-0.8h0m0.1 1h0m0.1-6.8h0m0.2-2.1h0m0 8h0m0.3-1.2h0m0.1-1.2h0m0.1 1.8h0m1.3-11.4h0m0.3 12h0m0.2-2.6h0m0.1-1.1h0m0.1 1.2h0m0 5.2h0m0.2-4.5h0m0.2-0.2h0m0.2 5h0m0.3-5.7h0m0.5 0.3h0m0.8-5.2h0m0 0.9h0m0.1 7.6h0m0.2 2.7h0m0.4-5.8h0m0-3.4h0m0.2 0h0m0.2-3.4h0m0.1-1.5h0m0.4 2.7h0m0-0.1h0m0.2 7.3h0m0.3 2.6h0m0.3-11.8h0m0 0.9h0m0.2 6.7h0m0.2-1h0m0.5-9.2h0m0.1 3.9h0m0.2-4.6h0m0.1 10.7h0m0.4-6.3h0m0.7 6.1h0m0-8.9h0m0.3-1.6h0m0.4-7.8h0m0.2 12.3h0m0.4 5.1h0m0.7-22.7h0m0.5 18.8h0m0.3-6.5h0m1.1 0.5h0m0.1 2.5h0m0 5h0m0.8-8.2h0m0.2-5.3h0m0.1 5.8h0m0.1 2.8h0m0.1-3.9h0m0.1-3.4h0m0.1 1.5h0m0.5 2h0m0.5-13h0m0.3 14.5h0m1-3.8h0m0-1.5h0m0.1 6.6h0m0.2-1.3h0m0.1-7.4h0m0.1 1.9h0m0.1 8h0m0.3-13h0m0.3 3h0m0.7-10.5h0m0 10.1h0m0.3-5.3h0m0-0.4h0m0.8 0h0m0.1-3.9h0m0.3 10h0m0.2 1.3h0m0.3-0.6h0m0 15.1h0m0.4-18.2h0m0.1 0.8h0m0.3-0.5h0m0.2 3.2h0m0.2-7.1h0m1 6.8h0m0.3-9.3h0m0.1 12.3h0m0.4-5.7h0m0.3 4h0m0-7.5h0m0 15.8h0m0.3-14.3h0m0.2-1.8h0m0.5 0.7h0m0.7-1.7h0m0.5-2.3h0m0.2 10.8h0m0.7-6.7h0m0.2-3h0m0.4-0.3h0m0.2-3.3h0m1.4 0.9h0m0.4-2.1h0m0.2 4.7h0m0.7-0.1h0m0.5-9.4h0m0.1 1.8h0m0.1 7.2h0m0.1-2.5h0m0.1-2.4h0m0.2 3.9h0m0.5-5.7h0m0.4-5.8h0m0.2 6.4h0m0.2 4.3h0m0.4 11.6h0m0.4-9.9h0m0.4-11.8h0m1.1 8.1h0m1.3 5.3h0m1-9.7h0m0.6-17.7h0m0.8 16h0m0.1-2.8h0m1.8-0.3h0m0.4-2.3h0m0.6-3.5h0m0.2-0.8h0m0.2 12.7h0m0 1.6h0m0-4.5h0m0.5 10.4h0m0.6-9.7h0m0.5-8.3h0m0.2 2.5h0m2-2.5h0m0.1-3.3h0m0.8 11.2h0m0.6-10.2h0m0.6-5.2h0m1.3 0.8h0m1.4 0.8h0m2.3 8.9h0m0.2-1.1h0m0.5-15.6h0m0.2 10.7h0m3.3-8.8h0m1.7 3.3h0m0.3-10.9h0m1.5-5.2h0m0.5 8.1h0m0.4-5.1h0m3.6 3.1h0m0.8-3.6h0m5-9h0m0.6-6.4h0m1.9 1.8h0m0.5 14.6h0m7.7-9.4h0m7 3.1h0m0.5-15.9h0m1.4 0.5h0m5.1-11.3h0m5.7-6.2h0m4.5 2.6h0m2.7 3.3h0m0.5-5.8h0m2.4-9.1h0m0.9 5.9h0m1.6-5.9h0m0.8-11.6h0m2.8 8.9h0m2.1 10.3h0" stroke="#eacdc9" stroke-width="0.85" stroke-linecap="square" fill="none"/>
<path d="M199.6 262h0m2.1 7.6h0m1.8-14.6h0m2.4 8.2h0m0-7h0m5.4-2.2h0m4.7 2.6h0m19.5-32.7h0m4.3-6.5h0m0.1 12.1h0m7.6-58.2h0m32.1 12.4h0" stroke="#7490c2" stroke-width="0.85" stroke-linecap="square" fill="none"/>
<path d="M176.7 289.5h0m0.8-2.7h0m0.1-5.3h0m0 4.6h0m0.6 1.3h0m0-1.2h0m0.6-2.5h0m0.6 2.4h0m0.1-0.9h0m0.1 0.6h0m0 2.1h0m0.2 0h0m0.6 0.1h0m0.4-3.7h0m0.2-4.5h0m0.3 9.9h0m0.2-4.6h0m0 1.8h0m0-5.8h0m0.1 2h0m0.2 3.5h0m0-3.1h0m0.1-3.9h0m0.2 1.4h0m0 0.3h0m0.1 3.8h0m0.1-0.7h0m0.4 5h0m0.1-7.2h0m0.5 3.2h0m0.2-4.6h0m0.1 3.3h0m0.1-1.1h0m0.1 1.5h0m0.1-5.1h0m0-2h0m0.2 6.4h0m0.2-3.9h0m0.4 4h0m0.1-1.1h0m0-4.6h0m0 6.6h0m0 3.6h0m0.1-3.5h0m0.1-5.2h0m0 5h0m0.1-1.7h0m0.1-5.5h0m0.4 7.9h0m0-10.5h0m0 12h0m0.2-8.3h0m0.1 3.5h0m0.1 0.2h0m0.3-5.7h0m0.1 11h0m0.3-3.5h0m0.1-9.4h0m0.1 8.8h0m0-5.4h0m0.2-7.4h0m0 9.8h0m0-4h0m0 3.1h0m0.1 4.7h0m0.3 4.4h0m0.2-13.2h0m0.1 7.1h0m0.1-7.1h0m0.1 2.4h0m0 5h0m0.1-12.6h0m0.2 5.6h0m0 5.5h0m0-5.3h0m0.1 11.9h0m0.1-5.4h0m0.2-6.6h0m0 0h0m0.1-4.8h0m0.1 12.9h0m0.1-13h0m0.3 10h0m0 3.5h0m0.1-2.5h0m0.1-4.9h0m0.1 1.6h0m0-9.3h0m0.2 6.6h0m0.1 3.4h0m0-0.1h0m0.1-4.8h0m0 12.5h0m0.1-7.1h0m0.1-3.2h0m0.1-1.8h0m0.2 6.9h0m0.1-12.3h0m0.1 14.3h0m0.2-6.5h0m0-2.6h0m0-5.4h0m0.2 3h0m0 1.5h0m0.4-7.5h0m0.1 12.9h0m0 0.7h0m0.1 3.9h0m0-7.2h0m0.1-7.3h0m0.1 2h0m0.2 0.3h0m0 6.2h0m0-2.6h0m0.1-7h0m0.1 5.9h0m0.2 7.9h0m0 0.6h0m0-5.8h0m0.2 1.6h0m0.2-2.7h0m0.1-3.1h0m0.1-2h0m0 8.3h0m0-0.4h0m0-7.8h0m0.2 5.8h0m0.1-0.4h0m0.2 0.2h0m0.1 0.5h0m0-7.8h0m0.2 3.3h0m0.2 0.7h0m0.1 6.9h0m0.1-12.4h0m0.1 11.3h0m0.1-8.7h0m0.2-0.3h0m0 0.4h0m0 5.5h0m0.1 0.2h0m0-2.5h0m0.2-6.5h0m0.1 5h0m0.1 1.2h0m0.2-14.4h0m0 20.8h0m0-8.3h0m0.1-2.8h0m0 1.6h0m0 0.6h0m0.1 5.2h0m0.1-0.5h0m0.1-3.8h0m0-4.9h0m0.6 5.5h0m0 2.9h0m0.1-6.6h0m0.3 13.1h0m0.2-9.5h0m0-5.2h0m0-0.4h0m0.1 14.9h0m0.5-9.5h0m0-1.5h0m0 3.6h0m0.1-5.6h0m0.2 3.6h0m0-4.5h0m0 4.6h0m0.1 12.4h0m0-15.9h0m0.2 1h0m0 1.1h0m0 1.4h0m0-8.7h0m0.1-0.3h0m0-0.5h0m0 7.3h0m0.1-1.8h0m0.1-2.4h0m0 0.3h0m0 0.9h0m0.2-3h0m0 2.3h0m0.2 0.1h0m0.1 4.1h0m0.2-4.9h0m0-1.3h0m0.3 1h0m0 0.9h0m0-1.4h0m0.1 2.7h0m0.1-1h0m0.1-2h0m0.1 11.7h0m0-0.3h0m0.1-8.6h0m0.1-6.6h0m0 6.3h0m0 0.8h0m0.2 4.6h0m0.2-7.4h0m0-2.8h0m0 14.2h0m0.2-10.1h0m0-4.4h0m0.1 9.6h0m0.2-10.5h0m0 0.7h0m0.1 7.8h0m0 2.2h0m0.1 1.1h0m0.4-12.2h0m0.2 6.9h0m0-3.6h0m0.1 1.7h0m0.1-10.3h0m0.2 9.8h0m0.2 6.1h0m0-7.6h0m0.2 1h0m0 8.7h0m0.2-10.7h0m0-1.2h0m0-2.5h0m0.1 3.8h0m0.1 2.6h0m0.2 0.7h0m0.2-2.6h0m0-1.7h0m0.1-4.1h0m0 5h0m0 2.2h0m0-0.1h0m0 3h0m0.2-5.3h0m0.1 6.8h0m0.1-10.3h0m0.1 1.5h0m0.3 12h0m0.2-8.7h0m0.1-6.6h0m0.1 4.9h0m0.1 2.8h0m0.3-1.7h0m0 5.1h0m0.1-8.8h0m0.1-0.7h0m0.1 4.6h0m0-0.9h0m0 5.8h0m0.2-6.1h0m0.1-3.2h0m0.3-1.3h0m0.2-2.8h0m0.1 13h0m0-6.3h0m0.2-4.8h0m0 1.6h0m0 3.3h0m0.2 7.5h0m0.2-13.3h0m0.1 1.7h0m0.1 9.5h0m0.3-5h0m0-8.7h0m0 2.6h0m0.1 20.4h0m0-17h0m0 2.2h0m0.2-2.8h0m0-6h0m0.2 4.2h0m0 4.3h0m0-6.1h0m0.1 6.3h0m0 2.4h0m0-6h0m0.4-3.4h0m0 1.5h0m0.1 5.8h0m0-0.1h0m0.1 0.1h0m0.5-2h0m0.1-1.1h0m0.2 4.6h0m0.3-18.6h0m0.1 10.6h0m0-0.4h0m0.2 5.5h0m0-3.7h0m0.1-0.5h0m0.2-2.7h0m0.1 2.7h0m0-1.3h0m0.2-1.1h0m0.1 8.1h0m0-6.3h0m0.2 14.8h0m0.1-18.6h0m0.4 0.9h0m0.2 4.1h0m0.1-7.1h0m0.2 1.7h0m0-10.3h0m0.1 13h0m0.1 2.4h0m0-6.4h0m0.3 10.7h0m0.1-8.7h0m0.1 4.5h0m0 1.5h0m0.1-7.4h0m0.1 4.9h0m0-3.3h0m0.1-1h0m0.2 1.3h0m0.1-4.7h0m0.1 11.3h0m0.4-6.8h0m0.2-1.7h0m0 3.2h0m0.5-16.8h0m0.1 25.7h0m0-1.5h0m0.2-3h0m0.3-14.1h0m0.1 5.5h0m0.3 6.8h0m0.3 3.1h0m0-3.5h0m0 5.3h0m0.1-9.3h0m0.5-7.9h0m0.1 3.6h0m0.3 2.7h0m0 1.3h0m0.1-0.9h0m0.2-0.6h0m0.2 1.1h0m0.3-6.1h0m0 19.6h0m0.6-15.8h0m0.2 1.5h0m0.4-9.7h0m0 4.1h0m0.2 2.4h0m0.2-3.6h0m0.1 5.5h0m0.3-2.4h0m0.2 6.6h0m0-4.8h0m0.1 2.3h0m0-6.4h0m0 9.7h0m0.6-0.4h0m0.1-2.7h0m0.2 2.2h0m0.1-8.2h0m0.2-0.5h0m0.2-10.1h0m0.1 10.3h0m0-2.2h0m0.3 3.7h0m0.2-4.8h0m0.1 3h0m0.1 7.2h0m0.3-12.5h0m0.2-0.1h0m0.1 4.5h0m0.9 2.3h0m0-4.7h0m0.2 4.3h0m0.1-3.9h0m0.2 3.7h0m0.1-1.1h0m0.3 5.5h0m0.4-5.5h0m1 0h0m0 5.6h0m1-30.7h0m0.3 15.9h0m0.1 6.5h0m0.3-9.2h0m0.1 8.5h0m0.7-0.2h0m0-1.5h0m0.3-1.9h0m0.2-7.7h0m0.1 13.4h0m0 5.1h0m0.4-11.6h0m0.1 14.1h0m0.7-14.1h0m0 0.2h0m0.2-6.4h0m0.8 5.3h0m0-6.1h0m0.8 15h0m0-13.4h0m1.1 10.1h0m0.1-11.7h0m0.1-3.9h0m0.1 2.9h0m0 0.8h0m0.5 0.3h0m0.2 4.7h0m0 3.1h0m0.1-2.6h0m0.1-14.1h0m1.1 7.2h0m0.5 8.9h0m0.3-4.3h0m0.1 8.8h0m0.4-13.4h0m0 1.9h0m0.9-2.8h0m0.4 4.8h0m0.1-2.1h0m0.8-4.3h0m0 1.4h0m0.1 1.6h0m0 9.6h0m0.9-4.7h0m0.4-5.9h0m0.6-1.7h0m1.3-0.6h0m0.5 3.6h0m0.8-4.7h0m0.3 0.3h0m0.6-2h0m0-2.4h0m0-0.8h0m0 2h0m0.1 0.6h0m0.4 0.2h0m0.1-0.3h0m2-4.4h0m0.5-5.4h0m0.1 18h0m0.2-11.2h0m0.2 0.4h0m0.4 4.7h0m0.5-10.9h0m1.2 3.3h0m0 12.5h0m0.1-15.8h0m0.3-0.8h0m0.6 11.1h0m0.7-4.6h0m0.1-10.5h0m0.4 4.7h0m0.3-2.4h0m1-1.1h0m0.1 2.8h0m0-29.8h0m2.2 27.9h0m3.5 6.5h0m0.5-16.1h0m0.3 5h0m1-2.3h0m0.6 2.5h0m2.7-7.6h0m2 5h0m1.1-4.7h0m0-2.1h0m0.6 5.5h0m0.2-3.1h0m0.7 5h0m0.4-7.5h0m0.2 2.5h0m0.2 5.9h0m2-16.1h0m0.9 19.3h0m0.6-13.5h0m1.9-2.3h0m1.1-4.1h0m0.6 0h0m0.8 3.1h0m0.4-11.6h0m0.1 21.9h0m1.6-3.5h0m0.1-13h0m1.3-4.6h0m0.3 13.6h0m0.1-4.5h0m4.4-13h0m0.5 16.3h0m1.3-17.2h0m2.4 1.7h0m0.7 2h0m2.9-9.2h0m1.2 5.2h0m2.6-4h0m1.3 3.9h0m0.9 1h0m1.2-5.1h0m1.1-6.4h0m0.1 10.4h0m1.1-11.9h0m5.7-9.1h0" stroke="#f1e0de" stroke-width="0.85" stroke-linecap="square" fill="none"/>
<path d="M246.1 169.4h0" stroke="#466cb0" stroke-width="0.85" stroke-linecap="square" fill="none"/>
<path d="M182 285.5h0m1.1-6.2h0m4.9 5.4h0m4-5.8h0m0.9-2.4h0m0-5.5h0m1.4-1.6h0m1.8 0.8h0m3.2 5.2h0m3.9-7.4h0m2.7-6.8h0m3.5-4.5h0m1.3 3.5h0m1.2-3.2h0m3.9-8h0m12.4 3.6h0m2.1-16h0m8.4-11.9h0m0.8-6.6h0m2.4 8.9h0m14.3-9.2h0" stroke="#dba4a0" stroke-width="0.85" stroke-linecap="square" fill="none"/>
<path d="M177.2 276h0m1.5 10.7h0m1.2 2.6h0m2.7-6.6h0m2.1-2.1h0m2.4-14.8h0m2.6 6.9h0m5.5-7.4h0m0.6 5.1h0m0.7 0h0m5.4-7.1h0m0.9-13.4h0m3.8 12.9h0m0.5-7.9h0m0.1-10.4h0m6.6 3.5h0m0.6-11.2h0m0.8 15.9h0m12.9-18.4h0m2.5-11.2h0m0.8 8.4h0m20.4-55.4h0m0.4-4.4h0m4 41.9h0m5-11.9h0m18.9-4.7h0m3.3-30.6h0m20.4 22.2h0" stroke="#96aad0" stroke-width="0.85" stroke-linecap="square" fill="none"/>
<path d="M177.9 288h0m2.6 1.1h0m7.2-8.2h0m13.6-10.5h0m8.2-16.1h0m8-0.1h0m5.8-6.1h0m23.7-78.8h0m0 4.9h0m2.7 3.6h0m2.5-3h0" stroke="#5578b6" stroke-width="0.85" stroke-linecap="square" fill="none"/>
<path d="M176.8 280.7h0m1.6 4.6h0m0-2.5h0m0.1 5.7h0m0-0.8h0m0.1-6.6h0m0 5.4h0m0.1-6.9h0m0.8 6.5h0m0-3.8h0m0.1 2.8h0m0.3-3h0m0 0h0m0.1 3.5h0m0.1 2.8h0m0.1-1.3h0m0.1-4.9h0m0.1 7.6h0m0.1-6.4h0m0.1 2.1h0m0.1-1.8h0m0.1-2.7h0m0.1 4.2h0m0.3-3.5h0m0 5.9h0m0.2-3.1h0m0.2 2.9h0m0.1-3.1h0m0.1-6.3h0m0.2 11.8h0m0.1-7h0m0.1 0.5h0m0.1-1.4h0m0-7.2h0m0.3 11.5h0m0.1-6.7h0m0.1 4h0m0.1 5.7h0m0-3.6h0m0.2 1.4h0m0-2.6h0m0.1 2.4h0m0-2.1h0m0-1.3h0m0 1.7h0m0.1-1.2h0m0.1-1.9h0m0 5.2h0m0-8.4h0m0.1-1.3h0m0 2.2h0m0 0.1h0m0.1-2.4h0m0.4 4.9h0m0 7.2h0m0.1-4.8h0m0-1.9h0m0 0.2h0m0.1-0.3h0m0-4.3h0m0 5.3h0m0.1-2.2h0m0 2.4h0m0.1-6h0m0 1.5h0m0.1 5.8h0m0.2-1.2h0m0.1-8.6h0m0.1 8.8h0m0-8.5h0m0.2 6.1h0m0-4.7h0m0.1 2.8h0m0.1 2.5h0m0.1-2.8h0m0.1 3h0m0.2-3.2h0m0.1-2.9h0m0.1 3.4h0m0.1-0.4h0m0-9h0m0.3 7.3h0m0 7.9h0m0-2.9h0m0-3.3h0m0.1 5.3h0m0-5.3h0m0.6-3.2h0m0.1 6.2h0m0-10.6h0m0.1-17.2h0m0 27.6h0m0 0.6h0m0.1-2.3h0m0.1-2.7h0m0.1-10.3h0m0.1 12.8h0m0.1-1.6h0m0.1-4.1h0m0 1.1h0m0.1 1.7h0m0 0.3h0m0.1-2.8h0m0.1-0.3h0m0.1 2.8h0m0-1.6h0m0 0.6h0m0.1 0.2h0m0.1 12.3h0m0.1-13.9h0m0 6.3h0m0 5.9h0m0.1-16.9h0m0.1 9.9h0m0-5.2h0m0.1 11.3h0m0.2-9.2h0m0.1-1.7h0m0 0h0m0 3.3h0m0.3-0.7h0m0.1-2.2h0m0.1 11.9h0m0-5.2h0m0.2-5.2h0m0.2-4.7h0m0-3.4h0m0.1-6.1h0m0 13.8h0m0-2.6h0m0-3h0m0-2.1h0m0.1 6.1h0m0.1-2.7h0m0.2 3.1h0m0.1-4.5h0m0 4.2h0m0.1-1.8h0m0.1 2.3h0m0-6.3h0m0.2 5.1h0m0.1-3.8h0m0 5.6h0m0-1.8h0m0.1-0.7h0m0.1 0.9h0m0.1-1.9h0m0 3.5h0m0 2.9h0m0.2 1.4h0m0-13.4h0m0 10.4h0m0.1-7.9h0m0 7h0m0.3-5.4h0m0-13.6h0m0.2 22.7h0m0-6.7h0m0.2-3.8h0m0 4.3h0m0-1.2h0m0.1 6.6h0m0.1-4.7h0m0.1-5.2h0m0 8.6h0m0.1-9h0m0.1 10.3h0m0-0.7h0m0.1-8.3h0m0 3.2h0m0.1-4.7h0m0 0.4h0m0 3.2h0m0.1-1.1h0m0.1-10.9h0m0.1 12.8h0m0.1 0.4h0m0.1-4.5h0m0.2 9.7h0m0-6.3h0m0-6.7h0m0 5.3h0m0.1-0.9h0m0.1 3.1h0m0-7h0m0 3.2h0m0.1-0.2h0m0.1 5.6h0m0.2-7h0m0.1 3.1h0m0 7.4h0m0.1-6.8h0m0.1 1.6h0m0.1 5h0m0.1-8h0m0 3.6h0m0.1-1.5h0m0.2-0.4h0m0.2-9.7h0m0 3.2h0m0.1 1.3h0m0.1 0.9h0m0.1 0.1h0m0.1-0.1h0m0 1.3h0m0-1.3h0m0-4.6h0m0.1 0.8h0m0 4h0m0.1 7.5h0m0-17h0m0 12.7h0m0.1 10.1h0m0-5.8h0m0.1-0.8h0m0-12.1h0m0.1 5.7h0m0.2-1.9h0m0.1 9.3h0m0-5.5h0m0.1 10.3h0m0 0.1h0m0.1-4h0m0.1-10.5h0m0 6.8h0m0.1-5.1h0m0 1.1h0m0 10h0m0.1-10.1h0m0-0.9h0m0.1-11.2h0m0 12.8h0m0.1-3.2h0m0-2.4h0m0 8h0m0-4.5h0m0.1 5.7h0m0.1 1.2h0m0-5.2h0m0.1-0.2h0m0-3h0m0.2 2.7h0m0-6.6h0m0 10.3h0m0-8.5h0m0 0.8h0m0.1 3.7h0m0.2-7.3h0m0 10.2h0m0.1-3.2h0m0.1 1.6h0m0 3.4h0m0-4.3h0m0.1-11.5h0m0.1 9.8h0m0 16.7h0m0.1-26.1h0m0 11.4h0m0-10.7h0m0 8h0m0.1 5.2h0m0-7.6h0m0-4.1h0m0.1-3.8h0m0 0h0m0.1 16.6h0m0.1-12.8h0m0 7.8h0m0.1 14.2h0m0-17.4h0m0-1h0m0-1.8h0m0.1 9.2h0m0-3.4h0m0.1-4.9h0m0 7h0m0 0.7h0m0-5.2h0m0 4.3h0m0.1-2.3h0m0.1-0.5h0m0 4.5h0m0.1-2.8h0m0.1-0.3h0m0.1-1.4h0m0-5.1h0m0.1-2.2h0m0.1 2.3h0m0.1-2.5h0m0.3-11h0m0.1 14.1h0m0 5.6h0m0-4.4h0m0.3 8h0m0-11.1h0m0 6.6h0m0.4-5.9h0m0 13.4h0m0.1-7.5h0m0 0.8h0m0.1-4h0m0 0.4h0m0.1 0.8h0m0.1 17.8h0m0.1-14.7h0m0-7.8h0m0 4.8h0m0.1-0.1h0m0-3.1h0m0-2.9h0m0 6.3h0m0.4 4.3h0m0-8.6h0m0 6.2h0m0.1-4.3h0m0-0.7h0m0.1-2.3h0m0 7.1h0m0-1.9h0m0-4.2h0m0 3.6h0m0.1 3.1h0m0.2-8.6h0m0 2.3h0m0 1.7h0m0.1-0.9h0m0.2 3.8h0m0.3-6.2h0m0 8.4h0m0-7.7h0m0-3.4h0m0.1 5.9h0m0-2h0m0.1 1.6h0m0.1 1.9h0m0.1-4.3h0m0 5.8h0m0.1-1.5h0m0-5.8h0m0.1 1h0m0.1-1.6h0m0.1 6.4h0m0 0.9h0m0.2-1.9h0m0 0.1h0m0.1-10.4h0m0.2 12.2h0m0-1.6h0m0.2-4.2h0m0.3 6.4h0m0-9h0m0.4 0.4h0m0-1.3h0m0.2 7.1h0m0 1.6h0m0.1-6.6h0m0 3.2h0m0 9.6h0m0.2 5.8h0m0-15.2h0m0-2.5h0m0.1 7h0m0.1-1.1h0m0.1-11.2h0m0.1 4.3h0m0.2-5.5h0m0 10.2h0m0-8.3h0m0.1-0.2h0m0.1 7.8h0m0.1-4h0m0.1-0.5h0m0.1 0.8h0m0 0.2h0m0.1 3.2h0m0.2 20.1h0m0.1-24.7h0m0-2.4h0m0.5 14.6h0m0-6.9h0m0.1-3.6h0m0.1 1.2h0m0.1 5h0m0.1-14.4h0m0 2.8h0m0.1-3.6h0m0.1 6.1h0m0.2 3.2h0m0.1 3.7h0m0.1-3.3h0m0-4.3h0m0.1-0.4h0m0-4.7h0m0.3 6.3h0m0-5h0m0-2.4h0m0 11.4h0m0.1-2.9h0m0-5.4h0m0.1 16.8h0m0-13h0m0-6.1h0m0.3 3.4h0m0.1 10.8h0m0.1-7.1h0m0-1.9h0m0.1-0.4h0m0 0.6h0m0-4.8h0m0 7.6h0m0-3.9h0m0.1 8.8h0m0.1-8.6h0m0 1.3h0m0 0.1h0m0.2-9.4h0m0.4 4.6h0m0.1-1h0m0.1 12.8h0m0.2-15.7h0m0.1 3.9h0m0.1 5.7h0m0.1-6.5h0m0 9.4h0m0.2-1.3h0m0-0.4h0m0.2-1.6h0m0-1.5h0m0.1-1.6h0m0.2-0.4h0m0-0.1h0m0.1 1.2h0m0.1-4h0m0 4.7h0m0-1.9h0m0 1.8h0m0.3-1.2h0m0.3-8h0m0.1 8.1h0m0.1 0.8h0m0 0.3h0m0.1-6h0m0.2-1.2h0m0 5.3h0m0-6.2h0m0.1-2.7h0m0 7.8h0m0.5-2.4h0m0.2 5.5h0m0.2-7.5h0m0.1-1.1h0m0 6.2h0m0.4 1.2h0m0.1-5.7h0m0.2 7.4h0m0.2-6.8h0m0.3 0.8h0m0 3.2h0m0.1-1.6h0m0.1 10.5h0m0.1-13.9h0m0.1-6.6h0m0.1 12.2h0m0.1-9.3h0m0.3 4.8h0m0.1-6.3h0m0 11.4h0m0.1-8.3h0m0.1 7.2h0m0.1-7.6h0m0.6 5.9h0m0.1-4.7h0m0.2-2.2h0m0.1 0h0m0.2 8.8h0m0.3-2h0m0.1-1.8h0m0-5.3h0m0.4 2.2h0m0.1 12.6h0m0.4-6.9h0m0.2-4.7h0m0-2.2h0m0.7-0.2h0m0-2.9h0m0.2 1.8h0m0.2 10.1h0m0.1-5.7h0m0.1-2.8h0m0.3 3h0m0.1-6.5h0m0.2 3h0m0.2-0.7h0m0.1 7.3h0m0.1-10.3h0m0.3 0h0m0.2 1.1h0m0.1-4.6h0m0.1 7.2h0m0.3-10.5h0m0 7.1h0m0.5-6h0m0.1 5.3h0m0 0.2h0m0.3-10.4h0m0.1 17h0m0.1 4.9h0m0.2-11.8h0m0.1 1.3h0m0.9-2.6h0m0 0.9h0m0.2-0.1h0m0.4 2.9h0m0 0.7h0m0.3-7h0m0.2 1.1h0m0.7 8.4h0m0-14.4h0m0.2 3.3h0m0.4-0.9h0m0 3.1h0m0 0.3h0m0.1 0.3h0m0.3 1.3h0m0.5-1.2h0m0.3 12.1h0m0.2-22.5h0m0 12.2h0m0.1-0.2h0m0.2-8.2h0m0 1.5h0m0.1-22.2h0m0 21.6h0m0.3 0.5h0m0.1 2.2h0m0.6 1.8h0m0 3.5h0m0.1-5.2h0m0.5-2.4h0m0.5 4.5h0m0 4.7h0m0.4-6.7h0m0-1.5h0m0.2 1.6h0m0.1-0.4h0m0.3-8.8h0m0.4 3.6h0m0 2.8h0m0.5-0.1h0m0 9.1h0m0.2-11h0m0.4-3.9h0m0 8.5h0m0.2 10h0m0.1-14.3h0m0.1-5.2h0m0.1 5.8h0m0.1 6.7h0m0.1-1.6h0m0.4-1.1h0m0.1-8.4h0m0.1 4.2h0m0.5-9h0m0 24.2h0m0.4-21.2h0m0.2-8.9h0m0 13.1h0m0.4 2.4h0m0.2-12h0m0.2 9h0m0.1 17.1h0m0.2-14.4h0m0.2-4.1h0m0.2-2.2h0m0.1 2.8h0m0.3-2.6h0m0.6 0.6h0m0.1-12.7h0m0.3 20h0m0.1-11.9h0m0.2 4.5h0m0.2 0h0m0.2 2.5h0m0.6-5.9h0m0.4 7h0m0.5 0.9h0m0.2-6.3h0m0.1-6.6h0m0.8 1.3h0m0.5 6.1h0m0.1 1.7h0m0.5-10.7h0m0 2.6h0m0.2 9h0m0.5-12.6h0m0.2 18.1h0m0.2-12.1h0m0-5.1h0m0.4 9.4h0m0.1 6.6h0m1.1 5.4h0m0.8-41.5h0m1 15.7h0m1.3 7.1h0m0.4-8.8h0m0.3 12.1h0m0.2-5.4h0m0.3 8.1h0m0.7-11.1h0m1.4-20.4h0m0.2 18.2h0m0.1-3h0m0.8-8.4h0m0.5 16.9h0m0.7-10.5h0m0 5.1h0m0.7-4h0m0.7-2.3h0m0.2 6h0m0.2-9.2h0m0.6 9.5h0m1.4-9h0m0.1 3.1h0m0.2-1h0m0.2-10.2h0m1.2 8h0m1.3 8.5h0m0.3-27.8h0m0.1 18.5h0m0.2 0.4h0m1.4 2.4h0m0.3-24.6h0m0.4 27.7h0m0.5-8.9h0m0.3 2.6h0m1.8-2.3h0m0.6-2h0m0-14.2h0m2 14.3h0m0.3-11.2h0m3.3 3.8h0m0.2 16.1h0m0.4-10.4h0m1.2-0.2h0m1.1-2.4h0m0.9-2.2h0m0.7 3.3h0m0-9.6h0m0.8-14.5h0m0.1 22.8h0m3.3-6.5h0m0.8-22.1h0m0.1 12.7h0m0.2 1.6h0m2.5-1.4h0m0.6 8.5h0m1.7-12h0m0.4 6.1h0m2.6-10.1h0m2.7 3.9h0m1.7-12.4h0m0.3 21.8h0m0.6-16.7h0m1.6-3.4h0m2.8 17.9h0m0.2-15.9h0" stroke="#f8f3f2" stroke-width="0.85" stroke-linecap="square" fill="none"/>
<path d="M176.8 276.4h0m1.1 3.8h0m0.6 3h0m0.2-8.5h0m0.2 13.1h0m0.8-1.6h0m2.9-7.9h0m0.1 5.3h0m0.9 1h0m0.9-12h0m0 1h0m1.4 4.6h0m0.1-10.6h0m0.3 6.3h0m2.9-2.9h0m0.3 10.3h0m1.2-11.1h0m0.7 2.1h0m0.4 4.3h0m0.1-2.5h0m0.4-1.5h0m1.9 4.6h0m1.6-14.7h0m0.6 8.5h0m0.2 2.8h0m0.8-3.9h0m0.6-2h0m0.3-9.1h0m0.1 9.2h0m0.7-9.7h0m1 12.5h0m0.2-22.7h0m1.5 18.4h0m0.3-6.4h0m0.2 4.6h0m0.7-3.9h0m0-5.7h0m2 3.9h0m2.7 4.9h0m1-15.2h0m1.1 1.1h0m0.2-11.6h0m0.3 15.6h0m2.4-4.5h0m0.3-1.6h0m1.1-5.8h0m0.4-0.9h0m1.2-1.7h0m0.5 11.6h0m0.4-15.1h0m3.8 11.3h0m0.1-2.5h0m0.3-9.6h0m0.5 11.2h0m1.1-3.3h0m0.9-7.5h0m0.5 6.8h0m0.7 0.8h0m1.2-0.2h0m2.8-5.1h0m3.3-7.8h0m4-13.2h0m2.4 18.7h0m14.6-37.1h0m1.1 1.2h0m1.7 6.7h0m1.3-2.7h0" stroke="#a7b7d7" stroke-width="0.85" stroke-linecap="square" fill="none"/>
<path d="M177.4 284.7h0m0.4-6.7h0m1.4 7.9h0m0.8 3.1h0m0.1-3.2h0m0 2.6h0m0.5-4.1h0m0.8-8.3h0m1.2 1.6h0m0.5-1.2h0m0.3-1.4h0m0.4 7.3h0m0.1-11h0m0.5 9.1h0m0.4-3h0m0.2 3.1h0m0.4-5h0m0.8-1.4h0m1.2-1.6h0m0.1 12h0m0.7-11.7h0m0.1 8.3h0m0.1-8.8h0m0.4 4.9h0m0.2 1.2h0m0.9-8.6h0m0.8 0.5h0m0.1-1.9h0m0.8 2.2h0m0.6 1.2h0m0.1-10.7h0m0.2 14.3h0m0.1-7.8h0m0.3 3.3h0m0.1-0.7h0m0.1-4.1h0m0.5 10.4h0m0.1-7.4h0m0 2h0m0.5 1h0m0-5.3h0m0.2 2.2h0m0.4-3.3h0m0.2 3.7h0m0 2.3h0m1.3-1.1h0m0.1-3.2h0m0.4 0.3h0m0 0.8h0m0.5 2.5h0m0.3 3.4h0m0.1-4.4h0m0.4-3.3h0m0-10.7h0m0.7 25h0m0.1-20.5h0m0.3 4.7h0m0.2-0.1h0m1-4h0m0.1-3.4h0m0.8 1.5h0m0 3.3h0m0.3 1.5h0m0 0.3h0m0.3 9.5h0m0.2-6.5h0m0.1-8h0m0.2-1.2h0m0.1 5.9h0m0.2-4.6h0m0 2.3h0m0.5 6.3h0m0.2-5.9h0m0.4 1.2h0m0 11.9h0m0.3-17.8h0m0.9-1.1h0m0.2 5.1h0m0 0h0m0.2-1.5h0m0.1-0.2h0m0-3.8h0m0 10.7h0m0.1-14.3h0m0.2 4h0m0.3 0.3h0m0.6-3.5h0m0.2 3h0m0.5 1.8h0m0.1-7h0m0.2 4.7h0m1.2-0.8h0m0.4-1.1h0m0 0.6h0m0.2-6.4h0m0.3 8.7h0m0.3-4.9h0m1.3 0.9h0m0.1 2.5h0m0.8 1h0m0.4 10.3h0m0.5-18.1h0m0.3-7.2h0m0.9 2.4h0m0 6h0m0.1 4h0m0.5-4.1h0m1.1-6.3h0m0.5 8h0m0.5-14.6h0m0 13.4h0m0.1 0.6h0m0.5-3.4h0m1.8-2.7h0m0.8-1.9h0m0.8 0h0m0.8 7.5h0m0.8-11.2h0m0.7 1.9h0m2.1 15.9h0m0.2-20.3h0m0-5.1h0m0 4.9h0m0.2-5.4h0m1.1 4.1h0m0.1-1.6h0m0.4 8.1h0m0.3-7.3h0m0-7.4h0m0.3 12.7h0m0-6h0m1.7 1.4h0m0-3.6h0m1.1 4.8h0m0.9-8.9h0m0.4 9.9h0m0.4-1.8h0m0.1-8.2h0m3.9-4.5h0m5.6-4.3h0m0.7 4.5h0m0.5-6.5h0m2.4 4.5h0m0.4 1.7h0m3.1-11.7h0m0.7 6.3h0m1.2-5.1h0m1 0.5h0m0.9 3.9h0m0.6-3.7h0m2.5-12.5h0m6.8-2.1h0m1-8.5h0m0.5 7.7h0m2.7-3.6h0m0.5 4.7h0m4.4-16.6h0m0.8 8.6h0m10.9 9.5h0m9.8-31.9h0m6.6 35.9h0m0.2-41.4h0m2.2-5.7h0" stroke="#bcc7df" stroke-width="0.85" stroke-linecap="square" fill="none"/>
<path d="M180.1 286.3h0m0.8 0.8h0m0.1-6.1h0m0.9 4.2h0m1.8-2.1h0m0.1-2h0m4.4-2.8h0m0.6 7.8h0m1.9-2.2h0m1.6 2h0m0.1-11.3h0m0.3 2.7h0m1.7-2.8h0m0.3-3.8h0m1.8-0.8h0m1.2-2.7h0m0.8-1.2h0m2.3 1.7h0m0.2 2.9h0m0.1 2h0m4.8-10.8h0m0.6-3.2h0m3.1 3.4h0m0.2 2.7h0m1.1-6.5h0m1.2-8.2h0m1.5 3.2h0m1.1-7.9h0m1 4.8h0m9.1-3.2h0m4-11.8h0m0.3 4.4h0m0.3-5.4h0m3.8-5.8h0m8.9 2.7h0m5.5-2.5h0m0.8-16.3h0m0 4.9h0m1.1 12.3h0m0.8-13.7h0m4.6 0h0m6.4-17.9h0m11.1-18.6h0m3.5 1.1h0m2.5 2.1h0m23.6-19.3h0m0.1-6.1h0" stroke="#e2b8b5" stroke-width="0.85" stroke-linecap="square" fill="none"/>
<path d="M179.3 289.8h0m8.1-22.5h0m0.7 14.5h0m1.3-3.7h0m4.4 2.2h0m7.3 1.9h0m0.7-19.1h0m16.4-15.4h0m2.2 5.2h0m5.2-15.3h0m2.6-2.1h0m0.7 1.3h0m3.4-8.3h0m17-25.6h0m46.9-31.2h0" stroke="#d3918d" stroke-width="0.85" stroke-linecap="square" fill="none"/>
<path d="M176.9 283.8h0m2-0.7h0m7.9-0.5h0m1.9 0.6h0m0.5-4.8h0m7.1-13.6h0m1-8.5h0m2.4 13.9h0m3.3-11.4h0m1.5-2.4h0m4.9 0.4h0m7.9-20.8h0m6.1 7.2h0m10.7-16.9h0m8.8-49.9h0m0.4-2.3h0m4.1 40.4h0m47.7-35.4h0" stroke="#859dc9" stroke-width="0.85" stroke-linecap="square" fill="none"/>
<path d="M177.3 287.3h0m0.1 0.6h0m0.1-3.9h0m0.1 2.8h0m0.3 0.9h0m0.1-6.6h0m0-1.3h0m0.2 3.2h0m0.1 6.1h0m0.5 0.3h0m0-0.2h0m0.2-2.4h0m0 0.9h0m0-1.2h0m0.1 0.6h0m0-2.9h0m0 2.5h0m0.2-2.8h0m0 5.3h0m0.1-6.2h0m0.1 1.4h0m0.1 2h0m0-1.6h0m0-11.7h0m0.2 13.8h0m0.1 2h0m0.1-2h0m0.1-7.8h0m0 9.6h0m0 0.4h0m0.1 0.2h0m0.1-10.7h0m0.2-7.7h0m0 12h0m0.1-5.8h0m0.3 9.2h0m0.1-4.3h0m0.2 0.2h0m0.1-16.4h0m0.1 18.8h0m0.1 1.2h0m0-11.5h0m0 10h0m0.1-4.7h0m0.2 1.6h0m0.1-0.9h0m0-1.7h0m0.1 6.7h0m0 0.4h0m0.1 0h0m0 0.9h0m0-2.9h0m0.1 2.1h0m0-4.1h0m0.1-1.5h0m0.1-8.5h0m0 15.1h0m0.1-1.2h0m0 1.4h0m0.1 0.8h0m0 1.7h0m0.2-8.4h0m0 2.2h0m0.1-1.6h0m0.1-5.1h0m0.1 5.6h0m0.1-1.3h0m0.3-1.1h0m0.1-1.5h0m0 3h0m0.1 0.2h0m0.1 1.5h0m0.1-11.1h0m0 11.6h0m0-0.3h0m0.1-0.4h0m0.1-9.5h0m0.1 6.8h0m0 4.3h0m0-2.4h0m0-2.8h0m0.1 0.7h0m0 2.3h0m0-5.2h0m0.5 5.5h0m0.2-0.6h0m0-2.3h0m0.2-1.3h0m0.1-3.8h0m0.1 2.5h0m0.1 4.7h0m0-0.1h0m0 0.5h0m0 0.9h0m0.2-2.6h0m0-0.7h0m0.1 6.9h0m0-9.7h0m0.1 3.3h0m0-2.9h0m0 2.5h0m0 0h0m0.1 0.1h0m0.1 0.6h0m0.2 3.3h0m0-4.4h0m0.1 4.1h0m0-4.1h0m0-7h0m0.1 6.8h0m0.1-2.1h0m0.1 1.9h0m0.1 3h0m0-0.3h0m0-11.9h0m0.1 10.4h0m0.1-0.9h0m0-0.7h0m0.1-0.2h0m0.1 1.6h0m0-4.4h0m0.1 1.5h0m0-3.7h0m0.2-3.5h0m0 4.7h0m0.1 11.1h0m0-12.7h0m0 5.4h0m0.1-11.4h0m0 9.3h0m0 4.5h0m0-2.8h0m0.1-0.6h0m0-6.5h0m0.1 13.9h0m0-7h0m0.1-5.1h0m0.2 2.9h0m0 0.3h0m0-3.1h0m0.1 4.9h0m0-1.8h0m0 7.9h0m0.1-10h0m0 3.1h0m0.1 0.6h0m0 2.9h0m0-7.2h0m0.1 5.3h0m0-12.5h0m0 12h0m0.1-2.6h0m0 13.9h0m0.1-13.4h0m0-1.3h0m0.1-3.6h0m0 1.6h0m0 5h0m0.1-1.3h0m0-1.6h0m0.1 12h0m0-11.1h0m0.1-3.3h0m0 3.8h0m0 0.5h0m0.2-9.9h0m0.2 10.8h0m0.1-2.1h0m0-1.2h0m0.1-15h0m0 18.3h0m0.1 5.9h0m0.1-9.8h0m0-1.2h0m0 13.4h0m0-18.4h0m0.1 10.6h0m0-0.6h0m0 4.6h0m0.1-14.2h0m0 8h0m0.1 0.6h0m0 0.2h0m0.1-3.2h0m0.1 5.8h0m0-4.5h0m0 5.1h0m0-6.7h0m0.1 9.3h0m0-10.5h0m0 4.1h0m0.1-2.4h0m0 0.9h0m0 2h0m0.2-8.2h0m0 6.3h0m0.1 0.5h0m0-9.6h0m0 12.7h0m0-2.2h0m0.1 1.9h0m0-4.3h0m0.1 8.1h0m0.1-10h0m0.1 2.1h0m0.1-3.1h0m0.1-4.5h0m0 8.5h0m0.1-4.3h0m0-4.6h0m0 8.1h0m0-0.3h0m0.3 8.7h0m0.1 6h0m0.1-13.6h0m0.1-0.5h0m0-2.4h0m0 1.5h0m0.1-0.4h0m0.1-11.8h0m0 10.1h0m0.1-4.1h0m0-6.7h0m0 17.5h0m0-9.3h0m0.1 6.4h0m0-0.9h0m0 3.2h0m0-8.5h0m0 6.5h0m0 1h0m0.1 1.8h0m0-5.9h0m0.1-0.8h0m0.1 8h0m0-11.3h0m0 6.1h0m0-4.2h0m0 4.1h0m0.1-0.2h0m0-1.2h0m0.1 1.4h0m0-7.5h0m0.1 4.8h0m0 2.6h0m0.1 1.2h0m0.1-1.6h0m0 1.2h0m0.1-6.1h0m0-14.6h0m0.1 18.5h0m0 0h0m0.3-0.1h0m0-0.6h0m0 1.3h0m0-14.1h0m0.1 8.2h0m0.1 12h0m0.1-4.4h0m0-15.2h0m0 12.6h0m0 1.4h0m0.1 3.1h0m0-5.8h0m0-2h0m0 3.9h0m0.1-1.6h0m0 5h0m0-2.6h0m0.1-1.1h0m0.1-9.7h0m0.1 10h0m0-5.9h0m0-2.8h0m0.1 5.8h0m0 3.7h0m0.1 0.5h0m0-8h0m0 1.9h0m0 1.7h0m0.1 1.4h0m0-1.3h0m0 1h0m0 4.7h0m0.1-3h0m0 4.1h0m0-6.3h0m0.1-1.1h0m0-0.3h0m0 7.1h0m0.1-10.9h0m0-1h0m0.1 4.1h0m0 0.4h0m0.1-0.3h0m0 2.7h0m0.2 0.5h0m0-17.9h0m0.1 16.7h0m0-0.1h0m0-1.2h0m0 1.7h0m0-4.3h0m0.1-5.9h0m0.1 16.9h0m0-5.6h0m0.1-3.7h0m0 4.7h0m0-8.1h0m0.1-1.5h0m0 5.2h0m0 2.6h0m0-3h0m0.4-2.4h0m0-2.3h0m0.1 8.1h0m0.1-8.6h0m0 8.6h0m0.1-1.7h0m0 0.6h0m0.1-3h0m0.1 16.9h0m0.1-14.4h0m0 11.4h0m0-7.9h0m0.1-4.3h0m0.2-0.3h0m0 0.7h0m0.1-5.7h0m0-3.1h0m0 7.3h0m0-13.7h0m0.1 18.5h0m0.1-2.8h0m0.1-4.2h0m0-1.7h0m0 4.5h0m0-9.2h0m0.1 9.2h0m0-6.4h0m0.1 15.3h0m0-24.4h0m0 14.5h0m0-6.5h0m0.1 17.2h0m0-8.4h0m0-2.9h0m0.1 0.6h0m0.1 2.4h0m0 5.2h0m0-9.4h0m0.2 6.9h0m0.1-4.5h0m0-6.8h0m0 4.5h0m0.2-3.8h0m0.1 5.7h0m0-1.6h0m0.2-9.8h0m0 12.6h0m0.1-2h0m0.1-1.3h0m0 3.2h0m0.1-1.1h0m0-2.7h0m0-3.8h0m0.1-3.7h0m0-5.3h0m0.1 13.3h0m0 2.1h0m0.1-1.4h0m0-7h0m0.1-1.1h0m0 9.3h0m0.1-5.7h0m0.1 5.5h0m0 9.9h0m0.1-8.5h0m0.2-5.3h0m0 16.6h0m0.1-19.4h0m0.1 1.8h0m0.1-5.4h0m0 9.2h0m0.1-0.6h0m0-4.9h0m0 7.3h0m0 6h0m0-12h0m0.2 3.8h0m0-5.1h0m0 5.4h0m0 6.4h0m0.1-9h0m0 3.7h0m0-9.9h0m0 21.5h0m0.1-15.8h0m0 9.3h0m0.1-27.9h0m0 18h0m0.1-3.1h0m0.1 4.8h0m0 6.4h0m0.2-3.3h0m0.1-0.6h0m0.1-1.3h0m0 11h0m0-20.2h0m0.1 22.4h0m0.1-17.7h0m0 5.9h0m0.2-0.2h0m0-5.4h0m0.1 10.5h0m0-6.5h0m0.2-3.1h0m0.1-0.6h0m0.1-1.2h0m0.1-1.7h0m0.1 3.3h0m0 2.9h0m0-4.9h0m0.1 3.3h0m0 0.2h0m0-7.5h0m0.1 3h0m0 6h0m0-14.8h0m0 16.3h0m0.1-16.9h0m0 12.5h0m0 3.1h0m0 2.9h0m0.1-8.6h0m0-0.4h0m0.1 1.8h0m0 2.9h0m0.2-6.1h0m0 5.6h0m0-2.2h0m0.1 5h0m0.1-6.9h0m0 11.2h0m0.1-9.1h0m0 0.1h0m0 10.8h0m0-10.2h0m0-0.8h0m0.1-4.5h0m0 5.4h0m0.1-4.3h0m0-0.7h0m0.1 3.4h0m0 3.7h0m0.2-7.5h0m0 4.1h0m0.1 11.1h0m0.1-15.4h0m0.1 4.2h0m0 4.6h0m0-4.9h0m0-1.7h0m0 7.5h0m0.1-5.7h0m0-3.7h0m0.1 10.5h0m0-4.1h0m0.1 10.3h0m0.2-25.3h0m0.1 7.8h0m0 3.7h0m0-1.4h0m0 0.7h0m0.1 5h0m0-6.9h0m0.2 5.5h0m0.1-1.6h0m0-0.8h0m0.2 1.7h0m0.1 3.1h0m0.1-4h0m0.1 7.6h0m0.2-11.4h0m0.1-4.9h0m0.1 2.7h0m0.3-4.9h0m0 8.4h0m0-1.9h0m0.1-5.4h0m0.1 15.7h0m0.3-11.9h0m0.1 11.8h0m0-9.8h0m0 1.9h0m0.2-3.5h0m0.2 5.9h0m0-5h0m0.1 6.2h0m0-10h0m0-4h0m0.2 8.4h0m0-6.6h0m0.2 8.2h0m0 3.5h0m0-18.9h0m0 13.4h0m0.1 0.5h0m0-3.1h0m0-1.6h0m0-0.6h0m0.1-1.6h0m0 7h0m0 5.4h0m0-6.8h0m0.3-7.3h0m0 8.3h0m0.2-3.4h0m0.2 0h0m0 21.9h0m0.1-19.2h0m0.4 9.8h0m0-10.5h0m0-0.8h0m0.1 7.5h0m0-6.8h0m0 1.6h0m0.1-12.1h0m0 11h0m0.2-8.7h0m0.1 11.4h0m0-3.7h0m0-5.6h0m0.1 8.4h0m0-4.1h0m0-7.5h0m0.1 1.6h0m0.1 7.9h0m0-2.1h0m0 0h0m0-2h0m0 6.3h0m0.1-5.9h0m0 5.6h0m0-6.2h0m0.1-5.5h0m0.1 10.3h0m0-2.2h0m0.1 0.5h0m0 1.5h0m0-0.2h0m0.3-2.8h0m0-1.8h0m0.2 8.2h0m0-7.8h0m0.1 2h0m0.3-2.3h0m0.2-2.3h0m0 7.8h0m0.1-10.7h0m0.1 3.5h0m0 0.4h0m0 11.1h0m0.1-8.6h0m0-2.3h0m0-2h0m0.3 2.8h0m0.4 0.6h0m0-4.5h0m0.2 7.7h0m0.2-4.5h0m0-0.4h0m0-2.7h0m0.2 5.9h0m0-3.4h0m0.1-0.5h0m0 1.4h0m0.1-0.8h0m0.3 2.4h0m0.1-3.3h0m0.1-2.4h0m0.3 5.2h0m0-3.3h0m0.1 8.7h0m0-4.4h0m0-2h0m0.1 1.4h0m0.1-3h0m0.1-0.2h0m0 1.4h0m0-2.3h0m0.2 4.9h0m0-6.3h0m0 9.7h0m0.1-5.1h0m0.1-1.9h0m0-1.4h0m0 0.6h0m0.2 5h0m0.2-0.3h0m0-5.8h0m0 4.6h0m0.1-9.3h0m0.2 10.4h0m0-5.8h0m0.1 2.5h0m0.1-0.5h0m0-1.7h0m0.2 3.5h0m0-8.3h0m0.1-1h0m0.1 12.5h0m0.1-1.1h0m0.2-8.9h0m0.1 5h0m0-1.9h0m0 5.9h0m0.1-6h0m0.2 3.3h0m0.1-13.9h0m0.1 10.9h0m0 2.7h0m0.5 1h0m0-5h0m0.1-4.4h0m0 2.3h0m0.1 6.6h0m0 2.4h0m0.1-7.5h0m0 1.9h0m0 0.1h0m0.1-2.2h0m0 0.8h0m0.2-7h0m0.3 19.1h0m0.1-12.6h0m0.2 3.6h0m0.1-9.1h0m0.1 9.9h0m0.2-3h0m0.1-1.8h0m0.2-7.8h0m0 5h0m0-1h0m0 8.5h0m0.1-6.7h0m0 1.7h0m0.1-9h0m0.1 7.2h0m0 0.6h0m0.1 1.8h0m0-0.5h0m0 3h0m0.2-1.1h0m0.1-0.9h0m0 2.2h0m0.1-7.1h0m0.1 0.6h0m0 4.3h0m0-14h0m0 7.1h0m0.1 3.4h0m0-0.2h0m0.1 4.1h0m0 0.2h0m0.1-3.4h0m0.1 1.8h0m0-4.9h0m0.1 4.3h0m0 4.2h0m0.2-5.1h0m0.2 2.9h0m0.2-6.7h0m0.2 6.5h0m0 3.1h0m0.2-1.7h0m0.5 9.7h0m0-14h0m0-0.7h0m0.2-1.1h0m0.2 4.7h0m0.6-2.9h0m0.1-2.4h0m0 3.5h0m0.4-3.5h0m0.6-4.6h0m0.1 1.1h0m0.1 6.5h0m0.1-1.7h0m0.2-6.8h0m0.3 0.8h0m0.1 8.2h0m0.1-5.5h0m0.3 0h0m0 7.1h0m0-4.3h0m0.1-2.2h0m0-7.9h0m0.1 9.8h0m0.5-13.1h0m0.1 8.5h0m0.1 3.1h0m0-1.4h0m0.1 0.9h0m0.1-3h0m0.1 5.2h0m0.1-10.5h0m0.3 2.3h0m0.1-3.9h0m0 7.5h0m0.4-3.2h0m0.2-0.5h0m0-9.7h0m0.2 2.3h0m0 11.5h0m0.1-1.3h0m0-2.7h0m0.4 8.6h0m0-4.4h0m0-2.7h0m0.2 4h0m0-0.9h0m0.3-4.8h0m0.1 13.5h0m0.2-18.1h0m0.1 5h0m0-1.8h0m0.1-8.9h0m0.7 10.4h0m0.1 12.4h0m0.1-10.4h0m0.3-5.1h0m0.8 16.3h0m0.6-20.5h0m0.3-2.7h0m0 2.2h0m0.1 9.6h0m0.3-1.9h0m0 3h0m0.2-2.8h0m0 4.4h0m0.3-5.5h0m0.3-19h0m0.1 17.2h0m0.2-10.9h0m0.2 8.3h0m0.1 10.4h0m0.1-6.7h0m0.2-4.2h0m0.4-0.2h0m0.1 6.7h0m0.1-6.7h0m0.1-14.1h0m0 8.8h0m0.1 8.5h0m0 0.5h0m0.3 1.4h0m0.1-2.1h0m1.2-24.9h0m0 25.2h0m0.3-5.8h0m0-3.9h0m0 9.9h0m0.1-3.6h0m0.3-3.6h0m0.2-10.1h0m0.1 10.3h0m0.2 4.5h0m0.1 17.8h0m0.2-18.1h0m0.4-13.5h0m0.1 9.9h0m0.1 1.1h0m0.1-10h0m0.1 3.3h0m0.3 4.2h0m0.2-0.4h0m0 3.7h0m0.2-0.4h0m0.1-1.6h0m0.7-13.4h0m0.4 24.4h0m0.2-11.6h0m0.7 1.4h0m0.3 0h0m0.3 7.1h0m0.6-6.9h0m0.6 0.9h0m0-17.7h0m0.6 12.5h0m0.4-2.1h0m0.2 0.3h0m0.1-19.7h0m0.1 15.9h0m1.1-4.7h0m0 12.7h0m0.3 5h0m0.6-10.8h0m0.8 1.1h0m0.1-6.5h0m0.5 1.4h0m0-4.1h0m1-2h0m0.9 5.3h0m0.1-4.4h0m0.1 13.1h0m0.5-21.9h0m0.1-0.4h0m0.4 7h0m0.6 6.8h0m0 6.5h0m0.2-14.5h0m0.1 8.8h0m0.1-2.3h0m0.3 5.1h0m0.7 0.6h0m0.1-4.9h0m0.6 10.8h0m0.1-16.9h0m0 4.9h0m0.8-3.8h0m1.2-3.3h0m0 0.6h0m0.6-1.5h0m0.3 5.5h0m0.4-1.2h0m0.3-4.3h0m0.8-2.9h0m0.8 7.4h0m0.2-17.4h0m0.7 7.2h0m0.1-2.6h0m0.3 10.5h0m0.1-12.6h0m1-13.1h0m1.3 22.7h0m0.2-5.9h0m0.5 0.9h0m0.3 8h0m0.3-22.3h0m3.1-2h0m0.3 8.1h0m1.1 7.4h0m0.4-13.1h0m0 16h0m0.1-11.8h0m1 3.1h0m0.1 4.7h0m0.7-2.8h0m0.5-9.5h0m0.2 38.6h0m1.9-37.4h0m0.3 4.3h0m0.1-2h0m0.2 22.9h0m0.9-31.5h0m0-4.8h0m0.5-5.6h0m0 28.5h0m0.7-11.4h0m0.4 5.8h0m0-7.3h0m0 1.5h0m1.9-19.3h0m1.3 16.2h0m0.1 4.1h0m0.6-1.8h0m0.3-2.1h0m0.7-1.3h0m0.4-3.1h0m2-0.5h0m4.2-7.8h0m0.5 0.5h0m3.3 1.7h0m0.5-1.1h0m0.5-2h0m0-1.7h0m1.7 3.3h0m1.1-1.8h0m1.7-8.2h0m0.6 8h0m0.7-5.3h0" stroke="#e5e5ec" stroke-width="0.85" stroke-linecap="square" fill="none"/>
<path d="M185.9 280.2h0m1.8 2.7h0m0.8-16.4h0m2.9 7.5h0" stroke="#cb7e7a" stroke-width="0.85" stroke-linecap="square" fill="none"/>
<path d="M177 273.9h0m0.6 15.3h0m0.3-1h0m0.1 1.4h0m0-15.1h0m0 13.8h0m0-0.4h0m0.1-3.3h0m0-0.7h0m0.2-0.8h0m0.1 1h0m0.4 4.6h0m0.1 0.3h0m0.6-15.4h0m0.3-3.4h0m0.1 10.4h0m0.1 7.1h0m0.5-6.2h0m0-1.9h0m0.1 7.4h0m0.3 2.1h0m0.3-6.2h0m0.1-3.9h0m0 3.1h0m0.2-1.5h0m0.1 8.4h0m0.1-2.4h0m0.1-1.1h0m0.2-4.2h0m0.2-0.5h0m0-5.2h0m0.1 6.9h0m0.1 5h0m0.3-1.7h0m0.1-8.2h0m0.1 8.5h0m0.2-7.6h0m0.1 4.1h0m0.2-6.3h0m0.1 7.1h0m0.2-0.8h0m0.1-2.9h0m0.2 3.4h0m0 0.7h0m0 4.6h0m0-4.4h0m0.1-11h0m0.1 9.7h0m0.1-3.6h0m0.1 1.9h0m0-5.9h0m0 2.2h0m0.1-8.3h0m0.3 7.1h0m0 3.3h0m0.1-13.7h0m0 15.6h0m0.2-2.4h0m0 4h0m0.3-7.2h0m0.4-3.1h0m0 2.5h0m0.1 1.2h0m0.1 5.3h0m0.1-13.2h0m0 11h0m0 0h0m0.3-1.2h0m0 3.7h0m0.1-5.5h0m0.2 6.1h0m0-10.5h0m0 6.7h0m0.1 1.1h0m0.1-2.3h0m0 1.5h0m0.1-3.2h0m0.1 2.5h0m0-3.9h0m0-2.6h0m0.1 13.8h0m0.1-4.5h0m0.1 4.1h0m0-12h0m0.1 7.6h0m0-6.5h0m0.1 5.1h0m0-7.5h0m0 10.7h0m0.1-16.6h0m0 12.6h0m0.2-0.1h0m0-2.2h0m0 0h0m0 4h0m0.1-12.5h0m0.3 18.8h0m0.2-8.4h0m0.1 4.3h0m0.1-4.3h0m0-11.2h0m0 9.2h0m0.2 1.2h0m0.1-1.6h0m0.1 7.8h0m0.1-1.8h0m0-2.6h0m0-2.4h0m0.1 2.3h0m0.2-3.2h0m0 10h0m0.1-8.7h0m0.3 2.3h0m0 0.2h0m0.1 1.9h0m0.1 1h0m0-16.7h0m0 14.3h0m0.1-0.5h0m0 9.1h0m0.1-21.6h0m0.1 2.6h0m0 4.9h0m0-15.7h0m0.1 12h0m0 7.4h0m0.1-3.5h0m0.1 2.3h0m0.1-3.1h0m0.1 2.5h0m0.1 2.6h0m0-6.4h0m0 0.3h0m0 6h0m0.2-7.1h0m0.1 4.4h0m0-9.3h0m0.1 3.8h0m0.3 5.4h0m0.2-8h0m0.1 0.5h0m0.5 8.5h0m0-9.5h0m0.1 0.4h0m0.1 2.8h0m0 2h0m0.3-5.2h0m0 5.7h0m0 1.2h0m0.1-6.3h0m0.3-4.8h0m0.2 6.3h0m0.1 5.5h0m0.2-7h0m0.1 20.2h0m0.1-19.7h0m0.3 11h0m0.1-6.8h0m0.2 1.2h0m0-0.2h0m0.1-17.2h0m0.1 10.3h0m0.3-2.1h0m0.1 4.8h0m0.1-1.2h0m0-3.6h0m0.1 5.4h0m0.2 2.4h0m0-6.2h0m0.1-0.5h0m0 7.1h0m0-9.5h0m0.1-6.9h0m0.1 11.3h0m0.1 3.7h0m0-2.3h0m0.3-8.8h0m0.1 17.6h0m0.1-12.5h0m0.1 5.7h0m0.1 6.6h0m0.1-13.6h0m0 1.8h0m0.2-3.9h0m0.1-8.3h0m0.1 11.3h0m0.1-2.8h0m0.1-9.5h0m0 1.3h0m0.1 9.6h0m0 0.2h0m0.2-3.6h0m0 8h0m0.1-1.9h0m0.3-13.6h0m0 12.5h0m0.1-0.4h0m0-13.8h0m0 17.9h0m0-2.4h0m0.2-2.9h0m0.3-3h0m0 1.5h0m0.1 3.3h0m0.2-1.1h0m0.1 5.7h0m0.1 0.9h0m0.2-5.4h0m0.1 3.9h0m0.5-5.7h0m0-7.6h0m0.2 6.3h0m0.2-2.8h0m0.1 6.2h0m0.1-4.3h0m0 3.2h0m0-4.7h0m0.2-11.8h0m0 15.8h0m0 0h0m0.1 2.2h0m0-5.7h0m0.1 2.3h0m0.2 3.6h0m0-3.5h0m0.1-4h0m0.1 3.4h0m0-0.8h0m0.2 0.9h0m0.1 5.2h0m0.3 0.3h0m0-5.9h0m0 7.2h0m0.1-17.2h0m0.1 13.7h0m0.1-0.4h0m0-4.1h0m0.1 14.9h0m0.1-15.9h0m0 3.6h0m0-5.8h0m0.1 1.9h0m0.1-3.8h0m0.1 4.6h0m0 2.4h0m0.1-2.1h0m0.1 3.5h0m0-14.5h0m0.1 12.5h0m0 3.9h0m0.1-5.3h0m0.1-1.1h0m0 2.3h0m0.2-0.7h0m0.2-5.7h0m0 5h0m0 12.2h0m0.4-9.2h0m0.1-7.2h0m0.2-3.5h0m0 6h0m0 2.4h0m0.1-1.3h0m0.2 0.7h0m0.2-2.5h0m0 0.7h0m0.1 10.3h0m0.1-1h0m0.1-20.1h0m0 11.7h0m0.1-0.7h0m0.1 2.2h0m0.1-6.5h0m0 10.4h0m0-9.7h0m0.1-0.8h0m0.3-10.7h0m0 25.3h0m0.1 0h0m0.2-10h0m0 0.7h0m0.1-3.4h0m0.2-2.1h0m0.1-4.6h0m0 5.7h0m0.1 7.1h0m0.2-8.8h0m0-1.5h0m0.3 3.3h0m0.1-3.7h0m0 1.3h0m0.1 3.9h0m0.1-1.9h0m0.1 4h0m0-7h0m0.2 6.2h0m0 3.7h0m0-4.3h0m0.1-3.7h0m0 4.9h0m0.1-7.8h0m0 2.7h0m0.2-2.5h0m0.2 7.7h0m0.1-6.2h0m0.2 5.9h0m0.3-11.2h0m0.1 3.9h0m0 5.2h0m0.5-6.3h0m0.3-1.8h0m0.2-7.8h0m0.1 6.8h0m0 0.6h0m0.2-8.6h0m0 20.6h0m0.1-11h0m0 8.3h0m0.1-13.4h0m0.6 3.7h0m0.1 6.2h0m0.2 1.2h0m0.3-7.4h0m0.1 7.3h0m0.3-2.5h0m0.2 12.3h0m0.5-15.8h0m0.1 3.4h0m0-2.5h0m0.2-4.6h0m0.1 2.9h0m0-8.3h0m0 9.4h0m0.1 2.5h0m0.1-13h0m0.1 13.3h0m0.5-8.7h0m0.3 0h0m0.2 10.4h0m0.3-3.5h0m0.3-3.8h0m0-4.2h0m0.1 5.1h0m0 2.3h0m0.3 7h0m0.2-18.9h0m0.4 5h0m0.1 4.2h0m0.1 11.6h0m0-14.6h0m0.2-3.2h0m0.3 4.5h0m0 2.3h0m0.1 5.6h0m0.2-4.5h0m0-0.4h0m0.3-0.6h0m0.2-2h0m0 2.8h0m0.8-4.6h0m0.7 3.1h0m0-2.6h0m0.3-6.5h0m0 1.6h0m0.2 6.9h0m0.2-4.7h0m0.3 1.6h0m0.5-2.6h0m0.3-0.1h0m0.3 5.4h0m0.7-7.6h0m0.1-5.1h0m0.1 12.5h0m0.2-6.7h0m0.4-5.1h0m0.9 9.1h0m0.2-6.8h0m0-3.8h0m0.1 11.7h0m0.2-14.8h0m0.1 7.3h0m0.6-0.8h0m0-5.5h0m0.3 9.4h0m0 3.5h0m0.2-15h0m0 20.2h0m0.3-20.5h0m0.9 2h0m0.1 11.4h0m0.4-8h0m0.3 1.5h0m0.2 6.5h0m0.1-7.2h0m0.4-5.2h0m0.1 4.6h0m0 4.3h0m0.2-14.4h0m0.2 19.1h0m0.3-9.2h0m0-2.2h0m0.1-6.3h0m0 19.8h0m0.2-6.3h0m0.8 10.4h0m0.3-14.5h0m0.1-4h0m0.1-4h0m0.1-2.1h0m0.8-0.4h0m0.2 2.6h0m0.3 5.8h0m0.1-2.2h0m0.2 1.3h0m1-5.4h0m0.3 18.8h0m0.4-16.1h0m0.3 4.6h0m0.1-1.7h0m0.4-3.9h0m0.5-2.7h0m0.1 5.1h0m0.4-2.1h0m0-13.2h0m0.3 16.6h0m0.3-14.5h0m0.2 10.6h0m0.1 2.9h0m0.1-6.2h0m0.6 6.9h0m0.4-0.6h0m0.1-17.6h0m1.5 10h0m0.3 5.8h0m0.5-10.6h0m0.1 5.6h0m0-10.3h0m0 14.6h0m0.2 0.9h0m0.4-5.9h0m0.6-8.8h0m0.5 9.5h0m0.2-1.6h0m0-1.8h0m0.6-1.8h0m0.4 14.3h0m1.1-13.3h0m1.6-7.2h0m0.5 7.8h0m0.4-0.7h0m0.3 3.2h0m0.5-20.2h0m1.6 13h0m1-3.8h0m0.2 5.2h0m0.2-25.1h0m1.6 18.6h0m1.9 10.6h0m0.5-21.3h0m0.3 7.5h0m0.8-1.4h0m1.4-1.4h0m0.2-6.9h0m1.2-1.9h0m0.7 9.3h0m0.8-3.7h0m1.7-16h0m0.2 6.2h0m0.1 15h0m0.5-4.9h0m0.8 5.4h0m0-11h0m0.4 20h0m0.6-34.7h0m0.3 11.6h0m1.4 3.8h0m0.2-8.4h0m0.4 3.1h0m4.7-5.7h0m1.5 4.9h0m0-1.2h0m0.6 0.4h0m3.7-8.7h0m0.6-4.7h0m0.4 33.5h0m1.5-14.8h0m0.1-15.4h0m2.7-4.2h0m3.1 3.8h0m4.7-9.2h0m0.9 5.9h0m0.7-4h0m0.8-13.8h0m1.1 9.4h0m0.9 0.6h0m0.6-0.9h0m5.2-10.5h0m2.6-2.2h0m1.2 1h0" stroke="#d1d6e6" stroke-width="0.85" stroke-linecap="square" fill="none"/>
<path d="M179.5 288.5h0m3.2 0.7h0m17.9-32.2h0m7.6-11.7h0m1.7 1.5h0m3.3 8.1h0m25.5-24.2h0m37-42.3h0" stroke="#c36c67" stroke-width="0.85" stroke-linecap="square" fill="none"/>
<path d="M185.2 281.2h0m1.2-1.2h0m6.8-15.2h0m3.1-0.3h0m0.3-1.6h0m4.2 3.1h0m4.3-8.4h0m0.1-3.2h0m1.3 8.3h0m0.2-17.7h0m9.1-0.3h0m5.5-4.4h0m1.7 23.2h0m0.2-13.4h0m20.2-75.4h0m3.3-4.6h0m0.8 7.4h0m0.4-2.7h0m55.3-7.1h0" stroke="#6484bc" stroke-width="0.85" stroke-linecap="square" fill="none"/>
<path d="M176.9 283.8h0m2-0.7h0m1.5 0.6h0m1.5-5.2h0m3.1 4.5h0m1.8-0.4h0m1.9 0.6h0m0.5-4.8h0m7.1-13.6h0m1-8.5h0m2.4 13.9h0m3.3-11.4h0m0 13h0m1.5-15.4h0m4.9 0.4h0m7.9-20.8h0m6.1 7.2h0m10.7-16.9h0m8.8-49.9h0m0.4-2.3h0m4.1 40.4h0m47.7-35.4h0" stroke="#859dc9" stroke-width="1.1" stroke-linecap="square" fill="none"/>
<path d="M178.5 286.2h0m6.7-5h0m0.4 2.6h0m0.8-3.8h0m6.8-15.2h0m3.1-0.3h0m0.3-1.6h0m4.2 3.1h0m4.3-8.4h0m0.1-3.2h0m1.3 8.3h0m0.2-17.7h0m9.1-0.3h0m5.5-4.4h0m1.7 23.2h0m0.2-13.4h0m20.2-75.4h0m3.3-4.6h0m0.8 7.4h0m0.4-2.7h0m55.3-7.1h0" stroke="#6484bc" stroke-width="1.1" stroke-linecap="square" fill="none"/>
<path d="M179.8 287h0m1-3.8h0m0.2-2.2h0m4.7 2h0m1.1-6h0m0.5 2.4h0m5 6.5h0m0.1-11.3h0m2-0.1h0m6.6-3.9h0m4.9-8.8h0m0.6-3.2h0m5.6-8.6h0m12.7-3.1h0m8.4-18.6h0m8.9 2.7h0m6.3-13.9h0m1.1 12.3h0m0.8-13.7h0m22.1-36.5h0m3.5 1.1h0m26.2-23.3h0" stroke="#e2b8b5" stroke-width="1.1" stroke-linecap="square" fill="none"/>
<path d="M177.9 288h0m2.6 1.1h0m7.2-8.2h0m8.1 5.2h0m5.5-15.7h0m8.2-16.1h0m8-0.1h0m5.8-6.1h0m23.7-78.8h0m0 4.9h0m2.7 3.6h0m2.5-3h0" stroke="#5578b6" stroke-width="1.1" stroke-linecap="square" fill="none"/>
<path d="M189.9 269.8h0m2 0.8h0m2.5-1.6h0m7.2-5h0m3.8-4.1h0m0.1 6.7h0m4.6-14.9h0m1.4 3.4h0m5.1-4h0m2.9-6.7h0m26.3-23.8h0m18.2-31.2h0" stroke="#bcc7df" stroke-width="1.1" stroke-linecap="square" fill="none"/>
<path d="M177.2 276h0m0.9 7.9h0m0.4 5.4h0m0.2-2.6h0m1.2 2.6h0m0.7-3.2h0m0.5 0.9h0m1.5-4.3h0m0.2 6.9h0m0.9-6.3h0m1-2.7h0m1.2-9.5h0m1.2-5.3h0m2.6 6.9h0m2.9-7.2h0m2.1 4.2h0m0.5-4.4h0m0.6 5.1h0m0.7 0h0m5.4-7.1h0m0.9-13.4h0m3.8 12.9h0m0.5-7.9h0m0.1-10.4h0m6.6 3.5h0m0.6-11.2h0m0.8 15.9h0m12.9-18.4h0m2.5-11.2h0m0.8 8.4h0m20.4-55.4h0m0.4-4.4h0m4 41.9h0m5-11.9h0m18.9-4.7h0m3.3-30.6h0m20.4 22.2h0" stroke="#96aad0" stroke-width="1.1" stroke-linecap="square" fill="none"/>
<path d="M179.5 288.5h0m3.2 0.7h0m17.9-32.2h0m7.6-11.7h0m1.7 1.5h0m3.3 8.1h0m25.5-24.2h0m37-42.3h0" stroke="#c36c67" stroke-width="1.1" stroke-linecap="square" fill="none"/>
<path d="M179 285.1h0m20.6-23.1h0m2.1 7.6h0m1.8-14.6h0m2.4 8.2h0m0-7h0m5.4-2.2h0m4.7 2.6h0m19.5-32.7h0m4.3-6.5h0m0.1 12.1h0m7.6-58.2h0m32.1 12.4h0" stroke="#7490c2" stroke-width="1.1" stroke-linecap="square" fill="none"/>
<path d="M176.8 276.4h0m1.1 3.8h0m0.3 6.6h0m0.3-3.6h0m0.2-8.5h0m0.2 13.1h0m0.7-7.1h0m0.1 5.5h0m0-3.9h0m0.9-1h0m0.7-5.4h0m0.9 5.5h0m0.4-3.1h0m0.1 5.3h0m0.8-7.9h0m0.1 8.9h0m0.1-5.6h0m0.5-2.5h0m0.3-3.9h0m0 1h0m0.1 8.6h0m0.1 4.2h0m0.1-6h0m1.1-2.2h0m0.1-10.6h0m0.2 9h0m0.1-2.7h0m0.2 2h0m0.1 4.9h0m0.2-9.3h0m0.2 4.7h0m0.4-0.2h0m1.8-5h0m0.3 10.3h0m0.4 2.8h0m0.3-17h0m0.5 3.1h0m0.1 4.4h0m0-0.5h0m0.6-1.8h0m0.4 4.3h0m0.1-2.5h0m0.4-1.5h0m1.9 4.6h0m0.2-0.3h0m0.2-7.1h0m0.9-5.1h0m0.3-2.2h0m0.6 8.5h0m0.2 2.8h0m0.2-5.6h0m0.2-1.4h0m0.4 3.1h0m0.6-2h0m0.3-9.1h0m0.1 9.2h0m0.3-7.9h0m0 4.4h0m0.4-6.2h0m1 12.5h0m0.2-22.7h0m1.5 18.4h0m0.3-6.4h0m0.2 4.6h0m0.7-3.9h0m0-5.7h0m2 3.9h0m2.7 4.9h0m1-15.2h0m1.1 1.1h0m0.2-11.6h0m0.3 15.6h0m2.4-4.5h0m0.3-1.6h0m1.1-5.8h0m0.4-0.9h0m1.2-1.7h0m0.5 11.6h0m0.4-15.1h0m3.8 11.3h0m0.1-2.5h0m0.3-9.6h0m0.5 11.2h0m1.1-3.3h0m0.9-7.5h0m0.5 6.8h0m0.7 0.8h0m1.2-0.2h0m2.8-5.1h0m3.3-7.8h0m4-13.2h0m2.4 18.7h0m14.6-37.1h0m1.1 1.2h0m1.7 6.7h0m1.3-2.7h0" stroke="#a7b7d7" stroke-width="1.1" stroke-linecap="square" fill="none"/>
<path d="M177 281.9h0m5 3.6h0m1.1-6.2h0m0.4 1.7h0m3.6 8.7h0m0.9-5h0m3.1-9h0m0.9 3.2h0m0.5-6.5h0m0.4 4.1h0m0-5.5h0m1.4-1.6h0m1.8 0.8h0m3.2 5.2h0m3.9-7.4h0m2.7-6.8h0m3.5-4.5h0m1.3 3.5h0m1.2-3.2h0m3.9-8h0m12.4 3.6h0m2.1-16h0m8.4-11.9h0m0.8-6.6h0m2.4 8.9h0m14.3-9.2h0" stroke="#dba4a0" stroke-width="1.1" stroke-linecap="square" fill="none"/>
<path d="M246.1 169.4h0" stroke="#466cb0" stroke-width="1.1" stroke-linecap="square" fill="none"/>
<path d="M180.8 289.1h0m5.1-8.9h0m1.8 2.7h0m0.8-16.4h0m2.9 7.5h0m3.4-6.4h0" stroke="#cb7e7a" stroke-width="1.1" stroke-linecap="square" fill="none"/>
<path d="M179.3 289.8h0m6.1-7h0m2-15.5h0m0.7 14.5h0m1.3-3.7h0m2.5-1.7h0m1.9 3.9h0m7.3 1.9h0m0.7-19.1h0m16.4-15.4h0m2.2 5.2h0m5.2-15.3h0m2.6-2.1h0m0.7 1.3h0m3.4-8.3h0m17-25.6h0m46.9-31.2h0" stroke="#d3918d" stroke-width="1.1" stroke-linecap="square" fill="none"/>
<path d="M175.00 291.00L311.00 152.57" stroke="#b4242a" stroke-width="1.1"/>
<path d="M175.00 290.30L311.00 151.50" stroke="#1a1a1a" stroke-width="0.8"/>
</g>
<rect x="175" y="151.5" width="136" height="138.8" fill="none" stroke="#858585" stroke-width="1"/>
<text x="306.4" y="283.9" font-size="10.5" text-anchor="end" textLength="42.7" lengthAdjust="spacingAndGlyphs" fill="#262626">WTX (e)</text>
<g clip-path="url(#c21)">
<rect x="315" y="151.5" width="136" height="138.8" fill="#fff"/>
<path d="M349.00 151.50V290.30M315.00 255.60H451.00M383.00 151.50V290.30M315.00 220.90H451.00M417.00 151.50V290.30M315.00 186.20H451.00" stroke="#dcdcdc" stroke-width="0.6" fill="none"/>
<path d="M331.6 272.4h0m4.9-1.1h0m7.7-11.5h0m27.5-25.7h0m9-7h0m38.4-40h0" stroke="#7490c2" stroke-width="0.85" stroke-linecap="square" fill="none"/>
<path d="M318 286.7h0m0.7 2.2h0m1-9.5h0m0.3 1.9h0m0.6-0.6h0m0.2 6.2h0m0-14.4h0m1.5 13.2h0m0.6-4.5h0m0-0.6h0m0.3 1.9h0m0.5-2.7h0m0 7.9h0m1.1-3.2h0m0.1-4.2h0m0.1-1.1h0m0 5.5h0m0.3-2h0m0.1 2h0m0.1-3.1h0m0.2 1.3h0m0.1-1.7h0m0.1-1.1h0m0.5 2.5h0m0.5-7.7h0m0.2-2.7h0m0.2 11.4h0m0.1-2.7h0m0.2 1.9h0m0.2-5.9h0m0.1 2.3h0m0.1 0.7h0m0.4 1.1h0m0.7 3.2h0m0.2-8.2h0m0.3-2.6h0m0 5.7h0m0.1-0.4h0m0.7 4h0m0.3-11.1h0m0.2 6h0m0.7-2.2h0m0.7 1.6h0m0.1 2.6h0m0-0.9h0m0.6-4.3h0m0.6 1.3h0m0.8 7.6h0m0-15.3h0m0-0.4h0m0.1-1.9h0m0 11.7h0m0-6.5h0m0.1-0.3h0m0.1-5.2h0m0.3 6h0m0.1 3.2h0m0.1-27.6h0m0 23h0m0.3 3h0m0.1-6.4h0m0-0.3h0m0.2 2.9h0m0 14.4h0m0.3-14h0m0-0.8h0m0 1h0m0.1-1.3h0m0.2 2.8h0m0 2h0m0.5-3.6h0m0 7.9h0m0.2-6.4h0m0.1-2.7h0m0 3.3h0m0.6-12.7h0m0.1 5.5h0m0.1-0.3h0m0.4 2.6h0m0.1 4.7h0m0.1-5.2h0m0.2-3.1h0m0.1 2.5h0m0 1.4h0m0.4-3.1h0m0-0.8h0m0.5 10.1h0m0-9.2h0m0.1-0.3h0m0.4-12.8h0m0.1 23.9h0m0-7.4h0m0.1-2.1h0m0.1-12.3h0m1.1 9.9h0m0.2 2.9h0m0.2 4.4h0m0-7.5h0m0 1.2h0m0.1 3.9h0m0.3-2.9h0m0.1-5h0m0.1 3.9h0m0 4.9h0m0.3-10.8h0m0.4 7.7h0m0.1-5.9h0m0 0.5h0m0.1 2.6h0m0 2.1h0m0.1-5.1h0m0.2 5.2h0m0.2-1.9h0m0.2-9.8h0m0.1 12.5h0m0.2-12.2h0m0.3 10.3h0m0.1 7h0m0-6.1h0m0-41.6h0m0.1 34.8h0m0.5-6.3h0m0.3 19.3h0m0.1-14.4h0m0.1 1.9h0m0.2-2.8h0m0.5 3.5h0m0.3-2.4h0m0.5 0.5h0m0.2 11.1h0m1.3-12.5h0m0-0.5h0m0.2-22.3h0m0 24.2h0m0.2-0.8h0m0.1 5.8h0m0.2-9.5h0m0.2-4.5h0m0.1 14.7h0m0.2-9.7h0m0.3 4.4h0m0.3-4h0m0.1-1.6h0m0.2 6.7h0m0.2-6.9h0m0.1 2.3h0m0.1 1.3h0m0 2h0m0.2-0.3h0m0.2 9h0m1.5-15.6h0m0.2 3h0m0.7 0.2h0m0.1-1.9h0m0.1-0.5h0m0.2-11.2h0m0 18.7h0m0.2-6.7h0m0.2-4.1h0m0.3-2.5h0m0.2 6.1h0m0.1 2.8h0m0-2.7h0m0.4 1.7h0m0.1-5.2h0m1-2.9h0m0.1 6.5h0m0.3-2.7h0m0.3-1.6h0m0.3 6.1h0m0.6-6.4h0m0.1-1.9h0m0.5-2.4h0m0 4.5h0m0.3-0.2h0m0.4-5.1h0m0.2 5.8h0m1.2-5.8h0m0.8-1.9h0m0.9-2.1h0m0.8-1.2h0m1.2-0.8h0m0.3-4.7h0m0.1 12h0m0.2-4.4h0m0.7-0.5h0m0.3-0.4h0m0.3 0.5h0m0.2 7h0m0.1-8.1h0m0-1.9h0m0.8 4.8h0m0.3-7.5h0m0 4.9h0m0.4-4.6h0m0.2 4.1h0m0.9-2.5h0m0.3-0.7h0m1.1-3h0m0.5 0.7h0m0.3 1h0m0.5-5.3h0m0.5 2.2h0m0.3 1.3h0m0.3-0.6h0m0-1.7h0m0.9-0.5h0m0.6-0.2h0m1.3 1.8h0m0.8-5h0m1.1 2.5h0m0.4-4h0m1.5 3.4h0m0.8-1h0m0.8-1.2h0m0.9-1.1h0m0.7-4.9h0m1 3.5h0m0-3.3h0m1.8-0.5h0m1.1-0.6h0m0 1.6h0m1.1 4h0m0-7.9h0m1.3 2.2h0m0.2-2.7h0m1.1-1.1h0m0.9-0.3h0m0-1.6h0m0.3-3.7h0m0.2 7.1h0m0.9-3.9h0m0.2 1.6h0m0.8-2.3h0m1.2 2.6h0m0.1 0.9h0m0.1-3.7h0m2.3-10.1h0m0.1 19.3h0m0.5-13.7h0m0.1 0.3h0m0.1-0.1h0m0.5 4.4h0m1.3-8h0m5.5-4.8h0m0.9 6.7h0m2.1-9.4h0m1.1-0.5h0m1.3-1h0m0.6 3.2h0m0.5-1.9h0m0-1.1h0m1.2-1.8h0m1-1.6h0m2.5-4.6h0m0.2 10.6h0m2-9.7h0m1.1-8.1h0m0.1 8.3h0m0.7 11.2h0m1.3-21.3h0m3.2 0.4h0m0.5-1.7h0m1.3 2.8h0m4.6-6.2h0m0.7-3.2h0m6.2-0.9h0m0.1-1.4h0m0.9 0.1h0m0.7-4h0m0.3 3h0m0.4-6.2h0m3 3.1h0m3-6.4h0" stroke="#f1e0de" stroke-width="0.85" stroke-linecap="square" fill="none"/>
<path d="M317.1 288.2h0m0.5-1.1h0m0.8-1.8h0m1.2-13h0m0.7 13.5h0m0.2-0.8h0m0.7-1.1h0m0.1-1.6h0m0.1-2.7h0m0.2 6.4h0m0.1-5.3h0m0.2 0.3h0m1.2 4.2h0m0.2-1.4h0m0.2-3.4h0m0.2-2.7h0m0.1 1.5h0m0.2 0.8h0m0.3-4.6h0m0.1-2.3h0m0.5 5.9h0m0.3-3.7h0m0 2.3h0m0.1-3.3h0m0.5 4.5h0m0-1h0m0.2 1.4h0m0.2 0.5h0m0.2-0.4h0m0.2-5.8h0m0 6.8h0m0.9-2.2h0m0.1 0.2h0m0.1 0.4h0m0.2-12.8h0m0-18.7h0m0.1 32.1h0m0.2-2.3h0m0.5-1.9h0m0.2 4.2h0m0.2-5.3h0m0.3-3h0m0 9.6h0m0.1-6.7h0m0-5.7h0m0.2 4.6h0m0.3-1.9h0m0.3 5h0m0-5h0m0.3 0h0m0.3 6.1h0m0.1-4.9h0m0.7 4h0m0.1-9.3h0m0 5.2h0m0.2 4h0m0.5-1h0m0.7-2.1h0m0.6-5.9h0m0.3 5.4h0m0-6.1h0m0.5 3h0m0.1-2.6h0m0.3 9.1h0m0.4-6.3h0m0.1 0.7h0m0.1-8h0m0.2 4.4h0m0.2 3.6h0m0.2-4.7h0m0.2 0.5h0m0.5 4.8h0m0.4 1.3h0m0.1-14.2h0m0.1 8.1h0m0-0.3h0m0.6-2.2h0m0.1-1.5h0m0.3 3.3h0m0.1-5.2h0m0.2 9.8h0m0.2-7h0m0.4 18.2h0m0.5-23.1h0m0.7-1.4h0m0.5-0.9h0m0.2 7.2h0m0-2h0m0.2 2.6h0m0 3.3h0m0.3-4.1h0m0-13h0m0.1 14.1h0m0.1 3h0m0.2-17.3h0m0.2 6.7h0m0-6h0m0.1 5.5h0m0 7.2h0m0.1 4.1h0m0.3-9.5h0m0.1 9.7h0m0.1-8.1h0m0.3 9.2h0m0-11.5h0m0.2 1.7h0m0.1 3h0m0.2-1.7h0m0 3.6h0m0.1-10.4h0m0.1 2.7h0m0.7 6.6h0m0.1-1.4h0m0.2-3.8h0m0.1 1h0m0.2-0.5h0m0.3 3.8h0m0.1-0.2h0m0.4-0.5h0m0.1 0.1h0m0.3-3.6h0m0.1-0.6h0m0.1 0.8h0m0.1 2.9h0m0.2 1.9h0m0.5-11.1h0m0.1 4.8h0m0.3 4.2h0m0.2-3.6h0m0.2-18.9h0m0.1 15.9h0m0-5.5h0m0.2 21.2h0m0.3-13.5h0m0.6 2.6h0m0-1.4h0m0.2-2h0m0.1 1.3h0m0.1 1.2h0m0.1-3.4h0m0.5-10.7h0m0.5 9.8h0m0.3-2.7h0m0 1.2h0m0.5 12.4h0m0.1-10.5h0m0.3-2h0m0.3 2.1h0m0.4 4.8h0m0.1-6.5h0m0 2.7h0m0-14.1h0m1.2 9.4h0m0.1 0.5h0m0.2-6.1h0m0.2 4.7h0m0.4-1.2h0m1.5-1.2h0m0.6-6.6h0m0.1 9h0m0.6 2.1h0m0.3-2.6h0m1.6-2.5h0m0.2-8.1h0m0.2 9h0m0.5-5.9h0m0.4 6h0m0.5 1.1h0m0.4-5.8h0m0.8 3.7h0m0.1-2.1h0m0.2-20.5h0m0.1 29.5h0m0.1-7.5h0m0.5-7.7h0m0.1 7h0m0.5-3.5h0m0.1-3.1h0m0.8 5.9h0m0.1-8.9h0m0.1-8.7h0m0.2 12.7h0m0.1-1.7h0m0.5 0.4h0m0.6-2.3h0m0.7 3.4h0m0.1-1h0m2.5-5.8h0m0.3-1.3h0m0.2 6.4h0m0.4-1.9h0m0.4-1.4h0m0.8-5.8h0m0.4-2.9h0m0.1 7.1h0m0.8 1.5h0m1.1-5.8h0m0.6 9.3h0m0.8-7h0m1.2-5h0m0 0h0m1.3-1.4h0m0.2-0.9h0m0.8 1.2h0m1.3-0.5h0m0.7 1.3h0m0.3-4.6h0m0 3.9h0m1.7-5.7h0m0.8 3.4h0m0.5-4.4h0m0.7 1.4h0m0.1 4.7h0m0.1-3.4h0m2.1-10.4h0m2.3 3.1h0m0.5 2h0m1.2-2.9h0m0.4 1h0m0.2 3.6h0m0.2-3.6h0m0.6-0.2h0m0 2.2h0m1.4 1.2h0m0.3-3.2h0m0.2-5.1h0m2.2-4h0m1.7-6.6h0m0.7 1.7h0m2.4 5.2h0m3.3-2.4h0m0.6-3h0m1.2-0.8h0m1.8 0h0m0.5-2h0m1.3 1.9h0m1.2-17.1h0m0.3 10.4h0m1.4-3.5h0m0.1 5.8h0m3.1-4.4h0m0-2.9h0m2.5 0h0m1.1-2.4h0m3.1-5.3h0m0.5 1.4h0m0.5-2.1h0m1.2 2.5h0m0.9-2.5h0m1.1-0.9h0m2.3-6.8h0m0.8 6.8h0m0-3.6h0m2.4-0.1h0m1.1-4.6h0m0.9 1.5h0m0.4 4.3h0m0.1-1.5h0m1.8-3.4h0m4.1-7h0m1 1.1h0m1.8-1.7h0m1-2.9h0" stroke="#d1d6e6" stroke-width="0.85" stroke-linecap="square" fill="none"/>
<path d="M328.1 268.3h0m13-4.2h0m2-5.9h0m11.2-9.2h0m23.6-22.9h0m6.3-7.3h0" stroke="#cb7e7a" stroke-width="0.85" stroke-linecap="square" fill="none"/>
<path d="M318.1 288.7h0m0.6-3.1h0m0.3-3.3h0m1.4-3.4h0m0.7 7.2h0m1.7-5.9h0m0.7 4.2h0m0.5-2.7h0m0.4 2.6h0m0 0.5h0m0.5 0.4h0m0.1-5.7h0m0.9 1.7h0m0.4 6.9h0m0.1-8.5h0m0.1 3h0m1.3-3.4h0m0.3 0.2h0m0.2-4.8h0m0.4 5h0m0.3 0.4h0m0.2-8.9h0m0.4 2.6h0m0.3 5h0m0.3 0.4h0m0.4-7.6h0m0.1 1.1h0m0.5 1.2h0m0.2 1h0m0.3 3.1h0m0.2-3.4h0m1.5 0.4h0m0.1-4.5h0m1.3-2h0m0.1-0.4h0m0.2 20h0m0.4-14.8h0m0.5 4.5h0m0.1-12.4h0m0.2 11.8h0m0.7-7.6h0m0.4-2.3h0m0.4 9.8h0m0.1-4.5h0m0.7-2.7h0m0.1-3.2h0m0.4-0.9h0m0.6 2.7h0m0.3 0.9h0m0.6-8.3h0m0.5 5.6h0m0.7 6.4h0m0-8h0m0.3 4.7h0m0.6 1.2h0m2-2.7h0m1.2-5.3h0m3.7-8h0m1.3 4.2h0m0.6-2.6h0m0 1.1h0m0.3-2.8h0m0.1-0.8h0m0.4-5.2h0m0.4 7.3h0m0.3-11.8h0m0.1 9.5h0m1.2 0.8h0m0.9-6.4h0m0.5 5h0m0.1-6.4h0m1.8-3.4h0m0.2 4h0m0.4-2.4h0m0.7 1.5h0m1.7-4.5h0m0.1 3.3h0m0.3 0.5h0m1.3-1.8h0m2.2-1.8h0m1.4 4h0m0.3-7.9h0m1.1-2h0m0.1 1.4h0m1.5 1.2h0m1.2-1.8h0m0.6 6.5h0m6.5-16h0m0.3-2.9h0m1 4.6h0m4.9-2.5h0m0.1-2.5h0m0.6-4.7h0m0 1.7h0m1 2.3h0m0.5-4.1h0m1.8-0.4h0m1.3 4.2h0m6.5-13.6h0m0.4 4.9h0m0.5-5.5h0m0.2 0.7h0m0.4-2h0m3 6.1h0m0.4-10.9h0m4-10.4h0m1.7 12.7h0m6.7-22.5h0m2.9 6.6h0m4.6-3.4h0m2.4-0.7h0m2.8-17.1h0m2.1 10.6h0m1.7 0.7h0m1.4-6.5h0m0.5 0.6h0m1.1-5.7h0m2.9 11.4h0m0.3-5.9h0m0.6-1.5h0m2.8-5.5h0m1.7 4.8h0m2.2-4.6h0m0.1-6.2h0m0.5 2.7h0m3.1 0h0m0.2-3h0m1-2.3h0" stroke="#eacdc9" stroke-width="0.85" stroke-linecap="square" fill="none"/>
<path d="M320.3 287.8h0m13.1-16.8h0m10.3-3.9h0m9-16.3h0m19.7-17h0m48.6-50.2h0" stroke="#6484bc" stroke-width="0.85" stroke-linecap="square" fill="none"/>
<path d="M323.9 280.9h0m6.9-8.4h0m24.6-22.9h0m32.5-34.6h0m17.9-24h0m39-31.6h0" stroke="#c36c67" stroke-width="0.85" stroke-linecap="square" fill="none"/>
<path d="M316.7 286.3h0m0.3 3.1h0m0.2-2h0m0.3-1.5h0m0.5-6.7h0m0 2.8h0m0.7-2.6h0m0 5.7h0m0.4 1.9h0m0.3 2.1h0m0-1h0m0.1-0.2h0m0.1-4.8h0m0 2.9h0m0.2-16.7h0m0 14.9h0m0-12.5h0m0.3 11.7h0m0.2-4.7h0m0.1 1.7h0m0.7-9.2h0m0.4 7.5h0m0.7 3.1h0m0.1 3h0m0.1 4.2h0m0.4-7.6h0m0.1 1.5h0m0.2-0.1h0m0.1 0.8h0m0.2-0.3h0m0.1 3.2h0m0-1.9h0m0.2-2.4h0m0.2 6.3h0m0.5-7.1h0m0.6-7.7h0m0.3 4.2h0m0 2.4h0m0-1h0m0.1-3.1h0m0.1 7.9h0m0.3-5h0m0.3 0.5h0m0.1-17.6h0m0 15.4h0m0.3 2.6h0m0.2 6h0m0-12h0m0.1 0.9h0m0 2.1h0m0.1 2.6h0m0.3-3.6h0m0.2 0.2h0m0.2-0.1h0m0.1 0.8h0m0.3 2.3h0m0 1.4h0m0.7-4.6h0m0.1-2.3h0m0 5.5h0m0.3-5.7h0m0.1 5.4h0m0.1-4.2h0m0.2-15.1h0m0.2 13.3h0m0-0.8h0m0.2 0.6h0m0.1 5h0m0.1-0.4h0m0 8.1h0m0.1-10.3h0m0-5.2h0m0.3 1.4h0m0.3 5.3h0m0.2-15.3h0m0.1 10.1h0m0.1 0.3h0m0 4.4h0m0.1-0.9h0m0 2.1h0m0.4-3.6h0m0.6 1h0m0.3-0.7h0m0.2 2.6h0m0.1-5.7h0m0-6.6h0m0 9.3h0m0.5-5.3h0m0 6h0m0.1-2.5h0m0.1-2.6h0m0 5.1h0m0.1-4.4h0m0-2.9h0m0 6.4h0m0.1-5.2h0m0.1 2.2h0m0.2 2.6h0m0.2-4.4h0m0.1 1.9h0m0.1-2.6h0m0 15.8h0m0.2-11.5h0m0.1-2.9h0m0.3 2.2h0m0-0.4h0m0.2-10.5h0m0.1 14.2h0m0.1-8.3h0m0.2 7.9h0m0.1-15.1h0m0 3.8h0m0.1 10.2h0m0-4h0m0.1-2.1h0m0.1 4h0m0.1-5.6h0m0 6.5h0m0.2-3.3h0m0.1 2.3h0m0.2-2.3h0m0-0.6h0m0.1 4.4h0m0 1.9h0m0.1-2.6h0m0-4.3h0m0 1.6h0m0.3 3.8h0m0.1-6.6h0m0.1-8.8h0m0.1 9.3h0m0.1-1.5h0m0.2 16.7h0m0-18.4h0m0.2 3.5h0m0.1-1.1h0m0 5.9h0m0-5.6h0m0.2 1.3h0m0.1 0.1h0m0.2 0.2h0m0.1-2.3h0m0.1-0.6h0m0-4h0m0 2.4h0m0-0.1h0m0.2 3.3h0m0 1.3h0m0.2-0.3h0m0-3.9h0m0-2.1h0m0.1 2.4h0m0 2.9h0m0.1 1.2h0m0.4-2.2h0m0 0.5h0m0.1-3.9h0m0.2-1.5h0m0.4 4.6h0m0.1 3.1h0m0.1-4.6h0m0.1 2h0m0.1-7.5h0m0 8.8h0m0.2-8.4h0m0.3 0.9h0m0 2.5h0m0.2 1.9h0m0-4.8h0m0.1 1.8h0m0.1 12.9h0m0.4-7.6h0m0.1-3.8h0m0-3.9h0m0 1.7h0m0.1 2.6h0m0.2 6.4h0m0.1-5.7h0m0.1 3.2h0m0.1-4.2h0m0-4.8h0m0.1 6.3h0m0.1-0.3h0m0.2 2.4h0m0.1-15.7h0m0 5.2h0m0.1 2.2h0m0.2 5h0m0-8.7h0m0.1 4h0m0 3.5h0m0.1-3.5h0m0-2h0m0 1.3h0m0.2 1.9h0m0.2 2.7h0m0-2.2h0m0.1-4.1h0m0 5.9h0m0.2-2.3h0m0.2 5.2h0m0.1-2.9h0m0-2.2h0m0.2-0.4h0m0.1 4.5h0m0.1-5.3h0m0.4-0.4h0m0-1.8h0m0-9.3h0m0.3 11.2h0m0.3-2.2h0m0.5-2h0m0 1.9h0m0-0.5h0m0 5h0m0.1-1.3h0m0-0.1h0m0.3 4.4h0m0.1-8.3h0m0.1-0.2h0m0 2.9h0m0.3-3h0m0.1-0.6h0m0-0.7h0m0.1 6.6h0m0.3-0.2h0m0.1-7h0m0.1 0.6h0m0.2 7.2h0m0.5-3.1h0m0.1 10h0m0.1-13h0m0.1-8.9h0m0.1 8.1h0m0.3 2h0m0.1 2.1h0m0-1.4h0m0.3-5.9h0m0.2 3.5h0m0.4 0.6h0m0.4-7h0m0.3 5.4h0m0-5.2h0m0.3 12.9h0m0-7.5h0m0.2-4.4h0m0.1-15.8h0m0.5 28.6h0m0.2-10.1h0m0 0.1h0m0.2-3.7h0m0.1 5.4h0m0-2.4h0m0.1 2.7h0m0.2-5.7h0m0 3.7h0m0.7-11.2h0m0.7 5.6h0m0.2 1.1h0m0.1 1h0m0.3-10.1h0m0 15.4h0m0.5-2.9h0m0.1-7.3h0m0.2 7.1h0m0.1 2h0m0-3.6h0m0.1 2h0m0-5.9h0m0 4.2h0m0.4-1.5h0m0 1.9h0m0.4-0.4h0m0.1-9.7h0m0.2 9.9h0m0 0.5h0m0.1 2.4h0m0.1-7.3h0m0.4 4.2h0m0.2-3.2h0m0-4h0m0.2 3.6h0m0.2 2.7h0m0.3-0.1h0m0.1-2.4h0m0-4.1h0m0 9.9h0m0.8-7.8h0m0.1 4.3h0m0.6-3h0m0-1.1h0m0.1-4.9h0m0.2 4.4h0m0 0.4h0m0.4-1.6h0m0.3 0.7h0m0.1-3.8h0m0.2 1.6h0m0 0.9h0m0.2 1.4h0m0.1-0.5h0m0.2-3.2h0m0 4.1h0m0.1 4.6h0m0-6.3h0m0.3-1.5h0m0.2 5.9h0m0-7.7h0m0.1-0.1h0m0 3.6h0m0.2-3.2h0m0.2 2.9h0m0.7 0.1h0m0.5-2h0m0.1-6.4h0m0.1 5.8h0m0.7 6h0m0.1-12.9h0m0.1-7.6h0m0.1 14.6h0m0.1-2.8h0m0.3-1.1h0m0.2 2.2h0m0.1 1.3h0m0.2-0.5h0m0.1 0.7h0m0.1 0.5h0m0.1-2.1h0m0.2-1.5h0m0.1 4.7h0m0.2-1.4h0m0.1-2.5h0m0.7-4.9h0m0.2 7.3h0m0.5-1.5h0m0.5-5.8h0m0.1 3.5h0m0 1h0m0.4-3.8h0m0.1 3.4h0m0-2.9h0m0.7 0.7h0m0.5 2.4h0m0.1 0.3h0m0.4-6.4h0m0.3 1.7h0m0.1 1.5h0m0.7-2.7h0m0.5 0.4h0m0 1h0m0-0.6h0m0.3-1.2h0m0.2 2.9h0m0.2 0.9h0m0.6-1.7h0m1 1h0m0.6-6.9h0m0.1 4.7h0m0.4-6.4h0m0.1 4.9h0m0.2-4.1h0m0.5 4.2h0m0.6-6.5h0m0.8 2.2h0m0.1 3.9h0m0.4-4.8h0m2.1-2.8h0m1.2-6.2h0m0.2 5.5h0m0.1-2.7h0m0.4 1.7h0m0.7-3.9h0m0.1 0.9h0m0 7.8h0m0.1-2h0m0.5-6.1h0m0.7 3.2h0m0.2 0.7h0m1.3-1.6h0m1.5 7.8h0m1.1-9.6h0m0.1-0.1h0m1.2-0.3h0m0.2-0.6h0m1.5 4.4h0m0.2-8.3h0m0.1-2.9h0m1 3.8h0m0.4 1.4h0m0.5-1.8h0m0.2-10.6h0m0.8 6.6h0m0.4-2.2h0m1.1 0.3h0m0.8 1.1h0m1.4 1.5h0m0.3-4.4h0m0.9-4.9h0m1 1.9h0m1.1-1.4h0m1 2.2h0m0.2-2.6h0m3.8-7.5h0m0.3 10.2h0m2.2-13.7h0m0.9 0.5h0m0.2 10.8h0m1.1-7.8h0m0.5-2.8h0m1.6-1.6h0m0.1 1.5h0m0.6-1.7h0m0.6-3h0m0.7 0.9h0m0.6 3.6h0m2.2-4.9h0m1-2.1h0m0.7 1.4h0m0.8-4h0m2.1-5.8h0m1.1 4.5h0m0.3 1.2h0m0.6-2.1h0m4-3.5h0m1.7-3h0m2.3-2.3h0m0.6 0h0m0.3 1.9h0m2.4-6h0m1-2.1h0m0.2 5.5h0m2.3-7.5h0m0.7 6.5h0m0.1-3.2h0m0.1-0.8h0m0.3-7h0m1.8 5.5h0m0.8 2h0m0-2.6h0m0.3-5.6h0m0.3 1.7h0m0.3 2h0m0.7-3.2h0m1.4 0.4h0" stroke="#e5e5ec" stroke-width="0.85" stroke-linecap="square" fill="none"/>
<path d="M316.8 289.5h0m0.1-2.9h0m0.3 0.5h0m2.6-1.7h0m0.9 2h0m0.1-1.7h0m0.3-3.5h0m0.5 7.6h0m0.3-6.1h0m0.1-8.3h0m0 1h0m0.1 7.9h0m0.1-4.5h0m0.2 2.7h0m0.4 2h0m0.1-0.3h0m0.1-16.1h0m0.4 16.3h0m0.8-13.1h0m0.2 17h0m0.2-10.7h0m0.1 5.9h0m0.3 4.4h0m0.2-4.1h0m0.1-0.9h0m0 1.4h0m0.3-6.1h0m0.1 2.4h0m0.1 8.1h0m0.1-7.6h0m0.2-2.1h0m0.2 0.5h0m0.2-0.4h0m0-2.6h0m0.3 2.5h0m0.4-2.6h0m0.1 2.9h0m0 1.1h0m0.1-1.1h0m0-2.8h0m0.1 2.1h0m0.2 2.6h0m0.1-1.7h0m0.5 0.2h0m0.1-6.1h0m0.1 4.6h0m0.2-1.9h0m0.1 1.9h0m0.1-4h0m0-1h0m0.1 11.4h0m0-8.6h0m0.1-1.2h0m0.2-0.2h0m0-4h0m0.4 1.4h0m0.1 0.3h0m0.1 4.7h0m0-0.7h0m0.2 0.2h0m0 4.3h0m0.1-6.7h0m0 4.9h0m0.2 0.8h0m0.1-0.4h0m0.1-13.2h0m0.3-0.3h0m0 7.4h0m0.3 1.2h0m0.1-0.9h0m0-1.1h0m0.4 7.5h0m0.3-6.4h0m0 2.8h0m0.7-7.4h0m0 7.9h0m0-6.4h0m0.8 6.7h0m0.1-1.1h0m0.2-7.9h0m0 3.7h0m0-2.7h0m0.2 0.8h0m0.1 1.8h0m0-0.6h0m0.3-0.8h0m0.4-2.5h0m0 7.5h0m0.3-4.4h0m0.1 3.3h0m0.1-6.2h0m0.1 4.1h0m0.2-3.3h0m0 5.5h0m0.6-0.8h0m0.2 1.6h0m0 2h0m0.3-7.2h0m0.3-1h0m0 0.9h0m0.6 3.1h0m0.2-3.7h0m0.2 4.5h0m0.3-10.9h0m0 0.8h0m0.4 5.5h0m0-4.4h0m0.2 3.3h0m0 2.5h0m0.2-8.4h0m0.2 5.2h0m0.1-5.8h0m0.4 11.9h0m0.3-7.9h0m0.1 2.9h0m0.1-1.5h0m0.1-4.5h0m0.1 6.4h0m0.1-2.5h0m0.1 2.1h0m0.1 2.6h0m0-4.6h0m0.6-2.2h0m0-8.4h0m0.1 8.2h0m0 4.9h0m0.1-2.8h0m0.1-9.2h0m0 14.5h0m0.2-7.7h0m0 8.4h0m0.2-15.3h0m0.1 6.7h0m0-5.1h0m0.1 3.7h0m0 2.8h0m0.1-2.4h0m0.2-10.6h0m0 14.3h0m0.3 2h0m0-4.2h0m0.1 0.1h0m0.1-0.7h0m0.1 7.2h0m0.2-14.1h0m0.1 6.1h0m0 1.6h0m0.1-5.3h0m0.5 6.3h0m0-2.7h0m0.1-0.4h0m0.1-0.6h0m0.2-0.6h0m0.1 1.2h0m0.1 1.5h0m0.2-17.3h0m0 18.4h0m0.1-1.6h0m0.1 0.2h0m0.1-6.5h0m0.1 13.6h0m0.1-14.6h0m0.1 8.3h0m0.4-0.7h0m0-11.7h0m0 4.8h0m0-4h0m0.1 15.5h0m0.2-10.1h0m0-5.8h0m0.4 5.3h0m0.1 7.1h0m0.1 3h0m0.1-9.5h0m0.5-1.8h0m0.1-0.3h0m0.1 2.8h0m0.3 6.6h0m0-7.4h0m0.1 6h0m0.9-7.7h0m0.5-2.1h0m0.2 0.6h0m0.2-1.4h0m0.6 6.3h0m0.8-4.7h0m0.1-3.9h0m0-10.8h0m0.2 5.9h0m0.1 3.6h0m0 6.4h0m0.5-12.4h0m0 4.9h0m0.1 1.4h0m0.3 4.8h0m0.2 5.6h0m0-8.9h0m0.1-0.6h0m0.1 23.8h0m0-21.2h0m0.8-3.3h0m0.1-4h0m0.2 5.2h0m0.2-0.4h0m1.2-6.9h0m0.1 8.3h0m0-4.1h0m0.3-1.4h0m0.1-0.7h0m0.2 4.6h0m0 1.2h0m0.4-3.5h0m0.8-3.2h0m0 7.5h0m0.1-4.1h0m0.2-1.3h0m0-0.4h0m0.2 0h0m0.3-1h0m0.4 2.3h0m0.4-0.5h0m0.1-4.3h0m0.5-1.2h0m0.1 7.6h0m0.1 5h0m0.3-10.7h0m0.7 10.2h0m0.2-10.4h0m0.1 1.9h0m0.2 0.5h0m1.1-4.2h0m0.3 1.4h0m0-4.1h0m0.1 2.1h0m0.2-1.6h0m0.3-1.6h0m0.3-3.8h0m0.1 10.3h0m0.7-5.7h0m1.5 8h0m0.4-0.3h0m0.3-8.6h0m1-2.4h0m0 5.8h0m0.2-1.5h0m0.4-0.5h0m0.2-4.4h0m0.9-1.5h0m0.5 3.3h0m0.1 2h0m0.6-4.2h0m0.3 3.1h0m2-0.3h0m0.2-12.1h0m0.6 6.9h0m0.2 3.8h0m1.1-4h0m0.3-3.8h0m0.4 4.3h0m0-1.1h0m0.7-0.9h0m0.3 0h0m0.3-0.4h0m2.1-0.3h0m1-5.1h0m0.1-5.4h0m0.5 3.6h0m0.1 0.7h0m0.4 1.2h0m0.2 2.1h0m0.6-0.2h0m0.3-6.1h0m0.2 5.9h0m0.2-5.8h0m0.1 3.2h0m1.1-4.2h0m0.5 0h0m0.4-2.7h0m0.1 2.4h0m0.1 2.5h0m0-0.3h0m0.5-0.2h0m0.4-2.3h0m0.2 4.6h0m0.2-3.9h0m0.4-2.7h0m0 3h0m0.4-1.7h0m0.8-7.5h0m0.2-3.4h0m0.1 10.8h0m0.3-7.9h0m1.1 2.4h0m0.9 1.4h0m0.1-4.6h0m0.2 3.2h0m0.3 11.2h0m0.8-5.2h0m0.4-4.8h0m0.2-1.5h0m0.5-0.7h0m0.2-1.2h0m0.6 3.2h0m0.6-2.7h0m1.1 0.1h0m1.7-3.1h0m0.8 0.6h0m0.5-4.2h0m0.1 4.9h0m0.6-1h0m0.3-0.4h0m0.5-7.9h0m0.3 3.6h0m0.2 1.1h0m0.4-4.7h0m0.4-1.7h0m0.7 4.3h0m0.7-2.6h0m0.3 4h0m0.1-2.3h0m0.1-0.1h0m1.4 1.7h0m1.4-3h0m1.4-1h0m0.6-2.7h0m0.3-0.3h0m1.6-2.7h0m1.1 3.9h0m1-3.1h0m0.3 2.1h0m0.4-4.5h0m1.9-6h0m1.4 8.6h0m0.2 1.2h0m2-7.1h0m1.1 0.3h0m0 1.3h0m0.6-4.6h0m1.5-8.2h0m3.4-0.2h0m0.4-0.6h0m0 1.8h0m0.2 0.1h0m0.5 2.2h0m1.6 0h0m1.6-5.9h0m0 6h0m2.5-9.1h0m1.8 2.8h0m2.2-9.8h0m1.1 9.2h0m1.1-8.7h0m0.5 6.5h0m1.3-5h0m1.5-3.1h0m1.5-1.1h0m0.5 1.6h0m1.2-1.1h0m0.6-1.6h0m1.9-3.4h0m0.3-5.1h0m1.3 4.1h0m0 0.5h0" stroke="#f8f3f2" stroke-width="0.85" stroke-linecap="square" fill="none"/>
<path d="M319.4 284.7h0m2.8-2.9h0m6.7-2.3h0m12.2-20.9h0m0.3 2.4h0m0.4 0.9h0m2.8-0.1h0m0.1 8.1h0m0.4-10.9h0m3.1 7.1h0m2.5-11.7h0m1.7 1.3h0m3.6-6.6h0m1.6 3.4h0m3-11.7h0m1.3 4.3h0m1-3.9h0m7.8-3.3h0m4.9-10.4h0m2-2.5h0m0.2 0h0m1.5 0.5h0m1.6 2.2h0m1.2-1.3h0m0.6-7.4h0m4.2-4.8h0m0.8 1.8h0m35.7-36.4h0m16-9.5h0" stroke="#e2b8b5" stroke-width="0.85" stroke-linecap="square" fill="none"/>
<path d="M335.8 269.5h0m1.5-5.1h0m1.9 11.1h0m23.1-34.2h0m4.1 0.6h0m11.9-15.5h0m7.8-5.4h0m6.4-8h0m13.6-15.4h0m0 2.8h0" stroke="#dba4a0" stroke-width="0.85" stroke-linecap="square" fill="none"/>
<path d="M323.6 284.4h0m11.7-14.5h0m3.7 2.5h0m7.6-13.2h0m2.9-0.9h0m3.9-7.2h0m36.4-33.5h0m16.1-15.6h0" stroke="#d3918d" stroke-width="0.85" stroke-linecap="square" fill="none"/>
<path d="M350.6 251.1h0m51.6-48.8h0m12.6-9.8h0m19.8-23.5h0" stroke="#5578b6" stroke-width="0.85" stroke-linecap="square" fill="none"/>
<path d="M344.4 258.4h0m14.5-10.6h0m1.8-2.1h0m5.1-10.5h0m0.8 6.4h0m4.3-4.7h0m5.7-10.8h0m35-33.6h0" stroke="#96aad0" stroke-width="0.85" stroke-linecap="square" fill="none"/>
<path d="M319.3 286.1h0m3.1-5.7h0m1.5 7.7h0m4.2-22.4h0m0-0.7h0m0.7 9h0m2 2.1h0m0.1-3.7h0m1-2.7h0m0.2 12.8h0m2.4-11.5h0m1.1-7.9h0m0.2 6.4h0m1.9-5.5h0m0.4 5.6h0m2.2-10.1h0m0 5.1h0m2.3-19.2h0m1.3 4.1h0m4.2-4.8h0m1.7 7.3h0m3.6-2.4h0m0.6-0.9h0m0.6 3.2h0m0.7 2h0m11.7-17.3h0m20.5-19.5h0m5.7-6.5h0m7.3-8.6h0m2.3 1.1h0m10-9.7h0m0.2-3.1h0m20.2-22.6h0m10.5-9.8h0" stroke="#a7b7d7" stroke-width="0.85" stroke-linecap="square" fill="none"/>
<path d="M320.7 281.3h0m0.5-2.3h0m0.3 3.1h0m0.6 3.6h0m1.3-14.1h0m0.6 8.3h0m0.1 1.7h0m0.4 2.6h0m0.2-8.5h0m1.9-5.9h0m0.6 8.2h0m0.4-1.8h0m0-4.3h0m1.1 3.8h0m0.8-10.4h0m1.2 2.8h0m0.5 9.6h0m0.6-8.8h0m0 3.7h0m1-1h0m0.3 2.4h0m0.4-2.8h0m0.6 0.4h0m0.6 3.2h0m0-5.7h0m0.1-6.2h0m0 3.7h0m0.6 3.9h0m0.4-2.1h0m1.3-3.7h0m0.3-26h0m0.2 28.5h0m0.9-5.7h0m0.4 1.1h0m0.4 2.2h0m0.2-1.1h0m0.2-0.2h0m0.7-1.6h0m0.3 4.4h0m0-2.6h0m0.7 0.3h0m0-1.9h0m0.2 3.6h0m0.4-8.1h0m1.2 4.4h0m1-2.7h0m1.2-0.6h0m0.6 0h0m0.1-0.9h0m0 8.3h0m2.4-12.9h0m0.8-3.2h0m2.4 1.4h0m0.2 0.6h0m0.7-9.1h0m0.6-2.5h0m0.6 4.8h0m0.2 5.8h0m6.2-16.4h0m2.2 7h0m0 0.2h0m0.7 0.4h0m0.2-3.7h0m0.7-2h0m1.4-12.6h0m0.4 16.5h0m1.9-3.4h0m0.1-0.6h0m0.8 1.6h0m0.5 0h0m0.5-14.2h0m0.9 7.4h0m1.6 2.1h0m0.1-0.8h0m1-2.3h0m1.3-4.1h0m1.6 1.9h0m0.1-7.8h0m1.3 6.7h0m0.6 1.3h0m1.1-3.9h0m2-1h0m1.1-11h0m1 2.4h0m0.8 4.8h0m2.8-0.4h0m10.9-13.2h0m3-1.6h0m6.8-5.7h0m2.7-3.5h0m5.2-7.6h0m2.6-3.6h0m0.6 2.5h0m11.1-11.5h0m8.5-10.5h0m9.1-5.1h0" stroke="#bcc7df" stroke-width="0.85" stroke-linecap="square" fill="none"/>
<path d="M328.5 276.4h0m25.7-28.2h0m14.7-10.2h0m1-8.1h0m24.6-18.8h0m25.9-29.4h0m7.4-7.2h0" stroke="#859dc9" stroke-width="0.85" stroke-linecap="square" fill="none"/>
<path d="M318.5 284.6h0m7.2 1h0m18.7-27.2h0m14.5-10.6h0m1.8-2.1h0m5.1-10.5h0m0.8 6.4h0m4.3-4.7h0m5.7-10.8h0m35-33.6h0" stroke="#96aad0" stroke-width="1.1" stroke-linecap="square" fill="none"/>
<path d="M322.3 282.4h0m1.6-1.5h0m6.9-8.4h0m24.6-22.9h0m32.5-34.6h0m17.9-24h0m39-31.6h0" stroke="#c36c67" stroke-width="1.1" stroke-linecap="square" fill="none"/>
<path d="M320.3 287.8h0m13.1-16.8h0m3.7-6.1h0m6.6 2.2h0m9-16.3h0m19.7-17h0m48.6-50.2h0" stroke="#6484bc" stroke-width="1.1" stroke-linecap="square" fill="none"/>
<path d="M321.5 282.1h0m5.8-3.8h0m0.3-6.4h0m3.1-4.5h0m0 0.7h0m4.7 2.4h0m27.7-28.3h0" stroke="#bcc7df" stroke-width="1.1" stroke-linecap="square" fill="none"/>
<path d="M325 284.1h0m1-5.2h0m1.3 5.2h0m8.5-14.6h0m1.5-5.1h0m1.9 11.1h0m23.1-34.2h0m4.1 0.6h0m11.9-15.5h0m7.8-5.4h0m6.4-8h0m13.6-15.4h0m0 2.8h0" stroke="#dba4a0" stroke-width="1.1" stroke-linecap="square" fill="none"/>
<path d="M328.5 276.4h0m25.7-28.2h0m14.7-10.2h0m1-8.1h0m24.6-18.8h0m25.9-29.4h0m7.4-7.2h0" stroke="#859dc9" stroke-width="1.1" stroke-linecap="square" fill="none"/>
<path d="M322.4 283.7h0m1.2 0.7h0m11.7-14.5h0m3.7 2.5h0m7.6-13.2h0m2.9-0.9h0m3.9-7.2h0m36.4-33.5h0m16.1-15.6h0" stroke="#d3918d" stroke-width="1.1" stroke-linecap="square" fill="none"/>
<path d="M317.3 283.3h0m2 2.8h0m2.2-5.4h0m0.9-0.3h0m0.8 5h0m0.7 2.7h0m4.1-27.6h0m0.1 5.2h0m0-0.7h0m0.3 12.6h0m0.4-3.6h0m2 2.1h0m0.1-3.7h0m0.1-0.1h0m0.9-2.6h0m0.2 12.8h0m1.2-5.4h0m0.5-16.2h0m0.7 10.1h0m1.1-7.9h0m0.2 6.4h0m1.9-5.5h0m0.4 5.6h0m2.2-10.1h0m0 5.1h0m2.3-19.2h0m1.3 4.1h0m4.2-4.8h0m1.7 7.3h0m3.6-2.4h0m0.6-0.9h0m0.6 3.2h0m0.7 2h0m11.7-17.3h0m20.5-19.5h0m5.7-6.5h0m7.3-8.6h0m2.3 1.1h0m10-9.7h0m0.2-3.1h0m20.2-22.6h0m10.5-9.8h0" stroke="#a7b7d7" stroke-width="1.1" stroke-linecap="square" fill="none"/>
<path d="M335.8 278h0m14.8-26.9h0m51.6-48.8h0m12.6-9.8h0m19.8-23.5h0" stroke="#5578b6" stroke-width="1.1" stroke-linecap="square" fill="none"/>
<path d="M328.1 268.3h0m7.8 1.5h0m1.5 1h0m3.7-6.7h0m2-5.9h0m11.2-9.2h0m23.6-22.9h0m6.3-7.3h0" stroke="#cb7e7a" stroke-width="1.1" stroke-linecap="square" fill="none"/>
<path d="M321.2 286.9h0m10.4-14.5h0m4.9-1.1h0m7.7-11.5h0m27.5-25.7h0m9-7h0m38.4-40h0" stroke="#7490c2" stroke-width="1.1" stroke-linecap="square" fill="none"/>
<path d="M322.2 281.8h0m3.3-2.9h0m15.6-20.3h0m0.7 3.3h0m10.6-6.2h0m3.6-6.6h0m14.7-11.2h0m12-18.9h0m40.7-39.4h0m16-9.5h0" stroke="#e2b8b5" stroke-width="1.1" stroke-linecap="square" fill="none"/>
<path d="M315.00 290.20L451.00 153.95" stroke="#b4242a" stroke-width="1.1"/>
<path d="M315.00 290.30L451.00 151.50" stroke="#1a1a1a" stroke-width="0.8"/>
</g>
<rect x="315" y="151.5" width="136" height="138.8" fill="none" stroke="#858585" stroke-width="1"/>
<text x="446.4" y="283.9" font-size="10.5" text-anchor="end" textLength="95" lengthAdjust="spacingAndGlyphs" fill="#262626">StreamLine XR+ (f)</text>
<text x="31" y="293.7" font-size="10" text-anchor="end">0</text>
<text x="31" y="259.0" font-size="10" text-anchor="end">10</text>
<text x="31" y="224.3" font-size="10" text-anchor="end">20</text>
<text x="31" y="189.6" font-size="10" text-anchor="end">30</text>
<text transform="translate(13.2 220.9) rotate(-90)" font-size="10.3" text-anchor="middle" textLength="73" lengthAdjust="spacingAndGlyphs">Lidar ff in m s<tspan dy="-3.6" font-size="7">−1</tspan></text>
<g clip-path="url(#c02)">
<rect x="35" y="294.3" width="136" height="138.8" fill="#000"/>
<path d="M36.7 417.5h1.75v1.79h-1.75zM38.4 419.2h1.75v1.79h-1.75zM38.4 417.5h1.75v1.79h-1.75zM40.1 410.5h1.75v1.79h-1.75zM41.8 408.8h1.75v1.79h-1.75zM43.5 412.3h1.75v1.79h-1.75zM45.2 412.3h1.75v1.79h-1.75zM45.2 403.6h1.75v1.79h-1.75zM46.9 427.9h1.75v1.79h-1.75zM46.9 410.5h1.75v1.79h-1.75zM46.9 408.8h1.75v1.79h-1.75zM46.9 407.1h1.75v1.79h-1.75zM48.6 429.6h1.75v1.79h-1.75zM48.6 427.9h1.75v1.79h-1.75zM48.6 407.1h1.75v1.79h-1.75zM50.3 427.9h1.75v1.79h-1.75zM50.3 405.3h1.75v1.79h-1.75zM50.3 401.9h1.75v1.79h-1.75zM52.0 427.9h1.75v1.79h-1.75zM52.0 407.1h1.75v1.79h-1.75zM52.0 405.3h1.75v1.79h-1.75zM53.7 429.6h1.75v1.79h-1.75zM53.7 426.2h1.75v1.79h-1.75zM53.7 421.0h1.75v1.79h-1.75zM53.7 403.6h1.75v1.79h-1.75zM53.7 401.9h1.75v1.79h-1.75zM55.4 421.0h1.75v1.79h-1.75zM55.4 401.9h1.75v1.79h-1.75zM57.1 419.2h1.75v1.79h-1.75zM57.1 417.5h1.75v1.79h-1.75zM57.1 398.4h1.75v1.79h-1.75zM58.8 424.4h1.75v1.79h-1.75zM60.5 394.9h1.75v1.79h-1.75zM62.2 422.7h1.75v1.79h-1.75zM62.2 421.0h1.75v1.79h-1.75zM62.2 414.0h1.75v1.79h-1.75zM62.2 393.2h1.75v1.79h-1.75zM62.2 389.7h1.75v1.79h-1.75zM63.9 410.5h1.75v1.79h-1.75zM63.9 391.5h1.75v1.79h-1.75zM63.9 388.0h1.75v1.79h-1.75zM65.6 405.3h1.75v1.79h-1.75zM65.6 391.5h1.75v1.79h-1.75zM65.6 388.0h1.75v1.79h-1.75zM65.6 386.3h1.75v1.79h-1.75zM67.3 391.5h1.75v1.79h-1.75zM67.3 389.7h1.75v1.79h-1.75zM67.3 388.0h1.75v1.79h-1.75zM67.3 384.5h1.75v1.79h-1.75zM69.0 407.1h1.75v1.79h-1.75zM69.0 384.5h1.75v1.79h-1.75zM70.7 388.0h1.75v1.79h-1.75zM72.4 410.5h1.75v1.79h-1.75zM72.4 386.3h1.75v1.79h-1.75zM74.1 398.4h1.75v1.79h-1.75zM74.1 382.8h1.75v1.79h-1.75zM75.8 401.9h1.75v1.79h-1.75zM77.5 398.4h1.75v1.79h-1.75zM77.5 396.7h1.75v1.79h-1.75zM77.5 381.1h1.75v1.79h-1.75zM77.5 379.3h1.75v1.79h-1.75zM77.5 375.8h1.75v1.79h-1.75zM79.2 394.9h1.75v1.79h-1.75zM79.2 377.6h1.75v1.79h-1.75zM80.9 396.7h1.75v1.79h-1.75zM82.6 394.9h1.75v1.79h-1.75zM82.6 375.8h1.75v1.79h-1.75zM84.3 391.5h1.75v1.79h-1.75zM84.3 389.7h1.75v1.79h-1.75zM84.3 377.6h1.75v1.79h-1.75zM86.0 388.0h1.75v1.79h-1.75zM86.0 386.3h1.75v1.79h-1.75zM86.0 384.5h1.75v1.79h-1.75zM86.0 370.6h1.75v1.79h-1.75zM87.7 388.0h1.75v1.79h-1.75zM87.7 386.3h1.75v1.79h-1.75zM87.7 370.6h1.75v1.79h-1.75zM89.4 388.0h1.75v1.79h-1.75zM89.4 384.5h1.75v1.79h-1.75zM89.4 370.6h1.75v1.79h-1.75zM89.4 367.2h1.75v1.79h-1.75zM91.1 388.0h1.75v1.79h-1.75zM91.1 384.5h1.75v1.79h-1.75zM91.1 382.8h1.75v1.79h-1.75zM91.1 367.2h1.75v1.79h-1.75zM92.8 381.1h1.75v1.79h-1.75zM92.8 367.2h1.75v1.79h-1.75zM94.5 381.1h1.75v1.79h-1.75zM94.5 377.6h1.75v1.79h-1.75zM94.5 375.8h1.75v1.79h-1.75zM94.5 363.7h1.75v1.79h-1.75zM94.5 362.0h1.75v1.79h-1.75zM96.2 374.1h1.75v1.79h-1.75zM96.2 363.7h1.75v1.79h-1.75zM96.2 360.2h1.75v1.79h-1.75zM96.2 356.8h1.75v1.79h-1.75zM97.9 374.1h1.75v1.79h-1.75zM97.9 370.6h1.75v1.79h-1.75zM97.9 362.0h1.75v1.79h-1.75zM97.9 355.0h1.75v1.79h-1.75zM99.6 374.1h1.75v1.79h-1.75zM99.6 362.0h1.75v1.79h-1.75zM99.6 360.2h1.75v1.79h-1.75zM101.3 370.6h1.75v1.79h-1.75zM101.3 368.9h1.75v1.79h-1.75zM101.3 360.2h1.75v1.79h-1.75zM101.3 358.5h1.75v1.79h-1.75zM103.0 374.1h1.75v1.79h-1.75zM103.0 370.6h1.75v1.79h-1.75zM104.7 367.2h1.75v1.79h-1.75zM104.7 365.4h1.75v1.79h-1.75zM104.7 351.6h1.75v1.79h-1.75zM106.4 363.7h1.75v1.79h-1.75zM106.4 355.0h1.75v1.79h-1.75zM106.4 353.3h1.75v1.79h-1.75zM108.1 346.4h1.75v1.79h-1.75zM109.8 368.9h1.75v1.79h-1.75zM109.8 362.0h1.75v1.79h-1.75zM109.8 360.2h1.75v1.79h-1.75zM109.8 349.8h1.75v1.79h-1.75zM111.5 360.2h1.75v1.79h-1.75zM111.5 348.1h1.75v1.79h-1.75zM113.2 346.4h1.75v1.79h-1.75zM114.9 346.4h1.75v1.79h-1.75zM114.9 344.6h1.75v1.79h-1.75zM114.9 341.1h1.75v1.79h-1.75zM116.6 358.5h1.75v1.79h-1.75zM116.6 356.8h1.75v1.79h-1.75zM116.6 355.0h1.75v1.79h-1.75zM116.6 348.1h1.75v1.79h-1.75zM118.3 353.3h1.75v1.79h-1.75zM118.3 344.6h1.75v1.79h-1.75zM118.3 342.9h1.75v1.79h-1.75zM120.0 348.1h1.75v1.79h-1.75zM120.0 346.4h1.75v1.79h-1.75zM120.0 342.9h1.75v1.79h-1.75zM121.7 353.3h1.75v1.79h-1.75zM121.7 349.8h1.75v1.79h-1.75zM121.7 339.4h1.75v1.79h-1.75zM123.4 348.1h1.75v1.79h-1.75zM123.4 342.9h1.75v1.79h-1.75zM123.4 339.4h1.75v1.79h-1.75zM123.4 337.7h1.75v1.79h-1.75zM125.1 346.4h1.75v1.79h-1.75zM125.1 342.9h1.75v1.79h-1.75zM125.1 341.1h1.75v1.79h-1.75zM125.1 339.4h1.75v1.79h-1.75zM125.1 337.7h1.75v1.79h-1.75zM126.8 342.9h1.75v1.79h-1.75zM126.8 334.2h1.75v1.79h-1.75zM128.5 335.9h1.75v1.79h-1.75zM130.2 339.4h1.75v1.79h-1.75zM130.2 337.7h1.75v1.79h-1.75zM130.2 332.5h1.75v1.79h-1.75zM130.2 329.0h1.75v1.79h-1.75zM131.9 335.9h1.75v1.79h-1.75zM131.9 329.0h1.75v1.79h-1.75zM131.9 327.3h1.75v1.79h-1.75zM133.6 329.0h1.75v1.79h-1.75zM133.6 327.3h1.75v1.79h-1.75zM133.6 325.5h1.75v1.79h-1.75zM135.3 335.9h1.75v1.79h-1.75zM135.3 327.3h1.75v1.79h-1.75zM137.0 322.1h1.75v1.79h-1.75zM138.7 330.7h1.75v1.79h-1.75zM138.7 329.0h1.75v1.79h-1.75zM138.7 325.5h1.75v1.79h-1.75zM138.7 323.8h1.75v1.79h-1.75zM140.4 329.0h1.75v1.79h-1.75zM140.4 322.1h1.75v1.79h-1.75zM140.4 320.3h1.75v1.79h-1.75zM142.1 327.3h1.75v1.79h-1.75zM142.1 323.8h1.75v1.79h-1.75zM145.5 318.6h1.75v1.79h-1.75zM145.5 316.9h1.75v1.79h-1.75zM145.5 315.1h1.75v1.79h-1.75zM147.2 323.8h1.75v1.79h-1.75zM147.2 320.3h1.75v1.79h-1.75zM148.9 316.9h1.75v1.79h-1.75zM148.9 311.7h1.75v1.79h-1.75zM150.6 320.3h1.75v1.79h-1.75zM150.6 316.9h1.75v1.79h-1.75zM150.6 313.4h1.75v1.79h-1.75zM150.6 311.7h1.75v1.79h-1.75zM152.3 315.1h1.75v1.79h-1.75zM152.3 313.4h1.75v1.79h-1.75zM152.3 308.2h1.75v1.79h-1.75zM154.0 315.1h1.75v1.79h-1.75zM157.4 308.2h1.75v1.79h-1.75zM160.8 308.2h1.75v1.79h-1.75z" fill="#06070f"/>
<path d="M36.7 422.7h1.75v1.79h-1.75zM36.7 421.0h1.75v1.79h-1.75zM38.4 421.0h1.75v1.79h-1.75zM40.1 417.5h1.75v1.79h-1.75zM40.1 415.8h1.75v1.79h-1.75zM41.8 415.8h1.75v1.79h-1.75zM43.5 431.4h1.75v1.79h-1.75zM43.5 414.0h1.75v1.79h-1.75zM45.2 429.6h1.75v1.79h-1.75zM46.9 426.2h1.75v1.79h-1.75zM48.6 410.5h1.75v1.79h-1.75zM50.3 426.2h1.75v1.79h-1.75zM50.3 408.8h1.75v1.79h-1.75zM50.3 407.1h1.75v1.79h-1.75zM53.7 424.4h1.75v1.79h-1.75zM53.7 422.7h1.75v1.79h-1.75zM53.7 419.2h1.75v1.79h-1.75zM55.4 417.5h1.75v1.79h-1.75zM57.1 421.0h1.75v1.79h-1.75zM57.1 415.8h1.75v1.79h-1.75zM57.1 401.9h1.75v1.79h-1.75zM58.8 415.8h1.75v1.79h-1.75zM60.5 412.3h1.75v1.79h-1.75zM62.2 412.3h1.75v1.79h-1.75zM62.2 394.9h1.75v1.79h-1.75zM63.9 396.7h1.75v1.79h-1.75zM63.9 394.9h1.75v1.79h-1.75zM63.9 393.2h1.75v1.79h-1.75zM65.6 415.8h1.75v1.79h-1.75zM65.6 408.8h1.75v1.79h-1.75zM65.6 407.1h1.75v1.79h-1.75zM65.6 393.2h1.75v1.79h-1.75zM67.3 408.8h1.75v1.79h-1.75zM67.3 407.1h1.75v1.79h-1.75zM67.3 405.3h1.75v1.79h-1.75zM69.0 405.3h1.75v1.79h-1.75zM69.0 401.9h1.75v1.79h-1.75zM69.0 391.5h1.75v1.79h-1.75zM70.7 403.6h1.75v1.79h-1.75zM70.7 401.9h1.75v1.79h-1.75zM72.4 400.1h1.75v1.79h-1.75zM72.4 388.0h1.75v1.79h-1.75zM74.1 400.1h1.75v1.79h-1.75zM74.1 384.5h1.75v1.79h-1.75zM75.8 400.1h1.75v1.79h-1.75zM75.8 384.5h1.75v1.79h-1.75zM75.8 382.8h1.75v1.79h-1.75zM75.8 381.1h1.75v1.79h-1.75zM80.9 391.5h1.75v1.79h-1.75zM80.9 375.8h1.75v1.79h-1.75zM82.6 389.7h1.75v1.79h-1.75zM82.6 379.3h1.75v1.79h-1.75zM84.3 388.0h1.75v1.79h-1.75zM84.3 375.8h1.75v1.79h-1.75zM86.0 374.1h1.75v1.79h-1.75zM87.7 368.9h1.75v1.79h-1.75zM89.4 381.1h1.75v1.79h-1.75zM91.1 381.1h1.75v1.79h-1.75zM91.1 368.9h1.75v1.79h-1.75zM92.8 379.3h1.75v1.79h-1.75zM92.8 377.6h1.75v1.79h-1.75zM92.8 368.9h1.75v1.79h-1.75zM92.8 365.4h1.75v1.79h-1.75zM94.5 367.2h1.75v1.79h-1.75zM94.5 365.4h1.75v1.79h-1.75zM96.2 375.8h1.75v1.79h-1.75zM96.2 365.4h1.75v1.79h-1.75zM97.9 363.7h1.75v1.79h-1.75zM99.6 372.4h1.75v1.79h-1.75zM99.6 370.6h1.75v1.79h-1.75zM99.6 367.2h1.75v1.79h-1.75zM103.0 367.2h1.75v1.79h-1.75zM103.0 363.7h1.75v1.79h-1.75zM103.0 360.2h1.75v1.79h-1.75zM104.7 358.5h1.75v1.79h-1.75zM106.4 362.0h1.75v1.79h-1.75zM106.4 360.2h1.75v1.79h-1.75zM106.4 356.8h1.75v1.79h-1.75zM108.1 362.0h1.75v1.79h-1.75zM108.1 360.2h1.75v1.79h-1.75zM108.1 355.0h1.75v1.79h-1.75zM109.8 355.0h1.75v1.79h-1.75zM109.8 353.3h1.75v1.79h-1.75zM109.8 348.1h1.75v1.79h-1.75zM111.5 358.5h1.75v1.79h-1.75zM111.5 356.8h1.75v1.79h-1.75zM111.5 349.8h1.75v1.79h-1.75zM113.2 360.2h1.75v1.79h-1.75zM113.2 356.8h1.75v1.79h-1.75zM113.2 349.8h1.75v1.79h-1.75zM113.2 348.1h1.75v1.79h-1.75zM114.9 353.3h1.75v1.79h-1.75zM114.9 351.6h1.75v1.79h-1.75zM114.9 348.1h1.75v1.79h-1.75zM116.6 351.6h1.75v1.79h-1.75zM116.6 342.9h1.75v1.79h-1.75zM118.3 351.6h1.75v1.79h-1.75zM118.3 349.8h1.75v1.79h-1.75zM118.3 348.1h1.75v1.79h-1.75zM120.0 351.6h1.75v1.79h-1.75zM120.0 344.6h1.75v1.79h-1.75zM120.0 341.1h1.75v1.79h-1.75zM121.7 346.4h1.75v1.79h-1.75zM121.7 344.6h1.75v1.79h-1.75zM121.7 342.9h1.75v1.79h-1.75zM121.7 341.1h1.75v1.79h-1.75zM123.4 344.6h1.75v1.79h-1.75zM123.4 341.1h1.75v1.79h-1.75zM126.8 337.7h1.75v1.79h-1.75zM128.5 337.7h1.75v1.79h-1.75zM130.2 334.2h1.75v1.79h-1.75zM131.9 337.7h1.75v1.79h-1.75zM131.9 332.5h1.75v1.79h-1.75zM133.6 334.2h1.75v1.79h-1.75zM133.6 332.5h1.75v1.79h-1.75zM135.3 334.2h1.75v1.79h-1.75zM135.3 332.5h1.75v1.79h-1.75zM135.3 325.5h1.75v1.79h-1.75zM137.0 330.7h1.75v1.79h-1.75zM137.0 327.3h1.75v1.79h-1.75zM137.0 323.8h1.75v1.79h-1.75zM138.7 327.3h1.75v1.79h-1.75zM140.4 325.5h1.75v1.79h-1.75zM140.4 323.8h1.75v1.79h-1.75zM142.1 322.1h1.75v1.79h-1.75zM143.8 323.8h1.75v1.79h-1.75zM143.8 322.1h1.75v1.79h-1.75zM143.8 320.3h1.75v1.79h-1.75zM145.5 320.3h1.75v1.79h-1.75zM147.2 322.1h1.75v1.79h-1.75z" fill="#11152a"/>
<path d="M38.4 422.7h1.75v1.79h-1.75zM41.8 431.4h1.75v1.79h-1.75zM43.5 429.6h1.75v1.79h-1.75zM45.2 414.0h1.75v1.79h-1.75zM46.9 412.3h1.75v1.79h-1.75zM48.6 426.2h1.75v1.79h-1.75zM48.6 424.4h1.75v1.79h-1.75zM52.0 408.8h1.75v1.79h-1.75zM53.7 407.1h1.75v1.79h-1.75zM53.7 405.3h1.75v1.79h-1.75zM55.4 403.6h1.75v1.79h-1.75zM58.8 414.0h1.75v1.79h-1.75zM60.5 400.1h1.75v1.79h-1.75zM62.2 410.5h1.75v1.79h-1.75zM62.2 396.7h1.75v1.79h-1.75zM65.6 394.9h1.75v1.79h-1.75zM69.0 403.6h1.75v1.79h-1.75zM70.7 389.7h1.75v1.79h-1.75zM72.4 398.4h1.75v1.79h-1.75zM74.1 386.3h1.75v1.79h-1.75zM77.5 394.9h1.75v1.79h-1.75zM77.5 384.5h1.75v1.79h-1.75zM77.5 382.8h1.75v1.79h-1.75zM79.2 391.5h1.75v1.79h-1.75zM79.2 384.5h1.75v1.79h-1.75zM80.9 386.3h1.75v1.79h-1.75zM80.9 381.1h1.75v1.79h-1.75zM82.6 386.3h1.75v1.79h-1.75zM82.6 377.6h1.75v1.79h-1.75zM84.3 386.3h1.75v1.79h-1.75zM86.0 382.8h1.75v1.79h-1.75zM87.7 382.8h1.75v1.79h-1.75zM87.7 374.1h1.75v1.79h-1.75zM87.7 372.4h1.75v1.79h-1.75zM89.4 382.8h1.75v1.79h-1.75zM89.4 372.4h1.75v1.79h-1.75zM91.1 379.3h1.75v1.79h-1.75zM91.1 370.6h1.75v1.79h-1.75zM94.5 372.4h1.75v1.79h-1.75zM94.5 368.9h1.75v1.79h-1.75zM96.2 372.4h1.75v1.79h-1.75zM96.2 370.6h1.75v1.79h-1.75zM96.2 368.9h1.75v1.79h-1.75zM96.2 367.2h1.75v1.79h-1.75zM97.9 372.4h1.75v1.79h-1.75zM97.9 367.2h1.75v1.79h-1.75zM97.9 365.4h1.75v1.79h-1.75zM99.6 368.9h1.75v1.79h-1.75zM101.3 367.2h1.75v1.79h-1.75zM101.3 365.4h1.75v1.79h-1.75zM101.3 362.0h1.75v1.79h-1.75zM103.0 365.4h1.75v1.79h-1.75zM103.0 362.0h1.75v1.79h-1.75zM104.7 363.7h1.75v1.79h-1.75zM104.7 360.2h1.75v1.79h-1.75zM104.7 356.8h1.75v1.79h-1.75zM106.4 358.5h1.75v1.79h-1.75zM108.1 358.5h1.75v1.79h-1.75zM108.1 356.8h1.75v1.79h-1.75zM109.8 358.5h1.75v1.79h-1.75zM109.8 356.8h1.75v1.79h-1.75zM109.8 351.6h1.75v1.79h-1.75zM111.5 351.6h1.75v1.79h-1.75zM113.2 355.0h1.75v1.79h-1.75zM113.2 353.3h1.75v1.79h-1.75zM113.2 351.6h1.75v1.79h-1.75zM116.6 349.8h1.75v1.79h-1.75zM120.0 349.8h1.75v1.79h-1.75zM133.6 330.7h1.75v1.79h-1.75zM137.0 329.0h1.75v1.79h-1.75z" fill="#1e274c"/>
<path d="M36.7 424.4h1.75v1.79h-1.75zM40.1 419.2h1.75v1.79h-1.75zM43.5 415.8h1.75v1.79h-1.75zM45.2 427.9h1.75v1.79h-1.75zM45.2 426.2h1.75v1.79h-1.75zM50.3 422.7h1.75v1.79h-1.75zM52.0 421.0h1.75v1.79h-1.75zM57.1 403.6h1.75v1.79h-1.75zM63.9 407.1h1.75v1.79h-1.75zM67.3 393.2h1.75v1.79h-1.75zM74.1 396.7h1.75v1.79h-1.75zM75.8 396.7h1.75v1.79h-1.75zM75.8 386.3h1.75v1.79h-1.75zM77.5 393.2h1.75v1.79h-1.75zM82.6 381.1h1.75v1.79h-1.75zM84.3 379.3h1.75v1.79h-1.75zM87.7 375.8h1.75v1.79h-1.75zM89.4 374.1h1.75v1.79h-1.75zM91.1 377.6h1.75v1.79h-1.75zM91.1 372.4h1.75v1.79h-1.75zM92.8 375.8h1.75v1.79h-1.75zM92.8 372.4h1.75v1.79h-1.75zM92.8 370.6h1.75v1.79h-1.75zM94.5 370.6h1.75v1.79h-1.75zM111.5 355.0h1.75v1.79h-1.75zM111.5 353.3h1.75v1.79h-1.75zM114.9 349.8h1.75v1.79h-1.75zM118.3 346.4h1.75v1.79h-1.75z" fill="#2d4074"/>
<path d="M40.1 431.4h1.75v1.79h-1.75zM40.1 421.0h1.75v1.79h-1.75zM41.8 419.2h1.75v1.79h-1.75zM43.5 417.5h1.75v1.79h-1.75zM45.2 415.8h1.75v1.79h-1.75zM46.9 414.0h1.75v1.79h-1.75zM50.3 421.0h1.75v1.79h-1.75zM55.4 415.8h1.75v1.79h-1.75zM58.8 401.9h1.75v1.79h-1.75zM60.5 410.5h1.75v1.79h-1.75zM62.2 408.8h1.75v1.79h-1.75zM62.2 400.1h1.75v1.79h-1.75zM62.2 398.4h1.75v1.79h-1.75zM63.9 408.8h1.75v1.79h-1.75zM67.3 403.6h1.75v1.79h-1.75zM70.7 400.1h1.75v1.79h-1.75zM74.1 394.9h1.75v1.79h-1.75zM74.1 388.0h1.75v1.79h-1.75zM75.8 394.9h1.75v1.79h-1.75zM75.8 393.2h1.75v1.79h-1.75zM77.5 386.3h1.75v1.79h-1.75zM79.2 388.0h1.75v1.79h-1.75zM80.9 389.7h1.75v1.79h-1.75zM82.6 388.0h1.75v1.79h-1.75zM84.3 384.5h1.75v1.79h-1.75zM86.0 381.1h1.75v1.79h-1.75zM86.0 377.6h1.75v1.79h-1.75zM87.7 381.1h1.75v1.79h-1.75zM87.7 379.3h1.75v1.79h-1.75zM89.4 379.3h1.75v1.79h-1.75zM89.4 375.8h1.75v1.79h-1.75zM91.1 375.8h1.75v1.79h-1.75zM91.1 374.1h1.75v1.79h-1.75zM94.5 374.1h1.75v1.79h-1.75zM99.6 363.7h1.75v1.79h-1.75zM101.3 363.7h1.75v1.79h-1.75zM103.0 358.5h1.75v1.79h-1.75zM104.7 362.0h1.75v1.79h-1.75z" fill="#3a5897"/>
<path d="M41.8 417.5h1.75v1.79h-1.75zM46.9 424.4h1.75v1.79h-1.75zM53.7 417.5h1.75v1.79h-1.75zM58.8 412.3h1.75v1.79h-1.75zM69.0 400.1h1.75v1.79h-1.75zM69.0 394.9h1.75v1.79h-1.75zM69.0 393.2h1.75v1.79h-1.75zM70.7 398.4h1.75v1.79h-1.75zM72.4 389.7h1.75v1.79h-1.75zM74.1 393.2h1.75v1.79h-1.75zM77.5 391.5h1.75v1.79h-1.75zM79.2 386.3h1.75v1.79h-1.75zM80.9 388.0h1.75v1.79h-1.75zM80.9 384.5h1.75v1.79h-1.75zM82.6 382.8h1.75v1.79h-1.75zM89.4 377.6h1.75v1.79h-1.75zM116.6 346.4h1.75v1.79h-1.75z" fill="#36669a"/>
<path d="M38.4 424.4h1.75v1.79h-1.75zM48.6 422.7h1.75v1.79h-1.75zM48.6 421.0h1.75v1.79h-1.75zM48.6 412.3h1.75v1.79h-1.75zM52.0 410.5h1.75v1.79h-1.75zM57.1 414.0h1.75v1.79h-1.75zM65.6 396.7h1.75v1.79h-1.75zM67.3 401.9h1.75v1.79h-1.75zM67.3 394.9h1.75v1.79h-1.75zM72.4 396.7h1.75v1.79h-1.75zM79.2 389.7h1.75v1.79h-1.75zM79.2 382.8h1.75v1.79h-1.75zM80.9 382.8h1.75v1.79h-1.75zM84.3 382.8h1.75v1.79h-1.75zM84.3 381.1h1.75v1.79h-1.75zM86.0 379.3h1.75v1.79h-1.75zM97.9 368.9h1.75v1.79h-1.75zM99.6 365.4h1.75v1.79h-1.75z" fill="#2e7395"/>
<path d="M43.5 427.9h1.75v1.79h-1.75zM45.2 417.5h1.75v1.79h-1.75zM50.3 412.3h1.75v1.79h-1.75zM50.3 410.5h1.75v1.79h-1.75zM52.0 417.5h1.75v1.79h-1.75zM55.4 405.3h1.75v1.79h-1.75zM63.9 398.4h1.75v1.79h-1.75zM70.7 391.5h1.75v1.79h-1.75zM72.4 391.5h1.75v1.79h-1.75zM74.1 389.7h1.75v1.79h-1.75zM75.8 389.7h1.75v1.79h-1.75zM82.6 384.5h1.75v1.79h-1.75zM87.7 377.6h1.75v1.79h-1.75zM92.8 374.1h1.75v1.79h-1.75z" fill="#287f91"/>
<path d="M36.7 426.2h1.75v1.79h-1.75zM40.1 422.7h1.75v1.79h-1.75zM41.8 429.6h1.75v1.79h-1.75zM41.8 427.9h1.75v1.79h-1.75zM46.9 422.7h1.75v1.79h-1.75zM57.1 405.3h1.75v1.79h-1.75zM58.8 410.5h1.75v1.79h-1.75zM58.8 403.6h1.75v1.79h-1.75zM60.5 401.9h1.75v1.79h-1.75zM62.2 407.1h1.75v1.79h-1.75zM65.6 401.9h1.75v1.79h-1.75zM67.3 396.7h1.75v1.79h-1.75zM70.7 396.7h1.75v1.79h-1.75zM75.8 391.5h1.75v1.79h-1.75zM75.8 388.0h1.75v1.79h-1.75z" fill="#23888e"/>
<path d="M38.4 426.2h1.75v1.79h-1.75zM41.8 421.0h1.75v1.79h-1.75zM43.5 419.2h1.75v1.79h-1.75zM46.9 415.8h1.75v1.79h-1.75zM48.6 414.0h1.75v1.79h-1.75zM53.7 415.8h1.75v1.79h-1.75zM57.1 412.3h1.75v1.79h-1.75zM62.2 403.6h1.75v1.79h-1.75zM63.9 405.3h1.75v1.79h-1.75zM63.9 400.1h1.75v1.79h-1.75zM65.6 398.4h1.75v1.79h-1.75zM67.3 398.4h1.75v1.79h-1.75zM70.7 393.2h1.75v1.79h-1.75zM77.5 389.7h1.75v1.79h-1.75z" fill="#20918a"/>
<path d="M40.1 429.6h1.75v1.79h-1.75zM40.1 424.4h1.75v1.79h-1.75zM43.5 424.4h1.75v1.79h-1.75zM52.0 419.2h1.75v1.79h-1.75zM53.7 408.8h1.75v1.79h-1.75zM55.4 414.0h1.75v1.79h-1.75zM55.4 408.8h1.75v1.79h-1.75zM60.5 408.8h1.75v1.79h-1.75zM62.2 401.9h1.75v1.79h-1.75zM67.3 400.1h1.75v1.79h-1.75zM69.0 398.4h1.75v1.79h-1.75zM72.4 393.2h1.75v1.79h-1.75zM74.1 391.5h1.75v1.79h-1.75zM77.5 388.0h1.75v1.79h-1.75z" fill="#2b9c80"/>
<path d="M36.7 429.6h1.75v1.79h-1.75zM43.5 426.2h1.75v1.79h-1.75zM53.7 412.3h1.75v1.79h-1.75zM60.5 407.1h1.75v1.79h-1.75zM60.5 403.6h1.75v1.79h-1.75zM65.6 400.1h1.75v1.79h-1.75zM70.7 394.9h1.75v1.79h-1.75z" fill="#37a775"/>
<path d="M36.7 427.9h1.75v1.79h-1.75zM40.1 427.9h1.75v1.79h-1.75zM46.9 421.0h1.75v1.79h-1.75zM50.3 419.2h1.75v1.79h-1.75zM55.4 407.1h1.75v1.79h-1.75zM57.1 407.1h1.75v1.79h-1.75zM58.8 407.1h1.75v1.79h-1.75zM62.2 405.3h1.75v1.79h-1.75zM63.9 401.9h1.75v1.79h-1.75zM69.0 396.7h1.75v1.79h-1.75z" fill="#50b266"/>
<path d="M38.4 431.4h1.75v1.79h-1.75zM46.9 417.5h1.75v1.79h-1.75zM55.4 412.3h1.75v1.79h-1.75zM60.5 405.3h1.75v1.79h-1.75zM63.9 403.6h1.75v1.79h-1.75zM65.6 403.6h1.75v1.79h-1.75zM72.4 394.9h1.75v1.79h-1.75z" fill="#70bc56"/>
<path d="M38.4 429.6h1.75v1.79h-1.75zM40.1 426.2h1.75v1.79h-1.75zM45.2 422.7h1.75v1.79h-1.75zM52.0 412.3h1.75v1.79h-1.75zM58.8 408.8h1.75v1.79h-1.75zM58.8 405.3h1.75v1.79h-1.75z" fill="#8fc645"/>
<path d="M38.4 427.9h1.75v1.79h-1.75zM45.2 424.4h1.75v1.79h-1.75zM57.1 410.5h1.75v1.79h-1.75z" fill="#afcf34"/>
<path d="M41.8 426.2h1.75v1.79h-1.75zM41.8 424.4h1.75v1.79h-1.75zM43.5 421.0h1.75v1.79h-1.75zM45.2 419.2h1.75v1.79h-1.75zM52.0 415.8h1.75v1.79h-1.75zM53.7 410.5h1.75v1.79h-1.75zM57.1 408.8h1.75v1.79h-1.75z" fill="#cfd724"/>
<path d="M53.7 414.0h1.75v1.79h-1.75z" fill="#e0dc20"/>
<path d="M46.9 419.2h1.75v1.79h-1.75zM48.6 417.5h1.75v1.79h-1.75zM50.3 414.0h1.75v1.79h-1.75zM55.4 410.5h1.75v1.79h-1.75z" fill="#f0e21d"/>
<path d="M41.8 422.7h1.75v1.79h-1.75zM45.2 421.0h1.75v1.79h-1.75zM50.3 417.5h1.75v1.79h-1.75z" fill="#f8e422"/>
<path d="M36.7 431.4h1.75v1.79h-1.75zM50.3 415.8h1.75v1.79h-1.75zM52.0 414.0h1.75v1.79h-1.75z" fill="#f7e52f"/>
<path d="M43.5 422.7h1.75v1.79h-1.75zM48.6 419.2h1.75v1.79h-1.75zM48.6 415.8h1.75v1.79h-1.75z" fill="#f6e640"/>
<path d="M69.00 294.30V433.10M35.00 398.40H171.00M103.00 294.30V433.10M35.00 363.70H171.00M137.00 294.30V433.10M35.00 329.00H171.00" stroke="#8c8c8c" stroke-width="0.7" fill="none"/>
<path d="M35.00 433.07L171.00 296.31" stroke="#b4242a" stroke-width="1.1"/>
<path d="M35.00 433.10L171.00 294.30" stroke="#707070" stroke-width="0.7"/>
</g>
<text x="166.4" y="426.7" font-size="10.5" text-anchor="end" textLength="58.9" lengthAdjust="spacingAndGlyphs" fill="#f0f0f0">WLS200s (g)</text>
<g clip-path="url(#c12)">
<rect x="175" y="294.3" width="136" height="138.8" fill="#000"/>
<path d="M176.7 417.5h1.75v1.79h-1.75zM178.4 417.5h1.75v1.79h-1.75zM178.4 415.8h1.75v1.79h-1.75zM178.4 414.0h1.75v1.79h-1.75zM180.1 412.3h1.75v1.79h-1.75zM180.1 410.5h1.75v1.79h-1.75zM183.5 415.8h1.75v1.79h-1.75zM183.5 414.0h1.75v1.79h-1.75zM185.2 407.1h1.75v1.79h-1.75zM185.2 405.3h1.75v1.79h-1.75zM186.9 408.8h1.75v1.79h-1.75zM188.6 429.6h1.75v1.79h-1.75zM188.6 408.8h1.75v1.79h-1.75zM190.3 431.4h1.75v1.79h-1.75zM190.3 424.4h1.75v1.79h-1.75zM190.3 405.3h1.75v1.79h-1.75zM190.3 403.6h1.75v1.79h-1.75zM190.3 400.1h1.75v1.79h-1.75zM192.0 427.9h1.75v1.79h-1.75zM192.0 403.6h1.75v1.79h-1.75zM192.0 400.1h1.75v1.79h-1.75zM193.7 427.9h1.75v1.79h-1.75zM193.7 421.0h1.75v1.79h-1.75zM195.4 429.6h1.75v1.79h-1.75zM195.4 427.9h1.75v1.79h-1.75zM195.4 426.2h1.75v1.79h-1.75zM195.4 424.4h1.75v1.79h-1.75zM195.4 422.7h1.75v1.79h-1.75zM195.4 421.0h1.75v1.79h-1.75zM197.1 429.6h1.75v1.79h-1.75zM197.1 417.5h1.75v1.79h-1.75zM197.1 400.1h1.75v1.79h-1.75zM197.1 398.4h1.75v1.79h-1.75zM197.1 394.9h1.75v1.79h-1.75zM198.8 422.7h1.75v1.79h-1.75zM198.8 417.5h1.75v1.79h-1.75zM198.8 398.4h1.75v1.79h-1.75zM200.5 415.8h1.75v1.79h-1.75zM200.5 398.4h1.75v1.79h-1.75zM200.5 396.7h1.75v1.79h-1.75zM200.5 394.9h1.75v1.79h-1.75zM202.2 384.5h1.75v1.79h-1.75zM203.9 415.8h1.75v1.79h-1.75zM205.6 415.8h1.75v1.79h-1.75zM205.6 388.0h1.75v1.79h-1.75zM207.3 415.8h1.75v1.79h-1.75zM207.3 410.5h1.75v1.79h-1.75zM207.3 407.1h1.75v1.79h-1.75zM207.3 405.3h1.75v1.79h-1.75zM207.3 391.5h1.75v1.79h-1.75zM209.0 408.8h1.75v1.79h-1.75zM209.0 407.1h1.75v1.79h-1.75zM209.0 391.5h1.75v1.79h-1.75zM210.7 381.1h1.75v1.79h-1.75zM212.4 410.5h1.75v1.79h-1.75zM212.4 386.3h1.75v1.79h-1.75zM212.4 377.6h1.75v1.79h-1.75zM214.1 384.5h1.75v1.79h-1.75zM214.1 375.8h1.75v1.79h-1.75zM215.8 400.1h1.75v1.79h-1.75zM215.8 382.8h1.75v1.79h-1.75zM215.8 381.1h1.75v1.79h-1.75zM215.8 372.4h1.75v1.79h-1.75zM217.5 382.8h1.75v1.79h-1.75zM219.2 379.3h1.75v1.79h-1.75zM219.2 368.9h1.75v1.79h-1.75zM220.9 393.2h1.75v1.79h-1.75zM220.9 372.4h1.75v1.79h-1.75zM224.3 368.9h1.75v1.79h-1.75zM226.0 388.0h1.75v1.79h-1.75zM226.0 374.1h1.75v1.79h-1.75zM226.0 372.4h1.75v1.79h-1.75zM227.7 388.0h1.75v1.79h-1.75zM227.7 386.3h1.75v1.79h-1.75zM229.4 389.7h1.75v1.79h-1.75zM229.4 384.5h1.75v1.79h-1.75zM229.4 370.6h1.75v1.79h-1.75zM229.4 368.9h1.75v1.79h-1.75zM231.1 386.3h1.75v1.79h-1.75zM231.1 381.1h1.75v1.79h-1.75zM232.8 365.4h1.75v1.79h-1.75zM232.8 360.2h1.75v1.79h-1.75zM234.5 377.6h1.75v1.79h-1.75zM234.5 365.4h1.75v1.79h-1.75zM234.5 363.7h1.75v1.79h-1.75zM236.2 367.2h1.75v1.79h-1.75zM236.2 362.0h1.75v1.79h-1.75zM237.9 375.8h1.75v1.79h-1.75zM237.9 362.0h1.75v1.79h-1.75zM237.9 358.5h1.75v1.79h-1.75zM239.6 372.4h1.75v1.79h-1.75zM239.6 362.0h1.75v1.79h-1.75zM239.6 358.5h1.75v1.79h-1.75zM239.6 356.8h1.75v1.79h-1.75zM241.3 370.6h1.75v1.79h-1.75zM241.3 368.9h1.75v1.79h-1.75zM241.3 360.2h1.75v1.79h-1.75zM241.3 358.5h1.75v1.79h-1.75zM241.3 311.7h1.75v1.79h-1.75zM243.0 355.0h1.75v1.79h-1.75zM244.7 365.4h1.75v1.79h-1.75zM244.7 356.8h1.75v1.79h-1.75zM244.7 342.9h1.75v1.79h-1.75zM244.7 316.9h1.75v1.79h-1.75zM244.7 313.4h1.75v1.79h-1.75zM246.4 377.6h1.75v1.79h-1.75zM246.4 315.1h1.75v1.79h-1.75zM246.4 311.7h1.75v1.79h-1.75zM248.1 374.1h1.75v1.79h-1.75zM248.1 360.2h1.75v1.79h-1.75zM248.1 348.1h1.75v1.79h-1.75zM248.1 318.6h1.75v1.79h-1.75zM248.1 311.7h1.75v1.79h-1.75zM248.1 309.9h1.75v1.79h-1.75zM249.8 365.4h1.75v1.79h-1.75zM249.8 351.6h1.75v1.79h-1.75zM249.8 320.3h1.75v1.79h-1.75zM249.8 318.6h1.75v1.79h-1.75zM251.5 363.7h1.75v1.79h-1.75zM251.5 356.8h1.75v1.79h-1.75zM251.5 349.8h1.75v1.79h-1.75zM251.5 313.4h1.75v1.79h-1.75zM251.5 311.7h1.75v1.79h-1.75zM253.2 358.5h1.75v1.79h-1.75zM253.2 356.8h1.75v1.79h-1.75zM253.2 353.3h1.75v1.79h-1.75zM253.2 341.1h1.75v1.79h-1.75zM253.2 339.4h1.75v1.79h-1.75zM254.9 344.6h1.75v1.79h-1.75zM254.9 342.9h1.75v1.79h-1.75zM254.9 332.5h1.75v1.79h-1.75zM256.6 353.3h1.75v1.79h-1.75zM256.6 344.6h1.75v1.79h-1.75zM258.3 353.3h1.75v1.79h-1.75zM258.3 346.4h1.75v1.79h-1.75zM261.7 349.8h1.75v1.79h-1.75zM261.7 348.1h1.75v1.79h-1.75zM261.7 341.1h1.75v1.79h-1.75zM263.4 348.1h1.75v1.79h-1.75zM263.4 346.4h1.75v1.79h-1.75zM263.4 342.9h1.75v1.79h-1.75zM263.4 339.4h1.75v1.79h-1.75zM263.4 337.7h1.75v1.79h-1.75zM263.4 329.0h1.75v1.79h-1.75zM265.1 348.1h1.75v1.79h-1.75zM265.1 341.1h1.75v1.79h-1.75zM265.1 335.9h1.75v1.79h-1.75zM265.1 334.2h1.75v1.79h-1.75zM266.8 342.9h1.75v1.79h-1.75zM266.8 341.1h1.75v1.79h-1.75zM266.8 339.4h1.75v1.79h-1.75zM266.8 337.7h1.75v1.79h-1.75zM268.5 344.6h1.75v1.79h-1.75zM268.5 342.9h1.75v1.79h-1.75zM268.5 337.7h1.75v1.79h-1.75zM268.5 332.5h1.75v1.79h-1.75zM268.5 330.7h1.75v1.79h-1.75zM270.2 327.3h1.75v1.79h-1.75zM271.9 339.4h1.75v1.79h-1.75zM271.9 337.7h1.75v1.79h-1.75zM271.9 335.9h1.75v1.79h-1.75zM271.9 332.5h1.75v1.79h-1.75zM273.6 339.4h1.75v1.79h-1.75zM273.6 330.7h1.75v1.79h-1.75zM273.6 329.0h1.75v1.79h-1.75zM273.6 327.3h1.75v1.79h-1.75zM273.6 325.5h1.75v1.79h-1.75zM275.3 335.9h1.75v1.79h-1.75zM275.3 334.2h1.75v1.79h-1.75zM277.0 332.5h1.75v1.79h-1.75zM277.0 329.0h1.75v1.79h-1.75zM277.0 316.9h1.75v1.79h-1.75zM278.7 342.9h1.75v1.79h-1.75zM278.7 337.7h1.75v1.79h-1.75zM278.7 322.1h1.75v1.79h-1.75zM282.1 327.3h1.75v1.79h-1.75zM282.1 325.5h1.75v1.79h-1.75zM282.1 322.1h1.75v1.79h-1.75zM282.1 320.3h1.75v1.79h-1.75zM282.1 313.4h1.75v1.79h-1.75zM283.8 327.3h1.75v1.79h-1.75zM283.8 325.5h1.75v1.79h-1.75zM283.8 323.8h1.75v1.79h-1.75zM283.8 318.6h1.75v1.79h-1.75zM285.5 332.5h1.75v1.79h-1.75zM285.5 322.1h1.75v1.79h-1.75zM285.5 320.3h1.75v1.79h-1.75zM285.5 318.6h1.75v1.79h-1.75zM287.2 327.3h1.75v1.79h-1.75zM287.2 323.8h1.75v1.79h-1.75zM287.2 320.3h1.75v1.79h-1.75zM287.2 315.1h1.75v1.79h-1.75zM287.2 306.4h1.75v1.79h-1.75zM288.9 318.6h1.75v1.79h-1.75zM288.9 316.9h1.75v1.79h-1.75zM290.6 311.7h1.75v1.79h-1.75zM290.6 306.4h1.75v1.79h-1.75zM292.3 311.7h1.75v1.79h-1.75zM292.3 309.9h1.75v1.79h-1.75zM294.0 322.1h1.75v1.79h-1.75zM294.0 316.9h1.75v1.79h-1.75zM294.0 308.2h1.75v1.79h-1.75zM295.7 311.7h1.75v1.79h-1.75zM295.7 308.2h1.75v1.79h-1.75zM297.4 311.7h1.75v1.79h-1.75zM297.4 309.9h1.75v1.79h-1.75zM297.4 308.2h1.75v1.79h-1.75zM297.4 304.7h1.75v1.79h-1.75zM297.4 303.0h1.75v1.79h-1.75zM297.4 299.5h1.75v1.79h-1.75zM299.1 311.7h1.75v1.79h-1.75zM299.1 306.4h1.75v1.79h-1.75zM299.1 304.7h1.75v1.79h-1.75zM300.8 301.2h1.75v1.79h-1.75zM302.5 308.2h1.75v1.79h-1.75zM302.5 306.4h1.75v1.79h-1.75zM302.5 304.7h1.75v1.79h-1.75zM302.5 299.5h1.75v1.79h-1.75zM302.5 296.0h1.75v1.79h-1.75zM304.2 301.2h1.75v1.79h-1.75zM305.9 299.5h1.75v1.79h-1.75z" fill="#06070f"/>
<path d="M176.7 422.7h1.75v1.79h-1.75zM176.7 421.0h1.75v1.79h-1.75zM176.7 419.2h1.75v1.79h-1.75zM180.1 419.2h1.75v1.79h-1.75zM180.1 417.5h1.75v1.79h-1.75zM180.1 415.8h1.75v1.79h-1.75zM181.8 408.8h1.75v1.79h-1.75zM183.5 431.4h1.75v1.79h-1.75zM185.2 431.4h1.75v1.79h-1.75zM185.2 414.0h1.75v1.79h-1.75zM185.2 412.3h1.75v1.79h-1.75zM186.9 431.4h1.75v1.79h-1.75zM186.9 427.9h1.75v1.79h-1.75zM186.9 412.3h1.75v1.79h-1.75zM188.6 427.9h1.75v1.79h-1.75zM188.6 405.3h1.75v1.79h-1.75zM192.0 424.4h1.75v1.79h-1.75zM192.0 422.7h1.75v1.79h-1.75zM192.0 408.8h1.75v1.79h-1.75zM192.0 401.9h1.75v1.79h-1.75zM193.7 405.3h1.75v1.79h-1.75zM193.7 401.9h1.75v1.79h-1.75zM195.4 403.6h1.75v1.79h-1.75zM195.4 401.9h1.75v1.79h-1.75zM197.1 419.2h1.75v1.79h-1.75zM197.1 415.8h1.75v1.79h-1.75zM200.5 414.0h1.75v1.79h-1.75zM202.2 417.5h1.75v1.79h-1.75zM202.2 414.0h1.75v1.79h-1.75zM202.2 412.3h1.75v1.79h-1.75zM202.2 398.4h1.75v1.79h-1.75zM202.2 396.7h1.75v1.79h-1.75zM203.9 410.5h1.75v1.79h-1.75zM203.9 396.7h1.75v1.79h-1.75zM203.9 394.9h1.75v1.79h-1.75zM203.9 393.2h1.75v1.79h-1.75zM205.6 408.8h1.75v1.79h-1.75zM205.6 407.1h1.75v1.79h-1.75zM205.6 394.9h1.75v1.79h-1.75zM205.6 393.2h1.75v1.79h-1.75zM205.6 391.5h1.75v1.79h-1.75zM205.6 389.7h1.75v1.79h-1.75zM207.3 412.3h1.75v1.79h-1.75zM207.3 408.8h1.75v1.79h-1.75zM207.3 393.2h1.75v1.79h-1.75zM207.3 389.7h1.75v1.79h-1.75zM207.3 388.0h1.75v1.79h-1.75zM209.0 405.3h1.75v1.79h-1.75zM209.0 403.6h1.75v1.79h-1.75zM210.7 403.6h1.75v1.79h-1.75zM210.7 389.7h1.75v1.79h-1.75zM210.7 386.3h1.75v1.79h-1.75zM212.4 388.0h1.75v1.79h-1.75zM214.1 400.1h1.75v1.79h-1.75zM214.1 398.4h1.75v1.79h-1.75zM214.1 382.8h1.75v1.79h-1.75zM215.8 398.4h1.75v1.79h-1.75zM215.8 386.3h1.75v1.79h-1.75zM217.5 396.7h1.75v1.79h-1.75zM217.5 381.1h1.75v1.79h-1.75zM219.2 393.2h1.75v1.79h-1.75zM219.2 381.1h1.75v1.79h-1.75zM220.9 389.7h1.75v1.79h-1.75zM220.9 388.0h1.75v1.79h-1.75zM220.9 379.3h1.75v1.79h-1.75zM222.6 389.7h1.75v1.79h-1.75zM222.6 374.1h1.75v1.79h-1.75zM224.3 389.7h1.75v1.79h-1.75zM224.3 388.0h1.75v1.79h-1.75zM224.3 377.6h1.75v1.79h-1.75zM224.3 375.8h1.75v1.79h-1.75zM226.0 384.5h1.75v1.79h-1.75zM227.7 384.5h1.75v1.79h-1.75zM227.7 372.4h1.75v1.79h-1.75zM229.4 382.8h1.75v1.79h-1.75zM229.4 374.1h1.75v1.79h-1.75zM229.4 372.4h1.75v1.79h-1.75zM231.1 382.8h1.75v1.79h-1.75zM231.1 379.3h1.75v1.79h-1.75zM231.1 372.4h1.75v1.79h-1.75zM232.8 370.6h1.75v1.79h-1.75zM232.8 368.9h1.75v1.79h-1.75zM232.8 363.7h1.75v1.79h-1.75zM234.5 374.1h1.75v1.79h-1.75zM234.5 372.4h1.75v1.79h-1.75zM236.2 365.4h1.75v1.79h-1.75zM237.9 374.1h1.75v1.79h-1.75zM239.6 370.6h1.75v1.79h-1.75zM239.6 365.4h1.75v1.79h-1.75zM241.3 365.4h1.75v1.79h-1.75zM243.0 367.2h1.75v1.79h-1.75zM243.0 365.4h1.75v1.79h-1.75zM243.0 360.2h1.75v1.79h-1.75zM243.0 358.5h1.75v1.79h-1.75zM243.0 356.8h1.75v1.79h-1.75zM244.7 355.0h1.75v1.79h-1.75zM246.4 363.7h1.75v1.79h-1.75zM246.4 362.0h1.75v1.79h-1.75zM246.4 360.2h1.75v1.79h-1.75zM246.4 356.8h1.75v1.79h-1.75zM246.4 355.0h1.75v1.79h-1.75zM248.1 362.0h1.75v1.79h-1.75zM248.1 358.5h1.75v1.79h-1.75zM248.1 353.3h1.75v1.79h-1.75zM249.8 358.5h1.75v1.79h-1.75zM249.8 353.3h1.75v1.79h-1.75zM251.5 355.0h1.75v1.79h-1.75zM251.5 351.6h1.75v1.79h-1.75zM251.5 344.6h1.75v1.79h-1.75zM251.5 309.9h1.75v1.79h-1.75zM253.2 355.0h1.75v1.79h-1.75zM253.2 351.6h1.75v1.79h-1.75zM253.2 348.1h1.75v1.79h-1.75zM254.9 355.0h1.75v1.79h-1.75zM254.9 353.3h1.75v1.79h-1.75zM254.9 349.8h1.75v1.79h-1.75zM254.9 346.4h1.75v1.79h-1.75zM256.6 355.0h1.75v1.79h-1.75zM256.6 348.1h1.75v1.79h-1.75zM256.6 346.4h1.75v1.79h-1.75zM256.6 339.4h1.75v1.79h-1.75zM258.3 351.6h1.75v1.79h-1.75zM258.3 349.8h1.75v1.79h-1.75zM258.3 344.6h1.75v1.79h-1.75zM260.0 346.4h1.75v1.79h-1.75zM260.0 344.6h1.75v1.79h-1.75zM260.0 342.9h1.75v1.79h-1.75zM260.0 341.1h1.75v1.79h-1.75zM261.7 342.9h1.75v1.79h-1.75zM261.7 339.4h1.75v1.79h-1.75zM263.4 344.6h1.75v1.79h-1.75zM263.4 341.1h1.75v1.79h-1.75zM265.1 344.6h1.75v1.79h-1.75zM265.1 339.4h1.75v1.79h-1.75zM266.8 334.2h1.75v1.79h-1.75zM268.5 341.1h1.75v1.79h-1.75zM268.5 335.9h1.75v1.79h-1.75zM270.2 341.1h1.75v1.79h-1.75zM270.2 337.7h1.75v1.79h-1.75zM270.2 335.9h1.75v1.79h-1.75zM270.2 332.5h1.75v1.79h-1.75zM271.9 334.2h1.75v1.79h-1.75zM271.9 330.7h1.75v1.79h-1.75zM271.9 327.3h1.75v1.79h-1.75zM273.6 335.9h1.75v1.79h-1.75zM273.6 334.2h1.75v1.79h-1.75zM275.3 332.5h1.75v1.79h-1.75zM275.3 330.7h1.75v1.79h-1.75zM277.0 327.3h1.75v1.79h-1.75zM278.7 329.0h1.75v1.79h-1.75zM278.7 327.3h1.75v1.79h-1.75zM280.4 327.3h1.75v1.79h-1.75zM280.4 325.5h1.75v1.79h-1.75zM280.4 323.8h1.75v1.79h-1.75zM285.5 315.1h1.75v1.79h-1.75zM287.2 318.6h1.75v1.79h-1.75zM287.2 313.4h1.75v1.79h-1.75zM290.6 316.9h1.75v1.79h-1.75zM294.0 315.1h1.75v1.79h-1.75zM294.0 311.7h1.75v1.79h-1.75zM295.7 309.9h1.75v1.79h-1.75zM295.7 306.4h1.75v1.79h-1.75zM297.4 306.4h1.75v1.79h-1.75zM300.8 303.0h1.75v1.79h-1.75z" fill="#11152a"/>
<path d="M181.8 419.2h1.75v1.79h-1.75zM183.5 429.6h1.75v1.79h-1.75zM183.5 419.2h1.75v1.79h-1.75zM185.2 427.9h1.75v1.79h-1.75zM188.6 426.2h1.75v1.79h-1.75zM190.3 408.8h1.75v1.79h-1.75zM193.7 407.1h1.75v1.79h-1.75zM195.4 419.2h1.75v1.79h-1.75zM195.4 417.5h1.75v1.79h-1.75zM198.8 415.8h1.75v1.79h-1.75zM198.8 414.0h1.75v1.79h-1.75zM198.8 401.9h1.75v1.79h-1.75zM200.5 412.3h1.75v1.79h-1.75zM202.2 410.5h1.75v1.79h-1.75zM207.3 394.9h1.75v1.79h-1.75zM209.0 393.2h1.75v1.79h-1.75zM210.7 401.9h1.75v1.79h-1.75zM210.7 388.0h1.75v1.79h-1.75zM212.4 400.1h1.75v1.79h-1.75zM214.1 396.7h1.75v1.79h-1.75zM214.1 386.3h1.75v1.79h-1.75zM215.8 396.7h1.75v1.79h-1.75zM215.8 394.9h1.75v1.79h-1.75zM215.8 384.5h1.75v1.79h-1.75zM219.2 391.5h1.75v1.79h-1.75zM219.2 389.7h1.75v1.79h-1.75zM220.9 386.3h1.75v1.79h-1.75zM222.6 388.0h1.75v1.79h-1.75zM222.6 379.3h1.75v1.79h-1.75zM224.3 386.3h1.75v1.79h-1.75zM226.0 386.3h1.75v1.79h-1.75zM227.7 382.8h1.75v1.79h-1.75zM227.7 381.1h1.75v1.79h-1.75zM227.7 377.6h1.75v1.79h-1.75zM227.7 374.1h1.75v1.79h-1.75zM229.4 381.1h1.75v1.79h-1.75zM231.1 375.8h1.75v1.79h-1.75zM231.1 370.6h1.75v1.79h-1.75zM232.8 377.6h1.75v1.79h-1.75zM232.8 374.1h1.75v1.79h-1.75zM234.5 367.2h1.75v1.79h-1.75zM236.2 374.1h1.75v1.79h-1.75zM237.9 370.6h1.75v1.79h-1.75zM237.9 368.9h1.75v1.79h-1.75zM237.9 365.4h1.75v1.79h-1.75zM239.6 368.9h1.75v1.79h-1.75zM239.6 363.7h1.75v1.79h-1.75zM241.3 363.7h1.75v1.79h-1.75zM241.3 362.0h1.75v1.79h-1.75zM243.0 363.7h1.75v1.79h-1.75zM243.0 362.0h1.75v1.79h-1.75zM244.7 363.7h1.75v1.79h-1.75zM244.7 362.0h1.75v1.79h-1.75zM246.4 358.5h1.75v1.79h-1.75zM248.1 356.8h1.75v1.79h-1.75zM249.8 356.8h1.75v1.79h-1.75zM249.8 355.0h1.75v1.79h-1.75zM254.9 351.6h1.75v1.79h-1.75zM256.6 351.6h1.75v1.79h-1.75zM256.6 349.8h1.75v1.79h-1.75zM258.3 348.1h1.75v1.79h-1.75zM261.7 344.6h1.75v1.79h-1.75zM265.1 342.9h1.75v1.79h-1.75zM266.8 335.9h1.75v1.79h-1.75zM275.3 329.0h1.75v1.79h-1.75zM275.3 327.3h1.75v1.79h-1.75zM278.7 325.5h1.75v1.79h-1.75zM283.8 322.1h1.75v1.79h-1.75zM283.8 320.3h1.75v1.79h-1.75z" fill="#1e274c"/>
<path d="M176.7 424.4h1.75v1.79h-1.75zM178.4 422.7h1.75v1.79h-1.75zM178.4 421.0h1.75v1.79h-1.75zM181.8 417.5h1.75v1.79h-1.75zM181.8 415.8h1.75v1.79h-1.75zM183.5 417.5h1.75v1.79h-1.75zM185.2 429.6h1.75v1.79h-1.75zM185.2 415.8h1.75v1.79h-1.75zM188.6 410.5h1.75v1.79h-1.75zM190.3 422.7h1.75v1.79h-1.75zM190.3 410.5h1.75v1.79h-1.75zM192.0 407.1h1.75v1.79h-1.75zM195.4 405.3h1.75v1.79h-1.75zM197.1 403.6h1.75v1.79h-1.75zM198.8 400.1h1.75v1.79h-1.75zM207.3 403.6h1.75v1.79h-1.75zM209.0 401.9h1.75v1.79h-1.75zM210.7 400.1h1.75v1.79h-1.75zM210.7 391.5h1.75v1.79h-1.75zM212.4 398.4h1.75v1.79h-1.75zM212.4 394.9h1.75v1.79h-1.75zM212.4 389.7h1.75v1.79h-1.75zM217.5 394.9h1.75v1.79h-1.75zM217.5 393.2h1.75v1.79h-1.75zM219.2 388.0h1.75v1.79h-1.75zM219.2 382.8h1.75v1.79h-1.75zM220.9 381.1h1.75v1.79h-1.75zM222.6 384.5h1.75v1.79h-1.75zM222.6 382.8h1.75v1.79h-1.75zM224.3 379.3h1.75v1.79h-1.75zM226.0 377.6h1.75v1.79h-1.75zM226.0 375.8h1.75v1.79h-1.75zM229.4 377.6h1.75v1.79h-1.75zM232.8 375.8h1.75v1.79h-1.75zM234.5 370.6h1.75v1.79h-1.75zM234.5 368.9h1.75v1.79h-1.75zM244.7 360.2h1.75v1.79h-1.75zM253.2 349.8h1.75v1.79h-1.75zM261.7 346.4h1.75v1.79h-1.75zM277.0 325.5h1.75v1.79h-1.75z" fill="#2d4074"/>
<path d="M181.8 431.4h1.75v1.79h-1.75zM188.6 424.4h1.75v1.79h-1.75zM192.0 421.0h1.75v1.79h-1.75zM193.7 417.5h1.75v1.79h-1.75zM198.8 412.3h1.75v1.79h-1.75zM202.2 400.1h1.75v1.79h-1.75zM203.9 408.8h1.75v1.79h-1.75zM203.9 398.4h1.75v1.79h-1.75zM209.0 394.9h1.75v1.79h-1.75zM210.7 393.2h1.75v1.79h-1.75zM212.4 391.5h1.75v1.79h-1.75zM214.1 389.7h1.75v1.79h-1.75zM214.1 388.0h1.75v1.79h-1.75zM215.8 393.2h1.75v1.79h-1.75zM215.8 388.0h1.75v1.79h-1.75zM217.5 391.5h1.75v1.79h-1.75zM220.9 384.5h1.75v1.79h-1.75zM222.6 381.1h1.75v1.79h-1.75zM226.0 382.8h1.75v1.79h-1.75zM227.7 375.8h1.75v1.79h-1.75zM229.4 379.3h1.75v1.79h-1.75zM231.1 377.6h1.75v1.79h-1.75zM231.1 374.1h1.75v1.79h-1.75zM232.8 372.4h1.75v1.79h-1.75zM236.2 372.4h1.75v1.79h-1.75zM236.2 370.6h1.75v1.79h-1.75zM237.9 367.2h1.75v1.79h-1.75zM239.6 367.2h1.75v1.79h-1.75z" fill="#3a5897"/>
<path d="M181.8 429.6h1.75v1.79h-1.75zM186.9 426.2h1.75v1.79h-1.75zM186.9 415.8h1.75v1.79h-1.75zM186.9 414.0h1.75v1.79h-1.75zM188.6 422.7h1.75v1.79h-1.75zM193.7 419.2h1.75v1.79h-1.75zM195.4 415.8h1.75v1.79h-1.75zM195.4 407.1h1.75v1.79h-1.75zM197.1 414.0h1.75v1.79h-1.75zM202.2 408.8h1.75v1.79h-1.75zM205.6 405.3h1.75v1.79h-1.75zM205.6 396.7h1.75v1.79h-1.75zM209.0 400.1h1.75v1.79h-1.75zM214.1 391.5h1.75v1.79h-1.75zM217.5 388.0h1.75v1.79h-1.75zM217.5 384.5h1.75v1.79h-1.75zM219.2 386.3h1.75v1.79h-1.75zM219.2 384.5h1.75v1.79h-1.75zM224.3 384.5h1.75v1.79h-1.75zM229.4 375.8h1.75v1.79h-1.75zM236.2 368.9h1.75v1.79h-1.75z" fill="#36669a"/>
<path d="M178.4 424.4h1.75v1.79h-1.75zM185.2 417.5h1.75v1.79h-1.75zM188.6 414.0h1.75v1.79h-1.75zM190.3 421.0h1.75v1.79h-1.75zM193.7 408.8h1.75v1.79h-1.75zM198.8 403.6h1.75v1.79h-1.75zM200.5 400.1h1.75v1.79h-1.75zM203.9 405.3h1.75v1.79h-1.75zM215.8 389.7h1.75v1.79h-1.75zM217.5 389.7h1.75v1.79h-1.75zM220.9 382.8h1.75v1.79h-1.75zM222.6 386.3h1.75v1.79h-1.75zM226.0 379.3h1.75v1.79h-1.75zM227.7 379.3h1.75v1.79h-1.75z" fill="#2e7395"/>
<path d="M180.1 422.7h1.75v1.79h-1.75zM180.1 421.0h1.75v1.79h-1.75zM185.2 426.2h1.75v1.79h-1.75zM186.9 424.4h1.75v1.79h-1.75zM188.6 412.3h1.75v1.79h-1.75zM190.3 412.3h1.75v1.79h-1.75zM200.5 410.5h1.75v1.79h-1.75zM200.5 408.8h1.75v1.79h-1.75zM203.9 407.1h1.75v1.79h-1.75zM205.6 398.4h1.75v1.79h-1.75zM207.3 401.9h1.75v1.79h-1.75zM207.3 398.4h1.75v1.79h-1.75zM207.3 396.7h1.75v1.79h-1.75zM209.0 398.4h1.75v1.79h-1.75zM210.7 396.7h1.75v1.79h-1.75zM212.4 396.7h1.75v1.79h-1.75zM214.1 394.9h1.75v1.79h-1.75zM224.3 382.8h1.75v1.79h-1.75zM224.3 381.1h1.75v1.79h-1.75zM226.0 381.1h1.75v1.79h-1.75z" fill="#287f91"/>
<path d="M183.5 427.9h1.75v1.79h-1.75zM192.0 419.2h1.75v1.79h-1.75zM192.0 410.5h1.75v1.79h-1.75zM197.1 408.8h1.75v1.79h-1.75zM197.1 405.3h1.75v1.79h-1.75zM198.8 410.5h1.75v1.79h-1.75zM202.2 407.1h1.75v1.79h-1.75zM202.2 401.9h1.75v1.79h-1.75zM210.7 398.4h1.75v1.79h-1.75zM212.4 393.2h1.75v1.79h-1.75zM214.1 393.2h1.75v1.79h-1.75zM215.8 391.5h1.75v1.79h-1.75z" fill="#23888e"/>
<path d="M176.7 426.2h1.75v1.79h-1.75zM197.1 412.3h1.75v1.79h-1.75zM198.8 405.3h1.75v1.79h-1.75zM200.5 403.6h1.75v1.79h-1.75zM200.5 401.9h1.75v1.79h-1.75zM202.2 405.3h1.75v1.79h-1.75zM205.6 403.6h1.75v1.79h-1.75zM209.0 396.7h1.75v1.79h-1.75zM210.7 394.9h1.75v1.79h-1.75zM217.5 386.3h1.75v1.79h-1.75z" fill="#20918a"/>
<path d="M180.1 431.4h1.75v1.79h-1.75zM181.8 421.0h1.75v1.79h-1.75zM190.3 419.2h1.75v1.79h-1.75zM200.5 407.1h1.75v1.79h-1.75zM203.9 403.6h1.75v1.79h-1.75z" fill="#2b9c80"/>
<path d="M180.1 429.6h1.75v1.79h-1.75zM180.1 424.4h1.75v1.79h-1.75zM181.8 427.9h1.75v1.79h-1.75zM186.9 422.7h1.75v1.79h-1.75zM186.9 417.5h1.75v1.79h-1.75zM192.0 412.3h1.75v1.79h-1.75zM197.1 410.5h1.75v1.79h-1.75zM200.5 405.3h1.75v1.79h-1.75zM207.3 400.1h1.75v1.79h-1.75z" fill="#37a775"/>
<path d="M183.5 426.2h1.75v1.79h-1.75zM190.3 414.0h1.75v1.79h-1.75zM195.4 414.0h1.75v1.79h-1.75zM195.4 408.8h1.75v1.79h-1.75zM197.1 407.1h1.75v1.79h-1.75zM198.8 408.8h1.75v1.79h-1.75zM202.2 403.6h1.75v1.79h-1.75zM203.9 400.1h1.75v1.79h-1.75z" fill="#50b266"/>
<path d="M188.6 415.8h1.75v1.79h-1.75zM192.0 417.5h1.75v1.79h-1.75zM205.6 401.9h1.75v1.79h-1.75zM205.6 400.1h1.75v1.79h-1.75z" fill="#70bc56"/>
<path d="M181.8 426.2h1.75v1.79h-1.75zM188.6 419.2h1.75v1.79h-1.75zM192.0 415.8h1.75v1.79h-1.75zM192.0 414.0h1.75v1.79h-1.75zM193.7 415.8h1.75v1.79h-1.75zM193.7 414.0h1.75v1.79h-1.75zM195.4 410.5h1.75v1.79h-1.75zM198.8 407.1h1.75v1.79h-1.75zM203.9 401.9h1.75v1.79h-1.75z" fill="#8fc645"/>
<path d="M176.7 429.6h1.75v1.79h-1.75zM176.7 427.9h1.75v1.79h-1.75zM178.4 431.4h1.75v1.79h-1.75zM180.1 427.9h1.75v1.79h-1.75zM185.2 419.2h1.75v1.79h-1.75zM188.6 421.0h1.75v1.79h-1.75z" fill="#afcf34"/>
<path d="M178.4 427.9h1.75v1.79h-1.75zM178.4 426.2h1.75v1.79h-1.75zM181.8 422.7h1.75v1.79h-1.75zM185.2 424.4h1.75v1.79h-1.75zM193.7 410.5h1.75v1.79h-1.75zM195.4 412.3h1.75v1.79h-1.75z" fill="#cfd724"/>
<path d="M180.1 426.2h1.75v1.79h-1.75zM181.8 424.4h1.75v1.79h-1.75zM183.5 422.7h1.75v1.79h-1.75zM185.2 421.0h1.75v1.79h-1.75zM190.3 415.8h1.75v1.79h-1.75z" fill="#e0dc20"/>
<path d="M186.9 419.2h1.75v1.79h-1.75zM188.6 417.5h1.75v1.79h-1.75zM190.3 417.5h1.75v1.79h-1.75zM193.7 412.3h1.75v1.79h-1.75z" fill="#f0e21d"/>
<path d="M183.5 421.0h1.75v1.79h-1.75zM185.2 422.7h1.75v1.79h-1.75zM186.9 421.0h1.75v1.79h-1.75z" fill="#f8e422"/>
<path d="M178.4 429.6h1.75v1.79h-1.75z" fill="#f5ea7c"/>
<path d="M176.7 431.4h1.75v1.79h-1.75zM183.5 424.4h1.75v1.79h-1.75z" fill="#f4eec4"/>
<path d="M209.00 294.30V433.10M175.00 398.40H311.00M243.00 294.30V433.10M175.00 363.70H311.00M277.00 294.30V433.10M175.00 329.00H311.00" stroke="#8c8c8c" stroke-width="0.7" fill="none"/>
<path d="M175.00 433.80L311.00 295.37" stroke="#b4242a" stroke-width="1.1"/>
<path d="M175.00 433.10L311.00 294.30" stroke="#707070" stroke-width="0.7"/>
</g>
<text x="306.4" y="426.7" font-size="10.5" text-anchor="end" textLength="42.7" lengthAdjust="spacingAndGlyphs" fill="#f0f0f0">WTX (h)</text>
<g clip-path="url(#c22)">
<rect x="315" y="294.3" width="136" height="138.8" fill="#000"/>
<path d="M316.7 421.0h1.75v1.79h-1.75zM318.4 417.5h1.75v1.79h-1.75zM318.4 414.0h1.75v1.79h-1.75zM318.4 408.8h1.75v1.79h-1.75zM320.1 421.0h1.75v1.79h-1.75zM320.1 417.5h1.75v1.79h-1.75zM320.1 415.8h1.75v1.79h-1.75zM320.1 407.1h1.75v1.79h-1.75zM320.1 388.0h1.75v1.79h-1.75zM321.8 415.8h1.75v1.79h-1.75zM321.8 410.5h1.75v1.79h-1.75zM321.8 408.8h1.75v1.79h-1.75zM323.5 429.6h1.75v1.79h-1.75zM323.5 417.5h1.75v1.79h-1.75zM323.5 414.0h1.75v1.79h-1.75zM325.2 429.6h1.75v1.79h-1.75zM325.2 427.9h1.75v1.79h-1.75zM325.2 412.3h1.75v1.79h-1.75zM325.2 410.5h1.75v1.79h-1.75zM326.9 427.9h1.75v1.79h-1.75zM326.9 410.5h1.75v1.79h-1.75zM328.6 429.6h1.75v1.79h-1.75zM328.6 427.9h1.75v1.79h-1.75zM328.6 426.2h1.75v1.79h-1.75zM328.6 408.8h1.75v1.79h-1.75zM328.6 407.1h1.75v1.79h-1.75zM328.6 400.1h1.75v1.79h-1.75zM330.3 421.0h1.75v1.79h-1.75zM330.3 407.1h1.75v1.79h-1.75zM330.3 403.6h1.75v1.79h-1.75zM332.0 431.4h1.75v1.79h-1.75zM332.0 429.6h1.75v1.79h-1.75zM332.0 427.9h1.75v1.79h-1.75zM332.0 424.4h1.75v1.79h-1.75zM332.0 408.8h1.75v1.79h-1.75zM333.7 429.6h1.75v1.79h-1.75zM333.7 422.7h1.75v1.79h-1.75zM333.7 400.1h1.75v1.79h-1.75zM335.4 419.2h1.75v1.79h-1.75zM335.4 400.1h1.75v1.79h-1.75zM335.4 394.9h1.75v1.79h-1.75zM337.1 419.2h1.75v1.79h-1.75zM337.1 398.4h1.75v1.79h-1.75zM337.1 394.9h1.75v1.79h-1.75zM337.1 377.6h1.75v1.79h-1.75zM338.8 419.2h1.75v1.79h-1.75zM338.8 415.8h1.75v1.79h-1.75zM338.8 398.4h1.75v1.79h-1.75zM340.5 415.8h1.75v1.79h-1.75zM340.5 400.1h1.75v1.79h-1.75zM340.5 396.7h1.75v1.79h-1.75zM340.5 391.5h1.75v1.79h-1.75zM342.2 410.5h1.75v1.79h-1.75zM343.9 410.5h1.75v1.79h-1.75zM343.9 389.7h1.75v1.79h-1.75zM345.6 410.5h1.75v1.79h-1.75zM345.6 408.8h1.75v1.79h-1.75zM345.6 407.1h1.75v1.79h-1.75zM345.6 405.3h1.75v1.79h-1.75zM345.6 393.2h1.75v1.79h-1.75zM345.6 389.7h1.75v1.79h-1.75zM347.3 408.8h1.75v1.79h-1.75zM347.3 391.5h1.75v1.79h-1.75zM347.3 389.7h1.75v1.79h-1.75zM349.0 407.1h1.75v1.79h-1.75zM350.7 408.8h1.75v1.79h-1.75zM350.7 401.9h1.75v1.79h-1.75zM350.7 388.0h1.75v1.79h-1.75zM350.7 384.5h1.75v1.79h-1.75zM352.4 405.3h1.75v1.79h-1.75zM352.4 389.7h1.75v1.79h-1.75zM352.4 388.0h1.75v1.79h-1.75zM352.4 386.3h1.75v1.79h-1.75zM352.4 384.5h1.75v1.79h-1.75zM352.4 374.1h1.75v1.79h-1.75zM354.1 386.3h1.75v1.79h-1.75zM354.1 382.8h1.75v1.79h-1.75zM355.8 398.4h1.75v1.79h-1.75zM355.8 382.8h1.75v1.79h-1.75zM359.2 394.9h1.75v1.79h-1.75zM359.2 382.8h1.75v1.79h-1.75zM360.9 391.5h1.75v1.79h-1.75zM360.9 381.1h1.75v1.79h-1.75zM360.9 379.3h1.75v1.79h-1.75zM360.9 377.6h1.75v1.79h-1.75zM362.6 370.6h1.75v1.79h-1.75zM364.3 391.5h1.75v1.79h-1.75zM364.3 386.3h1.75v1.79h-1.75zM364.3 374.1h1.75v1.79h-1.75zM366.0 388.0h1.75v1.79h-1.75zM366.0 374.1h1.75v1.79h-1.75zM367.7 360.2h1.75v1.79h-1.75zM369.4 382.8h1.75v1.79h-1.75zM369.4 368.9h1.75v1.79h-1.75zM369.4 365.4h1.75v1.79h-1.75zM371.1 381.1h1.75v1.79h-1.75zM371.1 379.3h1.75v1.79h-1.75zM371.1 372.4h1.75v1.79h-1.75zM371.1 370.6h1.75v1.79h-1.75zM372.8 379.3h1.75v1.79h-1.75zM372.8 367.2h1.75v1.79h-1.75zM374.5 377.6h1.75v1.79h-1.75zM374.5 365.4h1.75v1.79h-1.75zM376.2 374.1h1.75v1.79h-1.75zM376.2 360.2h1.75v1.79h-1.75zM377.9 374.1h1.75v1.79h-1.75zM377.9 372.4h1.75v1.79h-1.75zM377.9 368.9h1.75v1.79h-1.75zM379.6 375.8h1.75v1.79h-1.75zM379.6 374.1h1.75v1.79h-1.75zM379.6 372.4h1.75v1.79h-1.75zM379.6 370.6h1.75v1.79h-1.75zM379.6 368.9h1.75v1.79h-1.75zM379.6 363.7h1.75v1.79h-1.75zM379.6 362.0h1.75v1.79h-1.75zM381.3 368.9h1.75v1.79h-1.75zM381.3 367.2h1.75v1.79h-1.75zM381.3 363.7h1.75v1.79h-1.75zM381.3 356.8h1.75v1.79h-1.75zM383.0 360.2h1.75v1.79h-1.75zM383.0 358.5h1.75v1.79h-1.75zM384.7 365.4h1.75v1.79h-1.75zM384.7 363.7h1.75v1.79h-1.75zM386.4 365.4h1.75v1.79h-1.75zM388.1 362.0h1.75v1.79h-1.75zM388.1 353.3h1.75v1.79h-1.75zM389.8 351.6h1.75v1.79h-1.75zM391.5 368.9h1.75v1.79h-1.75zM391.5 362.0h1.75v1.79h-1.75zM391.5 360.2h1.75v1.79h-1.75zM391.5 358.5h1.75v1.79h-1.75zM391.5 355.0h1.75v1.79h-1.75zM391.5 349.8h1.75v1.79h-1.75zM391.5 348.1h1.75v1.79h-1.75zM393.2 363.7h1.75v1.79h-1.75zM393.2 356.8h1.75v1.79h-1.75zM393.2 353.3h1.75v1.79h-1.75zM393.2 351.6h1.75v1.79h-1.75zM393.2 337.7h1.75v1.79h-1.75zM394.9 353.3h1.75v1.79h-1.75zM394.9 348.1h1.75v1.79h-1.75zM394.9 337.7h1.75v1.79h-1.75zM396.6 353.3h1.75v1.79h-1.75zM398.3 342.9h1.75v1.79h-1.75zM400.0 351.6h1.75v1.79h-1.75zM400.0 348.1h1.75v1.79h-1.75zM400.0 342.9h1.75v1.79h-1.75zM400.0 337.7h1.75v1.79h-1.75zM401.7 351.6h1.75v1.79h-1.75zM401.7 348.1h1.75v1.79h-1.75zM401.7 346.4h1.75v1.79h-1.75zM401.7 344.6h1.75v1.79h-1.75zM401.7 339.4h1.75v1.79h-1.75zM403.4 348.1h1.75v1.79h-1.75zM403.4 339.4h1.75v1.79h-1.75zM403.4 335.9h1.75v1.79h-1.75zM405.1 344.6h1.75v1.79h-1.75zM405.1 342.9h1.75v1.79h-1.75zM405.1 339.4h1.75v1.79h-1.75zM406.8 348.1h1.75v1.79h-1.75zM406.8 344.6h1.75v1.79h-1.75zM406.8 337.7h1.75v1.79h-1.75zM408.5 341.1h1.75v1.79h-1.75zM408.5 339.4h1.75v1.79h-1.75zM408.5 334.2h1.75v1.79h-1.75zM408.5 332.5h1.75v1.79h-1.75zM410.2 334.2h1.75v1.79h-1.75zM411.9 339.4h1.75v1.79h-1.75zM411.9 337.7h1.75v1.79h-1.75zM411.9 335.9h1.75v1.79h-1.75zM411.9 330.7h1.75v1.79h-1.75zM413.6 337.7h1.75v1.79h-1.75zM413.6 330.7h1.75v1.79h-1.75zM413.6 327.3h1.75v1.79h-1.75zM415.3 337.7h1.75v1.79h-1.75zM415.3 334.2h1.75v1.79h-1.75zM415.3 332.5h1.75v1.79h-1.75zM415.3 327.3h1.75v1.79h-1.75zM417.0 334.2h1.75v1.79h-1.75zM418.7 330.7h1.75v1.79h-1.75zM418.7 329.0h1.75v1.79h-1.75zM418.7 325.5h1.75v1.79h-1.75zM418.7 323.8h1.75v1.79h-1.75zM420.4 330.7h1.75v1.79h-1.75zM420.4 322.1h1.75v1.79h-1.75zM422.1 322.1h1.75v1.79h-1.75zM422.1 320.3h1.75v1.79h-1.75zM422.1 316.9h1.75v1.79h-1.75zM423.8 325.5h1.75v1.79h-1.75zM423.8 322.1h1.75v1.79h-1.75zM423.8 320.3h1.75v1.79h-1.75zM423.8 318.6h1.75v1.79h-1.75zM427.2 318.6h1.75v1.79h-1.75zM427.2 316.9h1.75v1.79h-1.75zM428.9 322.1h1.75v1.79h-1.75zM428.9 320.3h1.75v1.79h-1.75zM428.9 315.1h1.75v1.79h-1.75zM428.9 313.4h1.75v1.79h-1.75zM430.6 316.9h1.75v1.79h-1.75zM430.6 313.4h1.75v1.79h-1.75zM430.6 311.7h1.75v1.79h-1.75zM430.6 306.4h1.75v1.79h-1.75zM432.3 320.3h1.75v1.79h-1.75zM434.0 313.4h1.75v1.79h-1.75zM434.0 309.9h1.75v1.79h-1.75zM435.7 311.7h1.75v1.79h-1.75zM435.7 306.4h1.75v1.79h-1.75zM437.4 313.4h1.75v1.79h-1.75zM437.4 311.7h1.75v1.79h-1.75zM437.4 309.9h1.75v1.79h-1.75zM439.1 311.7h1.75v1.79h-1.75zM439.1 309.9h1.75v1.79h-1.75zM439.1 304.7h1.75v1.79h-1.75zM439.1 303.0h1.75v1.79h-1.75zM440.8 311.7h1.75v1.79h-1.75zM440.8 309.9h1.75v1.79h-1.75zM440.8 306.4h1.75v1.79h-1.75zM440.8 303.0h1.75v1.79h-1.75zM440.8 301.2h1.75v1.79h-1.75zM442.5 309.9h1.75v1.79h-1.75zM442.5 306.4h1.75v1.79h-1.75zM442.5 299.5h1.75v1.79h-1.75zM444.2 308.2h1.75v1.79h-1.75zM444.2 301.2h1.75v1.79h-1.75zM444.2 299.5h1.75v1.79h-1.75zM444.2 296.0h1.75v1.79h-1.75zM445.9 303.0h1.75v1.79h-1.75zM445.9 301.2h1.75v1.79h-1.75z" fill="#06070f"/>
<path d="M316.7 419.2h1.75v1.79h-1.75zM316.7 417.5h1.75v1.79h-1.75zM318.4 422.7h1.75v1.79h-1.75zM321.8 431.4h1.75v1.79h-1.75zM321.8 419.2h1.75v1.79h-1.75zM321.8 417.5h1.75v1.79h-1.75zM323.5 431.4h1.75v1.79h-1.75zM323.5 415.8h1.75v1.79h-1.75zM325.2 431.4h1.75v1.79h-1.75zM325.2 407.1h1.75v1.79h-1.75zM326.9 426.2h1.75v1.79h-1.75zM326.9 415.8h1.75v1.79h-1.75zM328.6 424.4h1.75v1.79h-1.75zM328.6 412.3h1.75v1.79h-1.75zM328.6 410.5h1.75v1.79h-1.75zM330.3 424.4h1.75v1.79h-1.75zM330.3 422.7h1.75v1.79h-1.75zM330.3 410.5h1.75v1.79h-1.75zM332.0 421.0h1.75v1.79h-1.75zM332.0 419.2h1.75v1.79h-1.75zM332.0 417.5h1.75v1.79h-1.75zM332.0 407.1h1.75v1.79h-1.75zM333.7 424.4h1.75v1.79h-1.75zM333.7 421.0h1.75v1.79h-1.75zM333.7 405.3h1.75v1.79h-1.75zM333.7 403.6h1.75v1.79h-1.75zM335.4 415.8h1.75v1.79h-1.75zM335.4 405.3h1.75v1.79h-1.75zM335.4 401.9h1.75v1.79h-1.75zM337.1 417.5h1.75v1.79h-1.75zM337.1 415.8h1.75v1.79h-1.75zM337.1 414.0h1.75v1.79h-1.75zM337.1 403.6h1.75v1.79h-1.75zM337.1 401.9h1.75v1.79h-1.75zM338.8 414.0h1.75v1.79h-1.75zM338.8 403.6h1.75v1.79h-1.75zM338.8 400.1h1.75v1.79h-1.75zM340.5 398.4h1.75v1.79h-1.75zM343.9 408.8h1.75v1.79h-1.75zM345.6 415.8h1.75v1.79h-1.75zM345.6 412.3h1.75v1.79h-1.75zM345.6 394.9h1.75v1.79h-1.75zM347.3 405.3h1.75v1.79h-1.75zM347.3 403.6h1.75v1.79h-1.75zM347.3 394.9h1.75v1.79h-1.75zM349.0 408.8h1.75v1.79h-1.75zM349.0 391.5h1.75v1.79h-1.75zM349.0 389.7h1.75v1.79h-1.75zM350.7 405.3h1.75v1.79h-1.75zM350.7 403.6h1.75v1.79h-1.75zM350.7 398.4h1.75v1.79h-1.75zM350.7 391.5h1.75v1.79h-1.75zM352.4 401.9h1.75v1.79h-1.75zM352.4 400.1h1.75v1.79h-1.75zM352.4 398.4h1.75v1.79h-1.75zM354.1 400.1h1.75v1.79h-1.75zM354.1 398.4h1.75v1.79h-1.75zM354.1 396.7h1.75v1.79h-1.75zM354.1 389.7h1.75v1.79h-1.75zM354.1 388.0h1.75v1.79h-1.75zM354.1 384.5h1.75v1.79h-1.75zM357.5 393.2h1.75v1.79h-1.75zM357.5 384.5h1.75v1.79h-1.75zM357.5 382.8h1.75v1.79h-1.75zM359.2 391.5h1.75v1.79h-1.75zM359.2 389.7h1.75v1.79h-1.75zM359.2 381.1h1.75v1.79h-1.75zM360.9 389.7h1.75v1.79h-1.75zM360.9 388.0h1.75v1.79h-1.75zM362.6 388.0h1.75v1.79h-1.75zM362.6 386.3h1.75v1.79h-1.75zM362.6 379.3h1.75v1.79h-1.75zM364.3 388.0h1.75v1.79h-1.75zM364.3 384.5h1.75v1.79h-1.75zM364.3 379.3h1.75v1.79h-1.75zM364.3 377.6h1.75v1.79h-1.75zM366.0 377.6h1.75v1.79h-1.75zM366.0 375.8h1.75v1.79h-1.75zM367.7 382.8h1.75v1.79h-1.75zM367.7 377.6h1.75v1.79h-1.75zM367.7 374.1h1.75v1.79h-1.75zM369.4 384.5h1.75v1.79h-1.75zM369.4 381.1h1.75v1.79h-1.75zM369.4 379.3h1.75v1.79h-1.75zM369.4 370.6h1.75v1.79h-1.75zM371.1 375.8h1.75v1.79h-1.75zM371.1 374.1h1.75v1.79h-1.75zM371.1 368.9h1.75v1.79h-1.75zM372.8 377.6h1.75v1.79h-1.75zM372.8 375.8h1.75v1.79h-1.75zM372.8 370.6h1.75v1.79h-1.75zM374.5 372.4h1.75v1.79h-1.75zM374.5 370.6h1.75v1.79h-1.75zM374.5 368.9h1.75v1.79h-1.75zM376.2 368.9h1.75v1.79h-1.75zM376.2 367.2h1.75v1.79h-1.75zM377.9 370.6h1.75v1.79h-1.75zM381.3 362.0h1.75v1.79h-1.75zM381.3 360.2h1.75v1.79h-1.75zM383.0 365.4h1.75v1.79h-1.75zM383.0 363.7h1.75v1.79h-1.75zM383.0 362.0h1.75v1.79h-1.75zM384.7 358.5h1.75v1.79h-1.75zM386.4 362.0h1.75v1.79h-1.75zM386.4 360.2h1.75v1.79h-1.75zM388.1 360.2h1.75v1.79h-1.75zM389.8 358.5h1.75v1.79h-1.75zM389.8 356.8h1.75v1.79h-1.75zM389.8 353.3h1.75v1.79h-1.75zM391.5 356.8h1.75v1.79h-1.75zM393.2 355.0h1.75v1.79h-1.75zM393.2 349.8h1.75v1.79h-1.75zM394.9 355.0h1.75v1.79h-1.75zM396.6 348.1h1.75v1.79h-1.75zM398.3 351.6h1.75v1.79h-1.75zM398.3 349.8h1.75v1.79h-1.75zM398.3 348.1h1.75v1.79h-1.75zM398.3 344.6h1.75v1.79h-1.75zM400.0 346.4h1.75v1.79h-1.75zM400.0 344.6h1.75v1.79h-1.75zM401.7 342.9h1.75v1.79h-1.75zM401.7 341.1h1.75v1.79h-1.75zM403.4 344.6h1.75v1.79h-1.75zM403.4 342.9h1.75v1.79h-1.75zM406.8 335.9h1.75v1.79h-1.75zM408.5 342.9h1.75v1.79h-1.75zM410.2 337.7h1.75v1.79h-1.75zM410.2 335.9h1.75v1.79h-1.75zM411.9 332.5h1.75v1.79h-1.75zM413.6 334.2h1.75v1.79h-1.75zM413.6 332.5h1.75v1.79h-1.75zM417.0 332.5h1.75v1.79h-1.75zM417.0 330.7h1.75v1.79h-1.75zM417.0 329.0h1.75v1.79h-1.75zM418.7 327.3h1.75v1.79h-1.75zM423.8 323.8h1.75v1.79h-1.75zM425.5 323.8h1.75v1.79h-1.75zM425.5 320.3h1.75v1.79h-1.75zM427.2 322.1h1.75v1.79h-1.75zM427.2 320.3h1.75v1.79h-1.75zM428.9 316.9h1.75v1.79h-1.75zM430.6 315.1h1.75v1.79h-1.75zM432.3 315.1h1.75v1.79h-1.75zM435.7 309.9h1.75v1.79h-1.75zM435.7 308.2h1.75v1.79h-1.75zM437.4 308.2h1.75v1.79h-1.75zM437.4 306.4h1.75v1.79h-1.75zM439.1 308.2h1.75v1.79h-1.75zM440.8 308.2h1.75v1.79h-1.75zM440.8 304.7h1.75v1.79h-1.75zM442.5 303.0h1.75v1.79h-1.75zM444.2 303.0h1.75v1.79h-1.75zM444.2 297.8h1.75v1.79h-1.75zM445.9 299.5h1.75v1.79h-1.75zM445.9 297.8h1.75v1.79h-1.75zM447.6 297.8h1.75v1.79h-1.75z" fill="#11152a"/>
<path d="M316.7 424.4h1.75v1.79h-1.75zM316.7 422.7h1.75v1.79h-1.75zM318.4 424.4h1.75v1.79h-1.75zM323.5 427.9h1.75v1.79h-1.75zM325.2 424.4h1.75v1.79h-1.75zM325.2 415.8h1.75v1.79h-1.75zM326.9 424.4h1.75v1.79h-1.75zM326.9 414.0h1.75v1.79h-1.75zM326.9 412.3h1.75v1.79h-1.75zM332.0 405.3h1.75v1.79h-1.75zM335.4 417.5h1.75v1.79h-1.75zM337.1 405.3h1.75v1.79h-1.75zM338.8 401.9h1.75v1.79h-1.75zM340.5 410.5h1.75v1.79h-1.75zM340.5 408.8h1.75v1.79h-1.75zM340.5 403.6h1.75v1.79h-1.75zM342.2 400.1h1.75v1.79h-1.75zM342.2 398.4h1.75v1.79h-1.75zM343.9 398.4h1.75v1.79h-1.75zM343.9 396.7h1.75v1.79h-1.75zM343.9 394.9h1.75v1.79h-1.75zM345.6 403.6h1.75v1.79h-1.75zM345.6 396.7h1.75v1.79h-1.75zM347.3 401.9h1.75v1.79h-1.75zM347.3 393.2h1.75v1.79h-1.75zM349.0 401.9h1.75v1.79h-1.75zM349.0 394.9h1.75v1.79h-1.75zM349.0 393.2h1.75v1.79h-1.75zM350.7 393.2h1.75v1.79h-1.75zM350.7 389.7h1.75v1.79h-1.75zM352.4 394.9h1.75v1.79h-1.75zM354.1 394.9h1.75v1.79h-1.75zM354.1 391.5h1.75v1.79h-1.75zM355.8 393.2h1.75v1.79h-1.75zM357.5 391.5h1.75v1.79h-1.75zM357.5 389.7h1.75v1.79h-1.75zM362.6 381.1h1.75v1.79h-1.75zM364.3 382.8h1.75v1.79h-1.75zM367.7 381.1h1.75v1.79h-1.75zM367.7 375.8h1.75v1.79h-1.75zM372.8 374.1h1.75v1.79h-1.75zM374.5 374.1h1.75v1.79h-1.75zM376.2 372.4h1.75v1.79h-1.75zM377.9 365.4h1.75v1.79h-1.75zM379.6 365.4h1.75v1.79h-1.75zM381.3 365.4h1.75v1.79h-1.75zM388.1 358.5h1.75v1.79h-1.75zM389.8 355.0h1.75v1.79h-1.75zM391.5 353.3h1.75v1.79h-1.75zM394.9 351.6h1.75v1.79h-1.75zM394.9 349.8h1.75v1.79h-1.75zM396.6 351.6h1.75v1.79h-1.75zM396.6 349.8h1.75v1.79h-1.75zM403.4 341.1h1.75v1.79h-1.75zM408.5 337.7h1.75v1.79h-1.75zM408.5 335.9h1.75v1.79h-1.75zM410.2 332.5h1.75v1.79h-1.75zM420.4 327.3h1.75v1.79h-1.75zM422.1 327.3h1.75v1.79h-1.75zM422.1 325.5h1.75v1.79h-1.75zM425.5 322.1h1.75v1.79h-1.75zM432.3 316.9h1.75v1.79h-1.75z" fill="#1e274c"/>
<path d="M318.4 421.0h1.75v1.79h-1.75zM320.1 422.7h1.75v1.79h-1.75zM321.8 429.6h1.75v1.79h-1.75zM325.2 426.2h1.75v1.79h-1.75zM325.2 422.7h1.75v1.79h-1.75zM326.9 417.5h1.75v1.79h-1.75zM328.6 422.7h1.75v1.79h-1.75zM328.6 421.0h1.75v1.79h-1.75zM328.6 414.0h1.75v1.79h-1.75zM330.3 412.3h1.75v1.79h-1.75zM333.7 417.5h1.75v1.79h-1.75zM333.7 415.8h1.75v1.79h-1.75zM333.7 410.5h1.75v1.79h-1.75zM333.7 407.1h1.75v1.79h-1.75zM335.4 407.1h1.75v1.79h-1.75zM338.8 412.3h1.75v1.79h-1.75zM338.8 410.5h1.75v1.79h-1.75zM338.8 408.8h1.75v1.79h-1.75zM340.5 401.9h1.75v1.79h-1.75zM342.2 408.8h1.75v1.79h-1.75zM342.2 405.3h1.75v1.79h-1.75zM343.9 407.1h1.75v1.79h-1.75zM347.3 398.4h1.75v1.79h-1.75zM347.3 396.7h1.75v1.79h-1.75zM349.0 398.4h1.75v1.79h-1.75zM350.7 400.1h1.75v1.79h-1.75zM352.4 396.7h1.75v1.79h-1.75zM352.4 393.2h1.75v1.79h-1.75zM355.8 391.5h1.75v1.79h-1.75zM355.8 388.0h1.75v1.79h-1.75zM357.5 386.3h1.75v1.79h-1.75zM362.6 384.5h1.75v1.79h-1.75zM362.6 382.8h1.75v1.79h-1.75zM366.0 382.8h1.75v1.79h-1.75zM366.0 379.3h1.75v1.79h-1.75zM369.4 377.6h1.75v1.79h-1.75zM369.4 375.8h1.75v1.79h-1.75zM372.8 372.4h1.75v1.79h-1.75zM376.2 370.6h1.75v1.79h-1.75zM379.6 367.2h1.75v1.79h-1.75zM384.7 362.0h1.75v1.79h-1.75zM388.1 356.8h1.75v1.79h-1.75zM411.9 334.2h1.75v1.79h-1.75zM420.4 325.5h1.75v1.79h-1.75z" fill="#2d4074"/>
<path d="M320.1 431.4h1.75v1.79h-1.75zM321.8 427.9h1.75v1.79h-1.75zM326.9 422.7h1.75v1.79h-1.75zM335.4 412.3h1.75v1.79h-1.75zM337.1 407.1h1.75v1.79h-1.75zM343.9 401.9h1.75v1.79h-1.75zM345.6 400.1h1.75v1.79h-1.75zM347.3 400.1h1.75v1.79h-1.75zM349.0 396.7h1.75v1.79h-1.75zM350.7 396.7h1.75v1.79h-1.75zM350.7 394.9h1.75v1.79h-1.75zM354.1 393.2h1.75v1.79h-1.75zM355.8 386.3h1.75v1.79h-1.75zM359.2 384.5h1.75v1.79h-1.75zM360.9 386.3h1.75v1.79h-1.75zM360.9 384.5h1.75v1.79h-1.75zM367.7 379.3h1.75v1.79h-1.75zM369.4 374.1h1.75v1.79h-1.75zM377.9 367.2h1.75v1.79h-1.75zM384.7 360.2h1.75v1.79h-1.75zM386.4 358.5h1.75v1.79h-1.75z" fill="#3a5897"/>
<path d="M316.7 427.9h1.75v1.79h-1.75zM316.7 426.2h1.75v1.79h-1.75zM320.1 429.6h1.75v1.79h-1.75zM321.8 421.0h1.75v1.79h-1.75zM323.5 426.2h1.75v1.79h-1.75zM323.5 419.2h1.75v1.79h-1.75zM328.6 417.5h1.75v1.79h-1.75zM330.3 419.2h1.75v1.79h-1.75zM330.3 414.0h1.75v1.79h-1.75zM332.0 415.8h1.75v1.79h-1.75zM333.7 408.8h1.75v1.79h-1.75zM335.4 414.0h1.75v1.79h-1.75zM335.4 408.8h1.75v1.79h-1.75zM337.1 412.3h1.75v1.79h-1.75zM337.1 410.5h1.75v1.79h-1.75zM338.8 407.1h1.75v1.79h-1.75zM343.9 403.6h1.75v1.79h-1.75zM345.6 401.9h1.75v1.79h-1.75zM345.6 398.4h1.75v1.79h-1.75zM349.0 400.1h1.75v1.79h-1.75zM352.4 391.5h1.75v1.79h-1.75zM359.2 388.0h1.75v1.79h-1.75zM359.2 386.3h1.75v1.79h-1.75zM360.9 382.8h1.75v1.79h-1.75zM364.3 381.1h1.75v1.79h-1.75zM366.0 381.1h1.75v1.79h-1.75z" fill="#36669a"/>
<path d="M318.4 431.4h1.75v1.79h-1.75zM318.4 426.2h1.75v1.79h-1.75zM325.2 417.5h1.75v1.79h-1.75zM326.9 421.0h1.75v1.79h-1.75zM330.3 417.5h1.75v1.79h-1.75zM330.3 415.8h1.75v1.79h-1.75zM332.0 410.5h1.75v1.79h-1.75zM338.8 405.3h1.75v1.79h-1.75zM343.9 405.3h1.75v1.79h-1.75zM343.9 400.1h1.75v1.79h-1.75zM357.5 388.0h1.75v1.79h-1.75z" fill="#2e7395"/>
<path d="M321.8 424.4h1.75v1.79h-1.75zM325.2 419.2h1.75v1.79h-1.75zM326.9 419.2h1.75v1.79h-1.75zM332.0 414.0h1.75v1.79h-1.75zM332.0 412.3h1.75v1.79h-1.75zM335.4 410.5h1.75v1.79h-1.75zM340.5 405.3h1.75v1.79h-1.75zM342.2 401.9h1.75v1.79h-1.75zM355.8 389.7h1.75v1.79h-1.75z" fill="#287f91"/>
<path d="M318.4 427.9h1.75v1.79h-1.75zM320.1 427.9h1.75v1.79h-1.75zM321.8 426.2h1.75v1.79h-1.75zM321.8 422.7h1.75v1.79h-1.75zM323.5 424.4h1.75v1.79h-1.75zM323.5 422.7h1.75v1.79h-1.75zM328.6 415.8h1.75v1.79h-1.75zM342.2 407.1h1.75v1.79h-1.75z" fill="#23888e"/>
<path d="M316.7 429.6h1.75v1.79h-1.75zM318.4 429.6h1.75v1.79h-1.75zM320.1 424.4h1.75v1.79h-1.75zM323.5 421.0h1.75v1.79h-1.75zM325.2 421.0h1.75v1.79h-1.75zM328.6 419.2h1.75v1.79h-1.75zM333.7 414.0h1.75v1.79h-1.75zM333.7 412.3h1.75v1.79h-1.75zM340.5 407.1h1.75v1.79h-1.75zM342.2 403.6h1.75v1.79h-1.75z" fill="#20918a"/>
<path d="M320.1 426.2h1.75v1.79h-1.75zM337.1 408.8h1.75v1.79h-1.75z" fill="#2b9c80"/>
<path d="M316.7 431.4h1.75v1.79h-1.75z" fill="#37a775"/>
<path d="M349.00 294.30V433.10M315.00 398.40H451.00M383.00 294.30V433.10M315.00 363.70H451.00M417.00 294.30V433.10M315.00 329.00H451.00" stroke="#8c8c8c" stroke-width="0.7" fill="none"/>
<path d="M315.00 433.00L451.00 296.75" stroke="#b4242a" stroke-width="1.1"/>
<path d="M315.00 433.10L451.00 294.30" stroke="#707070" stroke-width="0.7"/>
</g>
<text x="446.4" y="426.7" font-size="10.5" text-anchor="end" textLength="95" lengthAdjust="spacingAndGlyphs" fill="#f0f0f0">StreamLine XR+ (i)</text>
<text x="31" y="436.5" font-size="10" text-anchor="end">0</text>
<text x="31" y="401.8" font-size="10" text-anchor="end">10</text>
<text x="31" y="367.1" font-size="10" text-anchor="end">20</text>
<text x="31" y="332.4" font-size="10" text-anchor="end">30</text>
<text transform="translate(13.2 363.7) rotate(-90)" font-size="10.3" text-anchor="middle" textLength="73" lengthAdjust="spacingAndGlyphs">Lidar ff in m s<tspan dy="-3.6" font-size="7">−1</tspan></text>
<text x="35.0" y="443.6" font-size="10" text-anchor="middle">0</text>
<text x="69.0" y="443.6" font-size="10" text-anchor="middle">10</text>
<text x="103.0" y="443.6" font-size="10" text-anchor="middle">20</text>
<text x="137.0" y="443.6" font-size="10" text-anchor="middle">30</text>
<text x="102.4" y="459.6" font-size="10.3" text-anchor="middle" textLength="102" lengthAdjust="spacingAndGlyphs">Radiosonde ff in m s<tspan dy="-3.6" font-size="7">−1</tspan></text>
<text x="175.0" y="443.6" font-size="10" text-anchor="middle">0</text>
<text x="209.0" y="443.6" font-size="10" text-anchor="middle">10</text>
<text x="243.0" y="443.6" font-size="10" text-anchor="middle">20</text>
<text x="277.0" y="443.6" font-size="10" text-anchor="middle">30</text>
<text x="242.4" y="459.6" font-size="10.3" text-anchor="middle" textLength="102" lengthAdjust="spacingAndGlyphs">Radiosonde ff in m s<tspan dy="-3.6" font-size="7">−1</tspan></text>
<text x="315.0" y="443.6" font-size="10" text-anchor="middle">0</text>
<text x="349.0" y="443.6" font-size="10" text-anchor="middle">10</text>
<text x="383.0" y="443.6" font-size="10" text-anchor="middle">20</text>
<text x="417.0" y="443.6" font-size="10" text-anchor="middle">30</text>
<text x="451.0" y="443.6" font-size="10" text-anchor="middle">40</text>
<text x="382.4" y="459.6" font-size="10.3" text-anchor="middle" textLength="102" lengthAdjust="spacingAndGlyphs">Radiosonde ff in m s<tspan dy="-3.6" font-size="7">−1</tspan></text>
<rect x="455" y="15.4" width="12.8" height="125" fill="url(#g1)" stroke="#8c8c8c" stroke-width="0.7"/>
<text x="471" y="143.8" font-size="10">0</text>
<text x="471" y="112.6" font-size="10">2</text>
<path d="M455.6 109.2h11.6" stroke="#fff" stroke-opacity="0.4" stroke-width="0.6" stroke-dasharray="3 2.2"/>
<text x="471" y="81.3" font-size="10">4</text>
<path d="M455.6 77.9h11.6" stroke="#fff" stroke-opacity="0.4" stroke-width="0.6" stroke-dasharray="3 2.2"/>
<text x="471" y="50.1" font-size="10">6</text>
<path d="M455.6 46.7h11.6" stroke="#fff" stroke-opacity="0.4" stroke-width="0.6" stroke-dasharray="3 2.2"/>
<text x="471" y="18.8" font-size="10">8</text>
<text transform="translate(493.7 77.9) rotate(-90)" font-size="10.3" text-anchor="middle" textLength="127.5" lengthAdjust="spacingAndGlyphs">Radiosonde distance in km</text>
<rect x="455" y="158.5" width="12.8" height="125.1" fill="url(#g2)" stroke="#8c8c8c" stroke-width="0.7"/>
<text x="471" y="287.0" font-size="10">−2</text>
<text x="471" y="255.7" font-size="10">−1</text>
<path d="M455.6 252.3h11.6" stroke="#fff" stroke-opacity="0.4" stroke-width="0.6" stroke-dasharray="3 2.2"/>
<text x="471" y="224.5" font-size="10">0</text>
<path d="M455.6 221.1h11.6" stroke="#fff" stroke-opacity="0.4" stroke-width="0.6" stroke-dasharray="3 2.2"/>
<text x="471" y="193.2" font-size="10">1</text>
<path d="M455.6 189.8h11.6" stroke="#fff" stroke-opacity="0.4" stroke-width="0.6" stroke-dasharray="3 2.2"/>
<text x="471" y="161.9" font-size="10">2</text>
<text transform="translate(493.7 221.1) rotate(-90)" font-size="10.3" text-anchor="middle" textLength="49" lengthAdjust="spacingAndGlyphs">w in m s<tspan dy="-3.6" font-size="7">−1</tspan></text>
<rect x="455" y="301.3" width="12.8" height="124.7" fill="url(#g3)" stroke="#8c8c8c" stroke-width="0.7"/>
<text x="471" y="429.4" font-size="10">0</text>
<text x="471" y="404.5" font-size="10">10</text>
<path d="M455.6 401.1h11.6" stroke="#fff" stroke-opacity="0.4" stroke-width="0.6" stroke-dasharray="3 2.2"/>
<text x="471" y="379.5" font-size="10">20</text>
<path d="M455.6 376.1h11.6" stroke="#fff" stroke-opacity="0.4" stroke-width="0.6" stroke-dasharray="3 2.2"/>
<text x="471" y="354.6" font-size="10">30</text>
<path d="M455.6 351.2h11.6" stroke="#fff" stroke-opacity="0.4" stroke-width="0.6" stroke-dasharray="3 2.2"/>
<text x="471" y="329.6" font-size="10">40</text>
<path d="M455.6 326.2h11.6" stroke="#fff" stroke-opacity="0.4" stroke-width="0.6" stroke-dasharray="3 2.2"/>
<text x="471" y="304.7" font-size="10">50</text>
<text transform="translate(493.7 363.6) rotate(-90)" font-size="10.3" text-anchor="middle" textLength="51.5" lengthAdjust="spacingAndGlyphs">Occurrence</text>
</svg>
</body></html>
